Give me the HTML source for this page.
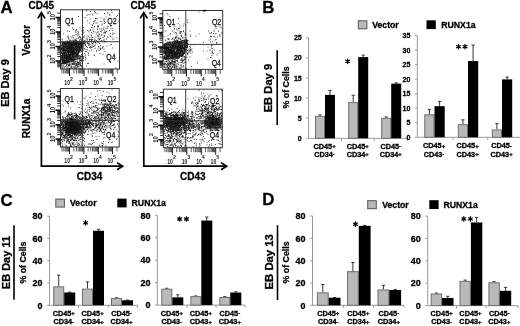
<!DOCTYPE html>
<html><head><meta charset="utf-8"><style>
html,body{margin:0;padding:0;background:#fff;width:520px;height:326px;overflow:hidden}
svg{display:block;font-family:"Liberation Sans", sans-serif;will-change:transform}
</style></head><body>
<svg width="520" height="326" viewBox="0 0 520 326" font-family='"Liberation Sans", sans-serif'>
<rect width="520" height="326" fill="#fff"/>
<text x="0.6" y="13.4" font-size="16.8" font-weight="bold" text-anchor="start" fill="#000" stroke="#000" stroke-width="0.28" >A</text>
<text x="262.3" y="13.4" font-size="16.8" font-weight="bold" text-anchor="start" fill="#000" stroke="#000" stroke-width="0.28" >B</text>
<text x="0.6" y="205.5" font-size="16.8" font-weight="bold" text-anchor="start" fill="#000" stroke="#000" stroke-width="0.28" >C</text>
<text x="262.3" y="204.6" font-size="16.8" font-weight="bold" text-anchor="start" fill="#000" stroke="#000" stroke-width="0.28" >D</text>
<text x="28.6" y="9.0" font-size="10" font-weight="bold" text-anchor="start" fill="#000" stroke="#000" stroke-width="0.28" >CD45</text>
<text x="130.6" y="9.0" font-size="10" font-weight="bold" text-anchor="start" fill="#000" stroke="#000" stroke-width="0.28" >CD45</text>
<text x="89.6" y="180.2" font-size="10" font-weight="bold" text-anchor="middle" fill="#000" stroke="#000" stroke-width="0.28" >CD34</text>
<text x="192.8" y="180.2" font-size="10" font-weight="bold" text-anchor="middle" fill="#000" stroke="#000" stroke-width="0.28" >CD43</text>
<text transform="translate(9.3,83.0) rotate(-90)" font-size="11" font-weight="bold" text-anchor="middle" fill="#000" stroke="#000" stroke-width="0.28">EB Day 9</text>
<text transform="translate(29.6,40.2) rotate(-90)" font-size="10" font-weight="bold" text-anchor="middle" fill="#000" stroke="#000" stroke-width="0.28">Vector</text>
<text transform="translate(30.2,118.5) rotate(-90)" font-size="10" font-weight="bold" text-anchor="middle" fill="#000" stroke="#000" stroke-width="0.28">RUNX1a</text>
<line x1="14.6" y1="45.2" x2="14.6" y2="119.4" stroke="#000" stroke-width="1.6" />
<path d="M41.4 12.4 L41.4 166.2 L123.0 166.2" fill="none" stroke="#000" stroke-width="1.7"/>
<path d="M37.8 18.4 L41.4 12.700000000000001 L45.0 18.4" fill="none" stroke="#000" stroke-width="1.7"/>
<path d="M117.0 162.6 L122.7 166.2 L117.0 169.79999999999998" fill="none" stroke="#000" stroke-width="1.7"/>
<path d="M143.8 12.4 L143.8 166.2 L227.0 166.2" fill="none" stroke="#000" stroke-width="1.7"/>
<path d="M140.20000000000002 18.4 L143.8 12.700000000000001 L147.4 18.4" fill="none" stroke="#000" stroke-width="1.7"/>
<path d="M221.0 162.6 L226.7 166.2 L221.0 169.79999999999998" fill="none" stroke="#000" stroke-width="1.7"/>
<filter id="bl" x="-5%" y="-5%" width="110%" height="110%"><feGaussianBlur stdDeviation="0.35"/></filter>
<clipPath id="c1"><rect x="60.5" y="9.8" width="59.0" height="59.2"/></clipPath>
<g clip-path="url(#c1)"><g filter="url(#bl)">
<path d="M56 37h1.0v1.0h-1.0zM57.5 50.5h1.0v1.0h-1.0zM57.5 53h1.0v1.0h-1.0zM58 43.5h1.0v1.0h-1.0zM59 49.5h1.0v1.0h-1.0zM59.5 51.5h1.0v1.0h-1.0zM60 49h1.0v1.0h-1.0zM60 57.5h1.0v1.0h-1.0zM61 48h1.0v1.0h-1.0zM61 55h1.0v1.0h-1.0zM61 63h1.0v1.0h-1.0zM61 65h1.0v1.0h-1.0zM61.5 43h1.0v1.0h-1.0zM61.5 45h1.0v1.0h-1.0zM61.5 47h1.0v1.0h-1.0zM61.5 47.5h1.0v1.0h-1.0zM61.5 48h1.0v1.0h-1.0zM61.5 49.5h1.0v1.0h-1.0zM61.5 52h1.0v1.0h-1.0zM61.5 53.5h1.0v1.0h-1.0zM61.5 55.5h1.0v1.0h-1.0zM61.5 56h1.0v1.0h-1.0zM61.5 56.5h1.0v1.0h-1.0zM61.5 57h1.0v1.0h-1.0zM61.5 57.5h1.0v1.0h-1.0zM61.5 58.5h1.0v1.0h-1.0zM61.5 59.5h1.0v1.0h-1.0zM61.5 61h1.0v1.0h-1.0zM61.5 67.5h1.0v1.0h-1.0zM62 39.5h1.0v1.0h-1.0zM62 43h1.0v1.0h-1.0zM62 43.5h1.0v1.0h-1.0zM62 44.5h1.0v1.0h-1.0zM62 48h1.0v1.0h-1.0zM62 49.5h1.0v1.0h-1.0zM62 50h1.0v1.0h-1.0zM62 51h1.0v1.0h-1.0zM62 52.5h1.0v1.0h-1.0zM62 53h1.0v1.0h-1.0zM62 54.5h1.0v1.0h-1.0zM62 57.5h1.0v1.0h-1.0zM62 58h1.0v1.0h-1.0zM62 61.5h1.0v1.0h-1.0zM62 68h1.0v1.0h-1.0zM62.5 41.5h1.0v1.0h-1.0zM62.5 42.5h1.0v1.0h-1.0zM62.5 44h1.0v1.0h-1.0zM62.5 46h1.0v1.0h-1.0zM62.5 48h1.0v1.0h-1.0zM62.5 49h1.0v1.0h-1.0zM62.5 49.5h1.0v1.0h-1.0zM62.5 51h1.0v1.0h-1.0zM62.5 55h1.0v1.0h-1.0zM62.5 57h1.0v1.0h-1.0zM62.5 59h1.0v1.0h-1.0zM62.5 60.5h1.0v1.0h-1.0zM62.5 61h1.0v1.0h-1.0zM62.5 62.5h1.0v1.0h-1.0zM63 33.5h1.0v1.0h-1.0zM63 45.5h1.0v1.0h-1.0zM63 46.5h1.0v1.0h-1.0zM63 47h1.0v1.0h-1.0zM63 47.5h1.0v1.0h-1.0zM63 48.5h1.0v1.0h-1.0zM63 50h1.0v1.0h-1.0zM63 51h1.0v1.0h-1.0zM63 51.5h1.0v1.0h-1.0zM63 53.5h1.0v1.0h-1.0zM63 59h1.0v1.0h-1.0zM63 59.5h1.0v1.0h-1.0zM63 64.5h1.0v1.0h-1.0zM63 65h1.0v1.0h-1.0zM63.5 42h1.0v1.0h-1.0zM63.5 46.5h1.0v1.0h-1.0zM63.5 49h1.0v1.0h-1.0zM63.5 49.5h1.0v1.0h-1.0zM63.5 50h1.0v1.0h-1.0zM63.5 52.5h1.0v1.0h-1.0zM63.5 55h1.0v1.0h-1.0zM63.5 55.5h1.0v1.0h-1.0zM63.5 60.5h1.0v1.0h-1.0zM63.5 62h1.0v1.0h-1.0zM63.5 63h1.0v1.0h-1.0zM63.5 66h1.0v1.0h-1.0zM63.5 67h1.0v1.0h-1.0zM64 43h1.0v1.0h-1.0zM64 43.5h1.0v1.0h-1.0zM64 46h1.0v1.0h-1.0zM64 49h1.0v1.0h-1.0zM64 50h1.0v1.0h-1.0zM64 51.5h1.0v1.0h-1.0zM64 52h1.0v1.0h-1.0zM64 54h1.0v1.0h-1.0zM64 54.5h1.0v1.0h-1.0zM64 56h1.0v1.0h-1.0zM64 56.5h1.0v1.0h-1.0zM64 60h1.0v1.0h-1.0zM64 61.5h1.0v1.0h-1.0zM64 63h1.0v1.0h-1.0zM64 67.5h1.0v1.0h-1.0zM64.5 44h1.0v1.0h-1.0zM64.5 45.5h1.0v1.0h-1.0zM64.5 48.5h1.0v1.0h-1.0zM64.5 51.5h1.0v1.0h-1.0zM64.5 53h1.0v1.0h-1.0zM64.5 58.5h1.0v1.0h-1.0zM64.5 59.5h1.0v1.0h-1.0zM64.5 60h1.0v1.0h-1.0zM64.5 60.5h1.0v1.0h-1.0zM64.5 61.5h1.0v1.0h-1.0zM65 41.5h1.0v1.0h-1.0zM65 44h1.0v1.0h-1.0zM65 46h1.0v1.0h-1.0zM65 46.5h1.0v1.0h-1.0zM65 47h1.0v1.0h-1.0zM65 49h1.0v1.0h-1.0zM65 49.5h1.0v1.0h-1.0zM65 50h1.0v1.0h-1.0zM65 51.5h1.0v1.0h-1.0zM65 52h1.0v1.0h-1.0zM65 52.5h1.0v1.0h-1.0zM65 53h1.0v1.0h-1.0zM65 54h1.0v1.0h-1.0zM65 56.5h1.0v1.0h-1.0zM65 60.5h1.0v1.0h-1.0zM65 62h1.0v1.0h-1.0zM65 63h1.0v1.0h-1.0zM65 66h1.0v1.0h-1.0zM65.5 41.5h1.0v1.0h-1.0zM65.5 43h1.0v1.0h-1.0zM65.5 45h1.0v1.0h-1.0zM65.5 46h1.0v1.0h-1.0zM65.5 46.5h1.0v1.0h-1.0zM65.5 48.5h1.0v1.0h-1.0zM65.5 49h1.0v1.0h-1.0zM65.5 49.5h1.0v1.0h-1.0zM65.5 52h1.0v1.0h-1.0zM65.5 52.5h1.0v1.0h-1.0zM65.5 55.5h1.0v1.0h-1.0zM65.5 56h1.0v1.0h-1.0zM65.5 56.5h1.0v1.0h-1.0zM65.5 57h1.0v1.0h-1.0zM65.5 59.5h1.0v1.0h-1.0zM65.5 60.5h1.0v1.0h-1.0zM65.5 61.5h1.0v1.0h-1.0zM65.5 62h1.0v1.0h-1.0zM66 42h1.0v1.0h-1.0zM66 43.5h1.0v1.0h-1.0zM66 44h1.0v1.0h-1.0zM66 45.5h1.0v1.0h-1.0zM66 46h1.0v1.0h-1.0zM66 48.5h1.0v1.0h-1.0zM66 50.5h1.0v1.0h-1.0zM66 51h1.0v1.0h-1.0zM66 53.5h1.0v1.0h-1.0zM66 54.5h1.0v1.0h-1.0zM66 55h1.0v1.0h-1.0zM66 56.5h1.0v1.0h-1.0zM66 58.5h1.0v1.0h-1.0zM66 60h1.0v1.0h-1.0zM66.5 46.5h1.0v1.0h-1.0zM66.5 51h1.0v1.0h-1.0zM66.5 54h1.0v1.0h-1.0zM66.5 56h1.0v1.0h-1.0zM66.5 56.5h1.0v1.0h-1.0zM66.5 58h1.0v1.0h-1.0zM66.5 61.5h1.0v1.0h-1.0zM66.5 64h1.0v1.0h-1.0zM66.5 67.5h1.0v1.0h-1.0zM67 36.5h1.0v1.0h-1.0zM67 40.5h1.0v1.0h-1.0zM67 42.5h1.0v1.0h-1.0zM67 45.5h1.0v1.0h-1.0zM67 46.5h1.0v1.0h-1.0zM67 47.5h1.0v1.0h-1.0zM67 48h1.0v1.0h-1.0zM67 49h1.0v1.0h-1.0zM67 49.5h1.0v1.0h-1.0zM67 50h1.0v1.0h-1.0zM67 55h1.0v1.0h-1.0zM67 60.5h1.0v1.0h-1.0zM67.5 42h1.0v1.0h-1.0zM67.5 45.5h1.0v1.0h-1.0zM67.5 46h1.0v1.0h-1.0zM67.5 47h1.0v1.0h-1.0zM67.5 48h1.0v1.0h-1.0zM67.5 49.5h1.0v1.0h-1.0zM67.5 50.5h1.0v1.0h-1.0zM67.5 52h1.0v1.0h-1.0zM67.5 54.5h1.0v1.0h-1.0zM67.5 56h1.0v1.0h-1.0zM67.5 58.5h1.0v1.0h-1.0zM67.5 59.5h1.0v1.0h-1.0zM67.5 62h1.0v1.0h-1.0zM68 36.5h1.0v1.0h-1.0zM68 43h1.0v1.0h-1.0zM68 46h1.0v1.0h-1.0zM68 47h1.0v1.0h-1.0zM68 50h1.0v1.0h-1.0zM68 51h1.0v1.0h-1.0zM68 52h1.0v1.0h-1.0zM68 52.5h1.0v1.0h-1.0zM68 53h1.0v1.0h-1.0zM68 54.5h1.0v1.0h-1.0zM68 55h1.0v1.0h-1.0zM68 56.5h1.0v1.0h-1.0zM68 60h1.0v1.0h-1.0zM68 60.5h1.0v1.0h-1.0zM68 61h1.0v1.0h-1.0zM68 65h1.0v1.0h-1.0zM68.5 41.5h1.0v1.0h-1.0zM68.5 42h1.0v1.0h-1.0zM68.5 42.5h1.0v1.0h-1.0zM68.5 43.5h1.0v1.0h-1.0zM68.5 44h1.0v1.0h-1.0zM68.5 46h1.0v1.0h-1.0zM68.5 46.5h1.0v1.0h-1.0zM68.5 47h1.0v1.0h-1.0zM68.5 48h1.0v1.0h-1.0zM68.5 48.5h1.0v1.0h-1.0zM68.5 49h1.0v1.0h-1.0zM68.5 51h1.0v1.0h-1.0zM68.5 51.5h1.0v1.0h-1.0zM68.5 52h1.0v1.0h-1.0zM68.5 52.5h1.0v1.0h-1.0zM68.5 54h1.0v1.0h-1.0zM68.5 56h1.0v1.0h-1.0zM68.5 57h1.0v1.0h-1.0zM68.5 63.5h1.0v1.0h-1.0zM68.5 64h1.0v1.0h-1.0zM68.5 68.5h1.0v1.0h-1.0zM69 41.5h1.0v1.0h-1.0zM69 43.5h1.0v1.0h-1.0zM69 45.5h1.0v1.0h-1.0zM69 47h1.0v1.0h-1.0zM69 47.5h1.0v1.0h-1.0zM69 48h1.0v1.0h-1.0zM69 48.5h1.0v1.0h-1.0zM69 56h1.0v1.0h-1.0zM69 56.5h1.0v1.0h-1.0zM69 57h1.0v1.0h-1.0zM69 59h1.0v1.0h-1.0zM69 61h1.0v1.0h-1.0zM69 62.5h1.0v1.0h-1.0zM69.5 43h1.0v1.0h-1.0zM69.5 44.5h1.0v1.0h-1.0zM69.5 45.5h1.0v1.0h-1.0zM69.5 46h1.0v1.0h-1.0zM69.5 46.5h1.0v1.0h-1.0zM69.5 47h1.0v1.0h-1.0zM69.5 48.5h1.0v1.0h-1.0zM69.5 49h1.0v1.0h-1.0zM69.5 49.5h1.0v1.0h-1.0zM69.5 53.5h1.0v1.0h-1.0zM69.5 54.5h1.0v1.0h-1.0zM69.5 55h1.0v1.0h-1.0zM69.5 56h1.0v1.0h-1.0zM69.5 57h1.0v1.0h-1.0zM69.5 58h1.0v1.0h-1.0zM69.5 61h1.0v1.0h-1.0zM70 42.5h1.0v1.0h-1.0zM70 43.5h1.0v1.0h-1.0zM70 44h1.0v1.0h-1.0zM70 44.5h1.0v1.0h-1.0zM70 45h1.0v1.0h-1.0zM70 49h1.0v1.0h-1.0zM70 52.5h1.0v1.0h-1.0zM70 53h1.0v1.0h-1.0zM70 54h1.0v1.0h-1.0zM70 57.5h1.0v1.0h-1.0zM70 58.5h1.0v1.0h-1.0zM70 59h1.0v1.0h-1.0zM70 60.5h1.0v1.0h-1.0zM70 61h1.0v1.0h-1.0zM70 61.5h1.0v1.0h-1.0zM70.5 36.5h1.0v1.0h-1.0zM70.5 40h1.0v1.0h-1.0zM70.5 42.5h1.0v1.0h-1.0zM70.5 44h1.0v1.0h-1.0zM70.5 45h1.0v1.0h-1.0zM70.5 45.5h1.0v1.0h-1.0zM70.5 47h1.0v1.0h-1.0zM70.5 47.5h1.0v1.0h-1.0zM70.5 48.5h1.0v1.0h-1.0zM70.5 50.5h1.0v1.0h-1.0zM70.5 52.5h1.0v1.0h-1.0zM70.5 53h1.0v1.0h-1.0zM70.5 54h1.0v1.0h-1.0zM70.5 54.5h1.0v1.0h-1.0zM70.5 57h1.0v1.0h-1.0zM70.5 60h1.0v1.0h-1.0zM70.5 60.5h1.0v1.0h-1.0zM71 41.5h1.0v1.0h-1.0zM71 43.5h1.0v1.0h-1.0zM71 45h1.0v1.0h-1.0zM71 46h1.0v1.0h-1.0zM71 46.5h1.0v1.0h-1.0zM71 47h1.0v1.0h-1.0zM71 48.5h1.0v1.0h-1.0zM71 49h1.0v1.0h-1.0zM71 50h1.0v1.0h-1.0zM71 52h1.0v1.0h-1.0zM71 53h1.0v1.0h-1.0zM71 56h1.0v1.0h-1.0zM71 57.5h1.0v1.0h-1.0zM71 59h1.0v1.0h-1.0zM71 59.5h1.0v1.0h-1.0zM71 64.5h1.0v1.0h-1.0zM71.5 37.5h1.0v1.0h-1.0zM71.5 42h1.0v1.0h-1.0zM71.5 42.5h1.0v1.0h-1.0zM71.5 44.5h1.0v1.0h-1.0zM71.5 47h1.0v1.0h-1.0zM71.5 47.5h1.0v1.0h-1.0zM71.5 49.5h1.0v1.0h-1.0zM71.5 50h1.0v1.0h-1.0zM71.5 51h1.0v1.0h-1.0zM71.5 53.5h1.0v1.0h-1.0zM71.5 55.5h1.0v1.0h-1.0zM71.5 56.5h1.0v1.0h-1.0zM71.5 57.5h1.0v1.0h-1.0zM71.5 58h1.0v1.0h-1.0zM71.5 59h1.0v1.0h-1.0zM71.5 59.5h1.0v1.0h-1.0zM71.5 61.5h1.0v1.0h-1.0zM71.5 62h1.0v1.0h-1.0zM71.5 63h1.0v1.0h-1.0zM71.5 66h1.0v1.0h-1.0zM71.5 68.5h1.0v1.0h-1.0zM72 27.5h1.0v1.0h-1.0zM72 40.5h1.0v1.0h-1.0zM72 43.5h1.0v1.0h-1.0zM72 44.5h1.0v1.0h-1.0zM72 45.5h1.0v1.0h-1.0zM72 47.5h1.0v1.0h-1.0zM72 49h1.0v1.0h-1.0zM72 50.5h1.0v1.0h-1.0zM72 52h1.0v1.0h-1.0zM72 52.5h1.0v1.0h-1.0zM72 54h1.0v1.0h-1.0zM72 55.5h1.0v1.0h-1.0zM72 56h1.0v1.0h-1.0zM72 56.5h1.0v1.0h-1.0zM72 57.5h1.0v1.0h-1.0zM72 59.5h1.0v1.0h-1.0zM72 60h1.0v1.0h-1.0zM72 68.5h1.0v1.0h-1.0zM72.5 42.5h1.0v1.0h-1.0zM72.5 44h1.0v1.0h-1.0zM72.5 44.5h1.0v1.0h-1.0zM72.5 46.5h1.0v1.0h-1.0zM72.5 47h1.0v1.0h-1.0zM72.5 47.5h1.0v1.0h-1.0zM72.5 48h1.0v1.0h-1.0zM72.5 48.5h1.0v1.0h-1.0zM72.5 49.5h1.0v1.0h-1.0zM72.5 52.5h1.0v1.0h-1.0zM72.5 53.5h1.0v1.0h-1.0zM72.5 54.5h1.0v1.0h-1.0zM72.5 59.5h1.0v1.0h-1.0zM72.5 60.5h1.0v1.0h-1.0zM72.5 63h1.0v1.0h-1.0zM73 29h1.0v1.0h-1.0zM73 40h1.0v1.0h-1.0zM73 40.5h1.0v1.0h-1.0zM73 42.5h1.0v1.0h-1.0zM73 43h1.0v1.0h-1.0zM73 44.5h1.0v1.0h-1.0zM73 45h1.0v1.0h-1.0zM73 46.5h1.0v1.0h-1.0zM73 48.5h1.0v1.0h-1.0zM73 50h1.0v1.0h-1.0zM73 51.5h1.0v1.0h-1.0zM73 52h1.0v1.0h-1.0zM73 52.5h1.0v1.0h-1.0zM73 53.5h1.0v1.0h-1.0zM73 54h1.0v1.0h-1.0zM73 57.5h1.0v1.0h-1.0zM73 60h1.0v1.0h-1.0zM73 62.5h1.0v1.0h-1.0zM73 63h1.0v1.0h-1.0zM73.5 41.5h1.0v1.0h-1.0zM73.5 42.5h1.0v1.0h-1.0zM73.5 43h1.0v1.0h-1.0zM73.5 43.5h1.0v1.0h-1.0zM73.5 46.5h1.0v1.0h-1.0zM73.5 48h1.0v1.0h-1.0zM73.5 50h1.0v1.0h-1.0zM73.5 50.5h1.0v1.0h-1.0zM73.5 51.5h1.0v1.0h-1.0zM73.5 53h1.0v1.0h-1.0zM73.5 53.5h1.0v1.0h-1.0zM73.5 55.5h1.0v1.0h-1.0zM73.5 56.5h1.0v1.0h-1.0zM73.5 57h1.0v1.0h-1.0zM73.5 59h1.0v1.0h-1.0zM73.5 62h1.0v1.0h-1.0zM73.5 66.5h1.0v1.0h-1.0zM74 40.5h1.0v1.0h-1.0zM74 41.5h1.0v1.0h-1.0zM74 44h1.0v1.0h-1.0zM74 51h1.0v1.0h-1.0zM74 51.5h1.0v1.0h-1.0zM74 52h1.0v1.0h-1.0zM74 53.5h1.0v1.0h-1.0zM74 54h1.0v1.0h-1.0zM74 55.5h1.0v1.0h-1.0zM74 56h1.0v1.0h-1.0zM74 60.5h1.0v1.0h-1.0zM74 62h1.0v1.0h-1.0zM74.5 43h1.0v1.0h-1.0zM74.5 44.5h1.0v1.0h-1.0zM74.5 45h1.0v1.0h-1.0zM74.5 46h1.0v1.0h-1.0zM74.5 48.5h1.0v1.0h-1.0zM74.5 49h1.0v1.0h-1.0zM74.5 50.5h1.0v1.0h-1.0zM74.5 53h1.0v1.0h-1.0zM74.5 54h1.0v1.0h-1.0zM74.5 58.5h1.0v1.0h-1.0zM74.5 59h1.0v1.0h-1.0zM75 39.5h1.0v1.0h-1.0zM75 40h1.0v1.0h-1.0zM75 41h1.0v1.0h-1.0zM75 43.5h1.0v1.0h-1.0zM75 44h1.0v1.0h-1.0zM75 44.5h1.0v1.0h-1.0zM75 45.5h1.0v1.0h-1.0zM75 46h1.0v1.0h-1.0zM75 49h1.0v1.0h-1.0zM75 49.5h1.0v1.0h-1.0zM75 52h1.0v1.0h-1.0zM75 68h1.0v1.0h-1.0zM75.5 31.5h1.0v1.0h-1.0zM75.5 39h1.0v1.0h-1.0zM75.5 40.5h1.0v1.0h-1.0zM75.5 42h1.0v1.0h-1.0zM75.5 43.5h1.0v1.0h-1.0zM75.5 44.5h1.0v1.0h-1.0zM75.5 45h1.0v1.0h-1.0zM75.5 47h1.0v1.0h-1.0zM75.5 47.5h1.0v1.0h-1.0zM75.5 49.5h1.0v1.0h-1.0zM75.5 52.5h1.0v1.0h-1.0zM75.5 55.5h1.0v1.0h-1.0zM75.5 56h1.0v1.0h-1.0zM75.5 65h1.0v1.0h-1.0zM75.5 68.5h1.0v1.0h-1.0zM76 41.5h1.0v1.0h-1.0zM76 42.5h1.0v1.0h-1.0zM76 44h1.0v1.0h-1.0zM76 46h1.0v1.0h-1.0zM76 46.5h1.0v1.0h-1.0zM76 48.5h1.0v1.0h-1.0zM76 51.5h1.0v1.0h-1.0zM76 54h1.0v1.0h-1.0zM76 55h1.0v1.0h-1.0zM76 56h1.0v1.0h-1.0zM76 57h1.0v1.0h-1.0zM76 63h1.0v1.0h-1.0zM76 68h1.0v1.0h-1.0zM76 68.5h1.0v1.0h-1.0zM76.5 42h1.0v1.0h-1.0zM76.5 43h1.0v1.0h-1.0zM76.5 43.5h1.0v1.0h-1.0zM76.5 44h1.0v1.0h-1.0zM76.5 45h1.0v1.0h-1.0zM76.5 46h1.0v1.0h-1.0zM76.5 47.5h1.0v1.0h-1.0zM76.5 48.5h1.0v1.0h-1.0zM76.5 49.5h1.0v1.0h-1.0zM76.5 50h1.0v1.0h-1.0zM76.5 54h1.0v1.0h-1.0zM76.5 54.5h1.0v1.0h-1.0zM76.5 55h1.0v1.0h-1.0zM76.5 58.5h1.0v1.0h-1.0zM76.5 63h1.0v1.0h-1.0zM77 42.5h1.0v1.0h-1.0zM77 48h1.0v1.0h-1.0zM77 48.5h1.0v1.0h-1.0zM77 49h1.0v1.0h-1.0zM77 49.5h1.0v1.0h-1.0zM77 50h1.0v1.0h-1.0zM77 50.5h1.0v1.0h-1.0zM77 53.5h1.0v1.0h-1.0zM77 54.5h1.0v1.0h-1.0zM77 56.5h1.0v1.0h-1.0zM77 59.5h1.0v1.0h-1.0zM77 61.5h1.0v1.0h-1.0zM77.5 41h1.0v1.0h-1.0zM77.5 45h1.0v1.0h-1.0zM77.5 47h1.0v1.0h-1.0zM77.5 50h1.0v1.0h-1.0zM77.5 50.5h1.0v1.0h-1.0zM77.5 53h1.0v1.0h-1.0zM77.5 66.5h1.0v1.0h-1.0zM78 37.5h1.0v1.0h-1.0zM78 42h1.0v1.0h-1.0zM78 44h1.0v1.0h-1.0zM78 46h1.0v1.0h-1.0zM78 47.5h1.0v1.0h-1.0zM78 48h1.0v1.0h-1.0zM78 49.5h1.0v1.0h-1.0zM78 51h1.0v1.0h-1.0zM78 52h1.0v1.0h-1.0zM78 53h1.0v1.0h-1.0zM78 63.5h1.0v1.0h-1.0zM78.5 43.5h1.0v1.0h-1.0zM78.5 44h1.0v1.0h-1.0zM78.5 45.5h1.0v1.0h-1.0zM78.5 46h1.0v1.0h-1.0zM78.5 48h1.0v1.0h-1.0zM78.5 48.5h1.0v1.0h-1.0zM78.5 49.5h1.0v1.0h-1.0zM78.5 50h1.0v1.0h-1.0zM78.5 52h1.0v1.0h-1.0zM78.5 56h1.0v1.0h-1.0zM78.5 56.5h1.0v1.0h-1.0zM78.5 58h1.0v1.0h-1.0zM78.5 62h1.0v1.0h-1.0zM78.5 64h1.0v1.0h-1.0zM78.5 64.5h1.0v1.0h-1.0zM79 36h1.0v1.0h-1.0zM79 42.5h1.0v1.0h-1.0zM79 47h1.0v1.0h-1.0zM79 48h1.0v1.0h-1.0zM79 50h1.0v1.0h-1.0zM79 50.5h1.0v1.0h-1.0zM79 51h1.0v1.0h-1.0zM79 57.5h1.0v1.0h-1.0zM79 59.5h1.0v1.0h-1.0zM79.5 27.5h1.0v1.0h-1.0zM79.5 41.5h1.0v1.0h-1.0zM79.5 42h1.0v1.0h-1.0zM79.5 42.5h1.0v1.0h-1.0zM79.5 43h1.0v1.0h-1.0zM79.5 44h1.0v1.0h-1.0zM79.5 49.5h1.0v1.0h-1.0zM79.5 50h1.0v1.0h-1.0zM79.5 55.5h1.0v1.0h-1.0zM79.5 58h1.0v1.0h-1.0zM79.5 60h1.0v1.0h-1.0zM80 37.5h1.0v1.0h-1.0zM80 39h1.0v1.0h-1.0zM80 42h1.0v1.0h-1.0zM80 42.5h1.0v1.0h-1.0zM80 43h1.0v1.0h-1.0zM80 45h1.0v1.0h-1.0zM80 47h1.0v1.0h-1.0zM80 47.5h1.0v1.0h-1.0zM80 49.5h1.0v1.0h-1.0zM80 64h1.0v1.0h-1.0zM80.5 37.5h1.0v1.0h-1.0zM80.5 41.5h1.0v1.0h-1.0zM80.5 43.5h1.0v1.0h-1.0zM80.5 44.5h1.0v1.0h-1.0zM80.5 46.5h1.0v1.0h-1.0zM80.5 49h1.0v1.0h-1.0zM80.5 58h1.0v1.0h-1.0zM80.5 60h1.0v1.0h-1.0zM81 40.5h1.0v1.0h-1.0zM81 42h1.0v1.0h-1.0zM81 44h1.0v1.0h-1.0zM81 44.5h1.0v1.0h-1.0zM81 45h1.0v1.0h-1.0zM81 45.5h1.0v1.0h-1.0zM81 47.5h1.0v1.0h-1.0zM81 50h1.0v1.0h-1.0zM81 51h1.0v1.0h-1.0zM81 54h1.0v1.0h-1.0zM81 65h1.0v1.0h-1.0zM81.5 39h1.0v1.0h-1.0zM81.5 42h1.0v1.0h-1.0zM81.5 44h1.0v1.0h-1.0zM81.5 44.5h1.0v1.0h-1.0zM81.5 46h1.0v1.0h-1.0zM81.5 48h1.0v1.0h-1.0zM81.5 63h1.0v1.0h-1.0zM82 37.5h1.0v1.0h-1.0zM82 43h1.0v1.0h-1.0zM82 52.5h1.0v1.0h-1.0zM82 59h1.0v1.0h-1.0zM82 63.5h1.0v1.0h-1.0zM82.5 29.5h1.0v1.0h-1.0zM82.5 42.5h1.0v1.0h-1.0zM82.5 57h1.0v1.0h-1.0zM83 56h1.0v1.0h-1.0zM83.5 31.5h1.0v1.0h-1.0zM83.5 37h1.0v1.0h-1.0zM83.5 40.5h1.0v1.0h-1.0zM83.5 43h1.0v1.0h-1.0zM83.5 43.5h1.0v1.0h-1.0zM83.5 45.5h1.0v1.0h-1.0zM84 41.5h1.0v1.0h-1.0zM84 48h1.0v1.0h-1.0zM84 48.5h1.0v1.0h-1.0zM84.5 17h1.0v1.0h-1.0zM84.5 40h1.0v1.0h-1.0zM84.5 55.5h1.0v1.0h-1.0zM85 42h1.0v1.0h-1.0zM85 42.5h1.0v1.0h-1.0zM85 44h1.0v1.0h-1.0zM86 46h1.0v1.0h-1.0zM86 51h1.0v1.0h-1.0zM86.5 41.5h1.0v1.0h-1.0zM87 39.5h1.0v1.0h-1.0zM87 43h1.0v1.0h-1.0zM87.5 14h1.0v1.0h-1.0zM87.5 42.5h1.0v1.0h-1.0zM88 36h1.0v1.0h-1.0zM88 41h1.0v1.0h-1.0zM88 43h1.0v1.0h-1.0zM88 44.5h1.0v1.0h-1.0zM88.5 41h1.0v1.0h-1.0zM88.5 43h1.0v1.0h-1.0zM89 39.5h1.0v1.0h-1.0zM89.5 14h1.0v1.0h-1.0zM89.5 40.5h1.0v1.0h-1.0zM89.5 46.5h1.0v1.0h-1.0zM90 29h1.0v1.0h-1.0zM90 47.5h1.0v1.0h-1.0zM91 32h1.0v1.0h-1.0zM91 42.5h1.0v1.0h-1.0zM91 47h1.0v1.0h-1.0zM92 25h1.0v1.0h-1.0zM92 37h1.0v1.0h-1.0zM92.5 13.5h1.0v1.0h-1.0zM92.5 32.5h1.0v1.0h-1.0zM92.5 39.5h1.0v1.0h-1.0zM92.5 43h1.0v1.0h-1.0zM92.5 44h1.0v1.0h-1.0zM93 21h1.0v1.0h-1.0zM93 23h1.0v1.0h-1.0zM93 42h1.0v1.0h-1.0zM93.5 21.5h1.0v1.0h-1.0zM93.5 27.5h1.0v1.0h-1.0zM93.5 46h1.0v1.0h-1.0zM94 40h1.0v1.0h-1.0zM94 41h1.0v1.0h-1.0zM94.5 20.5h1.0v1.0h-1.0zM94.5 31.5h1.0v1.0h-1.0zM95 18h1.0v1.0h-1.0zM95 44.5h1.0v1.0h-1.0zM96 40h1.0v1.0h-1.0zM96 50.5h1.0v1.0h-1.0zM97 18.5h1.0v1.0h-1.0zM97.5 26h1.0v1.0h-1.0zM98 36.5h1.0v1.0h-1.0zM99.5 46.5h1.0v1.0h-1.0zM99.5 53h1.0v1.0h-1.0zM100 45h1.0v1.0h-1.0zM100 48.5h1.0v1.0h-1.0zM100.5 28.5h1.0v1.0h-1.0zM100.5 48h1.0v1.0h-1.0zM101.5 23.5h1.0v1.0h-1.0zM101.5 40h1.0v1.0h-1.0zM101.5 40.5h1.0v1.0h-1.0zM102.5 53.5h1.0v1.0h-1.0zM103 32.5h1.0v1.0h-1.0zM103 39.5h1.0v1.0h-1.0zM103.5 19h1.0v1.0h-1.0zM103.5 22.5h1.0v1.0h-1.0zM103.5 42.5h1.0v1.0h-1.0zM103.5 48.5h1.0v1.0h-1.0zM104 13h1.0v1.0h-1.0zM104 23h1.0v1.0h-1.0zM104 35h1.0v1.0h-1.0zM104.5 32.5h1.0v1.0h-1.0zM105 22h1.0v1.0h-1.0zM105.5 41.5h1.0v1.0h-1.0zM106.5 28h1.0v1.0h-1.0zM107.5 12.5h1.0v1.0h-1.0zM107.5 36.5h1.0v1.0h-1.0zM108 26h1.0v1.0h-1.0zM109 30h1.0v1.0h-1.0zM110 33h1.0v1.0h-1.0zM110 36h1.0v1.0h-1.0zM110.5 25.5h1.0v1.0h-1.0zM111 44h1.0v1.0h-1.0zM112 34h1.0v1.0h-1.0zM113.5 33h1.0v1.0h-1.0zM118.5 13.5h1.0v1.0h-1.0zM119 28h1.0v1.0h-1.0z" fill="#000" fill-opacity="0.64"/>
<path d="M57 43h1.0v1.0h-1.0zM57.5 38.5h1.0v1.0h-1.0zM58.5 48.5h1.0v1.0h-1.0zM60 46.5h1.0v1.0h-1.0zM60.5 44h1.0v1.0h-1.0zM60.5 49h1.0v1.0h-1.0zM60.5 50h1.0v1.0h-1.0zM61 41.5h1.0v1.0h-1.0zM61 48h1.0v1.0h-1.0zM61 48.5h1.0v1.0h-1.0zM61 49h1.0v1.0h-1.0zM61 51h1.0v1.0h-1.0zM61 52h1.0v1.0h-1.0zM61 58h1.0v1.0h-1.0zM61 59.5h1.0v1.0h-1.0zM61.5 46h1.0v1.0h-1.0zM61.5 55h1.0v1.0h-1.0zM61.5 56.5h1.0v1.0h-1.0zM61.5 58.5h1.0v1.0h-1.0zM61.5 60h1.0v1.0h-1.0zM61.5 61h1.0v1.0h-1.0zM61.5 62h1.0v1.0h-1.0zM62 42h1.0v1.0h-1.0zM62 42.5h1.0v1.0h-1.0zM62 44.5h1.0v1.0h-1.0zM62 46.5h1.0v1.0h-1.0zM62 50h1.0v1.0h-1.0zM62 53.5h1.0v1.0h-1.0zM62 54h1.0v1.0h-1.0zM62 55.5h1.0v1.0h-1.0zM62 56h1.0v1.0h-1.0zM62 57.5h1.0v1.0h-1.0zM62 60.5h1.0v1.0h-1.0zM62 63h1.0v1.0h-1.0zM62 68.5h1.0v1.0h-1.0zM62.5 41.5h1.0v1.0h-1.0zM62.5 42h1.0v1.0h-1.0zM62.5 44h1.0v1.0h-1.0zM62.5 46h1.0v1.0h-1.0zM62.5 47h1.0v1.0h-1.0zM62.5 47.5h1.0v1.0h-1.0zM62.5 50h1.0v1.0h-1.0zM62.5 52.5h1.0v1.0h-1.0zM62.5 58h1.0v1.0h-1.0zM62.5 58.5h1.0v1.0h-1.0zM62.5 59.5h1.0v1.0h-1.0zM62.5 60.5h1.0v1.0h-1.0zM62.5 61h1.0v1.0h-1.0zM62.5 61.5h1.0v1.0h-1.0zM62.5 63h1.0v1.0h-1.0zM63 42h1.0v1.0h-1.0zM63 45.5h1.0v1.0h-1.0zM63 46h1.0v1.0h-1.0zM63 46.5h1.0v1.0h-1.0zM63 49h1.0v1.0h-1.0zM63 50h1.0v1.0h-1.0zM63 53.5h1.0v1.0h-1.0zM63 54.5h1.0v1.0h-1.0zM63 56h1.0v1.0h-1.0zM63 58.5h1.0v1.0h-1.0zM63 61.5h1.0v1.0h-1.0zM63 62.5h1.0v1.0h-1.0zM63 63h1.0v1.0h-1.0zM63.5 42.5h1.0v1.0h-1.0zM63.5 45.5h1.0v1.0h-1.0zM63.5 47.5h1.0v1.0h-1.0zM63.5 50h1.0v1.0h-1.0zM63.5 51.5h1.0v1.0h-1.0zM63.5 53h1.0v1.0h-1.0zM63.5 54h1.0v1.0h-1.0zM63.5 56h1.0v1.0h-1.0zM63.5 58.5h1.0v1.0h-1.0zM63.5 59.5h1.0v1.0h-1.0zM63.5 60.5h1.0v1.0h-1.0zM63.5 63h1.0v1.0h-1.0zM64 42h1.0v1.0h-1.0zM64 43.5h1.0v1.0h-1.0zM64 46h1.0v1.0h-1.0zM64 46.5h1.0v1.0h-1.0zM64 47h1.0v1.0h-1.0zM64 47.5h1.0v1.0h-1.0zM64 48h1.0v1.0h-1.0zM64 48.5h1.0v1.0h-1.0zM64 50h1.0v1.0h-1.0zM64 51.5h1.0v1.0h-1.0zM64 52h1.0v1.0h-1.0zM64 53h1.0v1.0h-1.0zM64 53.5h1.0v1.0h-1.0zM64 54.5h1.0v1.0h-1.0zM64 55.5h1.0v1.0h-1.0zM64 57h1.0v1.0h-1.0zM64 58.5h1.0v1.0h-1.0zM64 60.5h1.0v1.0h-1.0zM64 61h1.0v1.0h-1.0zM64 62h1.0v1.0h-1.0zM64 62.5h1.0v1.0h-1.0zM64.5 43h1.0v1.0h-1.0zM64.5 47h1.0v1.0h-1.0zM64.5 47.5h1.0v1.0h-1.0zM64.5 50h1.0v1.0h-1.0zM64.5 50.5h1.0v1.0h-1.0zM64.5 52h1.0v1.0h-1.0zM64.5 56.5h1.0v1.0h-1.0zM64.5 57.5h1.0v1.0h-1.0zM64.5 59.5h1.0v1.0h-1.0zM64.5 60h1.0v1.0h-1.0zM64.5 60.5h1.0v1.0h-1.0zM64.5 62h1.0v1.0h-1.0zM65 42.5h1.0v1.0h-1.0zM65 43.5h1.0v1.0h-1.0zM65 44.5h1.0v1.0h-1.0zM65 45h1.0v1.0h-1.0zM65 50.5h1.0v1.0h-1.0zM65 51h1.0v1.0h-1.0zM65 55h1.0v1.0h-1.0zM65 57.5h1.0v1.0h-1.0zM65 58h1.0v1.0h-1.0zM65 59.5h1.0v1.0h-1.0zM65 60.5h1.0v1.0h-1.0zM65.5 42h1.0v1.0h-1.0zM65.5 42.5h1.0v1.0h-1.0zM65.5 44.5h1.0v1.0h-1.0zM65.5 45.5h1.0v1.0h-1.0zM65.5 46h1.0v1.0h-1.0zM65.5 48h1.0v1.0h-1.0zM65.5 48.5h1.0v1.0h-1.0zM65.5 49.5h1.0v1.0h-1.0zM65.5 50h1.0v1.0h-1.0zM65.5 53.5h1.0v1.0h-1.0zM65.5 55h1.0v1.0h-1.0zM65.5 56h1.0v1.0h-1.0zM65.5 56.5h1.0v1.0h-1.0zM65.5 57h1.0v1.0h-1.0zM65.5 57.5h1.0v1.0h-1.0zM65.5 59h1.0v1.0h-1.0zM65.5 60.5h1.0v1.0h-1.0zM65.5 62h1.0v1.0h-1.0zM65.5 63h1.0v1.0h-1.0zM65.5 63.5h1.0v1.0h-1.0zM66 43h1.0v1.0h-1.0zM66 43.5h1.0v1.0h-1.0zM66 45h1.0v1.0h-1.0zM66 48h1.0v1.0h-1.0zM66 50.5h1.0v1.0h-1.0zM66 52.5h1.0v1.0h-1.0zM66 57.5h1.0v1.0h-1.0zM66 58h1.0v1.0h-1.0zM66 59h1.0v1.0h-1.0zM66 60h1.0v1.0h-1.0zM66 60.5h1.0v1.0h-1.0zM66 62.5h1.0v1.0h-1.0zM66 64h1.0v1.0h-1.0zM66 65h1.0v1.0h-1.0zM66.5 42.5h1.0v1.0h-1.0zM66.5 43h1.0v1.0h-1.0zM66.5 44h1.0v1.0h-1.0zM66.5 45.5h1.0v1.0h-1.0zM66.5 46.5h1.0v1.0h-1.0zM66.5 50h1.0v1.0h-1.0zM66.5 50.5h1.0v1.0h-1.0zM66.5 56h1.0v1.0h-1.0zM66.5 57h1.0v1.0h-1.0zM66.5 58h1.0v1.0h-1.0zM66.5 61h1.0v1.0h-1.0zM66.5 61.5h1.0v1.0h-1.0zM66.5 62h1.0v1.0h-1.0zM67 41h1.0v1.0h-1.0zM67 41.5h1.0v1.0h-1.0zM67 42.5h1.0v1.0h-1.0zM67 43.5h1.0v1.0h-1.0zM67 45h1.0v1.0h-1.0zM67 45.5h1.0v1.0h-1.0zM67 48h1.0v1.0h-1.0zM67 50h1.0v1.0h-1.0zM67 50.5h1.0v1.0h-1.0zM67 51h1.0v1.0h-1.0zM67 52h1.0v1.0h-1.0zM67 55h1.0v1.0h-1.0zM67 57h1.0v1.0h-1.0zM67 60.5h1.0v1.0h-1.0zM67 61.5h1.0v1.0h-1.0zM67 62h1.0v1.0h-1.0zM67 62.5h1.0v1.0h-1.0zM67.5 35.5h1.0v1.0h-1.0zM67.5 42h1.0v1.0h-1.0zM67.5 44.5h1.0v1.0h-1.0zM67.5 49.5h1.0v1.0h-1.0zM67.5 51.5h1.0v1.0h-1.0zM67.5 52h1.0v1.0h-1.0zM67.5 53.5h1.0v1.0h-1.0zM67.5 58h1.0v1.0h-1.0zM67.5 59h1.0v1.0h-1.0zM67.5 60h1.0v1.0h-1.0zM67.5 60.5h1.0v1.0h-1.0zM67.5 61h1.0v1.0h-1.0zM67.5 65.5h1.0v1.0h-1.0zM67.5 68h1.0v1.0h-1.0zM68 37.5h1.0v1.0h-1.0zM68 38h1.0v1.0h-1.0zM68 41h1.0v1.0h-1.0zM68 43.5h1.0v1.0h-1.0zM68 46.5h1.0v1.0h-1.0zM68 47h1.0v1.0h-1.0zM68 48h1.0v1.0h-1.0zM68 49.5h1.0v1.0h-1.0zM68 50.5h1.0v1.0h-1.0zM68 51h1.0v1.0h-1.0zM68 52.5h1.0v1.0h-1.0zM68 56h1.0v1.0h-1.0zM68 56.5h1.0v1.0h-1.0zM68 61h1.0v1.0h-1.0zM68 62h1.0v1.0h-1.0zM68.5 39h1.0v1.0h-1.0zM68.5 41.5h1.0v1.0h-1.0zM68.5 42h1.0v1.0h-1.0zM68.5 42.5h1.0v1.0h-1.0zM68.5 43.5h1.0v1.0h-1.0zM68.5 45h1.0v1.0h-1.0zM68.5 45.5h1.0v1.0h-1.0zM68.5 46h1.0v1.0h-1.0zM68.5 47h1.0v1.0h-1.0zM68.5 47.5h1.0v1.0h-1.0zM68.5 48h1.0v1.0h-1.0zM68.5 49.5h1.0v1.0h-1.0zM68.5 50h1.0v1.0h-1.0zM68.5 50.5h1.0v1.0h-1.0zM68.5 51h1.0v1.0h-1.0zM68.5 51.5h1.0v1.0h-1.0zM68.5 52.5h1.0v1.0h-1.0zM68.5 53.5h1.0v1.0h-1.0zM68.5 54.5h1.0v1.0h-1.0zM68.5 56h1.0v1.0h-1.0zM68.5 58h1.0v1.0h-1.0zM68.5 59h1.0v1.0h-1.0zM68.5 59.5h1.0v1.0h-1.0zM68.5 62h1.0v1.0h-1.0zM69 42h1.0v1.0h-1.0zM69 48h1.0v1.0h-1.0zM69 49.5h1.0v1.0h-1.0zM69 51h1.0v1.0h-1.0zM69 54h1.0v1.0h-1.0zM69 54.5h1.0v1.0h-1.0zM69 55.5h1.0v1.0h-1.0zM69 56.5h1.0v1.0h-1.0zM69 57h1.0v1.0h-1.0zM69 57.5h1.0v1.0h-1.0zM69 61h1.0v1.0h-1.0zM69 64.5h1.0v1.0h-1.0zM69 65.5h1.0v1.0h-1.0zM69.5 41h1.0v1.0h-1.0zM69.5 42h1.0v1.0h-1.0zM69.5 42.5h1.0v1.0h-1.0zM69.5 43h1.0v1.0h-1.0zM69.5 43.5h1.0v1.0h-1.0zM69.5 44h1.0v1.0h-1.0zM69.5 46.5h1.0v1.0h-1.0zM69.5 51.5h1.0v1.0h-1.0zM69.5 56h1.0v1.0h-1.0zM69.5 57.5h1.0v1.0h-1.0zM69.5 58h1.0v1.0h-1.0zM69.5 58.5h1.0v1.0h-1.0zM70 39.5h1.0v1.0h-1.0zM70 46h1.0v1.0h-1.0zM70 46.5h1.0v1.0h-1.0zM70 48h1.0v1.0h-1.0zM70 49h1.0v1.0h-1.0zM70 49.5h1.0v1.0h-1.0zM70 50h1.0v1.0h-1.0zM70 53.5h1.0v1.0h-1.0zM70 54h1.0v1.0h-1.0zM70 54.5h1.0v1.0h-1.0zM70 57.5h1.0v1.0h-1.0zM70 58h1.0v1.0h-1.0zM70 68.5h1.0v1.0h-1.0zM70.5 41.5h1.0v1.0h-1.0zM70.5 42h1.0v1.0h-1.0zM70.5 42.5h1.0v1.0h-1.0zM70.5 44h1.0v1.0h-1.0zM70.5 45h1.0v1.0h-1.0zM70.5 46h1.0v1.0h-1.0zM70.5 48h1.0v1.0h-1.0zM70.5 48.5h1.0v1.0h-1.0zM70.5 50h1.0v1.0h-1.0zM70.5 50.5h1.0v1.0h-1.0zM70.5 51.5h1.0v1.0h-1.0zM70.5 55h1.0v1.0h-1.0zM70.5 60h1.0v1.0h-1.0zM70.5 60.5h1.0v1.0h-1.0zM70.5 67h1.0v1.0h-1.0zM71 45.5h1.0v1.0h-1.0zM71 48.5h1.0v1.0h-1.0zM71 49h1.0v1.0h-1.0zM71 49.5h1.0v1.0h-1.0zM71 50.5h1.0v1.0h-1.0zM71 51h1.0v1.0h-1.0zM71 52h1.0v1.0h-1.0zM71 52.5h1.0v1.0h-1.0zM71 57.5h1.0v1.0h-1.0zM71 59h1.0v1.0h-1.0zM71 61h1.0v1.0h-1.0zM71 66.5h1.0v1.0h-1.0zM71.5 42h1.0v1.0h-1.0zM71.5 42.5h1.0v1.0h-1.0zM71.5 43.5h1.0v1.0h-1.0zM71.5 44.5h1.0v1.0h-1.0zM71.5 45.5h1.0v1.0h-1.0zM71.5 47h1.0v1.0h-1.0zM71.5 47.5h1.0v1.0h-1.0zM71.5 49h1.0v1.0h-1.0zM71.5 50h1.0v1.0h-1.0zM71.5 50.5h1.0v1.0h-1.0zM71.5 51h1.0v1.0h-1.0zM71.5 52.5h1.0v1.0h-1.0zM71.5 54h1.0v1.0h-1.0zM71.5 55.5h1.0v1.0h-1.0zM71.5 60.5h1.0v1.0h-1.0zM71.5 61h1.0v1.0h-1.0zM71.5 67h1.0v1.0h-1.0zM71.5 68h1.0v1.0h-1.0zM72 35.5h1.0v1.0h-1.0zM72 43h1.0v1.0h-1.0zM72 44h1.0v1.0h-1.0zM72 45.5h1.0v1.0h-1.0zM72 46h1.0v1.0h-1.0zM72 46.5h1.0v1.0h-1.0zM72 47h1.0v1.0h-1.0zM72 52.5h1.0v1.0h-1.0zM72 53h1.0v1.0h-1.0zM72 53.5h1.0v1.0h-1.0zM72 54h1.0v1.0h-1.0zM72 54.5h1.0v1.0h-1.0zM72 55.5h1.0v1.0h-1.0zM72 59h1.0v1.0h-1.0zM72 64h1.0v1.0h-1.0zM72.5 42h1.0v1.0h-1.0zM72.5 42.5h1.0v1.0h-1.0zM72.5 43h1.0v1.0h-1.0zM72.5 45.5h1.0v1.0h-1.0zM72.5 46.5h1.0v1.0h-1.0zM72.5 50.5h1.0v1.0h-1.0zM72.5 52.5h1.0v1.0h-1.0zM72.5 54.5h1.0v1.0h-1.0zM72.5 56.5h1.0v1.0h-1.0zM72.5 57h1.0v1.0h-1.0zM72.5 59.5h1.0v1.0h-1.0zM72.5 60.5h1.0v1.0h-1.0zM72.5 63.5h1.0v1.0h-1.0zM73 42.5h1.0v1.0h-1.0zM73 43h1.0v1.0h-1.0zM73 47.5h1.0v1.0h-1.0zM73 49.5h1.0v1.0h-1.0zM73 50h1.0v1.0h-1.0zM73 51.5h1.0v1.0h-1.0zM73 52h1.0v1.0h-1.0zM73 54h1.0v1.0h-1.0zM73 59.5h1.0v1.0h-1.0zM73.5 35h1.0v1.0h-1.0zM73.5 41h1.0v1.0h-1.0zM73.5 43h1.0v1.0h-1.0zM73.5 47h1.0v1.0h-1.0zM73.5 47.5h1.0v1.0h-1.0zM73.5 48.5h1.0v1.0h-1.0zM73.5 49h1.0v1.0h-1.0zM73.5 51h1.0v1.0h-1.0zM73.5 52h1.0v1.0h-1.0zM73.5 52.5h1.0v1.0h-1.0zM73.5 54.5h1.0v1.0h-1.0zM73.5 55.5h1.0v1.0h-1.0zM73.5 56.5h1.0v1.0h-1.0zM73.5 59.5h1.0v1.0h-1.0zM73.5 60.5h1.0v1.0h-1.0zM73.5 64h1.0v1.0h-1.0zM73.5 65.5h1.0v1.0h-1.0zM73.5 66.5h1.0v1.0h-1.0zM73.5 69h1.0v1.0h-1.0zM74 42h1.0v1.0h-1.0zM74 43.5h1.0v1.0h-1.0zM74 44.5h1.0v1.0h-1.0zM74 45.5h1.0v1.0h-1.0zM74 47h1.0v1.0h-1.0zM74 47.5h1.0v1.0h-1.0zM74 48h1.0v1.0h-1.0zM74 48.5h1.0v1.0h-1.0zM74 51h1.0v1.0h-1.0zM74 51.5h1.0v1.0h-1.0zM74 52h1.0v1.0h-1.0zM74 53h1.0v1.0h-1.0zM74 53.5h1.0v1.0h-1.0zM74 55h1.0v1.0h-1.0zM74 58.5h1.0v1.0h-1.0zM74 59.5h1.0v1.0h-1.0zM74 63h1.0v1.0h-1.0zM74 64h1.0v1.0h-1.0zM74 68.5h1.0v1.0h-1.0zM74.5 38.5h1.0v1.0h-1.0zM74.5 39.5h1.0v1.0h-1.0zM74.5 41.5h1.0v1.0h-1.0zM74.5 43h1.0v1.0h-1.0zM74.5 45.5h1.0v1.0h-1.0zM74.5 46.5h1.0v1.0h-1.0zM74.5 47h1.0v1.0h-1.0zM74.5 48.5h1.0v1.0h-1.0zM74.5 53h1.0v1.0h-1.0zM74.5 56h1.0v1.0h-1.0zM74.5 58h1.0v1.0h-1.0zM74.5 59h1.0v1.0h-1.0zM74.5 59.5h1.0v1.0h-1.0zM74.5 63.5h1.0v1.0h-1.0zM75 31.5h1.0v1.0h-1.0zM75 43h1.0v1.0h-1.0zM75 43.5h1.0v1.0h-1.0zM75 44h1.0v1.0h-1.0zM75 46.5h1.0v1.0h-1.0zM75 52h1.0v1.0h-1.0zM75 52.5h1.0v1.0h-1.0zM75 54.5h1.0v1.0h-1.0zM75 61h1.0v1.0h-1.0zM75 63.5h1.0v1.0h-1.0zM75 65.5h1.0v1.0h-1.0zM75.5 30h1.0v1.0h-1.0zM75.5 34h1.0v1.0h-1.0zM75.5 42h1.0v1.0h-1.0zM75.5 43h1.0v1.0h-1.0zM75.5 46.5h1.0v1.0h-1.0zM75.5 47.5h1.0v1.0h-1.0zM75.5 49.5h1.0v1.0h-1.0zM75.5 52.5h1.0v1.0h-1.0zM75.5 55.5h1.0v1.0h-1.0zM75.5 56h1.0v1.0h-1.0zM75.5 56.5h1.0v1.0h-1.0zM75.5 58.5h1.0v1.0h-1.0zM75.5 61.5h1.0v1.0h-1.0zM75.5 65h1.0v1.0h-1.0zM76 40h1.0v1.0h-1.0zM76 41.5h1.0v1.0h-1.0zM76 42.5h1.0v1.0h-1.0zM76 43.5h1.0v1.0h-1.0zM76 44.5h1.0v1.0h-1.0zM76 45.5h1.0v1.0h-1.0zM76 48.5h1.0v1.0h-1.0zM76 50.5h1.0v1.0h-1.0zM76 51.5h1.0v1.0h-1.0zM76 52h1.0v1.0h-1.0zM76 53h1.0v1.0h-1.0zM76 54h1.0v1.0h-1.0zM76 55.5h1.0v1.0h-1.0zM76 56h1.0v1.0h-1.0zM76 66.5h1.0v1.0h-1.0zM76.5 35.5h1.0v1.0h-1.0zM76.5 41h1.0v1.0h-1.0zM76.5 43.5h1.0v1.0h-1.0zM76.5 44.5h1.0v1.0h-1.0zM76.5 46h1.0v1.0h-1.0zM76.5 50.5h1.0v1.0h-1.0zM76.5 51h1.0v1.0h-1.0zM76.5 52h1.0v1.0h-1.0zM76.5 53h1.0v1.0h-1.0zM76.5 53.5h1.0v1.0h-1.0zM76.5 55h1.0v1.0h-1.0zM76.5 64.5h1.0v1.0h-1.0zM76.5 65h1.0v1.0h-1.0zM76.5 69h1.0v1.0h-1.0zM77 42h1.0v1.0h-1.0zM77 42.5h1.0v1.0h-1.0zM77 47h1.0v1.0h-1.0zM77 50h1.0v1.0h-1.0zM77 50.5h1.0v1.0h-1.0zM77 51h1.0v1.0h-1.0zM77 51.5h1.0v1.0h-1.0zM77 52.5h1.0v1.0h-1.0zM77 53.5h1.0v1.0h-1.0zM77 54.5h1.0v1.0h-1.0zM77 56h1.0v1.0h-1.0zM77 56.5h1.0v1.0h-1.0zM77 57.5h1.0v1.0h-1.0zM77 62h1.0v1.0h-1.0zM77 63.5h1.0v1.0h-1.0zM77 65.5h1.0v1.0h-1.0zM77 66.5h1.0v1.0h-1.0zM77.5 31h1.0v1.0h-1.0zM77.5 34h1.0v1.0h-1.0zM77.5 43h1.0v1.0h-1.0zM77.5 47h1.0v1.0h-1.0zM77.5 49.5h1.0v1.0h-1.0zM77.5 50h1.0v1.0h-1.0zM77.5 52h1.0v1.0h-1.0zM77.5 52.5h1.0v1.0h-1.0zM77.5 53.5h1.0v1.0h-1.0zM77.5 55h1.0v1.0h-1.0zM77.5 61.5h1.0v1.0h-1.0zM78 16h1.0v1.0h-1.0zM78 32h1.0v1.0h-1.0zM78 44h1.0v1.0h-1.0zM78 44.5h1.0v1.0h-1.0zM78 45h1.0v1.0h-1.0zM78 46h1.0v1.0h-1.0zM78 47h1.0v1.0h-1.0zM78 47.5h1.0v1.0h-1.0zM78 48h1.0v1.0h-1.0zM78 48.5h1.0v1.0h-1.0zM78 50.5h1.0v1.0h-1.0zM78 51h1.0v1.0h-1.0zM78 52h1.0v1.0h-1.0zM78 54.5h1.0v1.0h-1.0zM78 58.5h1.0v1.0h-1.0zM78 63.5h1.0v1.0h-1.0zM78 66h1.0v1.0h-1.0zM78.5 34.5h1.0v1.0h-1.0zM78.5 37.5h1.0v1.0h-1.0zM78.5 43h1.0v1.0h-1.0zM78.5 43.5h1.0v1.0h-1.0zM78.5 47.5h1.0v1.0h-1.0zM78.5 49.5h1.0v1.0h-1.0zM78.5 52h1.0v1.0h-1.0zM78.5 56.5h1.0v1.0h-1.0zM78.5 62.5h1.0v1.0h-1.0zM78.5 64.5h1.0v1.0h-1.0zM79 41.5h1.0v1.0h-1.0zM79 46.5h1.0v1.0h-1.0zM79 47h1.0v1.0h-1.0zM79 48.5h1.0v1.0h-1.0zM79 51h1.0v1.0h-1.0zM79.5 37h1.0v1.0h-1.0zM79.5 42h1.0v1.0h-1.0zM79.5 42.5h1.0v1.0h-1.0zM79.5 47h1.0v1.0h-1.0zM79.5 48.5h1.0v1.0h-1.0zM79.5 57h1.0v1.0h-1.0zM79.5 68h1.0v1.0h-1.0zM80 43h1.0v1.0h-1.0zM80 43.5h1.0v1.0h-1.0zM80 48.5h1.0v1.0h-1.0zM80 50h1.0v1.0h-1.0zM80 56.5h1.0v1.0h-1.0zM80 59.5h1.0v1.0h-1.0zM80 63.5h1.0v1.0h-1.0zM80 65h1.0v1.0h-1.0zM80 68h1.0v1.0h-1.0zM80.5 40.5h1.0v1.0h-1.0zM80.5 42.5h1.0v1.0h-1.0zM80.5 43.5h1.0v1.0h-1.0zM80.5 44h1.0v1.0h-1.0zM80.5 45h1.0v1.0h-1.0zM80.5 60.5h1.0v1.0h-1.0zM80.5 61h1.0v1.0h-1.0zM81 30.5h1.0v1.0h-1.0zM81 42h1.0v1.0h-1.0zM81 46h1.0v1.0h-1.0zM81 47h1.0v1.0h-1.0zM81 55.5h1.0v1.0h-1.0zM81 56.5h1.0v1.0h-1.0zM81 59.5h1.0v1.0h-1.0zM81 60h1.0v1.0h-1.0zM81 60.5h1.0v1.0h-1.0zM81.5 42h1.0v1.0h-1.0zM81.5 42.5h1.0v1.0h-1.0zM81.5 43.5h1.0v1.0h-1.0zM81.5 44.5h1.0v1.0h-1.0zM81.5 46.5h1.0v1.0h-1.0zM81.5 47h1.0v1.0h-1.0zM81.5 47.5h1.0v1.0h-1.0zM81.5 55.5h1.0v1.0h-1.0zM81.5 68h1.0v1.0h-1.0zM81.5 68.5h1.0v1.0h-1.0zM82 34.5h1.0v1.0h-1.0zM82 46h1.0v1.0h-1.0zM82 47.5h1.0v1.0h-1.0zM82 56.5h1.0v1.0h-1.0zM82 60.5h1.0v1.0h-1.0zM82 63.5h1.0v1.0h-1.0zM82.5 42h1.0v1.0h-1.0zM82.5 42.5h1.0v1.0h-1.0zM82.5 43.5h1.0v1.0h-1.0zM82.5 45.5h1.0v1.0h-1.0zM82.5 47.5h1.0v1.0h-1.0zM82.5 50h1.0v1.0h-1.0zM82.5 57h1.0v1.0h-1.0zM83 32.5h1.0v1.0h-1.0zM83 41.5h1.0v1.0h-1.0zM83 42.5h1.0v1.0h-1.0zM83 43h1.0v1.0h-1.0zM83.5 41h1.0v1.0h-1.0zM83.5 43h1.0v1.0h-1.0zM83.5 43.5h1.0v1.0h-1.0zM84 42.5h1.0v1.0h-1.0zM84 53h1.0v1.0h-1.0zM85 45h1.0v1.0h-1.0zM85 51h1.0v1.0h-1.0zM85 54.5h1.0v1.0h-1.0zM85 57h1.0v1.0h-1.0zM85.5 39.5h1.0v1.0h-1.0zM86 10.5h1.0v1.0h-1.0zM86 65.5h1.0v1.0h-1.0zM86.5 37.5h1.0v1.0h-1.0zM86.5 38.5h1.0v1.0h-1.0zM87 30h1.0v1.0h-1.0zM87 42h1.0v1.0h-1.0zM87 42.5h1.0v1.0h-1.0zM87 47h1.0v1.0h-1.0zM87 63h1.0v1.0h-1.0zM87.5 52.5h1.0v1.0h-1.0zM88.5 30.5h1.0v1.0h-1.0zM89 22.5h1.0v1.0h-1.0zM89 44.5h1.0v1.0h-1.0zM89 47h1.0v1.0h-1.0zM89.5 18.5h1.0v1.0h-1.0zM89.5 68.5h1.0v1.0h-1.0zM90 39h1.0v1.0h-1.0zM90 41h1.0v1.0h-1.0zM90 46h1.0v1.0h-1.0zM91 27h1.0v1.0h-1.0zM91 37.5h1.0v1.0h-1.0zM91.5 24h1.0v1.0h-1.0zM91.5 41.5h1.0v1.0h-1.0zM92 14.5h1.0v1.0h-1.0zM92 46.5h1.0v1.0h-1.0zM92.5 29.5h1.0v1.0h-1.0zM93 31h1.0v1.0h-1.0zM93 46h1.0v1.0h-1.0zM93.5 54.5h1.0v1.0h-1.0zM94 38.5h1.0v1.0h-1.0zM94.5 20h1.0v1.0h-1.0zM94.5 42h1.0v1.0h-1.0zM94.5 48h1.0v1.0h-1.0zM95 18h1.0v1.0h-1.0zM95 42h1.0v1.0h-1.0zM96.5 22.5h1.0v1.0h-1.0zM97 25.5h1.0v1.0h-1.0zM97.5 25h1.0v1.0h-1.0zM97.5 26.5h1.0v1.0h-1.0zM97.5 31h1.0v1.0h-1.0zM97.5 38.5h1.0v1.0h-1.0zM97.5 41.5h1.0v1.0h-1.0zM97.5 48.5h1.0v1.0h-1.0zM98 35.5h1.0v1.0h-1.0zM98 46.5h1.0v1.0h-1.0zM99 38.5h1.0v1.0h-1.0zM99 43h1.0v1.0h-1.0zM99.5 21h1.0v1.0h-1.0zM99.5 48h1.0v1.0h-1.0zM101 21h1.0v1.0h-1.0zM101 31.5h1.0v1.0h-1.0zM101 34.5h1.0v1.0h-1.0zM101 40h1.0v1.0h-1.0zM101 40.5h1.0v1.0h-1.0zM102 47h1.0v1.0h-1.0zM102 47.5h1.0v1.0h-1.0zM102.5 37h1.0v1.0h-1.0zM102.5 46.5h1.0v1.0h-1.0zM103 28.5h1.0v1.0h-1.0zM103.5 27h1.0v1.0h-1.0zM103.5 29.5h1.0v1.0h-1.0zM104 30.5h1.0v1.0h-1.0zM104 32h1.0v1.0h-1.0zM105.5 16.5h1.0v1.0h-1.0zM106 31h1.0v1.0h-1.0zM106.5 30.5h1.0v1.0h-1.0zM106.5 36.5h1.0v1.0h-1.0zM106.5 45.5h1.0v1.0h-1.0zM107 12.5h1.0v1.0h-1.0zM109.5 35.5h1.0v1.0h-1.0zM110.5 28h1.0v1.0h-1.0zM111 10h1.0v1.0h-1.0zM111.5 12h1.0v1.0h-1.0zM111.5 36.5h1.0v1.0h-1.0zM112 30h1.0v1.0h-1.0zM112.5 32.5h1.0v1.0h-1.0zM113 2h1.0v1.0h-1.0zM113.5 38.5h1.0v1.0h-1.0zM115.5 67.5h1.0v1.0h-1.0zM116 16h1.0v1.0h-1.0zM117.5 60.5h1.0v1.0h-1.0z" fill="#000" fill-opacity="0.64"/>
<path d="M52.5 49.5h1.0v1.0h-1.0zM53 45h1.0v1.0h-1.0zM55.5 47.5h1.0v1.0h-1.0zM57.5 43h1.0v1.0h-1.0zM58.5 47h1.0v1.0h-1.0zM59.5 51h1.0v1.0h-1.0zM60.5 48h1.0v1.0h-1.0zM60.5 48.5h1.0v1.0h-1.0zM61 44.5h1.0v1.0h-1.0zM61 45.5h1.0v1.0h-1.0zM61 53h1.0v1.0h-1.0zM61 55.5h1.0v1.0h-1.0zM61 56.5h1.0v1.0h-1.0zM61 63h1.0v1.0h-1.0zM61 64h1.0v1.0h-1.0zM61 66.5h1.0v1.0h-1.0zM61.5 38.5h1.0v1.0h-1.0zM61.5 47h1.0v1.0h-1.0zM61.5 47.5h1.0v1.0h-1.0zM61.5 48h1.0v1.0h-1.0zM61.5 49h1.0v1.0h-1.0zM61.5 49.5h1.0v1.0h-1.0zM61.5 53h1.0v1.0h-1.0zM61.5 54.5h1.0v1.0h-1.0zM61.5 55.5h1.0v1.0h-1.0zM61.5 57.5h1.0v1.0h-1.0zM61.5 58h1.0v1.0h-1.0zM61.5 59.5h1.0v1.0h-1.0zM61.5 63h1.0v1.0h-1.0zM61.5 65h1.0v1.0h-1.0zM61.5 67h1.0v1.0h-1.0zM62 44h1.0v1.0h-1.0zM62 46.5h1.0v1.0h-1.0zM62 53.5h1.0v1.0h-1.0zM62 56h1.0v1.0h-1.0zM62 58.5h1.0v1.0h-1.0zM62 62h1.0v1.0h-1.0zM62 63.5h1.0v1.0h-1.0zM62 66.5h1.0v1.0h-1.0zM62.5 42h1.0v1.0h-1.0zM62.5 43h1.0v1.0h-1.0zM62.5 45.5h1.0v1.0h-1.0zM62.5 48h1.0v1.0h-1.0zM62.5 50h1.0v1.0h-1.0zM62.5 50.5h1.0v1.0h-1.0zM62.5 52h1.0v1.0h-1.0zM62.5 52.5h1.0v1.0h-1.0zM62.5 53h1.0v1.0h-1.0zM62.5 57h1.0v1.0h-1.0zM62.5 58.5h1.0v1.0h-1.0zM62.5 62h1.0v1.0h-1.0zM62.5 62.5h1.0v1.0h-1.0zM63 43h1.0v1.0h-1.0zM63 44h1.0v1.0h-1.0zM63 44.5h1.0v1.0h-1.0zM63 47.5h1.0v1.0h-1.0zM63 48.5h1.0v1.0h-1.0zM63 56.5h1.0v1.0h-1.0zM63 58h1.0v1.0h-1.0zM63 60h1.0v1.0h-1.0zM63.5 42.5h1.0v1.0h-1.0zM63.5 44.5h1.0v1.0h-1.0zM63.5 45h1.0v1.0h-1.0zM63.5 48h1.0v1.0h-1.0zM63.5 49.5h1.0v1.0h-1.0zM63.5 50h1.0v1.0h-1.0zM63.5 52h1.0v1.0h-1.0zM63.5 55h1.0v1.0h-1.0zM63.5 56.5h1.0v1.0h-1.0zM63.5 57.5h1.0v1.0h-1.0zM63.5 59.5h1.0v1.0h-1.0zM63.5 63h1.0v1.0h-1.0zM64 42.5h1.0v1.0h-1.0zM64 43h1.0v1.0h-1.0zM64 43.5h1.0v1.0h-1.0zM64 46h1.0v1.0h-1.0zM64 46.5h1.0v1.0h-1.0zM64 48.5h1.0v1.0h-1.0zM64 49.5h1.0v1.0h-1.0zM64 53h1.0v1.0h-1.0zM64 56.5h1.0v1.0h-1.0zM64 57h1.0v1.0h-1.0zM64 57.5h1.0v1.0h-1.0zM64 58h1.0v1.0h-1.0zM64 59.5h1.0v1.0h-1.0zM64 60h1.0v1.0h-1.0zM64 61h1.0v1.0h-1.0zM64 63.5h1.0v1.0h-1.0zM64.5 42.5h1.0v1.0h-1.0zM64.5 43h1.0v1.0h-1.0zM64.5 45h1.0v1.0h-1.0zM64.5 45.5h1.0v1.0h-1.0zM64.5 47h1.0v1.0h-1.0zM64.5 49.5h1.0v1.0h-1.0zM64.5 52h1.0v1.0h-1.0zM64.5 55h1.0v1.0h-1.0zM64.5 55.5h1.0v1.0h-1.0zM64.5 56.5h1.0v1.0h-1.0zM64.5 57h1.0v1.0h-1.0zM64.5 57.5h1.0v1.0h-1.0zM64.5 62h1.0v1.0h-1.0zM65 44h1.0v1.0h-1.0zM65 46h1.0v1.0h-1.0zM65 46.5h1.0v1.0h-1.0zM65 49.5h1.0v1.0h-1.0zM65 51.5h1.0v1.0h-1.0zM65 54.5h1.0v1.0h-1.0zM65 55.5h1.0v1.0h-1.0zM65 60.5h1.0v1.0h-1.0zM65 61.5h1.0v1.0h-1.0zM65 62.5h1.0v1.0h-1.0zM65.5 40.5h1.0v1.0h-1.0zM65.5 41h1.0v1.0h-1.0zM65.5 42.5h1.0v1.0h-1.0zM65.5 43h1.0v1.0h-1.0zM65.5 44.5h1.0v1.0h-1.0zM65.5 48.5h1.0v1.0h-1.0zM65.5 49h1.0v1.0h-1.0zM65.5 51h1.0v1.0h-1.0zM65.5 51.5h1.0v1.0h-1.0zM65.5 53h1.0v1.0h-1.0zM65.5 54.5h1.0v1.0h-1.0zM65.5 55.5h1.0v1.0h-1.0zM65.5 57h1.0v1.0h-1.0zM65.5 57.5h1.0v1.0h-1.0zM65.5 58.5h1.0v1.0h-1.0zM65.5 60.5h1.0v1.0h-1.0zM65.5 63h1.0v1.0h-1.0zM66 46.5h1.0v1.0h-1.0zM66 47.5h1.0v1.0h-1.0zM66 54h1.0v1.0h-1.0zM66 55h1.0v1.0h-1.0zM66 57h1.0v1.0h-1.0zM66 58.5h1.0v1.0h-1.0zM66 59h1.0v1.0h-1.0zM66 61h1.0v1.0h-1.0zM66 63h1.0v1.0h-1.0zM66 65.5h1.0v1.0h-1.0zM66 69h1.0v1.0h-1.0zM66.5 42.5h1.0v1.0h-1.0zM66.5 44h1.0v1.0h-1.0zM66.5 46.5h1.0v1.0h-1.0zM66.5 47h1.0v1.0h-1.0zM66.5 48.5h1.0v1.0h-1.0zM66.5 52.5h1.0v1.0h-1.0zM66.5 54h1.0v1.0h-1.0zM66.5 57.5h1.0v1.0h-1.0zM66.5 58.5h1.0v1.0h-1.0zM66.5 59h1.0v1.0h-1.0zM66.5 60.5h1.0v1.0h-1.0zM66.5 62h1.0v1.0h-1.0zM66.5 67.5h1.0v1.0h-1.0zM67 30.5h1.0v1.0h-1.0zM67 42h1.0v1.0h-1.0zM67 43.5h1.0v1.0h-1.0zM67 46h1.0v1.0h-1.0zM67 46.5h1.0v1.0h-1.0zM67 47.5h1.0v1.0h-1.0zM67 49.5h1.0v1.0h-1.0zM67 50.5h1.0v1.0h-1.0zM67 52.5h1.0v1.0h-1.0zM67 54h1.0v1.0h-1.0zM67 54.5h1.0v1.0h-1.0zM67 56.5h1.0v1.0h-1.0zM67 57h1.0v1.0h-1.0zM67 57.5h1.0v1.0h-1.0zM67 58.5h1.0v1.0h-1.0zM67 59.5h1.0v1.0h-1.0zM67 61h1.0v1.0h-1.0zM67 61.5h1.0v1.0h-1.0zM67.5 42.5h1.0v1.0h-1.0zM67.5 46h1.0v1.0h-1.0zM67.5 47h1.0v1.0h-1.0zM67.5 47.5h1.0v1.0h-1.0zM67.5 49.5h1.0v1.0h-1.0zM67.5 50.5h1.0v1.0h-1.0zM67.5 51h1.0v1.0h-1.0zM67.5 52h1.0v1.0h-1.0zM67.5 53.5h1.0v1.0h-1.0zM67.5 56h1.0v1.0h-1.0zM67.5 59h1.0v1.0h-1.0zM67.5 61.5h1.0v1.0h-1.0zM67.5 62h1.0v1.0h-1.0zM67.5 63.5h1.0v1.0h-1.0zM67.5 66.5h1.0v1.0h-1.0zM68 42h1.0v1.0h-1.0zM68 44h1.0v1.0h-1.0zM68 44.5h1.0v1.0h-1.0zM68 45.5h1.0v1.0h-1.0zM68 47.5h1.0v1.0h-1.0zM68 48h1.0v1.0h-1.0zM68 50.5h1.0v1.0h-1.0zM68 51h1.0v1.0h-1.0zM68 52.5h1.0v1.0h-1.0zM68 53h1.0v1.0h-1.0zM68 53.5h1.0v1.0h-1.0zM68 54.5h1.0v1.0h-1.0zM68 55.5h1.0v1.0h-1.0zM68 56.5h1.0v1.0h-1.0zM68 57.5h1.0v1.0h-1.0zM68 58h1.0v1.0h-1.0zM68 59.5h1.0v1.0h-1.0zM68 61.5h1.0v1.0h-1.0zM68 64.5h1.0v1.0h-1.0zM68.5 42.5h1.0v1.0h-1.0zM68.5 45.5h1.0v1.0h-1.0zM68.5 48h1.0v1.0h-1.0zM68.5 48.5h1.0v1.0h-1.0zM68.5 50.5h1.0v1.0h-1.0zM68.5 52h1.0v1.0h-1.0zM68.5 55h1.0v1.0h-1.0zM68.5 57h1.0v1.0h-1.0zM68.5 60h1.0v1.0h-1.0zM68.5 65h1.0v1.0h-1.0zM69 31h1.0v1.0h-1.0zM69 40.5h1.0v1.0h-1.0zM69 42h1.0v1.0h-1.0zM69 42.5h1.0v1.0h-1.0zM69 43.5h1.0v1.0h-1.0zM69 46.5h1.0v1.0h-1.0zM69 47h1.0v1.0h-1.0zM69 49h1.0v1.0h-1.0zM69 49.5h1.0v1.0h-1.0zM69 50h1.0v1.0h-1.0zM69 51h1.0v1.0h-1.0zM69 51.5h1.0v1.0h-1.0zM69 54h1.0v1.0h-1.0zM69 54.5h1.0v1.0h-1.0zM69 56.5h1.0v1.0h-1.0zM69 58.5h1.0v1.0h-1.0zM69 59h1.0v1.0h-1.0zM69 60.5h1.0v1.0h-1.0zM69 64h1.0v1.0h-1.0zM69 68h1.0v1.0h-1.0zM69.5 40h1.0v1.0h-1.0zM69.5 42h1.0v1.0h-1.0zM69.5 43.5h1.0v1.0h-1.0zM69.5 44h1.0v1.0h-1.0zM69.5 45h1.0v1.0h-1.0zM69.5 47h1.0v1.0h-1.0zM69.5 47.5h1.0v1.0h-1.0zM69.5 49h1.0v1.0h-1.0zM69.5 50.5h1.0v1.0h-1.0zM69.5 52h1.0v1.0h-1.0zM69.5 56.5h1.0v1.0h-1.0zM69.5 59h1.0v1.0h-1.0zM69.5 59.5h1.0v1.0h-1.0zM69.5 62.5h1.0v1.0h-1.0zM69.5 64h1.0v1.0h-1.0zM70 43h1.0v1.0h-1.0zM70 46h1.0v1.0h-1.0zM70 47h1.0v1.0h-1.0zM70 47.5h1.0v1.0h-1.0zM70 49.5h1.0v1.0h-1.0zM70 50.5h1.0v1.0h-1.0zM70 52h1.0v1.0h-1.0zM70 53h1.0v1.0h-1.0zM70 54.5h1.0v1.0h-1.0zM70 55.5h1.0v1.0h-1.0zM70 56h1.0v1.0h-1.0zM70 56.5h1.0v1.0h-1.0zM70 57h1.0v1.0h-1.0zM70 57.5h1.0v1.0h-1.0zM70 58h1.0v1.0h-1.0zM70 59h1.0v1.0h-1.0zM70 60h1.0v1.0h-1.0zM70 68.5h1.0v1.0h-1.0zM70.5 45h1.0v1.0h-1.0zM70.5 46h1.0v1.0h-1.0zM70.5 46.5h1.0v1.0h-1.0zM70.5 47h1.0v1.0h-1.0zM70.5 47.5h1.0v1.0h-1.0zM70.5 51h1.0v1.0h-1.0zM70.5 52h1.0v1.0h-1.0zM70.5 52.5h1.0v1.0h-1.0zM70.5 54h1.0v1.0h-1.0zM70.5 54.5h1.0v1.0h-1.0zM70.5 57h1.0v1.0h-1.0zM70.5 57.5h1.0v1.0h-1.0zM70.5 58.5h1.0v1.0h-1.0zM70.5 59h1.0v1.0h-1.0zM70.5 63.5h1.0v1.0h-1.0zM70.5 65.5h1.0v1.0h-1.0zM70.5 66.5h1.0v1.0h-1.0zM71 43.5h1.0v1.0h-1.0zM71 45.5h1.0v1.0h-1.0zM71 46.5h1.0v1.0h-1.0zM71 47h1.0v1.0h-1.0zM71 49h1.0v1.0h-1.0zM71 51.5h1.0v1.0h-1.0zM71 52h1.0v1.0h-1.0zM71 53h1.0v1.0h-1.0zM71 54h1.0v1.0h-1.0zM71 54.5h1.0v1.0h-1.0zM71 59h1.0v1.0h-1.0zM71 59.5h1.0v1.0h-1.0zM71.5 41.5h1.0v1.0h-1.0zM71.5 44.5h1.0v1.0h-1.0zM71.5 47.5h1.0v1.0h-1.0zM71.5 48h1.0v1.0h-1.0zM71.5 49.5h1.0v1.0h-1.0zM71.5 50h1.0v1.0h-1.0zM71.5 50.5h1.0v1.0h-1.0zM71.5 51h1.0v1.0h-1.0zM71.5 51.5h1.0v1.0h-1.0zM71.5 52h1.0v1.0h-1.0zM71.5 52.5h1.0v1.0h-1.0zM71.5 55.5h1.0v1.0h-1.0zM71.5 57.5h1.0v1.0h-1.0zM71.5 58h1.0v1.0h-1.0zM71.5 58.5h1.0v1.0h-1.0zM71.5 60.5h1.0v1.0h-1.0zM71.5 69h1.0v1.0h-1.0zM72 44h1.0v1.0h-1.0zM72 46.5h1.0v1.0h-1.0zM72 47.5h1.0v1.0h-1.0zM72 49.5h1.0v1.0h-1.0zM72 50h1.0v1.0h-1.0zM72 50.5h1.0v1.0h-1.0zM72 51h1.0v1.0h-1.0zM72 51.5h1.0v1.0h-1.0zM72 53h1.0v1.0h-1.0zM72 54h1.0v1.0h-1.0zM72 55.5h1.0v1.0h-1.0zM72 56.5h1.0v1.0h-1.0zM72 58h1.0v1.0h-1.0zM72 58.5h1.0v1.0h-1.0zM72 59h1.0v1.0h-1.0zM72 60.5h1.0v1.0h-1.0zM72 63.5h1.0v1.0h-1.0zM72.5 39.5h1.0v1.0h-1.0zM72.5 44h1.0v1.0h-1.0zM72.5 45.5h1.0v1.0h-1.0zM72.5 46h1.0v1.0h-1.0zM72.5 46.5h1.0v1.0h-1.0zM72.5 48.5h1.0v1.0h-1.0zM72.5 50.5h1.0v1.0h-1.0zM72.5 51h1.0v1.0h-1.0zM72.5 52.5h1.0v1.0h-1.0zM72.5 55h1.0v1.0h-1.0zM72.5 56h1.0v1.0h-1.0zM72.5 56.5h1.0v1.0h-1.0zM72.5 58h1.0v1.0h-1.0zM72.5 59h1.0v1.0h-1.0zM72.5 60h1.0v1.0h-1.0zM72.5 64h1.0v1.0h-1.0zM73 37.5h1.0v1.0h-1.0zM73 41.5h1.0v1.0h-1.0zM73 42.5h1.0v1.0h-1.0zM73 43h1.0v1.0h-1.0zM73 44h1.0v1.0h-1.0zM73 44.5h1.0v1.0h-1.0zM73 45h1.0v1.0h-1.0zM73 45.5h1.0v1.0h-1.0zM73 47.5h1.0v1.0h-1.0zM73 48h1.0v1.0h-1.0zM73 48.5h1.0v1.0h-1.0zM73 49.5h1.0v1.0h-1.0zM73 50h1.0v1.0h-1.0zM73 50.5h1.0v1.0h-1.0zM73 51h1.0v1.0h-1.0zM73 51.5h1.0v1.0h-1.0zM73 52.5h1.0v1.0h-1.0zM73 53h1.0v1.0h-1.0zM73 54h1.0v1.0h-1.0zM73 56h1.0v1.0h-1.0zM73 56.5h1.0v1.0h-1.0zM73 57h1.0v1.0h-1.0zM73 57.5h1.0v1.0h-1.0zM73 58.5h1.0v1.0h-1.0zM73 59h1.0v1.0h-1.0zM73 60h1.0v1.0h-1.0zM73 60.5h1.0v1.0h-1.0zM73.5 44h1.0v1.0h-1.0zM73.5 45h1.0v1.0h-1.0zM73.5 48h1.0v1.0h-1.0zM73.5 48.5h1.0v1.0h-1.0zM73.5 49.5h1.0v1.0h-1.0zM73.5 50h1.0v1.0h-1.0zM73.5 51h1.0v1.0h-1.0zM73.5 54h1.0v1.0h-1.0zM73.5 55.5h1.0v1.0h-1.0zM73.5 59.5h1.0v1.0h-1.0zM73.5 63.5h1.0v1.0h-1.0zM73.5 67.5h1.0v1.0h-1.0zM74 43.5h1.0v1.0h-1.0zM74 45h1.0v1.0h-1.0zM74 47.5h1.0v1.0h-1.0zM74 48h1.0v1.0h-1.0zM74 48.5h1.0v1.0h-1.0zM74 49h1.0v1.0h-1.0zM74 50h1.0v1.0h-1.0zM74 51.5h1.0v1.0h-1.0zM74 52h1.0v1.0h-1.0zM74 58h1.0v1.0h-1.0zM74 58.5h1.0v1.0h-1.0zM74 67.5h1.0v1.0h-1.0zM74.5 40.5h1.0v1.0h-1.0zM74.5 42.5h1.0v1.0h-1.0zM74.5 43.5h1.0v1.0h-1.0zM74.5 44h1.0v1.0h-1.0zM74.5 47.5h1.0v1.0h-1.0zM74.5 49h1.0v1.0h-1.0zM74.5 50h1.0v1.0h-1.0zM74.5 51.5h1.0v1.0h-1.0zM74.5 52h1.0v1.0h-1.0zM74.5 52.5h1.0v1.0h-1.0zM74.5 57h1.0v1.0h-1.0zM74.5 57.5h1.0v1.0h-1.0zM74.5 59h1.0v1.0h-1.0zM74.5 61.5h1.0v1.0h-1.0zM74.5 68.5h1.0v1.0h-1.0zM75 42h1.0v1.0h-1.0zM75 42.5h1.0v1.0h-1.0zM75 46h1.0v1.0h-1.0zM75 47.5h1.0v1.0h-1.0zM75 48.5h1.0v1.0h-1.0zM75 50h1.0v1.0h-1.0zM75 51.5h1.0v1.0h-1.0zM75 52.5h1.0v1.0h-1.0zM75 55.5h1.0v1.0h-1.0zM75 66.5h1.0v1.0h-1.0zM75.5 45h1.0v1.0h-1.0zM75.5 45.5h1.0v1.0h-1.0zM75.5 47h1.0v1.0h-1.0zM75.5 48.5h1.0v1.0h-1.0zM75.5 49h1.0v1.0h-1.0zM75.5 49.5h1.0v1.0h-1.0zM75.5 50.5h1.0v1.0h-1.0zM75.5 53h1.0v1.0h-1.0zM75.5 53.5h1.0v1.0h-1.0zM75.5 55h1.0v1.0h-1.0zM75.5 57h1.0v1.0h-1.0zM75.5 60.5h1.0v1.0h-1.0zM75.5 62.5h1.0v1.0h-1.0zM75.5 63.5h1.0v1.0h-1.0zM75.5 64.5h1.0v1.0h-1.0zM75.5 67h1.0v1.0h-1.0zM76 29h1.0v1.0h-1.0zM76 41h1.0v1.0h-1.0zM76 42h1.0v1.0h-1.0zM76 43.5h1.0v1.0h-1.0zM76 48h1.0v1.0h-1.0zM76 49.5h1.0v1.0h-1.0zM76 50.5h1.0v1.0h-1.0zM76 51h1.0v1.0h-1.0zM76 51.5h1.0v1.0h-1.0zM76 52h1.0v1.0h-1.0zM76 53h1.0v1.0h-1.0zM76 53.5h1.0v1.0h-1.0zM76 54h1.0v1.0h-1.0zM76 55h1.0v1.0h-1.0zM76 55.5h1.0v1.0h-1.0zM76 59h1.0v1.0h-1.0zM76 63.5h1.0v1.0h-1.0zM76 64h1.0v1.0h-1.0zM76.5 38h1.0v1.0h-1.0zM76.5 40.5h1.0v1.0h-1.0zM76.5 43.5h1.0v1.0h-1.0zM76.5 44.5h1.0v1.0h-1.0zM76.5 46h1.0v1.0h-1.0zM76.5 53h1.0v1.0h-1.0zM76.5 58h1.0v1.0h-1.0zM76.5 64h1.0v1.0h-1.0zM77 41.5h1.0v1.0h-1.0zM77 43.5h1.0v1.0h-1.0zM77 47.5h1.0v1.0h-1.0zM77 49h1.0v1.0h-1.0zM77 50h1.0v1.0h-1.0zM77 52.5h1.0v1.0h-1.0zM77 53h1.0v1.0h-1.0zM77 53.5h1.0v1.0h-1.0zM77 61.5h1.0v1.0h-1.0zM77.5 33h1.0v1.0h-1.0zM77.5 43h1.0v1.0h-1.0zM77.5 45h1.0v1.0h-1.0zM77.5 45.5h1.0v1.0h-1.0zM77.5 46h1.0v1.0h-1.0zM77.5 47h1.0v1.0h-1.0zM77.5 54.5h1.0v1.0h-1.0zM77.5 55.5h1.0v1.0h-1.0zM77.5 56.5h1.0v1.0h-1.0zM77.5 58h1.0v1.0h-1.0zM77.5 62h1.0v1.0h-1.0zM77.5 64h1.0v1.0h-1.0zM77.5 68.5h1.0v1.0h-1.0zM78 41.5h1.0v1.0h-1.0zM78 45.5h1.0v1.0h-1.0zM78 46.5h1.0v1.0h-1.0zM78 50.5h1.0v1.0h-1.0zM78 52h1.0v1.0h-1.0zM78 52.5h1.0v1.0h-1.0zM78 55h1.0v1.0h-1.0zM78 56.5h1.0v1.0h-1.0zM78 62h1.0v1.0h-1.0zM78.5 41h1.0v1.0h-1.0zM78.5 44h1.0v1.0h-1.0zM78.5 45.5h1.0v1.0h-1.0zM78.5 46h1.0v1.0h-1.0zM78.5 47h1.0v1.0h-1.0zM78.5 49h1.0v1.0h-1.0zM78.5 49.5h1.0v1.0h-1.0zM78.5 51h1.0v1.0h-1.0zM78.5 62h1.0v1.0h-1.0zM78.5 67.5h1.0v1.0h-1.0zM79 39.5h1.0v1.0h-1.0zM79 40h1.0v1.0h-1.0zM79 41.5h1.0v1.0h-1.0zM79 43h1.0v1.0h-1.0zM79 44h1.0v1.0h-1.0zM79 44.5h1.0v1.0h-1.0zM79 45h1.0v1.0h-1.0zM79 45.5h1.0v1.0h-1.0zM79 46h1.0v1.0h-1.0zM79 47.5h1.0v1.0h-1.0zM79 48h1.0v1.0h-1.0zM79 49.5h1.0v1.0h-1.0zM79 55h1.0v1.0h-1.0zM79 58h1.0v1.0h-1.0zM79 61h1.0v1.0h-1.0zM79 63h1.0v1.0h-1.0zM79 63.5h1.0v1.0h-1.0zM79.5 42.5h1.0v1.0h-1.0zM79.5 43.5h1.0v1.0h-1.0zM79.5 44.5h1.0v1.0h-1.0zM79.5 46h1.0v1.0h-1.0zM79.5 55h1.0v1.0h-1.0zM79.5 59h1.0v1.0h-1.0zM79.5 63h1.0v1.0h-1.0zM79.5 66h1.0v1.0h-1.0zM80 36.5h1.0v1.0h-1.0zM80 42.5h1.0v1.0h-1.0zM80 44.5h1.0v1.0h-1.0zM80 46.5h1.0v1.0h-1.0zM80 48.5h1.0v1.0h-1.0zM80 49.5h1.0v1.0h-1.0zM80 51.5h1.0v1.0h-1.0zM80 56h1.0v1.0h-1.0zM80 56.5h1.0v1.0h-1.0zM80 62h1.0v1.0h-1.0zM80 68h1.0v1.0h-1.0zM80.5 41h1.0v1.0h-1.0zM80.5 46h1.0v1.0h-1.0zM80.5 46.5h1.0v1.0h-1.0zM80.5 47.5h1.0v1.0h-1.0zM80.5 48.5h1.0v1.0h-1.0zM80.5 51.5h1.0v1.0h-1.0zM80.5 65h1.0v1.0h-1.0zM81 39.5h1.0v1.0h-1.0zM81 43h1.0v1.0h-1.0zM81 44.5h1.0v1.0h-1.0zM81 66.5h1.0v1.0h-1.0zM81 69h1.0v1.0h-1.0zM81.5 34h1.0v1.0h-1.0zM81.5 38h1.0v1.0h-1.0zM81.5 44h1.0v1.0h-1.0zM81.5 45h1.0v1.0h-1.0zM81.5 46h1.0v1.0h-1.0zM81.5 55.5h1.0v1.0h-1.0zM81.5 56h1.0v1.0h-1.0zM81.5 56.5h1.0v1.0h-1.0zM81.5 59h1.0v1.0h-1.0zM81.5 60h1.0v1.0h-1.0zM81.5 66h1.0v1.0h-1.0zM82 42.5h1.0v1.0h-1.0zM82 44.5h1.0v1.0h-1.0zM82 45.5h1.0v1.0h-1.0zM82 46h1.0v1.0h-1.0zM82 59.5h1.0v1.0h-1.0zM82 60.5h1.0v1.0h-1.0zM82.5 39.5h1.0v1.0h-1.0zM82.5 44.5h1.0v1.0h-1.0zM82.5 45h1.0v1.0h-1.0zM82.5 45.5h1.0v1.0h-1.0zM82.5 49h1.0v1.0h-1.0zM82.5 58.5h1.0v1.0h-1.0zM82.5 67.5h1.0v1.0h-1.0zM83 27h1.0v1.0h-1.0zM83 29.5h1.0v1.0h-1.0zM83 36.5h1.0v1.0h-1.0zM83 47.5h1.0v1.0h-1.0zM83 58h1.0v1.0h-1.0zM83 60h1.0v1.0h-1.0zM83.5 41.5h1.0v1.0h-1.0zM83.5 42.5h1.0v1.0h-1.0zM84 35.5h1.0v1.0h-1.0zM84 43h1.0v1.0h-1.0zM85 59.5h1.0v1.0h-1.0zM85.5 49h1.0v1.0h-1.0zM85.5 58h1.0v1.0h-1.0zM86.5 15h1.0v1.0h-1.0zM86.5 35.5h1.0v1.0h-1.0zM87 20.5h1.0v1.0h-1.0zM87 49.5h1.0v1.0h-1.0zM88 41h1.0v1.0h-1.0zM88 53h1.0v1.0h-1.0zM88 55h1.0v1.0h-1.0zM88 63h1.0v1.0h-1.0zM88.5 31.5h1.0v1.0h-1.0zM88.5 43h1.0v1.0h-1.0zM88.5 44.5h1.0v1.0h-1.0zM89 37.5h1.0v1.0h-1.0zM89 39h1.0v1.0h-1.0zM89 41h1.0v1.0h-1.0zM89.5 44h1.0v1.0h-1.0zM89.5 50.5h1.0v1.0h-1.0zM90 11h1.0v1.0h-1.0zM90 30h1.0v1.0h-1.0zM90.5 34.5h1.0v1.0h-1.0zM90.5 36.5h1.0v1.0h-1.0zM91 35h1.0v1.0h-1.0zM91 39h1.0v1.0h-1.0zM91 39.5h1.0v1.0h-1.0zM91 40.5h1.0v1.0h-1.0zM91 41h1.0v1.0h-1.0zM91 46.5h1.0v1.0h-1.0zM91 49.5h1.0v1.0h-1.0zM91.5 27h1.0v1.0h-1.0zM91.5 39.5h1.0v1.0h-1.0zM91.5 45h1.0v1.0h-1.0zM92 39h1.0v1.0h-1.0zM92 43h1.0v1.0h-1.0zM94 11h1.0v1.0h-1.0zM94 26h1.0v1.0h-1.0zM94 45h1.0v1.0h-1.0zM94 55h1.0v1.0h-1.0zM94.5 12h1.0v1.0h-1.0zM94.5 36.5h1.0v1.0h-1.0zM95 39.5h1.0v1.0h-1.0zM95 42h1.0v1.0h-1.0zM95.5 12.5h1.0v1.0h-1.0zM95.5 22.5h1.0v1.0h-1.0zM95.5 43h1.0v1.0h-1.0zM96 18h1.0v1.0h-1.0zM96 32.5h1.0v1.0h-1.0zM96 50.5h1.0v1.0h-1.0zM96.5 34.5h1.0v1.0h-1.0zM97 28.5h1.0v1.0h-1.0zM97 29h1.0v1.0h-1.0zM97 35.5h1.0v1.0h-1.0zM97 41h1.0v1.0h-1.0zM97.5 13.5h1.0v1.0h-1.0zM97.5 32h1.0v1.0h-1.0zM97.5 42.5h1.0v1.0h-1.0zM98 26h1.0v1.0h-1.0zM98 46h1.0v1.0h-1.0zM98.5 33h1.0v1.0h-1.0zM98.5 34.5h1.0v1.0h-1.0zM98.5 38.5h1.0v1.0h-1.0zM98.5 41.5h1.0v1.0h-1.0zM98.5 50h1.0v1.0h-1.0zM99 28.5h1.0v1.0h-1.0zM99 34h1.0v1.0h-1.0zM99 38.5h1.0v1.0h-1.0zM99 39.5h1.0v1.0h-1.0zM99.5 36.5h1.0v1.0h-1.0zM100 31h1.0v1.0h-1.0zM100 38h1.0v1.0h-1.0zM100 49h1.0v1.0h-1.0zM100.5 17.5h1.0v1.0h-1.0zM101.5 24.5h1.0v1.0h-1.0zM101.5 28.5h1.0v1.0h-1.0zM101.5 30h1.0v1.0h-1.0zM101.5 34.5h1.0v1.0h-1.0zM102.5 46h1.0v1.0h-1.0zM103.5 18h1.0v1.0h-1.0zM103.5 20h1.0v1.0h-1.0zM103.5 35.5h1.0v1.0h-1.0zM103.5 63.5h1.0v1.0h-1.0zM104 21h1.0v1.0h-1.0zM104 36h1.0v1.0h-1.0zM104 39.5h1.0v1.0h-1.0zM104 41h1.0v1.0h-1.0zM104.5 51h1.0v1.0h-1.0zM105 31.5h1.0v1.0h-1.0zM105 32.5h1.0v1.0h-1.0zM105 41h1.0v1.0h-1.0zM105.5 28h1.0v1.0h-1.0zM106 38.5h1.0v1.0h-1.0zM107 26.5h1.0v1.0h-1.0zM109 14h1.0v1.0h-1.0zM109.5 15h1.0v1.0h-1.0zM109.5 44.5h1.0v1.0h-1.0zM109.5 60.5h1.0v1.0h-1.0zM110 62h1.0v1.0h-1.0zM112 38.5h1.0v1.0h-1.0zM112 47.5h1.0v1.0h-1.0zM112.5 28h1.0v1.0h-1.0zM116.5 37.5h1.0v1.0h-1.0zM117 15h1.0v1.0h-1.0zM118 20.5h1.0v1.0h-1.0zM120 25.5h1.0v1.0h-1.0zM120 32h1.0v1.0h-1.0zM121.5 5h1.0v1.0h-1.0zM123 28h1.0v1.0h-1.0zM138 10.5h1.0v1.0h-1.0z" fill="#000" fill-opacity="0.64"/>
</g></g>
<rect x="60.5" y="9.8" width="59.0" height="59.2" fill="none" stroke="#333" stroke-width="1"/>
<line x1="82.5" y1="9.8" x2="82.5" y2="69.0" stroke="#333" stroke-width="0.95" />
<line x1="60.5" y1="41.7" x2="119.5" y2="41.7" stroke="#333" stroke-width="0.95" />
<g transform="translate(65.0,23.7) scale(0.85,1)"><text x="0" y="0" font-size="8.2" text-anchor="start" fill="#1a1a1a" stroke="#1a1a1a" stroke-width="0.3">Q1</text></g>
<g transform="translate(116.6,23.8) scale(0.85,1)"><text x="0" y="0" font-size="8.2" text-anchor="end" fill="#1a1a1a" stroke="#1a1a1a" stroke-width="0.3">Q2</text></g>
<g transform="translate(115.6,59.6) scale(0.85,1)"><text x="0" y="0" font-size="8.2" text-anchor="end" fill="#1a1a1a" stroke="#1a1a1a" stroke-width="0.3">Q4</text></g>
<path d="M69.5 69.0 v7M84.0 69.0 v7M98.4 69.0 v7M112.9 69.0 v7" stroke="#111" stroke-width="1" fill="none"/>
<path d="M61.9 69.0 v4.5M63.7 69.0 v4.5M65.1 69.0 v4.5M66.3 69.0 v4.5M67.3 69.0 v4.5M68.1 69.0 v4.5M68.8 69.0 v4.5M73.9 69.0 v4.5M76.4 69.0 v4.5M78.2 69.0 v4.5M79.6 69.0 v4.5M80.7 69.0 v4.5M81.7 69.0 v4.5M82.6 69.0 v4.5M83.3 69.0 v4.5M88.3 69.0 v4.5M90.9 69.0 v4.5M92.7 69.0 v4.5M94.1 69.0 v4.5M95.2 69.0 v4.5M96.2 69.0 v4.5M97.0 69.0 v4.5M97.7 69.0 v4.5M102.8 69.0 v4.5M105.3 69.0 v4.5M107.1 69.0 v4.5M108.5 69.0 v4.5M109.7 69.0 v4.5M110.6 69.0 v4.5M111.5 69.0 v4.5M112.2 69.0 v4.5M117.2 69.0 v4.5" stroke="#333" stroke-width="0.8" fill="none"/>
<g transform="translate(67.2,85.1) scale(0.68,1)"><text x="0" y="0" font-size="7.6" font-weight="bold" text-anchor="middle" fill="#1a1a1a">10</text></g>
<text x="70.0" y="80.5" font-size="5.3" font-weight="bold" fill="#1a1a1a">2</text>
<g transform="translate(81.7,85.1) scale(0.68,1)"><text x="0" y="0" font-size="7.6" font-weight="bold" text-anchor="middle" fill="#1a1a1a">10</text></g>
<text x="84.5" y="80.5" font-size="5.3" font-weight="bold" fill="#1a1a1a">3</text>
<g transform="translate(96.1,85.1) scale(0.68,1)"><text x="0" y="0" font-size="7.6" font-weight="bold" text-anchor="middle" fill="#1a1a1a">10</text></g>
<text x="98.9" y="80.5" font-size="5.3" font-weight="bold" fill="#1a1a1a">4</text>
<g transform="translate(110.6,85.1) scale(0.68,1)"><text x="0" y="0" font-size="7.6" font-weight="bold" text-anchor="middle" fill="#1a1a1a">10</text></g>
<text x="113.4" y="80.5" font-size="5.3" font-weight="bold" fill="#1a1a1a">5</text>
<path d="M60.5 61.0 h-5M60.5 46.5 h-5M60.5 32.0 h-5M60.5 17.5 h-5" stroke="#000" stroke-width="1.6" fill="none"/>
<path d="M60.5 66.8 h-3.3M60.5 65.4 h-3.3M60.5 64.2 h-3.3M60.5 63.2 h-3.3M60.5 62.4 h-3.3M60.5 61.7 h-3.3M60.5 56.6 h-3.3M60.5 54.1 h-3.3M60.5 52.3 h-3.3M60.5 50.9 h-3.3M60.5 49.7 h-3.3M60.5 48.7 h-3.3M60.5 47.9 h-3.3M60.5 47.2 h-3.3M60.5 42.1 h-3.3M60.5 39.6 h-3.3M60.5 37.8 h-3.3M60.5 36.4 h-3.3M60.5 35.2 h-3.3M60.5 34.2 h-3.3M60.5 33.4 h-3.3M60.5 32.7 h-3.3M60.5 27.6 h-3.3M60.5 25.1 h-3.3M60.5 23.3 h-3.3M60.5 21.9 h-3.3M60.5 20.7 h-3.3M60.5 19.7 h-3.3M60.5 18.9 h-3.3M60.5 18.2 h-3.3M60.5 13.1 h-3.3" stroke="#111" stroke-width="0.9" fill="none"/>
<g transform="translate(55.1,60.8) rotate(-90) scale(0.78,1)"><text x="0" y="0" font-size="7.4" font-weight="bold" text-anchor="middle" fill="#1a1a1a">10</text></g>
<text transform="translate(50.5,57.4) rotate(-90)" font-size="5.3" font-weight="bold" fill="#1a1a1a">2</text>
<g transform="translate(55.1,46.3) rotate(-90) scale(0.78,1)"><text x="0" y="0" font-size="7.4" font-weight="bold" text-anchor="middle" fill="#1a1a1a">10</text></g>
<text transform="translate(50.5,42.9) rotate(-90)" font-size="5.3" font-weight="bold" fill="#1a1a1a">3</text>
<g transform="translate(55.1,31.8) rotate(-90) scale(0.78,1)"><text x="0" y="0" font-size="7.4" font-weight="bold" text-anchor="middle" fill="#1a1a1a">10</text></g>
<text transform="translate(50.5,28.4) rotate(-90)" font-size="5.3" font-weight="bold" fill="#1a1a1a">4</text>
<g transform="translate(55.1,17.3) rotate(-90) scale(0.78,1)"><text x="0" y="0" font-size="7.4" font-weight="bold" text-anchor="middle" fill="#1a1a1a">10</text></g>
<text transform="translate(50.5,13.9) rotate(-90)" font-size="5.3" font-weight="bold" fill="#1a1a1a">5</text>
<clipPath id="c2"><rect x="162.8" y="10.5" width="59.89999999999998" height="58.900000000000006"/></clipPath>
<g clip-path="url(#c2)"><g filter="url(#bl)">
<path d="M155.5 50.5h1.0v1.0h-1.0zM158 46.5h1.0v1.0h-1.0zM159 62.5h1.0v1.0h-1.0zM159.5 41h1.0v1.0h-1.0zM159.5 64h1.0v1.0h-1.0zM160.5 59.5h1.0v1.0h-1.0zM162 51h1.0v1.0h-1.0zM162 60.5h1.0v1.0h-1.0zM163 45.5h1.0v1.0h-1.0zM163 46h1.0v1.0h-1.0zM163 47h1.0v1.0h-1.0zM163 48h1.0v1.0h-1.0zM163 51h1.0v1.0h-1.0zM163.5 36h1.0v1.0h-1.0zM163.5 44h1.0v1.0h-1.0zM163.5 45h1.0v1.0h-1.0zM163.5 47h1.0v1.0h-1.0zM163.5 47.5h1.0v1.0h-1.0zM163.5 50h1.0v1.0h-1.0zM163.5 53h1.0v1.0h-1.0zM163.5 53.5h1.0v1.0h-1.0zM163.5 58h1.0v1.0h-1.0zM163.5 59h1.0v1.0h-1.0zM163.5 62.5h1.0v1.0h-1.0zM164 43.5h1.0v1.0h-1.0zM164 46h1.0v1.0h-1.0zM164 46.5h1.0v1.0h-1.0zM164 47.5h1.0v1.0h-1.0zM164 48h1.0v1.0h-1.0zM164 48.5h1.0v1.0h-1.0zM164 53.5h1.0v1.0h-1.0zM164 57h1.0v1.0h-1.0zM164 58h1.0v1.0h-1.0zM164 64h1.0v1.0h-1.0zM164 65.5h1.0v1.0h-1.0zM164.5 43.5h1.0v1.0h-1.0zM164.5 47.5h1.0v1.0h-1.0zM164.5 49h1.0v1.0h-1.0zM164.5 49.5h1.0v1.0h-1.0zM164.5 50h1.0v1.0h-1.0zM164.5 51.5h1.0v1.0h-1.0zM164.5 52h1.0v1.0h-1.0zM164.5 55h1.0v1.0h-1.0zM164.5 55.5h1.0v1.0h-1.0zM164.5 57h1.0v1.0h-1.0zM164.5 57.5h1.0v1.0h-1.0zM164.5 58h1.0v1.0h-1.0zM164.5 63h1.0v1.0h-1.0zM164.5 63.5h1.0v1.0h-1.0zM164.5 67h1.0v1.0h-1.0zM165 43h1.0v1.0h-1.0zM165 44h1.0v1.0h-1.0zM165 44.5h1.0v1.0h-1.0zM165 45.5h1.0v1.0h-1.0zM165 46.5h1.0v1.0h-1.0zM165 50.5h1.0v1.0h-1.0zM165 51h1.0v1.0h-1.0zM165 51.5h1.0v1.0h-1.0zM165 54h1.0v1.0h-1.0zM165 54.5h1.0v1.0h-1.0zM165 55h1.0v1.0h-1.0zM165 56.5h1.0v1.0h-1.0zM165 57h1.0v1.0h-1.0zM165 63h1.0v1.0h-1.0zM165 68.5h1.0v1.0h-1.0zM165.5 43.5h1.0v1.0h-1.0zM165.5 46h1.0v1.0h-1.0zM165.5 47h1.0v1.0h-1.0zM165.5 47.5h1.0v1.0h-1.0zM165.5 48.5h1.0v1.0h-1.0zM165.5 50.5h1.0v1.0h-1.0zM165.5 52.5h1.0v1.0h-1.0zM165.5 53.5h1.0v1.0h-1.0zM165.5 55h1.0v1.0h-1.0zM165.5 56.5h1.0v1.0h-1.0zM165.5 58h1.0v1.0h-1.0zM165.5 65.5h1.0v1.0h-1.0zM166 42.5h1.0v1.0h-1.0zM166 43.5h1.0v1.0h-1.0zM166 47.5h1.0v1.0h-1.0zM166 48h1.0v1.0h-1.0zM166 49.5h1.0v1.0h-1.0zM166 52.5h1.0v1.0h-1.0zM166 55h1.0v1.0h-1.0zM166 55.5h1.0v1.0h-1.0zM166 58.5h1.0v1.0h-1.0zM166 61h1.0v1.0h-1.0zM166.5 42.5h1.0v1.0h-1.0zM166.5 43h1.0v1.0h-1.0zM166.5 44h1.0v1.0h-1.0zM166.5 45.5h1.0v1.0h-1.0zM166.5 47h1.0v1.0h-1.0zM166.5 48h1.0v1.0h-1.0zM166.5 49.5h1.0v1.0h-1.0zM166.5 51h1.0v1.0h-1.0zM166.5 51.5h1.0v1.0h-1.0zM166.5 53h1.0v1.0h-1.0zM166.5 53.5h1.0v1.0h-1.0zM166.5 56h1.0v1.0h-1.0zM166.5 57h1.0v1.0h-1.0zM166.5 58h1.0v1.0h-1.0zM166.5 65h1.0v1.0h-1.0zM167 43.5h1.0v1.0h-1.0zM167 46.5h1.0v1.0h-1.0zM167 47.5h1.0v1.0h-1.0zM167 48.5h1.0v1.0h-1.0zM167 49.5h1.0v1.0h-1.0zM167 51.5h1.0v1.0h-1.0zM167 52h1.0v1.0h-1.0zM167 53.5h1.0v1.0h-1.0zM167 56.5h1.0v1.0h-1.0zM167 58.5h1.0v1.0h-1.0zM167 64.5h1.0v1.0h-1.0zM167 66h1.0v1.0h-1.0zM167.5 38.5h1.0v1.0h-1.0zM167.5 42.5h1.0v1.0h-1.0zM167.5 46h1.0v1.0h-1.0zM167.5 46.5h1.0v1.0h-1.0zM167.5 47h1.0v1.0h-1.0zM167.5 47.5h1.0v1.0h-1.0zM167.5 49.5h1.0v1.0h-1.0zM167.5 53.5h1.0v1.0h-1.0zM167.5 55.5h1.0v1.0h-1.0zM167.5 60h1.0v1.0h-1.0zM167.5 65h1.0v1.0h-1.0zM168 44.5h1.0v1.0h-1.0zM168 46h1.0v1.0h-1.0zM168 47.5h1.0v1.0h-1.0zM168 48h1.0v1.0h-1.0zM168 48.5h1.0v1.0h-1.0zM168 50.5h1.0v1.0h-1.0zM168 57h1.0v1.0h-1.0zM168 58h1.0v1.0h-1.0zM168 60h1.0v1.0h-1.0zM168 64h1.0v1.0h-1.0zM168.5 42h1.0v1.0h-1.0zM168.5 43h1.0v1.0h-1.0zM168.5 46.5h1.0v1.0h-1.0zM168.5 47h1.0v1.0h-1.0zM168.5 49.5h1.0v1.0h-1.0zM168.5 50h1.0v1.0h-1.0zM168.5 50.5h1.0v1.0h-1.0zM168.5 52h1.0v1.0h-1.0zM168.5 53.5h1.0v1.0h-1.0zM168.5 54h1.0v1.0h-1.0zM168.5 54.5h1.0v1.0h-1.0zM168.5 55h1.0v1.0h-1.0zM168.5 55.5h1.0v1.0h-1.0zM168.5 56h1.0v1.0h-1.0zM168.5 59h1.0v1.0h-1.0zM168.5 62h1.0v1.0h-1.0zM168.5 65.5h1.0v1.0h-1.0zM168.5 67h1.0v1.0h-1.0zM169 38.5h1.0v1.0h-1.0zM169 44h1.0v1.0h-1.0zM169 44.5h1.0v1.0h-1.0zM169 45h1.0v1.0h-1.0zM169 47.5h1.0v1.0h-1.0zM169 50.5h1.0v1.0h-1.0zM169 51.5h1.0v1.0h-1.0zM169 52.5h1.0v1.0h-1.0zM169 53.5h1.0v1.0h-1.0zM169 55h1.0v1.0h-1.0zM169 56.5h1.0v1.0h-1.0zM169 58h1.0v1.0h-1.0zM169 62.5h1.0v1.0h-1.0zM169 63.5h1.0v1.0h-1.0zM169.5 34h1.0v1.0h-1.0zM169.5 42h1.0v1.0h-1.0zM169.5 43.5h1.0v1.0h-1.0zM169.5 45.5h1.0v1.0h-1.0zM169.5 47h1.0v1.0h-1.0zM169.5 47.5h1.0v1.0h-1.0zM169.5 48.5h1.0v1.0h-1.0zM169.5 49.5h1.0v1.0h-1.0zM169.5 50.5h1.0v1.0h-1.0zM169.5 51.5h1.0v1.0h-1.0zM169.5 52h1.0v1.0h-1.0zM169.5 53h1.0v1.0h-1.0zM169.5 53.5h1.0v1.0h-1.0zM169.5 57.5h1.0v1.0h-1.0zM169.5 58h1.0v1.0h-1.0zM169.5 59.5h1.0v1.0h-1.0zM169.5 65.5h1.0v1.0h-1.0zM170 42.5h1.0v1.0h-1.0zM170 43.5h1.0v1.0h-1.0zM170 45h1.0v1.0h-1.0zM170 46h1.0v1.0h-1.0zM170 49h1.0v1.0h-1.0zM170 49.5h1.0v1.0h-1.0zM170 52h1.0v1.0h-1.0zM170 52.5h1.0v1.0h-1.0zM170 55.5h1.0v1.0h-1.0zM170 57h1.0v1.0h-1.0zM170 62h1.0v1.0h-1.0zM170 63h1.0v1.0h-1.0zM170 66h1.0v1.0h-1.0zM170.5 43.5h1.0v1.0h-1.0zM170.5 44h1.0v1.0h-1.0zM170.5 45.5h1.0v1.0h-1.0zM170.5 46.5h1.0v1.0h-1.0zM170.5 47h1.0v1.0h-1.0zM170.5 49h1.0v1.0h-1.0zM170.5 49.5h1.0v1.0h-1.0zM170.5 51h1.0v1.0h-1.0zM170.5 55h1.0v1.0h-1.0zM170.5 56.5h1.0v1.0h-1.0zM170.5 65.5h1.0v1.0h-1.0zM170.5 68h1.0v1.0h-1.0zM171 44.5h1.0v1.0h-1.0zM171 45h1.0v1.0h-1.0zM171 46h1.0v1.0h-1.0zM171 48h1.0v1.0h-1.0zM171 49h1.0v1.0h-1.0zM171 50h1.0v1.0h-1.0zM171 52h1.0v1.0h-1.0zM171 53h1.0v1.0h-1.0zM171 55h1.0v1.0h-1.0zM171 56.5h1.0v1.0h-1.0zM171 57h1.0v1.0h-1.0zM171 58h1.0v1.0h-1.0zM171 62.5h1.0v1.0h-1.0zM171 67.5h1.0v1.0h-1.0zM171.5 43.5h1.0v1.0h-1.0zM171.5 44h1.0v1.0h-1.0zM171.5 45h1.0v1.0h-1.0zM171.5 47h1.0v1.0h-1.0zM171.5 47.5h1.0v1.0h-1.0zM171.5 49h1.0v1.0h-1.0zM171.5 49.5h1.0v1.0h-1.0zM171.5 50.5h1.0v1.0h-1.0zM171.5 51h1.0v1.0h-1.0zM171.5 52h1.0v1.0h-1.0zM171.5 52.5h1.0v1.0h-1.0zM171.5 53h1.0v1.0h-1.0zM171.5 54.5h1.0v1.0h-1.0zM171.5 55h1.0v1.0h-1.0zM171.5 57.5h1.0v1.0h-1.0zM171.5 58.5h1.0v1.0h-1.0zM171.5 61h1.0v1.0h-1.0zM172 43h1.0v1.0h-1.0zM172 45h1.0v1.0h-1.0zM172 45.5h1.0v1.0h-1.0zM172 46h1.0v1.0h-1.0zM172 46.5h1.0v1.0h-1.0zM172 50.5h1.0v1.0h-1.0zM172 52.5h1.0v1.0h-1.0zM172 53.5h1.0v1.0h-1.0zM172 54.5h1.0v1.0h-1.0zM172 57.5h1.0v1.0h-1.0zM172 59.5h1.0v1.0h-1.0zM172.5 43h1.0v1.0h-1.0zM172.5 44h1.0v1.0h-1.0zM172.5 44.5h1.0v1.0h-1.0zM172.5 45h1.0v1.0h-1.0zM172.5 46.5h1.0v1.0h-1.0zM172.5 47h1.0v1.0h-1.0zM172.5 48h1.0v1.0h-1.0zM172.5 50.5h1.0v1.0h-1.0zM172.5 51h1.0v1.0h-1.0zM172.5 51.5h1.0v1.0h-1.0zM172.5 55h1.0v1.0h-1.0zM172.5 55.5h1.0v1.0h-1.0zM172.5 61.5h1.0v1.0h-1.0zM172.5 64h1.0v1.0h-1.0zM172.5 66.5h1.0v1.0h-1.0zM173 41h1.0v1.0h-1.0zM173 44.5h1.0v1.0h-1.0zM173 45.5h1.0v1.0h-1.0zM173 50h1.0v1.0h-1.0zM173 50.5h1.0v1.0h-1.0zM173 51h1.0v1.0h-1.0zM173 54h1.0v1.0h-1.0zM173 56.5h1.0v1.0h-1.0zM173 57.5h1.0v1.0h-1.0zM173 69h1.0v1.0h-1.0zM173.5 43h1.0v1.0h-1.0zM173.5 44h1.0v1.0h-1.0zM173.5 47h1.0v1.0h-1.0zM173.5 49.5h1.0v1.0h-1.0zM173.5 50.5h1.0v1.0h-1.0zM173.5 54h1.0v1.0h-1.0zM173.5 55h1.0v1.0h-1.0zM173.5 56.5h1.0v1.0h-1.0zM173.5 57.5h1.0v1.0h-1.0zM173.5 61.5h1.0v1.0h-1.0zM174 42h1.0v1.0h-1.0zM174 43h1.0v1.0h-1.0zM174 44h1.0v1.0h-1.0zM174 45h1.0v1.0h-1.0zM174 45.5h1.0v1.0h-1.0zM174 47h1.0v1.0h-1.0zM174 47.5h1.0v1.0h-1.0zM174 48.5h1.0v1.0h-1.0zM174 49h1.0v1.0h-1.0zM174 49.5h1.0v1.0h-1.0zM174 52.5h1.0v1.0h-1.0zM174 55.5h1.0v1.0h-1.0zM174 62.5h1.0v1.0h-1.0zM174.5 26h1.0v1.0h-1.0zM174.5 42h1.0v1.0h-1.0zM174.5 46.5h1.0v1.0h-1.0zM174.5 47.5h1.0v1.0h-1.0zM174.5 49h1.0v1.0h-1.0zM174.5 51.5h1.0v1.0h-1.0zM174.5 52h1.0v1.0h-1.0zM174.5 53h1.0v1.0h-1.0zM174.5 57h1.0v1.0h-1.0zM174.5 57.5h1.0v1.0h-1.0zM174.5 58h1.0v1.0h-1.0zM174.5 62.5h1.0v1.0h-1.0zM174.5 64h1.0v1.0h-1.0zM174.5 66h1.0v1.0h-1.0zM174.5 66.5h1.0v1.0h-1.0zM175 37h1.0v1.0h-1.0zM175 41h1.0v1.0h-1.0zM175 42h1.0v1.0h-1.0zM175 43.5h1.0v1.0h-1.0zM175 44.5h1.0v1.0h-1.0zM175 45h1.0v1.0h-1.0zM175 45.5h1.0v1.0h-1.0zM175 46.5h1.0v1.0h-1.0zM175 49h1.0v1.0h-1.0zM175 54h1.0v1.0h-1.0zM175 54.5h1.0v1.0h-1.0zM175 55h1.0v1.0h-1.0zM175.5 40h1.0v1.0h-1.0zM175.5 41.5h1.0v1.0h-1.0zM175.5 42h1.0v1.0h-1.0zM175.5 42.5h1.0v1.0h-1.0zM175.5 45.5h1.0v1.0h-1.0zM175.5 49h1.0v1.0h-1.0zM175.5 53h1.0v1.0h-1.0zM175.5 54.5h1.0v1.0h-1.0zM175.5 56h1.0v1.0h-1.0zM176 28.5h1.0v1.0h-1.0zM176 39.5h1.0v1.0h-1.0zM176 47h1.0v1.0h-1.0zM176 47.5h1.0v1.0h-1.0zM176 49.5h1.0v1.0h-1.0zM176 50h1.0v1.0h-1.0zM176 53h1.0v1.0h-1.0zM176 53.5h1.0v1.0h-1.0zM176 54h1.0v1.0h-1.0zM176 55h1.0v1.0h-1.0zM176 56h1.0v1.0h-1.0zM176 56.5h1.0v1.0h-1.0zM176 60h1.0v1.0h-1.0zM176 64.5h1.0v1.0h-1.0zM176.5 38.5h1.0v1.0h-1.0zM176.5 42.5h1.0v1.0h-1.0zM176.5 43h1.0v1.0h-1.0zM176.5 44.5h1.0v1.0h-1.0zM176.5 45h1.0v1.0h-1.0zM176.5 46.5h1.0v1.0h-1.0zM176.5 47h1.0v1.0h-1.0zM176.5 53h1.0v1.0h-1.0zM176.5 60.5h1.0v1.0h-1.0zM176.5 66.5h1.0v1.0h-1.0zM176.5 68h1.0v1.0h-1.0zM177 36.5h1.0v1.0h-1.0zM177 40h1.0v1.0h-1.0zM177 41h1.0v1.0h-1.0zM177 42.5h1.0v1.0h-1.0zM177 45h1.0v1.0h-1.0zM177 47.5h1.0v1.0h-1.0zM177 48h1.0v1.0h-1.0zM177 48.5h1.0v1.0h-1.0zM177 50h1.0v1.0h-1.0zM177 51h1.0v1.0h-1.0zM177 53.5h1.0v1.0h-1.0zM177 54.5h1.0v1.0h-1.0zM177 55.5h1.0v1.0h-1.0zM177 56h1.0v1.0h-1.0zM177 58h1.0v1.0h-1.0zM177.5 40.5h1.0v1.0h-1.0zM177.5 42h1.0v1.0h-1.0zM177.5 43.5h1.0v1.0h-1.0zM177.5 44h1.0v1.0h-1.0zM177.5 44.5h1.0v1.0h-1.0zM177.5 45h1.0v1.0h-1.0zM177.5 46.5h1.0v1.0h-1.0zM177.5 47.5h1.0v1.0h-1.0zM177.5 49h1.0v1.0h-1.0zM177.5 51.5h1.0v1.0h-1.0zM177.5 52.5h1.0v1.0h-1.0zM177.5 56.5h1.0v1.0h-1.0zM177.5 65.5h1.0v1.0h-1.0zM178 38.5h1.0v1.0h-1.0zM178 44.5h1.0v1.0h-1.0zM178 45.5h1.0v1.0h-1.0zM178 46.5h1.0v1.0h-1.0zM178 48h1.0v1.0h-1.0zM178 48.5h1.0v1.0h-1.0zM178 49h1.0v1.0h-1.0zM178 51h1.0v1.0h-1.0zM178 51.5h1.0v1.0h-1.0zM178 57.5h1.0v1.0h-1.0zM178 63.5h1.0v1.0h-1.0zM178 64h1.0v1.0h-1.0zM178.5 38.5h1.0v1.0h-1.0zM178.5 41.5h1.0v1.0h-1.0zM178.5 42h1.0v1.0h-1.0zM178.5 43h1.0v1.0h-1.0zM178.5 47h1.0v1.0h-1.0zM178.5 48h1.0v1.0h-1.0zM178.5 50h1.0v1.0h-1.0zM178.5 52.5h1.0v1.0h-1.0zM178.5 56.5h1.0v1.0h-1.0zM179 41h1.0v1.0h-1.0zM179 43h1.0v1.0h-1.0zM179 45h1.0v1.0h-1.0zM179 48.5h1.0v1.0h-1.0zM179 49.5h1.0v1.0h-1.0zM179 50h1.0v1.0h-1.0zM179 51.5h1.0v1.0h-1.0zM179 52.5h1.0v1.0h-1.0zM179 53.5h1.0v1.0h-1.0zM179 55h1.0v1.0h-1.0zM179 55.5h1.0v1.0h-1.0zM179 57h1.0v1.0h-1.0zM179.5 26.5h1.0v1.0h-1.0zM179.5 32.5h1.0v1.0h-1.0zM179.5 33h1.0v1.0h-1.0zM179.5 41.5h1.0v1.0h-1.0zM179.5 43.5h1.0v1.0h-1.0zM179.5 45h1.0v1.0h-1.0zM179.5 47h1.0v1.0h-1.0zM179.5 47.5h1.0v1.0h-1.0zM179.5 49h1.0v1.0h-1.0zM179.5 50h1.0v1.0h-1.0zM179.5 51h1.0v1.0h-1.0zM179.5 52h1.0v1.0h-1.0zM179.5 53.5h1.0v1.0h-1.0zM179.5 54h1.0v1.0h-1.0zM180 39h1.0v1.0h-1.0zM180 41.5h1.0v1.0h-1.0zM180 42h1.0v1.0h-1.0zM180 43.5h1.0v1.0h-1.0zM180 44h1.0v1.0h-1.0zM180 44.5h1.0v1.0h-1.0zM180 45.5h1.0v1.0h-1.0zM180 46h1.0v1.0h-1.0zM180 49h1.0v1.0h-1.0zM180 52h1.0v1.0h-1.0zM180 53h1.0v1.0h-1.0zM180 54.5h1.0v1.0h-1.0zM180.5 32h1.0v1.0h-1.0zM180.5 35h1.0v1.0h-1.0zM180.5 41h1.0v1.0h-1.0zM180.5 41.5h1.0v1.0h-1.0zM180.5 45h1.0v1.0h-1.0zM180.5 46h1.0v1.0h-1.0zM180.5 46.5h1.0v1.0h-1.0zM180.5 48h1.0v1.0h-1.0zM180.5 50.5h1.0v1.0h-1.0zM180.5 51.5h1.0v1.0h-1.0zM180.5 52.5h1.0v1.0h-1.0zM180.5 55h1.0v1.0h-1.0zM180.5 55.5h1.0v1.0h-1.0zM180.5 59h1.0v1.0h-1.0zM180.5 60h1.0v1.0h-1.0zM181 41.5h1.0v1.0h-1.0zM181 45.5h1.0v1.0h-1.0zM181 47.5h1.0v1.0h-1.0zM181 48.5h1.0v1.0h-1.0zM181 49.5h1.0v1.0h-1.0zM181 52.5h1.0v1.0h-1.0zM181 55h1.0v1.0h-1.0zM181 56h1.0v1.0h-1.0zM181 65.5h1.0v1.0h-1.0zM181.5 38.5h1.0v1.0h-1.0zM181.5 42.5h1.0v1.0h-1.0zM181.5 46h1.0v1.0h-1.0zM181.5 46.5h1.0v1.0h-1.0zM181.5 47h1.0v1.0h-1.0zM181.5 48h1.0v1.0h-1.0zM181.5 51h1.0v1.0h-1.0zM181.5 54.5h1.0v1.0h-1.0zM182 40h1.0v1.0h-1.0zM182 41.5h1.0v1.0h-1.0zM182 42h1.0v1.0h-1.0zM182 43.5h1.0v1.0h-1.0zM182 44h1.0v1.0h-1.0zM182 44.5h1.0v1.0h-1.0zM182 45h1.0v1.0h-1.0zM182 50h1.0v1.0h-1.0zM182 51h1.0v1.0h-1.0zM182 54.5h1.0v1.0h-1.0zM182 55h1.0v1.0h-1.0zM182.5 41.5h1.0v1.0h-1.0zM182.5 42h1.0v1.0h-1.0zM182.5 45.5h1.0v1.0h-1.0zM182.5 47h1.0v1.0h-1.0zM182.5 50.5h1.0v1.0h-1.0zM182.5 54.5h1.0v1.0h-1.0zM182.5 55.5h1.0v1.0h-1.0zM182.5 56h1.0v1.0h-1.0zM183 30.5h1.0v1.0h-1.0zM183 41.5h1.0v1.0h-1.0zM183 42h1.0v1.0h-1.0zM183 43.5h1.0v1.0h-1.0zM183 48.5h1.0v1.0h-1.0zM183 52h1.0v1.0h-1.0zM183 52.5h1.0v1.0h-1.0zM183 65.5h1.0v1.0h-1.0zM183.5 42h1.0v1.0h-1.0zM183.5 47h1.0v1.0h-1.0zM183.5 47.5h1.0v1.0h-1.0zM183.5 48.5h1.0v1.0h-1.0zM183.5 53h1.0v1.0h-1.0zM183.5 59h1.0v1.0h-1.0zM184 39.5h1.0v1.0h-1.0zM184 41h1.0v1.0h-1.0zM184 42h1.0v1.0h-1.0zM184 43.5h1.0v1.0h-1.0zM184 46h1.0v1.0h-1.0zM184 48h1.0v1.0h-1.0zM184 48.5h1.0v1.0h-1.0zM184 49.5h1.0v1.0h-1.0zM184 50.5h1.0v1.0h-1.0zM184 56.5h1.0v1.0h-1.0zM184 69h1.0v1.0h-1.0zM184.5 46h1.0v1.0h-1.0zM184.5 47h1.0v1.0h-1.0zM184.5 47.5h1.0v1.0h-1.0zM184.5 50.5h1.0v1.0h-1.0zM184.5 57.5h1.0v1.0h-1.0zM184.5 58.5h1.0v1.0h-1.0zM184.5 60.5h1.0v1.0h-1.0zM184.5 67.5h1.0v1.0h-1.0zM185 41h1.0v1.0h-1.0zM185 42.5h1.0v1.0h-1.0zM185 44h1.0v1.0h-1.0zM185 46h1.0v1.0h-1.0zM185 46.5h1.0v1.0h-1.0zM185 49h1.0v1.0h-1.0zM185 50h1.0v1.0h-1.0zM185 58.5h1.0v1.0h-1.0zM185.5 41.5h1.0v1.0h-1.0zM185.5 43.5h1.0v1.0h-1.0zM185.5 46.5h1.0v1.0h-1.0zM185.5 47h1.0v1.0h-1.0zM185.5 68h1.0v1.0h-1.0zM186 39.5h1.0v1.0h-1.0zM186 40h1.0v1.0h-1.0zM186 41h1.0v1.0h-1.0zM186 42.5h1.0v1.0h-1.0zM186 44h1.0v1.0h-1.0zM186 44.5h1.0v1.0h-1.0zM186 45h1.0v1.0h-1.0zM186.5 39.5h1.0v1.0h-1.0zM186.5 40h1.0v1.0h-1.0zM186.5 41h1.0v1.0h-1.0zM186.5 42h1.0v1.0h-1.0zM186.5 43.5h1.0v1.0h-1.0zM186.5 44h1.0v1.0h-1.0zM186.5 44.5h1.0v1.0h-1.0zM186.5 45.5h1.0v1.0h-1.0zM187 22h1.0v1.0h-1.0zM187 40h1.0v1.0h-1.0zM187 41.5h1.0v1.0h-1.0zM187 43h1.0v1.0h-1.0zM187 44.5h1.0v1.0h-1.0zM187 53h1.0v1.0h-1.0zM187.5 49.5h1.0v1.0h-1.0zM188 51.5h1.0v1.0h-1.0zM188 59.5h1.0v1.0h-1.0zM189.5 30.5h1.0v1.0h-1.0zM190 50.5h1.0v1.0h-1.0zM190.5 52.5h1.0v1.0h-1.0zM192 51.5h1.0v1.0h-1.0zM207.5 58.5h1.0v1.0h-1.0zM208 30.5h1.0v1.0h-1.0zM210 36h1.0v1.0h-1.0zM210 38.5h1.0v1.0h-1.0zM210 41.5h1.0v1.0h-1.0zM210.5 36.5h1.0v1.0h-1.0zM210.5 57h1.0v1.0h-1.0zM212 44.5h1.0v1.0h-1.0zM212 53.5h1.0v1.0h-1.0zM213 53h1.0v1.0h-1.0zM215.5 33h1.0v1.0h-1.0zM215.5 39h1.0v1.0h-1.0zM217 36.5h1.0v1.0h-1.0zM219.5 26.5h1.0v1.0h-1.0zM219.5 34.5h1.0v1.0h-1.0zM219.5 50h1.0v1.0h-1.0zM219.5 51.5h1.0v1.0h-1.0zM220.5 27.5h1.0v1.0h-1.0zM222 32.5h1.0v1.0h-1.0z" fill="#000" fill-opacity="0.64"/>
<path d="M151.5 66.5h1.0v1.0h-1.0zM155 63.5h1.0v1.0h-1.0zM158 66h1.0v1.0h-1.0zM160 42.5h1.0v1.0h-1.0zM160 63h1.0v1.0h-1.0zM161 48h1.0v1.0h-1.0zM161 53h1.0v1.0h-1.0zM161.5 63h1.0v1.0h-1.0zM161.5 64.5h1.0v1.0h-1.0zM162 66.5h1.0v1.0h-1.0zM162.5 46h1.0v1.0h-1.0zM162.5 63h1.0v1.0h-1.0zM163 44.5h1.0v1.0h-1.0zM163 46.5h1.0v1.0h-1.0zM163 47h1.0v1.0h-1.0zM163 48h1.0v1.0h-1.0zM163 51h1.0v1.0h-1.0zM163.5 30.5h1.0v1.0h-1.0zM163.5 45.5h1.0v1.0h-1.0zM163.5 47.5h1.0v1.0h-1.0zM163.5 48.5h1.0v1.0h-1.0zM163.5 49h1.0v1.0h-1.0zM163.5 49.5h1.0v1.0h-1.0zM163.5 50.5h1.0v1.0h-1.0zM163.5 51.5h1.0v1.0h-1.0zM163.5 52.5h1.0v1.0h-1.0zM163.5 56h1.0v1.0h-1.0zM163.5 56.5h1.0v1.0h-1.0zM163.5 57.5h1.0v1.0h-1.0zM163.5 58.5h1.0v1.0h-1.0zM163.5 61h1.0v1.0h-1.0zM163.5 66.5h1.0v1.0h-1.0zM164 25h1.0v1.0h-1.0zM164 43.5h1.0v1.0h-1.0zM164 44.5h1.0v1.0h-1.0zM164 45h1.0v1.0h-1.0zM164 47.5h1.0v1.0h-1.0zM164 52h1.0v1.0h-1.0zM164 52.5h1.0v1.0h-1.0zM164 56.5h1.0v1.0h-1.0zM164 57h1.0v1.0h-1.0zM164 63.5h1.0v1.0h-1.0zM164 67h1.0v1.0h-1.0zM164.5 43.5h1.0v1.0h-1.0zM164.5 44.5h1.0v1.0h-1.0zM164.5 46.5h1.0v1.0h-1.0zM164.5 47h1.0v1.0h-1.0zM164.5 47.5h1.0v1.0h-1.0zM164.5 48h1.0v1.0h-1.0zM164.5 50.5h1.0v1.0h-1.0zM164.5 53h1.0v1.0h-1.0zM164.5 62.5h1.0v1.0h-1.0zM164.5 63h1.0v1.0h-1.0zM165 40.5h1.0v1.0h-1.0zM165 43.5h1.0v1.0h-1.0zM165 44h1.0v1.0h-1.0zM165 44.5h1.0v1.0h-1.0zM165 47h1.0v1.0h-1.0zM165 47.5h1.0v1.0h-1.0zM165 48h1.0v1.0h-1.0zM165 51h1.0v1.0h-1.0zM165 51.5h1.0v1.0h-1.0zM165 52h1.0v1.0h-1.0zM165 52.5h1.0v1.0h-1.0zM165 54h1.0v1.0h-1.0zM165 58h1.0v1.0h-1.0zM165 58.5h1.0v1.0h-1.0zM165 59h1.0v1.0h-1.0zM165.5 30.5h1.0v1.0h-1.0zM165.5 43.5h1.0v1.0h-1.0zM165.5 44h1.0v1.0h-1.0zM165.5 45h1.0v1.0h-1.0zM165.5 46.5h1.0v1.0h-1.0zM165.5 49.5h1.0v1.0h-1.0zM165.5 50.5h1.0v1.0h-1.0zM165.5 53h1.0v1.0h-1.0zM165.5 58h1.0v1.0h-1.0zM165.5 61h1.0v1.0h-1.0zM165.5 67h1.0v1.0h-1.0zM165.5 68.5h1.0v1.0h-1.0zM166 43.5h1.0v1.0h-1.0zM166 47.5h1.0v1.0h-1.0zM166 48h1.0v1.0h-1.0zM166 51h1.0v1.0h-1.0zM166 53.5h1.0v1.0h-1.0zM166 55h1.0v1.0h-1.0zM166 56.5h1.0v1.0h-1.0zM166 57h1.0v1.0h-1.0zM166 59h1.0v1.0h-1.0zM166 60.5h1.0v1.0h-1.0zM166 64h1.0v1.0h-1.0zM166.5 13h1.0v1.0h-1.0zM166.5 44h1.0v1.0h-1.0zM166.5 47.5h1.0v1.0h-1.0zM166.5 48.5h1.0v1.0h-1.0zM166.5 49h1.0v1.0h-1.0zM166.5 50h1.0v1.0h-1.0zM166.5 51h1.0v1.0h-1.0zM166.5 51.5h1.0v1.0h-1.0zM166.5 53h1.0v1.0h-1.0zM166.5 54.5h1.0v1.0h-1.0zM166.5 55.5h1.0v1.0h-1.0zM166.5 56h1.0v1.0h-1.0zM166.5 56.5h1.0v1.0h-1.0zM166.5 57.5h1.0v1.0h-1.0zM166.5 66h1.0v1.0h-1.0zM166.5 66.5h1.0v1.0h-1.0zM166.5 71.5h1.0v1.0h-1.0zM167 43h1.0v1.0h-1.0zM167 44.5h1.0v1.0h-1.0zM167 45h1.0v1.0h-1.0zM167 47h1.0v1.0h-1.0zM167 50.5h1.0v1.0h-1.0zM167 55h1.0v1.0h-1.0zM167 57.5h1.0v1.0h-1.0zM167 67h1.0v1.0h-1.0zM167.5 38h1.0v1.0h-1.0zM167.5 42.5h1.0v1.0h-1.0zM167.5 43h1.0v1.0h-1.0zM167.5 45.5h1.0v1.0h-1.0zM167.5 47h1.0v1.0h-1.0zM167.5 48h1.0v1.0h-1.0zM167.5 50.5h1.0v1.0h-1.0zM167.5 53.5h1.0v1.0h-1.0zM167.5 56h1.0v1.0h-1.0zM167.5 57.5h1.0v1.0h-1.0zM167.5 58.5h1.0v1.0h-1.0zM167.5 61h1.0v1.0h-1.0zM167.5 63h1.0v1.0h-1.0zM167.5 68.5h1.0v1.0h-1.0zM167.5 70h1.0v1.0h-1.0zM168 39h1.0v1.0h-1.0zM168 44h1.0v1.0h-1.0zM168 47.5h1.0v1.0h-1.0zM168 48.5h1.0v1.0h-1.0zM168 50h1.0v1.0h-1.0zM168 54.5h1.0v1.0h-1.0zM168 55h1.0v1.0h-1.0zM168 63.5h1.0v1.0h-1.0zM168 67h1.0v1.0h-1.0zM168.5 43.5h1.0v1.0h-1.0zM168.5 45.5h1.0v1.0h-1.0zM168.5 49h1.0v1.0h-1.0zM168.5 51h1.0v1.0h-1.0zM168.5 51.5h1.0v1.0h-1.0zM168.5 52.5h1.0v1.0h-1.0zM168.5 53.5h1.0v1.0h-1.0zM168.5 54h1.0v1.0h-1.0zM168.5 55.5h1.0v1.0h-1.0zM168.5 56.5h1.0v1.0h-1.0zM168.5 64h1.0v1.0h-1.0zM168.5 68h1.0v1.0h-1.0zM169 42.5h1.0v1.0h-1.0zM169 44.5h1.0v1.0h-1.0zM169 47h1.0v1.0h-1.0zM169 50h1.0v1.0h-1.0zM169 52h1.0v1.0h-1.0zM169 52.5h1.0v1.0h-1.0zM169 54h1.0v1.0h-1.0zM169 55h1.0v1.0h-1.0zM169 61h1.0v1.0h-1.0zM169 68.5h1.0v1.0h-1.0zM169.5 16h1.0v1.0h-1.0zM169.5 41h1.0v1.0h-1.0zM169.5 49h1.0v1.0h-1.0zM169.5 50.5h1.0v1.0h-1.0zM169.5 51h1.0v1.0h-1.0zM169.5 51.5h1.0v1.0h-1.0zM169.5 52h1.0v1.0h-1.0zM169.5 52.5h1.0v1.0h-1.0zM169.5 57.5h1.0v1.0h-1.0zM169.5 62h1.0v1.0h-1.0zM169.5 63h1.0v1.0h-1.0zM170 33h1.0v1.0h-1.0zM170 46h1.0v1.0h-1.0zM170 48.5h1.0v1.0h-1.0zM170 49.5h1.0v1.0h-1.0zM170 50h1.0v1.0h-1.0zM170 50.5h1.0v1.0h-1.0zM170 53h1.0v1.0h-1.0zM170 58.5h1.0v1.0h-1.0zM170 62h1.0v1.0h-1.0zM170 64h1.0v1.0h-1.0zM170 66.5h1.0v1.0h-1.0zM170.5 42h1.0v1.0h-1.0zM170.5 44h1.0v1.0h-1.0zM170.5 47.5h1.0v1.0h-1.0zM170.5 50.5h1.0v1.0h-1.0zM170.5 52h1.0v1.0h-1.0zM170.5 53.5h1.0v1.0h-1.0zM170.5 55h1.0v1.0h-1.0zM170.5 56h1.0v1.0h-1.0zM170.5 61.5h1.0v1.0h-1.0zM170.5 62h1.0v1.0h-1.0zM170.5 66.5h1.0v1.0h-1.0zM171 45h1.0v1.0h-1.0zM171 50.5h1.0v1.0h-1.0zM171 52h1.0v1.0h-1.0zM171 52.5h1.0v1.0h-1.0zM171 53.5h1.0v1.0h-1.0zM171 54.5h1.0v1.0h-1.0zM171 55h1.0v1.0h-1.0zM171 57h1.0v1.0h-1.0zM171 58h1.0v1.0h-1.0zM171.5 41h1.0v1.0h-1.0zM171.5 42h1.0v1.0h-1.0zM171.5 43h1.0v1.0h-1.0zM171.5 44.5h1.0v1.0h-1.0zM171.5 45.5h1.0v1.0h-1.0zM171.5 47h1.0v1.0h-1.0zM171.5 47.5h1.0v1.0h-1.0zM171.5 51h1.0v1.0h-1.0zM171.5 53h1.0v1.0h-1.0zM171.5 53.5h1.0v1.0h-1.0zM171.5 54h1.0v1.0h-1.0zM171.5 55h1.0v1.0h-1.0zM171.5 57.5h1.0v1.0h-1.0zM171.5 58.5h1.0v1.0h-1.0zM171.5 60.5h1.0v1.0h-1.0zM171.5 63h1.0v1.0h-1.0zM171.5 70h1.0v1.0h-1.0zM172 44h1.0v1.0h-1.0zM172 45.5h1.0v1.0h-1.0zM172 46.5h1.0v1.0h-1.0zM172 49.5h1.0v1.0h-1.0zM172 52.5h1.0v1.0h-1.0zM172 53.5h1.0v1.0h-1.0zM172 54h1.0v1.0h-1.0zM172 54.5h1.0v1.0h-1.0zM172 55h1.0v1.0h-1.0zM172 56h1.0v1.0h-1.0zM172 56.5h1.0v1.0h-1.0zM172 58h1.0v1.0h-1.0zM172 61.5h1.0v1.0h-1.0zM172 66h1.0v1.0h-1.0zM172 66.5h1.0v1.0h-1.0zM172.5 37.5h1.0v1.0h-1.0zM172.5 43h1.0v1.0h-1.0zM172.5 45h1.0v1.0h-1.0zM172.5 46h1.0v1.0h-1.0zM172.5 47h1.0v1.0h-1.0zM172.5 48h1.0v1.0h-1.0zM172.5 50h1.0v1.0h-1.0zM172.5 50.5h1.0v1.0h-1.0zM172.5 51h1.0v1.0h-1.0zM172.5 52h1.0v1.0h-1.0zM172.5 52.5h1.0v1.0h-1.0zM172.5 54h1.0v1.0h-1.0zM172.5 54.5h1.0v1.0h-1.0zM172.5 56h1.0v1.0h-1.0zM172.5 58h1.0v1.0h-1.0zM172.5 64.5h1.0v1.0h-1.0zM172.5 65.5h1.0v1.0h-1.0zM173 44h1.0v1.0h-1.0zM173 45h1.0v1.0h-1.0zM173 46h1.0v1.0h-1.0zM173 49.5h1.0v1.0h-1.0zM173 52h1.0v1.0h-1.0zM173 53h1.0v1.0h-1.0zM173 53.5h1.0v1.0h-1.0zM173 55h1.0v1.0h-1.0zM173 58.5h1.0v1.0h-1.0zM173 63.5h1.0v1.0h-1.0zM173 64.5h1.0v1.0h-1.0zM173.5 31.5h1.0v1.0h-1.0zM173.5 39h1.0v1.0h-1.0zM173.5 43.5h1.0v1.0h-1.0zM173.5 44.5h1.0v1.0h-1.0zM173.5 48.5h1.0v1.0h-1.0zM173.5 52h1.0v1.0h-1.0zM173.5 52.5h1.0v1.0h-1.0zM173.5 54h1.0v1.0h-1.0zM173.5 54.5h1.0v1.0h-1.0zM173.5 55.5h1.0v1.0h-1.0zM173.5 56.5h1.0v1.0h-1.0zM173.5 61h1.0v1.0h-1.0zM174 28h1.0v1.0h-1.0zM174 41.5h1.0v1.0h-1.0zM174 42.5h1.0v1.0h-1.0zM174 44h1.0v1.0h-1.0zM174 45.5h1.0v1.0h-1.0zM174 47h1.0v1.0h-1.0zM174 50h1.0v1.0h-1.0zM174 51.5h1.0v1.0h-1.0zM174 53.5h1.0v1.0h-1.0zM174 54.5h1.0v1.0h-1.0zM174 55.5h1.0v1.0h-1.0zM174 59.5h1.0v1.0h-1.0zM174 61.5h1.0v1.0h-1.0zM174 67h1.0v1.0h-1.0zM174 67.5h1.0v1.0h-1.0zM174 69h1.0v1.0h-1.0zM174.5 43h1.0v1.0h-1.0zM174.5 50.5h1.0v1.0h-1.0zM174.5 51h1.0v1.0h-1.0zM174.5 51.5h1.0v1.0h-1.0zM174.5 52.5h1.0v1.0h-1.0zM174.5 53h1.0v1.0h-1.0zM174.5 54h1.0v1.0h-1.0zM174.5 55h1.0v1.0h-1.0zM174.5 59h1.0v1.0h-1.0zM174.5 62h1.0v1.0h-1.0zM174.5 65h1.0v1.0h-1.0zM174.5 67h1.0v1.0h-1.0zM175 32h1.0v1.0h-1.0zM175 36.5h1.0v1.0h-1.0zM175 41h1.0v1.0h-1.0zM175 44.5h1.0v1.0h-1.0zM175 47.5h1.0v1.0h-1.0zM175 52h1.0v1.0h-1.0zM175 56h1.0v1.0h-1.0zM175 58h1.0v1.0h-1.0zM175 60h1.0v1.0h-1.0zM175 61h1.0v1.0h-1.0zM175.5 40.5h1.0v1.0h-1.0zM175.5 42h1.0v1.0h-1.0zM175.5 42.5h1.0v1.0h-1.0zM175.5 43h1.0v1.0h-1.0zM175.5 44h1.0v1.0h-1.0zM175.5 45.5h1.0v1.0h-1.0zM175.5 46.5h1.0v1.0h-1.0zM175.5 48h1.0v1.0h-1.0zM175.5 49.5h1.0v1.0h-1.0zM175.5 51.5h1.0v1.0h-1.0zM175.5 53.5h1.0v1.0h-1.0zM175.5 56.5h1.0v1.0h-1.0zM175.5 64.5h1.0v1.0h-1.0zM175.5 70.5h1.0v1.0h-1.0zM176 32.5h1.0v1.0h-1.0zM176 36.5h1.0v1.0h-1.0zM176 40.5h1.0v1.0h-1.0zM176 41h1.0v1.0h-1.0zM176 42h1.0v1.0h-1.0zM176 42.5h1.0v1.0h-1.0zM176 46.5h1.0v1.0h-1.0zM176 49.5h1.0v1.0h-1.0zM176 51h1.0v1.0h-1.0zM176 51.5h1.0v1.0h-1.0zM176 52h1.0v1.0h-1.0zM176 54h1.0v1.0h-1.0zM176 57h1.0v1.0h-1.0zM176 57.5h1.0v1.0h-1.0zM176 58h1.0v1.0h-1.0zM176.5 40.5h1.0v1.0h-1.0zM176.5 42h1.0v1.0h-1.0zM176.5 46.5h1.0v1.0h-1.0zM176.5 48.5h1.0v1.0h-1.0zM176.5 50h1.0v1.0h-1.0zM176.5 51h1.0v1.0h-1.0zM176.5 52.5h1.0v1.0h-1.0zM176.5 55.5h1.0v1.0h-1.0zM176.5 57h1.0v1.0h-1.0zM176.5 63h1.0v1.0h-1.0zM177 40.5h1.0v1.0h-1.0zM177 41h1.0v1.0h-1.0zM177 42h1.0v1.0h-1.0zM177 42.5h1.0v1.0h-1.0zM177 43.5h1.0v1.0h-1.0zM177 44.5h1.0v1.0h-1.0zM177 46h1.0v1.0h-1.0zM177 46.5h1.0v1.0h-1.0zM177 47h1.0v1.0h-1.0zM177 47.5h1.0v1.0h-1.0zM177 48.5h1.0v1.0h-1.0zM177 49h1.0v1.0h-1.0zM177 52.5h1.0v1.0h-1.0zM177 53h1.0v1.0h-1.0zM177 54h1.0v1.0h-1.0zM177 55.5h1.0v1.0h-1.0zM177 56h1.0v1.0h-1.0zM177 59.5h1.0v1.0h-1.0zM177 60.5h1.0v1.0h-1.0zM177.5 23h1.0v1.0h-1.0zM177.5 40.5h1.0v1.0h-1.0zM177.5 42h1.0v1.0h-1.0zM177.5 44.5h1.0v1.0h-1.0zM177.5 45h1.0v1.0h-1.0zM177.5 48.5h1.0v1.0h-1.0zM177.5 49h1.0v1.0h-1.0zM177.5 51.5h1.0v1.0h-1.0zM177.5 52h1.0v1.0h-1.0zM177.5 54h1.0v1.0h-1.0zM177.5 56h1.0v1.0h-1.0zM177.5 67.5h1.0v1.0h-1.0zM178 18h1.0v1.0h-1.0zM178 28h1.0v1.0h-1.0zM178 41h1.0v1.0h-1.0zM178 42.5h1.0v1.0h-1.0zM178 45h1.0v1.0h-1.0zM178 46h1.0v1.0h-1.0zM178 46.5h1.0v1.0h-1.0zM178 49.5h1.0v1.0h-1.0zM178 50.5h1.0v1.0h-1.0zM178 52h1.0v1.0h-1.0zM178 53h1.0v1.0h-1.0zM178 53.5h1.0v1.0h-1.0zM178 56.5h1.0v1.0h-1.0zM178.5 37h1.0v1.0h-1.0zM178.5 42h1.0v1.0h-1.0zM178.5 46h1.0v1.0h-1.0zM178.5 46.5h1.0v1.0h-1.0zM178.5 53.5h1.0v1.0h-1.0zM178.5 58h1.0v1.0h-1.0zM179 41h1.0v1.0h-1.0zM179 42.5h1.0v1.0h-1.0zM179 43h1.0v1.0h-1.0zM179 44h1.0v1.0h-1.0zM179 45h1.0v1.0h-1.0zM179 46.5h1.0v1.0h-1.0zM179 47h1.0v1.0h-1.0zM179 49h1.0v1.0h-1.0zM179 49.5h1.0v1.0h-1.0zM179 50h1.0v1.0h-1.0zM179 51.5h1.0v1.0h-1.0zM179 52h1.0v1.0h-1.0zM179 53.5h1.0v1.0h-1.0zM179 54.5h1.0v1.0h-1.0zM179 55.5h1.0v1.0h-1.0zM179 56.5h1.0v1.0h-1.0zM179 67.5h1.0v1.0h-1.0zM179 68h1.0v1.0h-1.0zM179.5 31.5h1.0v1.0h-1.0zM179.5 44.5h1.0v1.0h-1.0zM179.5 45h1.0v1.0h-1.0zM179.5 45.5h1.0v1.0h-1.0zM179.5 46h1.0v1.0h-1.0zM179.5 46.5h1.0v1.0h-1.0zM179.5 48h1.0v1.0h-1.0zM179.5 50h1.0v1.0h-1.0zM179.5 53h1.0v1.0h-1.0zM179.5 53.5h1.0v1.0h-1.0zM179.5 55h1.0v1.0h-1.0zM179.5 67.5h1.0v1.0h-1.0zM180 39.5h1.0v1.0h-1.0zM180 43.5h1.0v1.0h-1.0zM180 44.5h1.0v1.0h-1.0zM180 46h1.0v1.0h-1.0zM180 46.5h1.0v1.0h-1.0zM180 47.5h1.0v1.0h-1.0zM180 48h1.0v1.0h-1.0zM180 49.5h1.0v1.0h-1.0zM180 50.5h1.0v1.0h-1.0zM180 52h1.0v1.0h-1.0zM180.5 31h1.0v1.0h-1.0zM180.5 41h1.0v1.0h-1.0zM180.5 45h1.0v1.0h-1.0zM180.5 47.5h1.0v1.0h-1.0zM180.5 49h1.0v1.0h-1.0zM180.5 49.5h1.0v1.0h-1.0zM180.5 50.5h1.0v1.0h-1.0zM180.5 53.5h1.0v1.0h-1.0zM180.5 54h1.0v1.0h-1.0zM180.5 65h1.0v1.0h-1.0zM180.5 66.5h1.0v1.0h-1.0zM180.5 68h1.0v1.0h-1.0zM181 34.5h1.0v1.0h-1.0zM181 41.5h1.0v1.0h-1.0zM181 42h1.0v1.0h-1.0zM181 44h1.0v1.0h-1.0zM181 46.5h1.0v1.0h-1.0zM181 50.5h1.0v1.0h-1.0zM181 54.5h1.0v1.0h-1.0zM181 55h1.0v1.0h-1.0zM181 59.5h1.0v1.0h-1.0zM181 66.5h1.0v1.0h-1.0zM181.5 40h1.0v1.0h-1.0zM181.5 40.5h1.0v1.0h-1.0zM181.5 43h1.0v1.0h-1.0zM181.5 46h1.0v1.0h-1.0zM181.5 46.5h1.0v1.0h-1.0zM181.5 48h1.0v1.0h-1.0zM181.5 49h1.0v1.0h-1.0zM181.5 51h1.0v1.0h-1.0zM181.5 55h1.0v1.0h-1.0zM181.5 62h1.0v1.0h-1.0zM182 37h1.0v1.0h-1.0zM182 41.5h1.0v1.0h-1.0zM182 46.5h1.0v1.0h-1.0zM182 47h1.0v1.0h-1.0zM182 47.5h1.0v1.0h-1.0zM182 51.5h1.0v1.0h-1.0zM182 52h1.0v1.0h-1.0zM182 53.5h1.0v1.0h-1.0zM182 54h1.0v1.0h-1.0zM182 54.5h1.0v1.0h-1.0zM182 55h1.0v1.0h-1.0zM182 55.5h1.0v1.0h-1.0zM182 58.5h1.0v1.0h-1.0zM182.5 40h1.0v1.0h-1.0zM182.5 44h1.0v1.0h-1.0zM182.5 47h1.0v1.0h-1.0zM182.5 50h1.0v1.0h-1.0zM182.5 50.5h1.0v1.0h-1.0zM182.5 51.5h1.0v1.0h-1.0zM182.5 53.5h1.0v1.0h-1.0zM182.5 59.5h1.0v1.0h-1.0zM182.5 60.5h1.0v1.0h-1.0zM182.5 63h1.0v1.0h-1.0zM182.5 66.5h1.0v1.0h-1.0zM183 25.5h1.0v1.0h-1.0zM183 40h1.0v1.0h-1.0zM183 40.5h1.0v1.0h-1.0zM183 44.5h1.0v1.0h-1.0zM183 45h1.0v1.0h-1.0zM183 46.5h1.0v1.0h-1.0zM183 50.5h1.0v1.0h-1.0zM183 52h1.0v1.0h-1.0zM183 52.5h1.0v1.0h-1.0zM183 53h1.0v1.0h-1.0zM183 54h1.0v1.0h-1.0zM183.5 23.5h1.0v1.0h-1.0zM183.5 37h1.0v1.0h-1.0zM183.5 38.5h1.0v1.0h-1.0zM183.5 40h1.0v1.0h-1.0zM183.5 41h1.0v1.0h-1.0zM183.5 44.5h1.0v1.0h-1.0zM183.5 45h1.0v1.0h-1.0zM183.5 45.5h1.0v1.0h-1.0zM183.5 46h1.0v1.0h-1.0zM183.5 48h1.0v1.0h-1.0zM183.5 48.5h1.0v1.0h-1.0zM183.5 49h1.0v1.0h-1.0zM184 42.5h1.0v1.0h-1.0zM184 43h1.0v1.0h-1.0zM184 43.5h1.0v1.0h-1.0zM184 44.5h1.0v1.0h-1.0zM184 45h1.0v1.0h-1.0zM184 46h1.0v1.0h-1.0zM184 46.5h1.0v1.0h-1.0zM184 48h1.0v1.0h-1.0zM184 48.5h1.0v1.0h-1.0zM184 51.5h1.0v1.0h-1.0zM184 52.5h1.0v1.0h-1.0zM184 53h1.0v1.0h-1.0zM184.5 34.5h1.0v1.0h-1.0zM184.5 40.5h1.0v1.0h-1.0zM184.5 43h1.0v1.0h-1.0zM184.5 43.5h1.0v1.0h-1.0zM184.5 44h1.0v1.0h-1.0zM184.5 46.5h1.0v1.0h-1.0zM184.5 47h1.0v1.0h-1.0zM184.5 47.5h1.0v1.0h-1.0zM185 33h1.0v1.0h-1.0zM185 43h1.0v1.0h-1.0zM185 44h1.0v1.0h-1.0zM185 44.5h1.0v1.0h-1.0zM185 47h1.0v1.0h-1.0zM185 50.5h1.0v1.0h-1.0zM185.5 34h1.0v1.0h-1.0zM185.5 40h1.0v1.0h-1.0zM185.5 40.5h1.0v1.0h-1.0zM185.5 42.5h1.0v1.0h-1.0zM185.5 43.5h1.0v1.0h-1.0zM185.5 47h1.0v1.0h-1.0zM185.5 49.5h1.0v1.0h-1.0zM185.5 56.5h1.0v1.0h-1.0zM185.5 62h1.0v1.0h-1.0zM185.5 68h1.0v1.0h-1.0zM186 38.5h1.0v1.0h-1.0zM186 40.5h1.0v1.0h-1.0zM186 42.5h1.0v1.0h-1.0zM186 44h1.0v1.0h-1.0zM186 44.5h1.0v1.0h-1.0zM186 45h1.0v1.0h-1.0zM186 46.5h1.0v1.0h-1.0zM186 47h1.0v1.0h-1.0zM186 49.5h1.0v1.0h-1.0zM186.5 41.5h1.0v1.0h-1.0zM186.5 44h1.0v1.0h-1.0zM186.5 47.5h1.0v1.0h-1.0zM187 42.5h1.0v1.0h-1.0zM187 46.5h1.0v1.0h-1.0zM187 54h1.0v1.0h-1.0zM187.5 40h1.0v1.0h-1.0zM187.5 44h1.0v1.0h-1.0zM187.5 53h1.0v1.0h-1.0zM188.5 48.5h1.0v1.0h-1.0zM188.5 49h1.0v1.0h-1.0zM189 46h1.0v1.0h-1.0zM189.5 51.5h1.0v1.0h-1.0zM189.5 56.5h1.0v1.0h-1.0zM190 34.5h1.0v1.0h-1.0zM190 36h1.0v1.0h-1.0zM190 47h1.0v1.0h-1.0zM190 48.5h1.0v1.0h-1.0zM190 49.5h1.0v1.0h-1.0zM191 66h1.0v1.0h-1.0zM191.5 48.5h1.0v1.0h-1.0zM195.5 35.5h1.0v1.0h-1.0zM197 62.5h1.0v1.0h-1.0zM203 42h1.0v1.0h-1.0zM203 50.5h1.0v1.0h-1.0zM206.5 50.5h1.0v1.0h-1.0zM209.5 49.5h1.0v1.0h-1.0zM209.5 50h1.0v1.0h-1.0zM210 57h1.0v1.0h-1.0zM210.5 52.5h1.0v1.0h-1.0zM211 36h1.0v1.0h-1.0zM211 45.5h1.0v1.0h-1.0zM211 47.5h1.0v1.0h-1.0zM211.5 51h1.0v1.0h-1.0zM212 52h1.0v1.0h-1.0zM213 33h1.0v1.0h-1.0zM213.5 36h1.0v1.0h-1.0zM214 49.5h1.0v1.0h-1.0zM214.5 36.5h1.0v1.0h-1.0zM215.5 28h1.0v1.0h-1.0zM216 42h1.0v1.0h-1.0zM216.5 42.5h1.0v1.0h-1.0zM217.5 53h1.0v1.0h-1.0zM218 30.5h1.0v1.0h-1.0zM218 31h1.0v1.0h-1.0zM219 34.5h1.0v1.0h-1.0zM221 32.5h1.0v1.0h-1.0z" fill="#000" fill-opacity="0.64"/>
<path d="M155 43.5h1.0v1.0h-1.0zM157 44h1.0v1.0h-1.0zM159 57.5h1.0v1.0h-1.0zM159.5 50h1.0v1.0h-1.0zM159.5 63h1.0v1.0h-1.0zM160.5 60h1.0v1.0h-1.0zM161.5 47.5h1.0v1.0h-1.0zM162.5 63.5h1.0v1.0h-1.0zM163 57.5h1.0v1.0h-1.0zM163 58h1.0v1.0h-1.0zM163 60h1.0v1.0h-1.0zM163 64h1.0v1.0h-1.0zM163.5 46h1.0v1.0h-1.0zM163.5 51h1.0v1.0h-1.0zM163.5 52h1.0v1.0h-1.0zM163.5 56h1.0v1.0h-1.0zM163.5 57h1.0v1.0h-1.0zM163.5 65.5h1.0v1.0h-1.0zM164 44h1.0v1.0h-1.0zM164 44.5h1.0v1.0h-1.0zM164 45h1.0v1.0h-1.0zM164 47h1.0v1.0h-1.0zM164 49h1.0v1.0h-1.0zM164 52h1.0v1.0h-1.0zM164 57h1.0v1.0h-1.0zM164 57.5h1.0v1.0h-1.0zM164.5 46.5h1.0v1.0h-1.0zM164.5 51.5h1.0v1.0h-1.0zM164.5 52h1.0v1.0h-1.0zM164.5 52.5h1.0v1.0h-1.0zM164.5 53h1.0v1.0h-1.0zM164.5 55h1.0v1.0h-1.0zM164.5 56h1.0v1.0h-1.0zM164.5 57h1.0v1.0h-1.0zM164.5 58h1.0v1.0h-1.0zM164.5 64.5h1.0v1.0h-1.0zM165 39.5h1.0v1.0h-1.0zM165 43h1.0v1.0h-1.0zM165 44h1.0v1.0h-1.0zM165 46.5h1.0v1.0h-1.0zM165 47.5h1.0v1.0h-1.0zM165 48.5h1.0v1.0h-1.0zM165 52h1.0v1.0h-1.0zM165 58.5h1.0v1.0h-1.0zM165.5 44.5h1.0v1.0h-1.0zM165.5 49.5h1.0v1.0h-1.0zM165.5 52.5h1.0v1.0h-1.0zM165.5 53.5h1.0v1.0h-1.0zM165.5 54h1.0v1.0h-1.0zM165.5 58h1.0v1.0h-1.0zM165.5 60.5h1.0v1.0h-1.0zM166 44h1.0v1.0h-1.0zM166 45h1.0v1.0h-1.0zM166 45.5h1.0v1.0h-1.0zM166 47h1.0v1.0h-1.0zM166 48h1.0v1.0h-1.0zM166 49h1.0v1.0h-1.0zM166 49.5h1.0v1.0h-1.0zM166 50h1.0v1.0h-1.0zM166 52h1.0v1.0h-1.0zM166 54.5h1.0v1.0h-1.0zM166 55h1.0v1.0h-1.0zM166 57h1.0v1.0h-1.0zM166 57.5h1.0v1.0h-1.0zM166 58h1.0v1.0h-1.0zM166.5 43h1.0v1.0h-1.0zM166.5 46h1.0v1.0h-1.0zM166.5 47h1.0v1.0h-1.0zM166.5 48h1.0v1.0h-1.0zM166.5 50h1.0v1.0h-1.0zM166.5 51h1.0v1.0h-1.0zM166.5 52h1.0v1.0h-1.0zM166.5 56h1.0v1.0h-1.0zM166.5 61.5h1.0v1.0h-1.0zM166.5 64h1.0v1.0h-1.0zM167 41.5h1.0v1.0h-1.0zM167 43h1.0v1.0h-1.0zM167 43.5h1.0v1.0h-1.0zM167 48h1.0v1.0h-1.0zM167 48.5h1.0v1.0h-1.0zM167 50h1.0v1.0h-1.0zM167 53h1.0v1.0h-1.0zM167 55h1.0v1.0h-1.0zM167 56.5h1.0v1.0h-1.0zM167 57.5h1.0v1.0h-1.0zM167 58h1.0v1.0h-1.0zM167 58.5h1.0v1.0h-1.0zM167 63h1.0v1.0h-1.0zM167.5 14h1.0v1.0h-1.0zM167.5 35h1.0v1.0h-1.0zM167.5 41.5h1.0v1.0h-1.0zM167.5 47h1.0v1.0h-1.0zM167.5 50.5h1.0v1.0h-1.0zM167.5 52h1.0v1.0h-1.0zM167.5 54h1.0v1.0h-1.0zM167.5 54.5h1.0v1.0h-1.0zM167.5 57h1.0v1.0h-1.0zM167.5 62.5h1.0v1.0h-1.0zM167.5 68h1.0v1.0h-1.0zM168 42.5h1.0v1.0h-1.0zM168 43.5h1.0v1.0h-1.0zM168 44.5h1.0v1.0h-1.0zM168 48h1.0v1.0h-1.0zM168 49.5h1.0v1.0h-1.0zM168 50h1.0v1.0h-1.0zM168 50.5h1.0v1.0h-1.0zM168 51h1.0v1.0h-1.0zM168 51.5h1.0v1.0h-1.0zM168 52h1.0v1.0h-1.0zM168 53h1.0v1.0h-1.0zM168 53.5h1.0v1.0h-1.0zM168 55h1.0v1.0h-1.0zM168 56h1.0v1.0h-1.0zM168 57.5h1.0v1.0h-1.0zM168 59.5h1.0v1.0h-1.0zM168 67.5h1.0v1.0h-1.0zM168 70h1.0v1.0h-1.0zM168.5 45.5h1.0v1.0h-1.0zM168.5 47.5h1.0v1.0h-1.0zM168.5 49h1.0v1.0h-1.0zM168.5 50.5h1.0v1.0h-1.0zM168.5 51.5h1.0v1.0h-1.0zM168.5 53h1.0v1.0h-1.0zM168.5 55.5h1.0v1.0h-1.0zM168.5 56h1.0v1.0h-1.0zM168.5 58h1.0v1.0h-1.0zM168.5 65h1.0v1.0h-1.0zM168.5 68.5h1.0v1.0h-1.0zM169 41.5h1.0v1.0h-1.0zM169 44h1.0v1.0h-1.0zM169 45.5h1.0v1.0h-1.0zM169 47.5h1.0v1.0h-1.0zM169 49h1.0v1.0h-1.0zM169 51.5h1.0v1.0h-1.0zM169 53.5h1.0v1.0h-1.0zM169 58h1.0v1.0h-1.0zM169 66h1.0v1.0h-1.0zM169.5 41.5h1.0v1.0h-1.0zM169.5 45.5h1.0v1.0h-1.0zM169.5 47.5h1.0v1.0h-1.0zM169.5 49h1.0v1.0h-1.0zM169.5 49.5h1.0v1.0h-1.0zM169.5 51.5h1.0v1.0h-1.0zM169.5 52h1.0v1.0h-1.0zM169.5 54.5h1.0v1.0h-1.0zM169.5 57.5h1.0v1.0h-1.0zM169.5 63h1.0v1.0h-1.0zM170 42.5h1.0v1.0h-1.0zM170 47h1.0v1.0h-1.0zM170 49h1.0v1.0h-1.0zM170 51.5h1.0v1.0h-1.0zM170 52h1.0v1.0h-1.0zM170 54.5h1.0v1.0h-1.0zM170 56h1.0v1.0h-1.0zM170 56.5h1.0v1.0h-1.0zM170 57.5h1.0v1.0h-1.0zM170.5 42.5h1.0v1.0h-1.0zM170.5 44h1.0v1.0h-1.0zM170.5 47.5h1.0v1.0h-1.0zM170.5 49h1.0v1.0h-1.0zM170.5 49.5h1.0v1.0h-1.0zM170.5 51.5h1.0v1.0h-1.0zM170.5 53h1.0v1.0h-1.0zM170.5 53.5h1.0v1.0h-1.0zM170.5 54h1.0v1.0h-1.0zM170.5 62.5h1.0v1.0h-1.0zM170.5 64h1.0v1.0h-1.0zM171 44h1.0v1.0h-1.0zM171 47h1.0v1.0h-1.0zM171 49.5h1.0v1.0h-1.0zM171 50.5h1.0v1.0h-1.0zM171 51.5h1.0v1.0h-1.0zM171 52h1.0v1.0h-1.0zM171 52.5h1.0v1.0h-1.0zM171 53.5h1.0v1.0h-1.0zM171 56h1.0v1.0h-1.0zM171 56.5h1.0v1.0h-1.0zM171 60h1.0v1.0h-1.0zM171 68h1.0v1.0h-1.0zM171.5 39h1.0v1.0h-1.0zM171.5 44h1.0v1.0h-1.0zM171.5 45h1.0v1.0h-1.0zM171.5 46h1.0v1.0h-1.0zM171.5 48.5h1.0v1.0h-1.0zM171.5 50.5h1.0v1.0h-1.0zM171.5 52h1.0v1.0h-1.0zM171.5 55h1.0v1.0h-1.0zM171.5 56h1.0v1.0h-1.0zM171.5 57h1.0v1.0h-1.0zM171.5 58.5h1.0v1.0h-1.0zM171.5 61h1.0v1.0h-1.0zM171.5 63h1.0v1.0h-1.0zM171.5 67h1.0v1.0h-1.0zM172 30.5h1.0v1.0h-1.0zM172 38h1.0v1.0h-1.0zM172 41.5h1.0v1.0h-1.0zM172 42h1.0v1.0h-1.0zM172 44.5h1.0v1.0h-1.0zM172 45h1.0v1.0h-1.0zM172 45.5h1.0v1.0h-1.0zM172 48.5h1.0v1.0h-1.0zM172 50h1.0v1.0h-1.0zM172 50.5h1.0v1.0h-1.0zM172 51h1.0v1.0h-1.0zM172 51.5h1.0v1.0h-1.0zM172 52h1.0v1.0h-1.0zM172 52.5h1.0v1.0h-1.0zM172 56h1.0v1.0h-1.0zM172 60.5h1.0v1.0h-1.0zM172 63.5h1.0v1.0h-1.0zM172.5 41.5h1.0v1.0h-1.0zM172.5 43h1.0v1.0h-1.0zM172.5 44h1.0v1.0h-1.0zM172.5 44.5h1.0v1.0h-1.0zM172.5 45h1.0v1.0h-1.0zM172.5 46h1.0v1.0h-1.0zM172.5 46.5h1.0v1.0h-1.0zM172.5 47h1.0v1.0h-1.0zM172.5 47.5h1.0v1.0h-1.0zM172.5 48h1.0v1.0h-1.0zM172.5 49.5h1.0v1.0h-1.0zM172.5 50h1.0v1.0h-1.0zM172.5 51h1.0v1.0h-1.0zM172.5 51.5h1.0v1.0h-1.0zM172.5 54h1.0v1.0h-1.0zM172.5 57.5h1.0v1.0h-1.0zM172.5 61.5h1.0v1.0h-1.0zM173 42.5h1.0v1.0h-1.0zM173 48h1.0v1.0h-1.0zM173 50h1.0v1.0h-1.0zM173 51.5h1.0v1.0h-1.0zM173 53.5h1.0v1.0h-1.0zM173 56.5h1.0v1.0h-1.0zM173.5 40.5h1.0v1.0h-1.0zM173.5 42h1.0v1.0h-1.0zM173.5 42.5h1.0v1.0h-1.0zM173.5 44.5h1.0v1.0h-1.0zM173.5 45h1.0v1.0h-1.0zM173.5 45.5h1.0v1.0h-1.0zM173.5 48h1.0v1.0h-1.0zM173.5 48.5h1.0v1.0h-1.0zM173.5 49.5h1.0v1.0h-1.0zM173.5 51.5h1.0v1.0h-1.0zM173.5 53h1.0v1.0h-1.0zM173.5 57.5h1.0v1.0h-1.0zM173.5 58.5h1.0v1.0h-1.0zM173.5 62.5h1.0v1.0h-1.0zM173.5 67h1.0v1.0h-1.0zM174 28.5h1.0v1.0h-1.0zM174 38.5h1.0v1.0h-1.0zM174 40h1.0v1.0h-1.0zM174 41.5h1.0v1.0h-1.0zM174 43.5h1.0v1.0h-1.0zM174 47h1.0v1.0h-1.0zM174 52h1.0v1.0h-1.0zM174 54h1.0v1.0h-1.0zM174 54.5h1.0v1.0h-1.0zM174 55h1.0v1.0h-1.0zM174 61h1.0v1.0h-1.0zM174 61.5h1.0v1.0h-1.0zM174 64h1.0v1.0h-1.0zM174 65h1.0v1.0h-1.0zM174 66h1.0v1.0h-1.0zM174.5 41h1.0v1.0h-1.0zM174.5 43.5h1.0v1.0h-1.0zM174.5 46.5h1.0v1.0h-1.0zM174.5 47.5h1.0v1.0h-1.0zM174.5 51h1.0v1.0h-1.0zM174.5 52.5h1.0v1.0h-1.0zM174.5 53.5h1.0v1.0h-1.0zM174.5 55.5h1.0v1.0h-1.0zM174.5 56h1.0v1.0h-1.0zM174.5 56.5h1.0v1.0h-1.0zM174.5 68h1.0v1.0h-1.0zM175 37h1.0v1.0h-1.0zM175 38h1.0v1.0h-1.0zM175 40.5h1.0v1.0h-1.0zM175 41.5h1.0v1.0h-1.0zM175 44.5h1.0v1.0h-1.0zM175 46h1.0v1.0h-1.0zM175 46.5h1.0v1.0h-1.0zM175 48h1.0v1.0h-1.0zM175 51.5h1.0v1.0h-1.0zM175 52h1.0v1.0h-1.0zM175 54h1.0v1.0h-1.0zM175 57h1.0v1.0h-1.0zM175 62.5h1.0v1.0h-1.0zM175.5 33.5h1.0v1.0h-1.0zM175.5 44h1.0v1.0h-1.0zM175.5 45.5h1.0v1.0h-1.0zM175.5 46h1.0v1.0h-1.0zM175.5 51.5h1.0v1.0h-1.0zM175.5 52.5h1.0v1.0h-1.0zM175.5 53h1.0v1.0h-1.0zM175.5 54.5h1.0v1.0h-1.0zM175.5 55.5h1.0v1.0h-1.0zM175.5 56h1.0v1.0h-1.0zM175.5 58h1.0v1.0h-1.0zM175.5 58.5h1.0v1.0h-1.0zM176 36.5h1.0v1.0h-1.0zM176 41h1.0v1.0h-1.0zM176 43.5h1.0v1.0h-1.0zM176 45.5h1.0v1.0h-1.0zM176 46.5h1.0v1.0h-1.0zM176 48h1.0v1.0h-1.0zM176 50.5h1.0v1.0h-1.0zM176 51.5h1.0v1.0h-1.0zM176 52.5h1.0v1.0h-1.0zM176 54.5h1.0v1.0h-1.0zM176 57h1.0v1.0h-1.0zM176 57.5h1.0v1.0h-1.0zM176 66h1.0v1.0h-1.0zM176 67.5h1.0v1.0h-1.0zM176.5 34.5h1.0v1.0h-1.0zM176.5 41.5h1.0v1.0h-1.0zM176.5 45h1.0v1.0h-1.0zM176.5 46h1.0v1.0h-1.0zM176.5 51h1.0v1.0h-1.0zM176.5 52.5h1.0v1.0h-1.0zM176.5 53h1.0v1.0h-1.0zM176.5 53.5h1.0v1.0h-1.0zM176.5 54.5h1.0v1.0h-1.0zM176.5 56.5h1.0v1.0h-1.0zM176.5 57.5h1.0v1.0h-1.0zM176.5 60.5h1.0v1.0h-1.0zM177 29.5h1.0v1.0h-1.0zM177 40h1.0v1.0h-1.0zM177 41h1.0v1.0h-1.0zM177 41.5h1.0v1.0h-1.0zM177 42h1.0v1.0h-1.0zM177 42.5h1.0v1.0h-1.0zM177 46h1.0v1.0h-1.0zM177 47h1.0v1.0h-1.0zM177 48h1.0v1.0h-1.0zM177 49.5h1.0v1.0h-1.0zM177 50.5h1.0v1.0h-1.0zM177 51.5h1.0v1.0h-1.0zM177 54h1.0v1.0h-1.0zM177 56.5h1.0v1.0h-1.0zM177.5 42h1.0v1.0h-1.0zM177.5 42.5h1.0v1.0h-1.0zM177.5 49.5h1.0v1.0h-1.0zM177.5 50.5h1.0v1.0h-1.0zM177.5 52h1.0v1.0h-1.0zM177.5 54.5h1.0v1.0h-1.0zM177.5 55h1.0v1.0h-1.0zM177.5 55.5h1.0v1.0h-1.0zM177.5 57h1.0v1.0h-1.0zM177.5 62h1.0v1.0h-1.0zM178 28h1.0v1.0h-1.0zM178 38h1.0v1.0h-1.0zM178 43.5h1.0v1.0h-1.0zM178 45.5h1.0v1.0h-1.0zM178 47.5h1.0v1.0h-1.0zM178 49h1.0v1.0h-1.0zM178 51.5h1.0v1.0h-1.0zM178 53h1.0v1.0h-1.0zM178 54.5h1.0v1.0h-1.0zM178 55.5h1.0v1.0h-1.0zM178 56h1.0v1.0h-1.0zM178 58h1.0v1.0h-1.0zM178 73.5h1.0v1.0h-1.0zM178.5 30.5h1.0v1.0h-1.0zM178.5 41h1.0v1.0h-1.0zM178.5 41.5h1.0v1.0h-1.0zM178.5 43h1.0v1.0h-1.0zM178.5 44.5h1.0v1.0h-1.0zM178.5 45h1.0v1.0h-1.0zM178.5 45.5h1.0v1.0h-1.0zM178.5 47h1.0v1.0h-1.0zM178.5 48h1.0v1.0h-1.0zM178.5 48.5h1.0v1.0h-1.0zM178.5 53h1.0v1.0h-1.0zM178.5 53.5h1.0v1.0h-1.0zM178.5 55h1.0v1.0h-1.0zM179 28h1.0v1.0h-1.0zM179 41h1.0v1.0h-1.0zM179 42h1.0v1.0h-1.0zM179 44.5h1.0v1.0h-1.0zM179 45h1.0v1.0h-1.0zM179 49.5h1.0v1.0h-1.0zM179 56h1.0v1.0h-1.0zM179.5 24.5h1.0v1.0h-1.0zM179.5 33h1.0v1.0h-1.0zM179.5 38h1.0v1.0h-1.0zM179.5 41h1.0v1.0h-1.0zM179.5 41.5h1.0v1.0h-1.0zM179.5 42h1.0v1.0h-1.0zM179.5 43.5h1.0v1.0h-1.0zM179.5 45.5h1.0v1.0h-1.0zM179.5 47h1.0v1.0h-1.0zM179.5 52h1.0v1.0h-1.0zM179.5 56h1.0v1.0h-1.0zM179.5 62h1.0v1.0h-1.0zM180 38h1.0v1.0h-1.0zM180 41h1.0v1.0h-1.0zM180 42.5h1.0v1.0h-1.0zM180 43h1.0v1.0h-1.0zM180 43.5h1.0v1.0h-1.0zM180 44.5h1.0v1.0h-1.0zM180 46.5h1.0v1.0h-1.0zM180 48h1.0v1.0h-1.0zM180 50.5h1.0v1.0h-1.0zM180 52h1.0v1.0h-1.0zM180 52.5h1.0v1.0h-1.0zM180 55h1.0v1.0h-1.0zM180 56h1.0v1.0h-1.0zM180 68.5h1.0v1.0h-1.0zM180.5 31h1.0v1.0h-1.0zM180.5 41h1.0v1.0h-1.0zM180.5 42h1.0v1.0h-1.0zM180.5 42.5h1.0v1.0h-1.0zM180.5 43.5h1.0v1.0h-1.0zM180.5 44.5h1.0v1.0h-1.0zM180.5 50h1.0v1.0h-1.0zM180.5 50.5h1.0v1.0h-1.0zM180.5 51h1.0v1.0h-1.0zM180.5 51.5h1.0v1.0h-1.0zM180.5 52h1.0v1.0h-1.0zM180.5 53.5h1.0v1.0h-1.0zM180.5 56h1.0v1.0h-1.0zM180.5 60h1.0v1.0h-1.0zM180.5 61.5h1.0v1.0h-1.0zM180.5 64h1.0v1.0h-1.0zM181 36h1.0v1.0h-1.0zM181 41.5h1.0v1.0h-1.0zM181 43h1.0v1.0h-1.0zM181 45h1.0v1.0h-1.0zM181 45.5h1.0v1.0h-1.0zM181 47.5h1.0v1.0h-1.0zM181 49h1.0v1.0h-1.0zM181 53h1.0v1.0h-1.0zM181 54h1.0v1.0h-1.0zM181 54.5h1.0v1.0h-1.0zM181 55h1.0v1.0h-1.0zM181 58h1.0v1.0h-1.0zM181 62h1.0v1.0h-1.0zM181.5 40h1.0v1.0h-1.0zM181.5 42h1.0v1.0h-1.0zM181.5 42.5h1.0v1.0h-1.0zM181.5 43h1.0v1.0h-1.0zM181.5 45.5h1.0v1.0h-1.0zM181.5 48h1.0v1.0h-1.0zM181.5 48.5h1.0v1.0h-1.0zM181.5 49h1.0v1.0h-1.0zM181.5 50h1.0v1.0h-1.0zM181.5 50.5h1.0v1.0h-1.0zM181.5 52.5h1.0v1.0h-1.0zM181.5 56h1.0v1.0h-1.0zM182 40h1.0v1.0h-1.0zM182 42.5h1.0v1.0h-1.0zM182 45h1.0v1.0h-1.0zM182 45.5h1.0v1.0h-1.0zM182 46h1.0v1.0h-1.0zM182 46.5h1.0v1.0h-1.0zM182 47.5h1.0v1.0h-1.0zM182 48.5h1.0v1.0h-1.0zM182 50h1.0v1.0h-1.0zM182 51h1.0v1.0h-1.0zM182 51.5h1.0v1.0h-1.0zM182 53h1.0v1.0h-1.0zM182 54.5h1.0v1.0h-1.0zM182 60h1.0v1.0h-1.0zM182 61h1.0v1.0h-1.0zM182.5 44h1.0v1.0h-1.0zM182.5 48h1.0v1.0h-1.0zM182.5 50h1.0v1.0h-1.0zM182.5 51.5h1.0v1.0h-1.0zM182.5 53.5h1.0v1.0h-1.0zM182.5 54h1.0v1.0h-1.0zM182.5 54.5h1.0v1.0h-1.0zM182.5 57h1.0v1.0h-1.0zM183 31h1.0v1.0h-1.0zM183 43.5h1.0v1.0h-1.0zM183 47.5h1.0v1.0h-1.0zM183 48h1.0v1.0h-1.0zM183 48.5h1.0v1.0h-1.0zM183 53.5h1.0v1.0h-1.0zM183 60h1.0v1.0h-1.0zM183 65.5h1.0v1.0h-1.0zM183.5 32.5h1.0v1.0h-1.0zM183.5 40h1.0v1.0h-1.0zM183.5 41.5h1.0v1.0h-1.0zM183.5 51.5h1.0v1.0h-1.0zM183.5 53h1.0v1.0h-1.0zM183.5 62.5h1.0v1.0h-1.0zM184 41h1.0v1.0h-1.0zM184 41.5h1.0v1.0h-1.0zM184 43h1.0v1.0h-1.0zM184 44.5h1.0v1.0h-1.0zM184 45h1.0v1.0h-1.0zM184 46h1.0v1.0h-1.0zM184 48.5h1.0v1.0h-1.0zM184 50.5h1.0v1.0h-1.0zM184 51h1.0v1.0h-1.0zM184 56h1.0v1.0h-1.0zM184 59h1.0v1.0h-1.0zM184.5 40h1.0v1.0h-1.0zM184.5 41.5h1.0v1.0h-1.0zM184.5 43h1.0v1.0h-1.0zM184.5 44.5h1.0v1.0h-1.0zM184.5 45.5h1.0v1.0h-1.0zM184.5 46.5h1.0v1.0h-1.0zM184.5 47h1.0v1.0h-1.0zM184.5 47.5h1.0v1.0h-1.0zM184.5 49h1.0v1.0h-1.0zM184.5 49.5h1.0v1.0h-1.0zM184.5 50h1.0v1.0h-1.0zM184.5 51h1.0v1.0h-1.0zM184.5 52h1.0v1.0h-1.0zM184.5 62h1.0v1.0h-1.0zM185 24.5h1.0v1.0h-1.0zM185 25h1.0v1.0h-1.0zM185 43.5h1.0v1.0h-1.0zM185 44h1.0v1.0h-1.0zM185 49h1.0v1.0h-1.0zM185 50h1.0v1.0h-1.0zM185.5 42.5h1.0v1.0h-1.0zM185.5 43h1.0v1.0h-1.0zM185.5 43.5h1.0v1.0h-1.0zM185.5 44h1.0v1.0h-1.0zM185.5 49.5h1.0v1.0h-1.0zM186 39.5h1.0v1.0h-1.0zM186 40h1.0v1.0h-1.0zM186 40.5h1.0v1.0h-1.0zM186 41h1.0v1.0h-1.0zM186 41.5h1.0v1.0h-1.0zM186 42h1.0v1.0h-1.0zM186 44h1.0v1.0h-1.0zM186 45h1.0v1.0h-1.0zM186 47h1.0v1.0h-1.0zM186 48.5h1.0v1.0h-1.0zM186 51.5h1.0v1.0h-1.0zM186.5 40h1.0v1.0h-1.0zM186.5 43.5h1.0v1.0h-1.0zM186.5 45.5h1.0v1.0h-1.0zM186.5 46.5h1.0v1.0h-1.0zM186.5 57h1.0v1.0h-1.0zM187 19.5h1.0v1.0h-1.0zM187 43h1.0v1.0h-1.0zM187 44.5h1.0v1.0h-1.0zM187 45h1.0v1.0h-1.0zM187 46h1.0v1.0h-1.0zM187 47h1.0v1.0h-1.0zM187 50h1.0v1.0h-1.0zM187 52.5h1.0v1.0h-1.0zM187.5 44h1.0v1.0h-1.0zM188.5 51.5h1.0v1.0h-1.0zM189 50h1.0v1.0h-1.0zM189.5 50h1.0v1.0h-1.0zM190 45.5h1.0v1.0h-1.0zM191 49.5h1.0v1.0h-1.0zM193.5 44.5h1.0v1.0h-1.0zM198.5 11.5h1.0v1.0h-1.0zM198.5 33.5h1.0v1.0h-1.0zM207.5 46.5h1.0v1.0h-1.0zM208.5 39.5h1.0v1.0h-1.0zM209 32.5h1.0v1.0h-1.0zM210.5 33h1.0v1.0h-1.0zM211 32h1.0v1.0h-1.0zM211 45h1.0v1.0h-1.0zM211.5 55h1.0v1.0h-1.0zM212 41.5h1.0v1.0h-1.0zM212 48h1.0v1.0h-1.0zM212 50.5h1.0v1.0h-1.0zM213.5 29.5h1.0v1.0h-1.0zM213.5 31h1.0v1.0h-1.0zM214 44h1.0v1.0h-1.0zM214.5 33.5h1.0v1.0h-1.0zM214.5 39.5h1.0v1.0h-1.0zM216 42.5h1.0v1.0h-1.0zM216.5 54.5h1.0v1.0h-1.0zM219.5 36h1.0v1.0h-1.0z" fill="#000" fill-opacity="0.64"/>
</g></g>
<rect x="162.8" y="10.5" width="59.89999999999998" height="58.900000000000006" fill="none" stroke="#333" stroke-width="1"/>
<line x1="185.8" y1="10.5" x2="185.8" y2="69.4" stroke="#333" stroke-width="0.95" />
<line x1="162.8" y1="44.4" x2="222.7" y2="44.4" stroke="#333" stroke-width="0.95" />
<g transform="translate(166.2,24.6) scale(0.85,1)"><text x="0" y="0" font-size="8.2" text-anchor="start" fill="#1a1a1a" stroke="#1a1a1a" stroke-width="0.3">Q1</text></g>
<g transform="translate(221.2,24.6) scale(0.85,1)"><text x="0" y="0" font-size="8.2" text-anchor="end" fill="#1a1a1a" stroke="#1a1a1a" stroke-width="0.3">Q2</text></g>
<g transform="translate(221.0,65.5) scale(0.85,1)"><text x="0" y="0" font-size="8.2" text-anchor="end" fill="#1a1a1a" stroke="#1a1a1a" stroke-width="0.3">Q4</text></g>
<ellipse cx="204.4" cy="10.6" rx="2" ry="0.9" fill="#000"/>
<path d="M171.8 69.4 v7M186.5 69.4 v7M201.2 69.4 v7M215.8 69.4 v7" stroke="#111" stroke-width="1" fill="none"/>
<path d="M164.1 69.4 v4.5M166.0 69.4 v4.5M167.4 69.4 v4.5M168.5 69.4 v4.5M169.5 69.4 v4.5M170.4 69.4 v4.5M171.1 69.4 v4.5M176.2 69.4 v4.5M178.8 69.4 v4.5M180.6 69.4 v4.5M182.1 69.4 v4.5M183.2 69.4 v4.5M184.2 69.4 v4.5M185.1 69.4 v4.5M185.8 69.4 v4.5M190.9 69.4 v4.5M193.5 69.4 v4.5M195.3 69.4 v4.5M196.7 69.4 v4.5M197.9 69.4 v4.5M198.9 69.4 v4.5M199.7 69.4 v4.5M200.5 69.4 v4.5M205.6 69.4 v4.5M208.2 69.4 v4.5M210.0 69.4 v4.5M211.4 69.4 v4.5M212.6 69.4 v4.5M213.6 69.4 v4.5M214.4 69.4 v4.5M215.2 69.4 v4.5M220.2 69.4 v4.5" stroke="#333" stroke-width="0.8" fill="none"/>
<g transform="translate(169.5,85.5) scale(0.68,1)"><text x="0" y="0" font-size="7.6" font-weight="bold" text-anchor="middle" fill="#1a1a1a">10</text></g>
<text x="172.3" y="80.9" font-size="5.3" font-weight="bold" fill="#1a1a1a">2</text>
<g transform="translate(184.2,85.5) scale(0.68,1)"><text x="0" y="0" font-size="7.6" font-weight="bold" text-anchor="middle" fill="#1a1a1a">10</text></g>
<text x="187.0" y="80.9" font-size="5.3" font-weight="bold" fill="#1a1a1a">3</text>
<g transform="translate(198.9,85.5) scale(0.68,1)"><text x="0" y="0" font-size="7.6" font-weight="bold" text-anchor="middle" fill="#1a1a1a">10</text></g>
<text x="201.7" y="80.9" font-size="5.3" font-weight="bold" fill="#1a1a1a">4</text>
<g transform="translate(213.5,85.5) scale(0.68,1)"><text x="0" y="0" font-size="7.6" font-weight="bold" text-anchor="middle" fill="#1a1a1a">10</text></g>
<text x="216.3" y="80.9" font-size="5.3" font-weight="bold" fill="#1a1a1a">5</text>
<path d="M162.8 61.4 h-5M162.8 47.0 h-5M162.8 32.5 h-5M162.8 18.1 h-5" stroke="#000" stroke-width="1.6" fill="none"/>
<path d="M162.8 67.1 h-3.3M162.8 65.7 h-3.3M162.8 64.6 h-3.3M162.8 63.6 h-3.3M162.8 62.8 h-3.3M162.8 62.1 h-3.3M162.8 57.1 h-3.3M162.8 54.5 h-3.3M162.8 52.7 h-3.3M162.8 51.3 h-3.3M162.8 50.2 h-3.3M162.8 49.2 h-3.3M162.8 48.4 h-3.3M162.8 47.6 h-3.3M162.8 42.6 h-3.3M162.8 40.1 h-3.3M162.8 38.3 h-3.3M162.8 36.9 h-3.3M162.8 35.7 h-3.3M162.8 34.8 h-3.3M162.8 33.9 h-3.3M162.8 33.2 h-3.3M162.8 28.2 h-3.3M162.8 25.7 h-3.3M162.8 23.9 h-3.3M162.8 22.5 h-3.3M162.8 21.3 h-3.3M162.8 20.3 h-3.3M162.8 19.5 h-3.3M162.8 18.8 h-3.3M162.8 13.8 h-3.3" stroke="#111" stroke-width="0.9" fill="none"/>
<g transform="translate(157.4,61.2) rotate(-90) scale(0.78,1)"><text x="0" y="0" font-size="7.4" font-weight="bold" text-anchor="middle" fill="#1a1a1a">10</text></g>
<text transform="translate(152.8,57.8) rotate(-90)" font-size="5.3" font-weight="bold" fill="#1a1a1a">2</text>
<g transform="translate(157.4,46.8) rotate(-90) scale(0.78,1)"><text x="0" y="0" font-size="7.4" font-weight="bold" text-anchor="middle" fill="#1a1a1a">10</text></g>
<text transform="translate(152.8,43.4) rotate(-90)" font-size="5.3" font-weight="bold" fill="#1a1a1a">3</text>
<g transform="translate(157.4,32.3) rotate(-90) scale(0.78,1)"><text x="0" y="0" font-size="7.4" font-weight="bold" text-anchor="middle" fill="#1a1a1a">10</text></g>
<text transform="translate(152.8,28.9) rotate(-90)" font-size="5.3" font-weight="bold" fill="#1a1a1a">4</text>
<g transform="translate(157.4,17.9) rotate(-90) scale(0.78,1)"><text x="0" y="0" font-size="7.4" font-weight="bold" text-anchor="middle" fill="#1a1a1a">10</text></g>
<text transform="translate(152.8,14.5) rotate(-90)" font-size="5.3" font-weight="bold" fill="#1a1a1a">5</text>
<clipPath id="c3"><rect x="60.5" y="88.5" width="58.7" height="58.5"/></clipPath>
<g clip-path="url(#c3)"><g filter="url(#bl)">
<path d="M52.5 123.5h1.0v1.0h-1.0zM55.5 125h1.0v1.0h-1.0zM56 124.5h1.0v1.0h-1.0zM56 136h1.0v1.0h-1.0zM56.5 126h1.0v1.0h-1.0zM58 149h1.0v1.0h-1.0zM58.5 117h1.0v1.0h-1.0zM58.5 122.5h1.0v1.0h-1.0zM58.5 128.5h1.0v1.0h-1.0zM58.5 133.5h1.0v1.0h-1.0zM59 130h1.0v1.0h-1.0zM59 131h1.0v1.0h-1.0zM59.5 126h1.0v1.0h-1.0zM59.5 126.5h1.0v1.0h-1.0zM59.5 138.5h1.0v1.0h-1.0zM60 120.5h1.0v1.0h-1.0zM60 128h1.0v1.0h-1.0zM60 129.5h1.0v1.0h-1.0zM60 131h1.0v1.0h-1.0zM60 134.5h1.0v1.0h-1.0zM60.5 113h1.0v1.0h-1.0zM60.5 121.5h1.0v1.0h-1.0zM60.5 142h1.0v1.0h-1.0zM61 121h1.0v1.0h-1.0zM61 123h1.0v1.0h-1.0zM61 123.5h1.0v1.0h-1.0zM61 131.5h1.0v1.0h-1.0zM61 132.5h1.0v1.0h-1.0zM61 134.5h1.0v1.0h-1.0zM61 146.5h1.0v1.0h-1.0zM61.5 121h1.0v1.0h-1.0zM61.5 126.5h1.0v1.0h-1.0zM61.5 127.5h1.0v1.0h-1.0zM61.5 129h1.0v1.0h-1.0zM62 119.5h1.0v1.0h-1.0zM62 122.5h1.0v1.0h-1.0zM62 124.5h1.0v1.0h-1.0zM62 127.5h1.0v1.0h-1.0zM62 129h1.0v1.0h-1.0zM62 130h1.0v1.0h-1.0zM62 132h1.0v1.0h-1.0zM62 133h1.0v1.0h-1.0zM62 137.5h1.0v1.0h-1.0zM62.5 116.5h1.0v1.0h-1.0zM62.5 126h1.0v1.0h-1.0zM62.5 129.5h1.0v1.0h-1.0zM62.5 132.5h1.0v1.0h-1.0zM62.5 134.5h1.0v1.0h-1.0zM62.5 135.5h1.0v1.0h-1.0zM63 118.5h1.0v1.0h-1.0zM63 121h1.0v1.0h-1.0zM63 125h1.0v1.0h-1.0zM63 126.5h1.0v1.0h-1.0zM63 128h1.0v1.0h-1.0zM63 135h1.0v1.0h-1.0zM63.5 120h1.0v1.0h-1.0zM63.5 120.5h1.0v1.0h-1.0zM63.5 125h1.0v1.0h-1.0zM63.5 125.5h1.0v1.0h-1.0zM63.5 126.5h1.0v1.0h-1.0zM63.5 130h1.0v1.0h-1.0zM63.5 134.5h1.0v1.0h-1.0zM63.5 136.5h1.0v1.0h-1.0zM63.5 140.5h1.0v1.0h-1.0zM64 119h1.0v1.0h-1.0zM64 122h1.0v1.0h-1.0zM64 125h1.0v1.0h-1.0zM64 125.5h1.0v1.0h-1.0zM64 127h1.0v1.0h-1.0zM64 130h1.0v1.0h-1.0zM64 136h1.0v1.0h-1.0zM64 138.5h1.0v1.0h-1.0zM64.5 117h1.0v1.0h-1.0zM64.5 121.5h1.0v1.0h-1.0zM64.5 123.5h1.0v1.0h-1.0zM64.5 124h1.0v1.0h-1.0zM64.5 127h1.0v1.0h-1.0zM64.5 127.5h1.0v1.0h-1.0zM64.5 128h1.0v1.0h-1.0zM64.5 130.5h1.0v1.0h-1.0zM64.5 135h1.0v1.0h-1.0zM64.5 143.5h1.0v1.0h-1.0zM65 117.5h1.0v1.0h-1.0zM65 118.5h1.0v1.0h-1.0zM65 119h1.0v1.0h-1.0zM65 121h1.0v1.0h-1.0zM65 122.5h1.0v1.0h-1.0zM65 126.5h1.0v1.0h-1.0zM65 127h1.0v1.0h-1.0zM65 127.5h1.0v1.0h-1.0zM65 130h1.0v1.0h-1.0zM65 130.5h1.0v1.0h-1.0zM65 131h1.0v1.0h-1.0zM65 132.5h1.0v1.0h-1.0zM65 134h1.0v1.0h-1.0zM65.5 119.5h1.0v1.0h-1.0zM65.5 123.5h1.0v1.0h-1.0zM65.5 124h1.0v1.0h-1.0zM65.5 126.5h1.0v1.0h-1.0zM65.5 127.5h1.0v1.0h-1.0zM65.5 129.5h1.0v1.0h-1.0zM65.5 130h1.0v1.0h-1.0zM65.5 132h1.0v1.0h-1.0zM65.5 132.5h1.0v1.0h-1.0zM65.5 133h1.0v1.0h-1.0zM65.5 133.5h1.0v1.0h-1.0zM65.5 134h1.0v1.0h-1.0zM65.5 134.5h1.0v1.0h-1.0zM65.5 137.5h1.0v1.0h-1.0zM66 116h1.0v1.0h-1.0zM66 119.5h1.0v1.0h-1.0zM66 124h1.0v1.0h-1.0zM66 127h1.0v1.0h-1.0zM66 127.5h1.0v1.0h-1.0zM66 129h1.0v1.0h-1.0zM66 132h1.0v1.0h-1.0zM66 145.5h1.0v1.0h-1.0zM66.5 119h1.0v1.0h-1.0zM66.5 122.5h1.0v1.0h-1.0zM66.5 124.5h1.0v1.0h-1.0zM66.5 125h1.0v1.0h-1.0zM66.5 125.5h1.0v1.0h-1.0zM66.5 129.5h1.0v1.0h-1.0zM66.5 132.5h1.0v1.0h-1.0zM66.5 133.5h1.0v1.0h-1.0zM66.5 138.5h1.0v1.0h-1.0zM67 120h1.0v1.0h-1.0zM67 120.5h1.0v1.0h-1.0zM67 121h1.0v1.0h-1.0zM67 121.5h1.0v1.0h-1.0zM67 122h1.0v1.0h-1.0zM67 123h1.0v1.0h-1.0zM67 125h1.0v1.0h-1.0zM67 127.5h1.0v1.0h-1.0zM67 129h1.0v1.0h-1.0zM67 129.5h1.0v1.0h-1.0zM67 133h1.0v1.0h-1.0zM67 133.5h1.0v1.0h-1.0zM67 134h1.0v1.0h-1.0zM67 135h1.0v1.0h-1.0zM67 138h1.0v1.0h-1.0zM67 139h1.0v1.0h-1.0zM67.5 117h1.0v1.0h-1.0zM67.5 121h1.0v1.0h-1.0zM67.5 121.5h1.0v1.0h-1.0zM67.5 122.5h1.0v1.0h-1.0zM67.5 123.5h1.0v1.0h-1.0zM67.5 127h1.0v1.0h-1.0zM67.5 128.5h1.0v1.0h-1.0zM67.5 130.5h1.0v1.0h-1.0zM67.5 131.5h1.0v1.0h-1.0zM67.5 132h1.0v1.0h-1.0zM67.5 132.5h1.0v1.0h-1.0zM67.5 134.5h1.0v1.0h-1.0zM67.5 135h1.0v1.0h-1.0zM67.5 135.5h1.0v1.0h-1.0zM67.5 140h1.0v1.0h-1.0zM67.5 141h1.0v1.0h-1.0zM67.5 141.5h1.0v1.0h-1.0zM68 113h1.0v1.0h-1.0zM68 114.5h1.0v1.0h-1.0zM68 118.5h1.0v1.0h-1.0zM68 121.5h1.0v1.0h-1.0zM68 123h1.0v1.0h-1.0zM68 123.5h1.0v1.0h-1.0zM68 124h1.0v1.0h-1.0zM68 124.5h1.0v1.0h-1.0zM68 125.5h1.0v1.0h-1.0zM68 127h1.0v1.0h-1.0zM68 128.5h1.0v1.0h-1.0zM68 129h1.0v1.0h-1.0zM68 129.5h1.0v1.0h-1.0zM68 130.5h1.0v1.0h-1.0zM68 132h1.0v1.0h-1.0zM68.5 118h1.0v1.0h-1.0zM68.5 121.5h1.0v1.0h-1.0zM68.5 122h1.0v1.0h-1.0zM68.5 124.5h1.0v1.0h-1.0zM68.5 125h1.0v1.0h-1.0zM68.5 127h1.0v1.0h-1.0zM68.5 127.5h1.0v1.0h-1.0zM68.5 129h1.0v1.0h-1.0zM68.5 129.5h1.0v1.0h-1.0zM68.5 130.5h1.0v1.0h-1.0zM68.5 131h1.0v1.0h-1.0zM68.5 132h1.0v1.0h-1.0zM68.5 135h1.0v1.0h-1.0zM68.5 137h1.0v1.0h-1.0zM68.5 137.5h1.0v1.0h-1.0zM68.5 139h1.0v1.0h-1.0zM69 116.5h1.0v1.0h-1.0zM69 120h1.0v1.0h-1.0zM69 120.5h1.0v1.0h-1.0zM69 123.5h1.0v1.0h-1.0zM69 124h1.0v1.0h-1.0zM69 124.5h1.0v1.0h-1.0zM69 127.5h1.0v1.0h-1.0zM69 129h1.0v1.0h-1.0zM69 130.5h1.0v1.0h-1.0zM69 131.5h1.0v1.0h-1.0zM69 133h1.0v1.0h-1.0zM69 134h1.0v1.0h-1.0zM69 141h1.0v1.0h-1.0zM69 141.5h1.0v1.0h-1.0zM69.5 114h1.0v1.0h-1.0zM69.5 119.5h1.0v1.0h-1.0zM69.5 120.5h1.0v1.0h-1.0zM69.5 122h1.0v1.0h-1.0zM69.5 123h1.0v1.0h-1.0zM69.5 123.5h1.0v1.0h-1.0zM69.5 124h1.0v1.0h-1.0zM69.5 124.5h1.0v1.0h-1.0zM69.5 132h1.0v1.0h-1.0zM69.5 133.5h1.0v1.0h-1.0zM69.5 135.5h1.0v1.0h-1.0zM69.5 137h1.0v1.0h-1.0zM70 118h1.0v1.0h-1.0zM70 119h1.0v1.0h-1.0zM70 122h1.0v1.0h-1.0zM70 122.5h1.0v1.0h-1.0zM70 124h1.0v1.0h-1.0zM70 124.5h1.0v1.0h-1.0zM70 125h1.0v1.0h-1.0zM70 126.5h1.0v1.0h-1.0zM70 127h1.0v1.0h-1.0zM70 127.5h1.0v1.0h-1.0zM70 128.5h1.0v1.0h-1.0zM70 129.5h1.0v1.0h-1.0zM70 130h1.0v1.0h-1.0zM70 130.5h1.0v1.0h-1.0zM70 131.5h1.0v1.0h-1.0zM70 132.5h1.0v1.0h-1.0zM70 134h1.0v1.0h-1.0zM70 135h1.0v1.0h-1.0zM70 139.5h1.0v1.0h-1.0zM70.5 114h1.0v1.0h-1.0zM70.5 117.5h1.0v1.0h-1.0zM70.5 118.5h1.0v1.0h-1.0zM70.5 120h1.0v1.0h-1.0zM70.5 121.5h1.0v1.0h-1.0zM70.5 122.5h1.0v1.0h-1.0zM70.5 123.5h1.0v1.0h-1.0zM70.5 125h1.0v1.0h-1.0zM70.5 127.5h1.0v1.0h-1.0zM70.5 128.5h1.0v1.0h-1.0zM70.5 129h1.0v1.0h-1.0zM70.5 129.5h1.0v1.0h-1.0zM70.5 130h1.0v1.0h-1.0zM70.5 130.5h1.0v1.0h-1.0zM70.5 132.5h1.0v1.0h-1.0zM70.5 133h1.0v1.0h-1.0zM70.5 134h1.0v1.0h-1.0zM70.5 142.5h1.0v1.0h-1.0zM70.5 146h1.0v1.0h-1.0zM71 113.5h1.0v1.0h-1.0zM71 116h1.0v1.0h-1.0zM71 118h1.0v1.0h-1.0zM71 118.5h1.0v1.0h-1.0zM71 119h1.0v1.0h-1.0zM71 120.5h1.0v1.0h-1.0zM71 121h1.0v1.0h-1.0zM71 121.5h1.0v1.0h-1.0zM71 122h1.0v1.0h-1.0zM71 122.5h1.0v1.0h-1.0zM71 123.5h1.0v1.0h-1.0zM71 125.5h1.0v1.0h-1.0zM71 126.5h1.0v1.0h-1.0zM71 127h1.0v1.0h-1.0zM71 128.5h1.0v1.0h-1.0zM71 129h1.0v1.0h-1.0zM71 130.5h1.0v1.0h-1.0zM71 131h1.0v1.0h-1.0zM71 136h1.0v1.0h-1.0zM71.5 117h1.0v1.0h-1.0zM71.5 118h1.0v1.0h-1.0zM71.5 119.5h1.0v1.0h-1.0zM71.5 120h1.0v1.0h-1.0zM71.5 121h1.0v1.0h-1.0zM71.5 121.5h1.0v1.0h-1.0zM71.5 122h1.0v1.0h-1.0zM71.5 123.5h1.0v1.0h-1.0zM71.5 124h1.0v1.0h-1.0zM71.5 124.5h1.0v1.0h-1.0zM71.5 127.5h1.0v1.0h-1.0zM71.5 128h1.0v1.0h-1.0zM71.5 129h1.0v1.0h-1.0zM71.5 130h1.0v1.0h-1.0zM71.5 131.5h1.0v1.0h-1.0zM71.5 133h1.0v1.0h-1.0zM71.5 137h1.0v1.0h-1.0zM71.5 139.5h1.0v1.0h-1.0zM71.5 141.5h1.0v1.0h-1.0zM72 122h1.0v1.0h-1.0zM72 122.5h1.0v1.0h-1.0zM72 123.5h1.0v1.0h-1.0zM72 124.5h1.0v1.0h-1.0zM72 125h1.0v1.0h-1.0zM72 127.5h1.0v1.0h-1.0zM72 128h1.0v1.0h-1.0zM72 129h1.0v1.0h-1.0zM72 131.5h1.0v1.0h-1.0zM72 133h1.0v1.0h-1.0zM72 133.5h1.0v1.0h-1.0zM72 135h1.0v1.0h-1.0zM72 137h1.0v1.0h-1.0zM72 143.5h1.0v1.0h-1.0zM72.5 113h1.0v1.0h-1.0zM72.5 120.5h1.0v1.0h-1.0zM72.5 126h1.0v1.0h-1.0zM72.5 127h1.0v1.0h-1.0zM72.5 129.5h1.0v1.0h-1.0zM72.5 130h1.0v1.0h-1.0zM72.5 131h1.0v1.0h-1.0zM72.5 132h1.0v1.0h-1.0zM72.5 134.5h1.0v1.0h-1.0zM72.5 142h1.0v1.0h-1.0zM72.5 147h1.0v1.0h-1.0zM73 117h1.0v1.0h-1.0zM73 119.5h1.0v1.0h-1.0zM73 120h1.0v1.0h-1.0zM73 121h1.0v1.0h-1.0zM73 123h1.0v1.0h-1.0zM73 125.5h1.0v1.0h-1.0zM73 126h1.0v1.0h-1.0zM73 126.5h1.0v1.0h-1.0zM73 127h1.0v1.0h-1.0zM73 127.5h1.0v1.0h-1.0zM73 128h1.0v1.0h-1.0zM73 130.5h1.0v1.0h-1.0zM73 136.5h1.0v1.0h-1.0zM73 140h1.0v1.0h-1.0zM73 143h1.0v1.0h-1.0zM73.5 115.5h1.0v1.0h-1.0zM73.5 116.5h1.0v1.0h-1.0zM73.5 119.5h1.0v1.0h-1.0zM73.5 122h1.0v1.0h-1.0zM73.5 123h1.0v1.0h-1.0zM73.5 123.5h1.0v1.0h-1.0zM73.5 124h1.0v1.0h-1.0zM73.5 124.5h1.0v1.0h-1.0zM73.5 125h1.0v1.0h-1.0zM73.5 126h1.0v1.0h-1.0zM73.5 128h1.0v1.0h-1.0zM73.5 129h1.0v1.0h-1.0zM73.5 130h1.0v1.0h-1.0zM73.5 131h1.0v1.0h-1.0zM73.5 133h1.0v1.0h-1.0zM73.5 145h1.0v1.0h-1.0zM74 115h1.0v1.0h-1.0zM74 120.5h1.0v1.0h-1.0zM74 122.5h1.0v1.0h-1.0zM74 123.5h1.0v1.0h-1.0zM74 126.5h1.0v1.0h-1.0zM74 127.5h1.0v1.0h-1.0zM74 128h1.0v1.0h-1.0zM74 129h1.0v1.0h-1.0zM74 129.5h1.0v1.0h-1.0zM74 130h1.0v1.0h-1.0zM74 132.5h1.0v1.0h-1.0zM74 134h1.0v1.0h-1.0zM74 134.5h1.0v1.0h-1.0zM74.5 122h1.0v1.0h-1.0zM74.5 123.5h1.0v1.0h-1.0zM74.5 125h1.0v1.0h-1.0zM74.5 126h1.0v1.0h-1.0zM74.5 127h1.0v1.0h-1.0zM74.5 127.5h1.0v1.0h-1.0zM74.5 128.5h1.0v1.0h-1.0zM74.5 129h1.0v1.0h-1.0zM74.5 129.5h1.0v1.0h-1.0zM74.5 132h1.0v1.0h-1.0zM74.5 133h1.0v1.0h-1.0zM74.5 137h1.0v1.0h-1.0zM74.5 140h1.0v1.0h-1.0zM75 112.5h1.0v1.0h-1.0zM75 119h1.0v1.0h-1.0zM75 120h1.0v1.0h-1.0zM75 124.5h1.0v1.0h-1.0zM75 126h1.0v1.0h-1.0zM75 128.5h1.0v1.0h-1.0zM75 133h1.0v1.0h-1.0zM75 136.5h1.0v1.0h-1.0zM75 138h1.0v1.0h-1.0zM75 146h1.0v1.0h-1.0zM75.5 114h1.0v1.0h-1.0zM75.5 115.5h1.0v1.0h-1.0zM75.5 122h1.0v1.0h-1.0zM75.5 125h1.0v1.0h-1.0zM75.5 125.5h1.0v1.0h-1.0zM75.5 127.5h1.0v1.0h-1.0zM75.5 129.5h1.0v1.0h-1.0zM75.5 130.5h1.0v1.0h-1.0zM75.5 132.5h1.0v1.0h-1.0zM75.5 134h1.0v1.0h-1.0zM76 114h1.0v1.0h-1.0zM76 116h1.0v1.0h-1.0zM76 121h1.0v1.0h-1.0zM76 122h1.0v1.0h-1.0zM76 122.5h1.0v1.0h-1.0zM76 123h1.0v1.0h-1.0zM76 123.5h1.0v1.0h-1.0zM76 125h1.0v1.0h-1.0zM76 125.5h1.0v1.0h-1.0zM76 126h1.0v1.0h-1.0zM76 126.5h1.0v1.0h-1.0zM76 128.5h1.0v1.0h-1.0zM76 129h1.0v1.0h-1.0zM76 129.5h1.0v1.0h-1.0zM76 130h1.0v1.0h-1.0zM76 135h1.0v1.0h-1.0zM76 135.5h1.0v1.0h-1.0zM76 140h1.0v1.0h-1.0zM76.5 115h1.0v1.0h-1.0zM76.5 117h1.0v1.0h-1.0zM76.5 120.5h1.0v1.0h-1.0zM76.5 122.5h1.0v1.0h-1.0zM76.5 123h1.0v1.0h-1.0zM76.5 125.5h1.0v1.0h-1.0zM76.5 126h1.0v1.0h-1.0zM76.5 127h1.0v1.0h-1.0zM76.5 128h1.0v1.0h-1.0zM76.5 128.5h1.0v1.0h-1.0zM76.5 129.5h1.0v1.0h-1.0zM76.5 130h1.0v1.0h-1.0zM76.5 130.5h1.0v1.0h-1.0zM76.5 133h1.0v1.0h-1.0zM76.5 133.5h1.0v1.0h-1.0zM76.5 134h1.0v1.0h-1.0zM76.5 134.5h1.0v1.0h-1.0zM77 119.5h1.0v1.0h-1.0zM77 121h1.0v1.0h-1.0zM77 122.5h1.0v1.0h-1.0zM77 123h1.0v1.0h-1.0zM77 123.5h1.0v1.0h-1.0zM77 125.5h1.0v1.0h-1.0zM77 126h1.0v1.0h-1.0zM77 129h1.0v1.0h-1.0zM77 129.5h1.0v1.0h-1.0zM77 130.5h1.0v1.0h-1.0zM77 132h1.0v1.0h-1.0zM77 133h1.0v1.0h-1.0zM77 133.5h1.0v1.0h-1.0zM77 134.5h1.0v1.0h-1.0zM77 143.5h1.0v1.0h-1.0zM77.5 115h1.0v1.0h-1.0zM77.5 119h1.0v1.0h-1.0zM77.5 122.5h1.0v1.0h-1.0zM77.5 123.5h1.0v1.0h-1.0zM77.5 124h1.0v1.0h-1.0zM77.5 124.5h1.0v1.0h-1.0zM77.5 125h1.0v1.0h-1.0zM77.5 125.5h1.0v1.0h-1.0zM77.5 127.5h1.0v1.0h-1.0zM77.5 128.5h1.0v1.0h-1.0zM77.5 130h1.0v1.0h-1.0zM77.5 131h1.0v1.0h-1.0zM77.5 134.5h1.0v1.0h-1.0zM77.5 144.5h1.0v1.0h-1.0zM78 120h1.0v1.0h-1.0zM78 120.5h1.0v1.0h-1.0zM78 123.5h1.0v1.0h-1.0zM78 128.5h1.0v1.0h-1.0zM78 130h1.0v1.0h-1.0zM78 131h1.0v1.0h-1.0zM78 132h1.0v1.0h-1.0zM78 143h1.0v1.0h-1.0zM78.5 107h1.0v1.0h-1.0zM78.5 119.5h1.0v1.0h-1.0zM78.5 120h1.0v1.0h-1.0zM78.5 121.5h1.0v1.0h-1.0zM78.5 122h1.0v1.0h-1.0zM78.5 122.5h1.0v1.0h-1.0zM78.5 124.5h1.0v1.0h-1.0zM78.5 128h1.0v1.0h-1.0zM78.5 130h1.0v1.0h-1.0zM78.5 135.5h1.0v1.0h-1.0zM78.5 147h1.0v1.0h-1.0zM79 113.5h1.0v1.0h-1.0zM79 118h1.0v1.0h-1.0zM79 120h1.0v1.0h-1.0zM79 122.5h1.0v1.0h-1.0zM79 124.5h1.0v1.0h-1.0zM79 125.5h1.0v1.0h-1.0zM79 126h1.0v1.0h-1.0zM79 126.5h1.0v1.0h-1.0zM79 127.5h1.0v1.0h-1.0zM79 129h1.0v1.0h-1.0zM79 133h1.0v1.0h-1.0zM79 144h1.0v1.0h-1.0zM79.5 104h1.0v1.0h-1.0zM79.5 117h1.0v1.0h-1.0zM79.5 120h1.0v1.0h-1.0zM79.5 124h1.0v1.0h-1.0zM79.5 124.5h1.0v1.0h-1.0zM79.5 125h1.0v1.0h-1.0zM79.5 126.5h1.0v1.0h-1.0zM79.5 127h1.0v1.0h-1.0zM79.5 127.5h1.0v1.0h-1.0zM79.5 129h1.0v1.0h-1.0zM79.5 131.5h1.0v1.0h-1.0zM79.5 135h1.0v1.0h-1.0zM79.5 138.5h1.0v1.0h-1.0zM80 118h1.0v1.0h-1.0zM80 121h1.0v1.0h-1.0zM80 122h1.0v1.0h-1.0zM80 122.5h1.0v1.0h-1.0zM80 123.5h1.0v1.0h-1.0zM80 124h1.0v1.0h-1.0zM80 124.5h1.0v1.0h-1.0zM80 125.5h1.0v1.0h-1.0zM80 127h1.0v1.0h-1.0zM80 129h1.0v1.0h-1.0zM80 134h1.0v1.0h-1.0zM80 135h1.0v1.0h-1.0zM80 139h1.0v1.0h-1.0zM80.5 114.5h1.0v1.0h-1.0zM80.5 123h1.0v1.0h-1.0zM80.5 126h1.0v1.0h-1.0zM80.5 127h1.0v1.0h-1.0zM80.5 127.5h1.0v1.0h-1.0zM80.5 131.5h1.0v1.0h-1.0zM80.5 133h1.0v1.0h-1.0zM81 108h1.0v1.0h-1.0zM81 120.5h1.0v1.0h-1.0zM81 129h1.0v1.0h-1.0zM81 129.5h1.0v1.0h-1.0zM81 136.5h1.0v1.0h-1.0zM81.5 118.5h1.0v1.0h-1.0zM81.5 119.5h1.0v1.0h-1.0zM81.5 120h1.0v1.0h-1.0zM81.5 121.5h1.0v1.0h-1.0zM81.5 122.5h1.0v1.0h-1.0zM81.5 124.5h1.0v1.0h-1.0zM81.5 130.5h1.0v1.0h-1.0zM81.5 136h1.0v1.0h-1.0zM81.5 140.5h1.0v1.0h-1.0zM82 103.5h1.0v1.0h-1.0zM82 112h1.0v1.0h-1.0zM82 121h1.0v1.0h-1.0zM82 121.5h1.0v1.0h-1.0zM82 122h1.0v1.0h-1.0zM82 123h1.0v1.0h-1.0zM82 124h1.0v1.0h-1.0zM82 125h1.0v1.0h-1.0zM82 126.5h1.0v1.0h-1.0zM82 127.5h1.0v1.0h-1.0zM82 128h1.0v1.0h-1.0zM82 134.5h1.0v1.0h-1.0zM82.5 116h1.0v1.0h-1.0zM82.5 121h1.0v1.0h-1.0zM82.5 123.5h1.0v1.0h-1.0zM82.5 130h1.0v1.0h-1.0zM83 121h1.0v1.0h-1.0zM83 123h1.0v1.0h-1.0zM83 124h1.0v1.0h-1.0zM83 124.5h1.0v1.0h-1.0zM83 126.5h1.0v1.0h-1.0zM83 135h1.0v1.0h-1.0zM83 140h1.0v1.0h-1.0zM83.5 97.5h1.0v1.0h-1.0zM83.5 118h1.0v1.0h-1.0zM83.5 119h1.0v1.0h-1.0zM83.5 125.5h1.0v1.0h-1.0zM83.5 129h1.0v1.0h-1.0zM83.5 138.5h1.0v1.0h-1.0zM84 122h1.0v1.0h-1.0zM84 128h1.0v1.0h-1.0zM84 128.5h1.0v1.0h-1.0zM84 132h1.0v1.0h-1.0zM84 133h1.0v1.0h-1.0zM84 141h1.0v1.0h-1.0zM84.5 120h1.0v1.0h-1.0zM84.5 122.5h1.0v1.0h-1.0zM84.5 124.5h1.0v1.0h-1.0zM85 120h1.0v1.0h-1.0zM85 127h1.0v1.0h-1.0zM85 131.5h1.0v1.0h-1.0zM85.5 96.5h1.0v1.0h-1.0zM85.5 120.5h1.0v1.0h-1.0zM85.5 121.5h1.0v1.0h-1.0zM85.5 122.5h1.0v1.0h-1.0zM85.5 123.5h1.0v1.0h-1.0zM86 105h1.0v1.0h-1.0zM86 122.5h1.0v1.0h-1.0zM86 123h1.0v1.0h-1.0zM86 124h1.0v1.0h-1.0zM86 126h1.0v1.0h-1.0zM86 126.5h1.0v1.0h-1.0zM86 127h1.0v1.0h-1.0zM86.5 116.5h1.0v1.0h-1.0zM86.5 121.5h1.0v1.0h-1.0zM86.5 122h1.0v1.0h-1.0zM86.5 123.5h1.0v1.0h-1.0zM86.5 124.5h1.0v1.0h-1.0zM87 119h1.0v1.0h-1.0zM87.5 107h1.0v1.0h-1.0zM87.5 121h1.0v1.0h-1.0zM87.5 122.5h1.0v1.0h-1.0zM87.5 123h1.0v1.0h-1.0zM87.5 124h1.0v1.0h-1.0zM87.5 126.5h1.0v1.0h-1.0zM88 102.5h1.0v1.0h-1.0zM88 113.5h1.0v1.0h-1.0zM88 114h1.0v1.0h-1.0zM88 121h1.0v1.0h-1.0zM88 121.5h1.0v1.0h-1.0zM88 127.5h1.0v1.0h-1.0zM88.5 104.5h1.0v1.0h-1.0zM88.5 114h1.0v1.0h-1.0zM88.5 120.5h1.0v1.0h-1.0zM88.5 122.5h1.0v1.0h-1.0zM89 117h1.0v1.0h-1.0zM89 122h1.0v1.0h-1.0zM89 124h1.0v1.0h-1.0zM89 125h1.0v1.0h-1.0zM89.5 115h1.0v1.0h-1.0zM89.5 120.5h1.0v1.0h-1.0zM89.5 121h1.0v1.0h-1.0zM89.5 122h1.0v1.0h-1.0zM89.5 126.5h1.0v1.0h-1.0zM90 123h1.0v1.0h-1.0zM90 129.5h1.0v1.0h-1.0zM90.5 93h1.0v1.0h-1.0zM90.5 117.5h1.0v1.0h-1.0zM90.5 119h1.0v1.0h-1.0zM91 106.5h1.0v1.0h-1.0zM91 108.5h1.0v1.0h-1.0zM91 117.5h1.0v1.0h-1.0zM91 122.5h1.0v1.0h-1.0zM91 124h1.0v1.0h-1.0zM91 140h1.0v1.0h-1.0zM91.5 113h1.0v1.0h-1.0zM91.5 119.5h1.0v1.0h-1.0zM91.5 122.5h1.0v1.0h-1.0zM91.5 123h1.0v1.0h-1.0zM91.5 123.5h1.0v1.0h-1.0zM92 121.5h1.0v1.0h-1.0zM92 143h1.0v1.0h-1.0zM92.5 103h1.0v1.0h-1.0zM92.5 112.5h1.0v1.0h-1.0zM92.5 124.5h1.0v1.0h-1.0zM93 123h1.0v1.0h-1.0zM93 124.5h1.0v1.0h-1.0zM93.5 142h1.0v1.0h-1.0zM94 106.5h1.0v1.0h-1.0zM94 112.5h1.0v1.0h-1.0zM94 117h1.0v1.0h-1.0zM94 119.5h1.0v1.0h-1.0zM94 120h1.0v1.0h-1.0zM94.5 117h1.0v1.0h-1.0zM94.5 124.5h1.0v1.0h-1.0zM95 96h1.0v1.0h-1.0zM95 105h1.0v1.0h-1.0zM95 105.5h1.0v1.0h-1.0zM95 117.5h1.0v1.0h-1.0zM95.5 99.5h1.0v1.0h-1.0zM95.5 102h1.0v1.0h-1.0zM95.5 112.5h1.0v1.0h-1.0zM95.5 125.5h1.0v1.0h-1.0zM95.5 130h1.0v1.0h-1.0zM95.5 136h1.0v1.0h-1.0zM96 117.5h1.0v1.0h-1.0zM96 124h1.0v1.0h-1.0zM96 125h1.0v1.0h-1.0zM96 125.5h1.0v1.0h-1.0zM96 126.5h1.0v1.0h-1.0zM96 129.5h1.0v1.0h-1.0zM96.5 107h1.0v1.0h-1.0zM96.5 117.5h1.0v1.0h-1.0zM96.5 120.5h1.0v1.0h-1.0zM96.5 121h1.0v1.0h-1.0zM96.5 139h1.0v1.0h-1.0zM97 110h1.0v1.0h-1.0zM97 115h1.0v1.0h-1.0zM97 129h1.0v1.0h-1.0zM97.5 95.5h1.0v1.0h-1.0zM97.5 112h1.0v1.0h-1.0zM97.5 118h1.0v1.0h-1.0zM97.5 124.5h1.0v1.0h-1.0zM97.5 127.5h1.0v1.0h-1.0zM98.5 108.5h1.0v1.0h-1.0zM98.5 114.5h1.0v1.0h-1.0zM98.5 118.5h1.0v1.0h-1.0zM98.5 127h1.0v1.0h-1.0zM98.5 136h1.0v1.0h-1.0zM99 120h1.0v1.0h-1.0zM99 121.5h1.0v1.0h-1.0zM99 127.5h1.0v1.0h-1.0zM99 128h1.0v1.0h-1.0zM99 131h1.0v1.0h-1.0zM99.5 90h1.0v1.0h-1.0zM99.5 100h1.0v1.0h-1.0zM99.5 117.5h1.0v1.0h-1.0zM99.5 123h1.0v1.0h-1.0zM99.5 124.5h1.0v1.0h-1.0zM99.5 130h1.0v1.0h-1.0zM99.5 145.5h1.0v1.0h-1.0zM100 110h1.0v1.0h-1.0zM100 120h1.0v1.0h-1.0zM100 122.5h1.0v1.0h-1.0zM100.5 103.5h1.0v1.0h-1.0zM100.5 107.5h1.0v1.0h-1.0zM100.5 115.5h1.0v1.0h-1.0zM100.5 124h1.0v1.0h-1.0zM100.5 128.5h1.0v1.0h-1.0zM100.5 146.5h1.0v1.0h-1.0zM101 102h1.0v1.0h-1.0zM101 108h1.0v1.0h-1.0zM101 109h1.0v1.0h-1.0zM101 111.5h1.0v1.0h-1.0zM101 117.5h1.0v1.0h-1.0zM101 142.5h1.0v1.0h-1.0zM101.5 95h1.0v1.0h-1.0zM101.5 100.5h1.0v1.0h-1.0zM101.5 102.5h1.0v1.0h-1.0zM101.5 107.5h1.0v1.0h-1.0zM101.5 108.5h1.0v1.0h-1.0zM101.5 116.5h1.0v1.0h-1.0zM101.5 122.5h1.0v1.0h-1.0zM101.5 145h1.0v1.0h-1.0zM102 106.5h1.0v1.0h-1.0zM102 107.5h1.0v1.0h-1.0zM102 108.5h1.0v1.0h-1.0zM102 117.5h1.0v1.0h-1.0zM102 119h1.0v1.0h-1.0zM102 126.5h1.0v1.0h-1.0zM102 145.5h1.0v1.0h-1.0zM102.5 108.5h1.0v1.0h-1.0zM102.5 114.5h1.0v1.0h-1.0zM103 91h1.0v1.0h-1.0zM103 107h1.0v1.0h-1.0zM103 108.5h1.0v1.0h-1.0zM103 128.5h1.0v1.0h-1.0zM103 132h1.0v1.0h-1.0zM103.5 108.5h1.0v1.0h-1.0zM103.5 113h1.0v1.0h-1.0zM103.5 122h1.0v1.0h-1.0zM104 101h1.0v1.0h-1.0zM104 104h1.0v1.0h-1.0zM104 108h1.0v1.0h-1.0zM104 110h1.0v1.0h-1.0zM104 112h1.0v1.0h-1.0zM104 112.5h1.0v1.0h-1.0zM104 118h1.0v1.0h-1.0zM104 120.5h1.0v1.0h-1.0zM104 126.5h1.0v1.0h-1.0zM104 132.5h1.0v1.0h-1.0zM104.5 99h1.0v1.0h-1.0zM104.5 103h1.0v1.0h-1.0zM104.5 103.5h1.0v1.0h-1.0zM104.5 106.5h1.0v1.0h-1.0zM104.5 111h1.0v1.0h-1.0zM104.5 114.5h1.0v1.0h-1.0zM104.5 115h1.0v1.0h-1.0zM104.5 116h1.0v1.0h-1.0zM104.5 117.5h1.0v1.0h-1.0zM104.5 137h1.0v1.0h-1.0zM105 100h1.0v1.0h-1.0zM105 101h1.0v1.0h-1.0zM105 109.5h1.0v1.0h-1.0zM105 111.5h1.0v1.0h-1.0zM105 112h1.0v1.0h-1.0zM105 125h1.0v1.0h-1.0zM105 129h1.0v1.0h-1.0zM105.5 104h1.0v1.0h-1.0zM105.5 107.5h1.0v1.0h-1.0zM105.5 112h1.0v1.0h-1.0zM105.5 113h1.0v1.0h-1.0zM105.5 116.5h1.0v1.0h-1.0zM105.5 117.5h1.0v1.0h-1.0zM105.5 145.5h1.0v1.0h-1.0zM106 96h1.0v1.0h-1.0zM106 105h1.0v1.0h-1.0zM106 110h1.0v1.0h-1.0zM106 112.5h1.0v1.0h-1.0zM106 116.5h1.0v1.0h-1.0zM106 125.5h1.0v1.0h-1.0zM107 107h1.0v1.0h-1.0zM107 108.5h1.0v1.0h-1.0zM107 115h1.0v1.0h-1.0zM107 118.5h1.0v1.0h-1.0zM107.5 104.5h1.0v1.0h-1.0zM107.5 109h1.0v1.0h-1.0zM107.5 111h1.0v1.0h-1.0zM107.5 112.5h1.0v1.0h-1.0zM107.5 113h1.0v1.0h-1.0zM107.5 113.5h1.0v1.0h-1.0zM107.5 116h1.0v1.0h-1.0zM107.5 117.5h1.0v1.0h-1.0zM108 113h1.0v1.0h-1.0zM108 114h1.0v1.0h-1.0zM108 142h1.0v1.0h-1.0zM108.5 109h1.0v1.0h-1.0zM108.5 115h1.0v1.0h-1.0zM108.5 117.5h1.0v1.0h-1.0zM109 106h1.0v1.0h-1.0zM109 108h1.0v1.0h-1.0zM109 108.5h1.0v1.0h-1.0zM109 113.5h1.0v1.0h-1.0zM109 118.5h1.0v1.0h-1.0zM109 125h1.0v1.0h-1.0zM109.5 104h1.0v1.0h-1.0zM109.5 106.5h1.0v1.0h-1.0zM109.5 110.5h1.0v1.0h-1.0zM109.5 114.5h1.0v1.0h-1.0zM109.5 127h1.0v1.0h-1.0zM110 108h1.0v1.0h-1.0zM110 109.5h1.0v1.0h-1.0zM110 110h1.0v1.0h-1.0zM110 123h1.0v1.0h-1.0zM110 125.5h1.0v1.0h-1.0zM110.5 104.5h1.0v1.0h-1.0zM110.5 106.5h1.0v1.0h-1.0zM110.5 109h1.0v1.0h-1.0zM110.5 109.5h1.0v1.0h-1.0zM110.5 114.5h1.0v1.0h-1.0zM110.5 118.5h1.0v1.0h-1.0zM110.5 123h1.0v1.0h-1.0zM110.5 128.5h1.0v1.0h-1.0zM111 107h1.0v1.0h-1.0zM111 112h1.0v1.0h-1.0zM111 117h1.0v1.0h-1.0zM111 121.5h1.0v1.0h-1.0zM111 122.5h1.0v1.0h-1.0zM111 125.5h1.0v1.0h-1.0zM111 142h1.0v1.0h-1.0zM111.5 111.5h1.0v1.0h-1.0zM111.5 114.5h1.0v1.0h-1.0zM111.5 120.5h1.0v1.0h-1.0zM111.5 122h1.0v1.0h-1.0zM112 105h1.0v1.0h-1.0zM112 109.5h1.0v1.0h-1.0zM112 115h1.0v1.0h-1.0zM112.5 107h1.0v1.0h-1.0zM112.5 110.5h1.0v1.0h-1.0zM112.5 114.5h1.0v1.0h-1.0zM112.5 121h1.0v1.0h-1.0zM113 106h1.0v1.0h-1.0zM113 106.5h1.0v1.0h-1.0zM113 112h1.0v1.0h-1.0zM113 120h1.0v1.0h-1.0zM113 124h1.0v1.0h-1.0zM113 124.5h1.0v1.0h-1.0zM113.5 127.5h1.0v1.0h-1.0zM114 105.5h1.0v1.0h-1.0zM114 108h1.0v1.0h-1.0zM114 121h1.0v1.0h-1.0zM114 127h1.0v1.0h-1.0zM114.5 111h1.0v1.0h-1.0zM114.5 111.5h1.0v1.0h-1.0zM114.5 115h1.0v1.0h-1.0zM115 111.5h1.0v1.0h-1.0zM115 120h1.0v1.0h-1.0zM115.5 108h1.0v1.0h-1.0zM116 104h1.0v1.0h-1.0zM116 105h1.0v1.0h-1.0zM116 107h1.0v1.0h-1.0zM116 113.5h1.0v1.0h-1.0zM116.5 112h1.0v1.0h-1.0zM116.5 120h1.0v1.0h-1.0zM117 107.5h1.0v1.0h-1.0zM117 111h1.0v1.0h-1.0zM117 116h1.0v1.0h-1.0zM117.5 108h1.0v1.0h-1.0zM117.5 118.5h1.0v1.0h-1.0zM118 108.5h1.0v1.0h-1.0zM118 111.5h1.0v1.0h-1.0zM118.5 107.5h1.0v1.0h-1.0zM118.5 114.5h1.0v1.0h-1.0zM118.5 126.5h1.0v1.0h-1.0zM119.5 109.5h1.0v1.0h-1.0zM120 118.5h1.0v1.0h-1.0zM120.5 103h1.0v1.0h-1.0zM120.5 112h1.0v1.0h-1.0zM121 99.5h1.0v1.0h-1.0zM122 113h1.0v1.0h-1.0z" fill="#000" fill-opacity="0.64"/>
<path d="M53.5 132.5h1.0v1.0h-1.0zM54.5 128.5h1.0v1.0h-1.0zM55 133.5h1.0v1.0h-1.0zM55.5 142h1.0v1.0h-1.0zM56 131h1.0v1.0h-1.0zM56.5 116.5h1.0v1.0h-1.0zM56.5 128.5h1.0v1.0h-1.0zM57.5 127h1.0v1.0h-1.0zM57.5 135.5h1.0v1.0h-1.0zM58 125h1.0v1.0h-1.0zM58 126h1.0v1.0h-1.0zM58.5 125h1.0v1.0h-1.0zM59 130h1.0v1.0h-1.0zM59.5 119h1.0v1.0h-1.0zM59.5 121h1.0v1.0h-1.0zM59.5 123h1.0v1.0h-1.0zM59.5 129.5h1.0v1.0h-1.0zM59.5 132h1.0v1.0h-1.0zM59.5 136.5h1.0v1.0h-1.0zM60 134.5h1.0v1.0h-1.0zM60.5 129.5h1.0v1.0h-1.0zM60.5 132h1.0v1.0h-1.0zM60.5 138.5h1.0v1.0h-1.0zM60.5 140h1.0v1.0h-1.0zM61 119h1.0v1.0h-1.0zM61 125h1.0v1.0h-1.0zM61 130.5h1.0v1.0h-1.0zM61 135.5h1.0v1.0h-1.0zM61 139h1.0v1.0h-1.0zM61.5 104.5h1.0v1.0h-1.0zM61.5 121.5h1.0v1.0h-1.0zM61.5 122.5h1.0v1.0h-1.0zM61.5 124h1.0v1.0h-1.0zM61.5 125h1.0v1.0h-1.0zM61.5 133.5h1.0v1.0h-1.0zM61.5 134h1.0v1.0h-1.0zM61.5 137h1.0v1.0h-1.0zM61.5 139.5h1.0v1.0h-1.0zM62 116.5h1.0v1.0h-1.0zM62 119.5h1.0v1.0h-1.0zM62 121.5h1.0v1.0h-1.0zM62 125h1.0v1.0h-1.0zM62 127.5h1.0v1.0h-1.0zM62 144.5h1.0v1.0h-1.0zM62 145.5h1.0v1.0h-1.0zM62.5 121h1.0v1.0h-1.0zM62.5 123h1.0v1.0h-1.0zM62.5 126h1.0v1.0h-1.0zM62.5 128h1.0v1.0h-1.0zM62.5 131h1.0v1.0h-1.0zM62.5 131.5h1.0v1.0h-1.0zM62.5 132.5h1.0v1.0h-1.0zM62.5 134.5h1.0v1.0h-1.0zM62.5 136.5h1.0v1.0h-1.0zM63 105.5h1.0v1.0h-1.0zM63 119.5h1.0v1.0h-1.0zM63 123.5h1.0v1.0h-1.0zM63 124.5h1.0v1.0h-1.0zM63 125h1.0v1.0h-1.0zM63 125.5h1.0v1.0h-1.0zM63.5 120.5h1.0v1.0h-1.0zM63.5 121h1.0v1.0h-1.0zM63.5 128h1.0v1.0h-1.0zM63.5 132.5h1.0v1.0h-1.0zM63.5 134.5h1.0v1.0h-1.0zM64 127h1.0v1.0h-1.0zM64 128h1.0v1.0h-1.0zM64 129.5h1.0v1.0h-1.0zM64 137h1.0v1.0h-1.0zM64.5 111.5h1.0v1.0h-1.0zM64.5 122h1.0v1.0h-1.0zM64.5 124h1.0v1.0h-1.0zM64.5 126.5h1.0v1.0h-1.0zM64.5 128.5h1.0v1.0h-1.0zM64.5 129h1.0v1.0h-1.0zM65 110.5h1.0v1.0h-1.0zM65 120h1.0v1.0h-1.0zM65 123.5h1.0v1.0h-1.0zM65 124h1.0v1.0h-1.0zM65 124.5h1.0v1.0h-1.0zM65 126h1.0v1.0h-1.0zM65 126.5h1.0v1.0h-1.0zM65 132h1.0v1.0h-1.0zM65 135.5h1.0v1.0h-1.0zM65.5 117.5h1.0v1.0h-1.0zM65.5 120.5h1.0v1.0h-1.0zM65.5 124.5h1.0v1.0h-1.0zM65.5 127.5h1.0v1.0h-1.0zM65.5 130.5h1.0v1.0h-1.0zM65.5 131h1.0v1.0h-1.0zM65.5 136.5h1.0v1.0h-1.0zM65.5 138h1.0v1.0h-1.0zM65.5 145h1.0v1.0h-1.0zM66 121.5h1.0v1.0h-1.0zM66 122.5h1.0v1.0h-1.0zM66 123.5h1.0v1.0h-1.0zM66 125.5h1.0v1.0h-1.0zM66 126.5h1.0v1.0h-1.0zM66 127h1.0v1.0h-1.0zM66 127.5h1.0v1.0h-1.0zM66 128h1.0v1.0h-1.0zM66 128.5h1.0v1.0h-1.0zM66 129.5h1.0v1.0h-1.0zM66 130h1.0v1.0h-1.0zM66 130.5h1.0v1.0h-1.0zM66 132h1.0v1.0h-1.0zM66 133.5h1.0v1.0h-1.0zM66 141h1.0v1.0h-1.0zM66 152.5h1.0v1.0h-1.0zM66.5 115.5h1.0v1.0h-1.0zM66.5 118.5h1.0v1.0h-1.0zM66.5 121h1.0v1.0h-1.0zM66.5 122.5h1.0v1.0h-1.0zM66.5 126h1.0v1.0h-1.0zM66.5 129.5h1.0v1.0h-1.0zM66.5 131h1.0v1.0h-1.0zM67 114.5h1.0v1.0h-1.0zM67 117.5h1.0v1.0h-1.0zM67 118h1.0v1.0h-1.0zM67 119h1.0v1.0h-1.0zM67 120h1.0v1.0h-1.0zM67 121.5h1.0v1.0h-1.0zM67 122h1.0v1.0h-1.0zM67 122.5h1.0v1.0h-1.0zM67 123h1.0v1.0h-1.0zM67 124.5h1.0v1.0h-1.0zM67 128h1.0v1.0h-1.0zM67 128.5h1.0v1.0h-1.0zM67 129.5h1.0v1.0h-1.0zM67 137h1.0v1.0h-1.0zM67 140h1.0v1.0h-1.0zM67.5 116h1.0v1.0h-1.0zM67.5 120h1.0v1.0h-1.0zM67.5 120.5h1.0v1.0h-1.0zM67.5 121.5h1.0v1.0h-1.0zM67.5 122.5h1.0v1.0h-1.0zM67.5 123.5h1.0v1.0h-1.0zM67.5 124.5h1.0v1.0h-1.0zM67.5 128h1.0v1.0h-1.0zM67.5 129h1.0v1.0h-1.0zM67.5 130.5h1.0v1.0h-1.0zM67.5 132h1.0v1.0h-1.0zM67.5 133h1.0v1.0h-1.0zM67.5 137.5h1.0v1.0h-1.0zM68 112h1.0v1.0h-1.0zM68 119.5h1.0v1.0h-1.0zM68 122h1.0v1.0h-1.0zM68 122.5h1.0v1.0h-1.0zM68 123.5h1.0v1.0h-1.0zM68 125h1.0v1.0h-1.0zM68 125.5h1.0v1.0h-1.0zM68 126h1.0v1.0h-1.0zM68 129h1.0v1.0h-1.0zM68 130.5h1.0v1.0h-1.0zM68 131h1.0v1.0h-1.0zM68 132h1.0v1.0h-1.0zM68 134h1.0v1.0h-1.0zM68 139h1.0v1.0h-1.0zM68 139.5h1.0v1.0h-1.0zM68 140h1.0v1.0h-1.0zM68.5 113.5h1.0v1.0h-1.0zM68.5 114.5h1.0v1.0h-1.0zM68.5 115.5h1.0v1.0h-1.0zM68.5 120h1.0v1.0h-1.0zM68.5 122.5h1.0v1.0h-1.0zM68.5 123.5h1.0v1.0h-1.0zM68.5 124h1.0v1.0h-1.0zM68.5 124.5h1.0v1.0h-1.0zM68.5 125.5h1.0v1.0h-1.0zM68.5 126h1.0v1.0h-1.0zM68.5 127h1.0v1.0h-1.0zM68.5 127.5h1.0v1.0h-1.0zM68.5 128.5h1.0v1.0h-1.0zM68.5 130h1.0v1.0h-1.0zM68.5 131h1.0v1.0h-1.0zM68.5 132.5h1.0v1.0h-1.0zM68.5 133.5h1.0v1.0h-1.0zM68.5 141h1.0v1.0h-1.0zM68.5 143h1.0v1.0h-1.0zM69 113h1.0v1.0h-1.0zM69 117.5h1.0v1.0h-1.0zM69 118h1.0v1.0h-1.0zM69 119h1.0v1.0h-1.0zM69 121.5h1.0v1.0h-1.0zM69 123h1.0v1.0h-1.0zM69 123.5h1.0v1.0h-1.0zM69 124h1.0v1.0h-1.0zM69 124.5h1.0v1.0h-1.0zM69 125.5h1.0v1.0h-1.0zM69 126h1.0v1.0h-1.0zM69 126.5h1.0v1.0h-1.0zM69 127.5h1.0v1.0h-1.0zM69 128.5h1.0v1.0h-1.0zM69 129.5h1.0v1.0h-1.0zM69 130.5h1.0v1.0h-1.0zM69 131h1.0v1.0h-1.0zM69 131.5h1.0v1.0h-1.0zM69 142h1.0v1.0h-1.0zM69.5 117.5h1.0v1.0h-1.0zM69.5 119h1.0v1.0h-1.0zM69.5 121h1.0v1.0h-1.0zM69.5 121.5h1.0v1.0h-1.0zM69.5 122.5h1.0v1.0h-1.0zM69.5 124h1.0v1.0h-1.0zM69.5 125h1.0v1.0h-1.0zM69.5 126.5h1.0v1.0h-1.0zM69.5 128h1.0v1.0h-1.0zM69.5 129.5h1.0v1.0h-1.0zM69.5 130h1.0v1.0h-1.0zM69.5 131.5h1.0v1.0h-1.0zM69.5 136.5h1.0v1.0h-1.0zM70 118.5h1.0v1.0h-1.0zM70 120.5h1.0v1.0h-1.0zM70 122.5h1.0v1.0h-1.0zM70 123h1.0v1.0h-1.0zM70 125.5h1.0v1.0h-1.0zM70 126h1.0v1.0h-1.0zM70 126.5h1.0v1.0h-1.0zM70 127.5h1.0v1.0h-1.0zM70 128.5h1.0v1.0h-1.0zM70 129h1.0v1.0h-1.0zM70 129.5h1.0v1.0h-1.0zM70 131h1.0v1.0h-1.0zM70 134h1.0v1.0h-1.0zM70 134.5h1.0v1.0h-1.0zM70 136.5h1.0v1.0h-1.0zM70 140h1.0v1.0h-1.0zM70 143.5h1.0v1.0h-1.0zM70 144.5h1.0v1.0h-1.0zM70 145h1.0v1.0h-1.0zM70.5 123h1.0v1.0h-1.0zM70.5 125h1.0v1.0h-1.0zM70.5 128h1.0v1.0h-1.0zM70.5 128.5h1.0v1.0h-1.0zM70.5 129.5h1.0v1.0h-1.0zM70.5 130h1.0v1.0h-1.0zM70.5 130.5h1.0v1.0h-1.0zM70.5 132h1.0v1.0h-1.0zM70.5 137.5h1.0v1.0h-1.0zM70.5 140h1.0v1.0h-1.0zM71 115.5h1.0v1.0h-1.0zM71 117.5h1.0v1.0h-1.0zM71 119h1.0v1.0h-1.0zM71 120.5h1.0v1.0h-1.0zM71 122h1.0v1.0h-1.0zM71 123.5h1.0v1.0h-1.0zM71 124h1.0v1.0h-1.0zM71 124.5h1.0v1.0h-1.0zM71 126h1.0v1.0h-1.0zM71 127h1.0v1.0h-1.0zM71 127.5h1.0v1.0h-1.0zM71 128.5h1.0v1.0h-1.0zM71 130h1.0v1.0h-1.0zM71 131h1.0v1.0h-1.0zM71 131.5h1.0v1.0h-1.0zM71 132h1.0v1.0h-1.0zM71 132.5h1.0v1.0h-1.0zM71 135h1.0v1.0h-1.0zM71 138.5h1.0v1.0h-1.0zM71 145.5h1.0v1.0h-1.0zM71 146h1.0v1.0h-1.0zM71.5 113h1.0v1.0h-1.0zM71.5 116.5h1.0v1.0h-1.0zM71.5 117h1.0v1.0h-1.0zM71.5 118h1.0v1.0h-1.0zM71.5 119h1.0v1.0h-1.0zM71.5 120h1.0v1.0h-1.0zM71.5 121h1.0v1.0h-1.0zM71.5 122.5h1.0v1.0h-1.0zM71.5 124h1.0v1.0h-1.0zM71.5 126h1.0v1.0h-1.0zM71.5 127h1.0v1.0h-1.0zM71.5 128h1.0v1.0h-1.0zM71.5 129.5h1.0v1.0h-1.0zM71.5 130h1.0v1.0h-1.0zM71.5 131h1.0v1.0h-1.0zM71.5 131.5h1.0v1.0h-1.0zM71.5 135h1.0v1.0h-1.0zM71.5 135.5h1.0v1.0h-1.0zM71.5 154.5h1.0v1.0h-1.0zM72 118.5h1.0v1.0h-1.0zM72 119h1.0v1.0h-1.0zM72 121h1.0v1.0h-1.0zM72 121.5h1.0v1.0h-1.0zM72 122.5h1.0v1.0h-1.0zM72 123h1.0v1.0h-1.0zM72 123.5h1.0v1.0h-1.0zM72 124h1.0v1.0h-1.0zM72 125h1.0v1.0h-1.0zM72 125.5h1.0v1.0h-1.0zM72 126.5h1.0v1.0h-1.0zM72 127h1.0v1.0h-1.0zM72 129h1.0v1.0h-1.0zM72 129.5h1.0v1.0h-1.0zM72 132h1.0v1.0h-1.0zM72 132.5h1.0v1.0h-1.0zM72 134.5h1.0v1.0h-1.0zM72 136h1.0v1.0h-1.0zM72 138h1.0v1.0h-1.0zM72 139h1.0v1.0h-1.0zM72 143h1.0v1.0h-1.0zM72.5 120.5h1.0v1.0h-1.0zM72.5 123h1.0v1.0h-1.0zM72.5 124h1.0v1.0h-1.0zM72.5 124.5h1.0v1.0h-1.0zM72.5 125h1.0v1.0h-1.0zM72.5 125.5h1.0v1.0h-1.0zM72.5 126h1.0v1.0h-1.0zM72.5 128.5h1.0v1.0h-1.0zM72.5 129h1.0v1.0h-1.0zM72.5 132.5h1.0v1.0h-1.0zM72.5 144h1.0v1.0h-1.0zM73 117.5h1.0v1.0h-1.0zM73 119h1.0v1.0h-1.0zM73 122h1.0v1.0h-1.0zM73 124h1.0v1.0h-1.0zM73 125.5h1.0v1.0h-1.0zM73 126.5h1.0v1.0h-1.0zM73 127h1.0v1.0h-1.0zM73 127.5h1.0v1.0h-1.0zM73 128h1.0v1.0h-1.0zM73 128.5h1.0v1.0h-1.0zM73 129.5h1.0v1.0h-1.0zM73 130h1.0v1.0h-1.0zM73 132h1.0v1.0h-1.0zM73 139h1.0v1.0h-1.0zM73 144h1.0v1.0h-1.0zM73.5 115h1.0v1.0h-1.0zM73.5 121h1.0v1.0h-1.0zM73.5 121.5h1.0v1.0h-1.0zM73.5 123.5h1.0v1.0h-1.0zM73.5 125.5h1.0v1.0h-1.0zM73.5 127h1.0v1.0h-1.0zM73.5 128.5h1.0v1.0h-1.0zM73.5 129h1.0v1.0h-1.0zM73.5 132h1.0v1.0h-1.0zM73.5 132.5h1.0v1.0h-1.0zM73.5 133.5h1.0v1.0h-1.0zM73.5 134h1.0v1.0h-1.0zM73.5 137.5h1.0v1.0h-1.0zM74 113h1.0v1.0h-1.0zM74 119.5h1.0v1.0h-1.0zM74 120.5h1.0v1.0h-1.0zM74 121.5h1.0v1.0h-1.0zM74 122h1.0v1.0h-1.0zM74 123.5h1.0v1.0h-1.0zM74 124h1.0v1.0h-1.0zM74 126h1.0v1.0h-1.0zM74 126.5h1.0v1.0h-1.0zM74 127h1.0v1.0h-1.0zM74 128h1.0v1.0h-1.0zM74 131h1.0v1.0h-1.0zM74 132.5h1.0v1.0h-1.0zM74 138.5h1.0v1.0h-1.0zM74 140h1.0v1.0h-1.0zM74.5 118h1.0v1.0h-1.0zM74.5 119h1.0v1.0h-1.0zM74.5 119.5h1.0v1.0h-1.0zM74.5 120h1.0v1.0h-1.0zM74.5 121h1.0v1.0h-1.0zM74.5 121.5h1.0v1.0h-1.0zM74.5 124.5h1.0v1.0h-1.0zM74.5 125h1.0v1.0h-1.0zM74.5 125.5h1.0v1.0h-1.0zM74.5 126h1.0v1.0h-1.0zM74.5 126.5h1.0v1.0h-1.0zM74.5 128.5h1.0v1.0h-1.0zM74.5 129.5h1.0v1.0h-1.0zM74.5 130h1.0v1.0h-1.0zM74.5 130.5h1.0v1.0h-1.0zM74.5 131h1.0v1.0h-1.0zM74.5 131.5h1.0v1.0h-1.0zM74.5 133.5h1.0v1.0h-1.0zM74.5 134.5h1.0v1.0h-1.0zM75 115.5h1.0v1.0h-1.0zM75 119.5h1.0v1.0h-1.0zM75 120.5h1.0v1.0h-1.0zM75 121.5h1.0v1.0h-1.0zM75 122h1.0v1.0h-1.0zM75 123h1.0v1.0h-1.0zM75 124.5h1.0v1.0h-1.0zM75 125h1.0v1.0h-1.0zM75 125.5h1.0v1.0h-1.0zM75 126h1.0v1.0h-1.0zM75 129h1.0v1.0h-1.0zM75 129.5h1.0v1.0h-1.0zM75 132h1.0v1.0h-1.0zM75.5 114h1.0v1.0h-1.0zM75.5 114.5h1.0v1.0h-1.0zM75.5 117h1.0v1.0h-1.0zM75.5 122.5h1.0v1.0h-1.0zM75.5 123.5h1.0v1.0h-1.0zM75.5 124h1.0v1.0h-1.0zM75.5 125.5h1.0v1.0h-1.0zM75.5 126.5h1.0v1.0h-1.0zM75.5 127h1.0v1.0h-1.0zM75.5 128h1.0v1.0h-1.0zM75.5 128.5h1.0v1.0h-1.0zM75.5 130h1.0v1.0h-1.0zM75.5 130.5h1.0v1.0h-1.0zM75.5 131.5h1.0v1.0h-1.0zM75.5 132h1.0v1.0h-1.0zM75.5 133h1.0v1.0h-1.0zM75.5 143.5h1.0v1.0h-1.0zM76 117.5h1.0v1.0h-1.0zM76 119.5h1.0v1.0h-1.0zM76 120.5h1.0v1.0h-1.0zM76 122h1.0v1.0h-1.0zM76 125h1.0v1.0h-1.0zM76 125.5h1.0v1.0h-1.0zM76 126.5h1.0v1.0h-1.0zM76 128h1.0v1.0h-1.0zM76 134.5h1.0v1.0h-1.0zM76 146h1.0v1.0h-1.0zM76.5 116h1.0v1.0h-1.0zM76.5 118h1.0v1.0h-1.0zM76.5 118.5h1.0v1.0h-1.0zM76.5 122h1.0v1.0h-1.0zM76.5 122.5h1.0v1.0h-1.0zM76.5 123h1.0v1.0h-1.0zM76.5 124h1.0v1.0h-1.0zM76.5 124.5h1.0v1.0h-1.0zM76.5 125.5h1.0v1.0h-1.0zM76.5 126h1.0v1.0h-1.0zM76.5 127h1.0v1.0h-1.0zM76.5 127.5h1.0v1.0h-1.0zM76.5 129h1.0v1.0h-1.0zM76.5 129.5h1.0v1.0h-1.0zM76.5 130h1.0v1.0h-1.0zM76.5 131h1.0v1.0h-1.0zM76.5 132h1.0v1.0h-1.0zM76.5 132.5h1.0v1.0h-1.0zM76.5 137.5h1.0v1.0h-1.0zM77 101.5h1.0v1.0h-1.0zM77 117.5h1.0v1.0h-1.0zM77 118h1.0v1.0h-1.0zM77 121.5h1.0v1.0h-1.0zM77 122h1.0v1.0h-1.0zM77 124h1.0v1.0h-1.0zM77 126h1.0v1.0h-1.0zM77 126.5h1.0v1.0h-1.0zM77 127h1.0v1.0h-1.0zM77 130h1.0v1.0h-1.0zM77 131h1.0v1.0h-1.0zM77 132.5h1.0v1.0h-1.0zM77.5 117.5h1.0v1.0h-1.0zM77.5 119.5h1.0v1.0h-1.0zM77.5 120.5h1.0v1.0h-1.0zM77.5 122.5h1.0v1.0h-1.0zM77.5 124h1.0v1.0h-1.0zM77.5 125h1.0v1.0h-1.0zM77.5 125.5h1.0v1.0h-1.0zM77.5 127h1.0v1.0h-1.0zM77.5 127.5h1.0v1.0h-1.0zM77.5 131h1.0v1.0h-1.0zM77.5 132.5h1.0v1.0h-1.0zM77.5 133h1.0v1.0h-1.0zM77.5 145h1.0v1.0h-1.0zM78 116h1.0v1.0h-1.0zM78 119.5h1.0v1.0h-1.0zM78 120h1.0v1.0h-1.0zM78 121h1.0v1.0h-1.0zM78 123h1.0v1.0h-1.0zM78 125.5h1.0v1.0h-1.0zM78 126.5h1.0v1.0h-1.0zM78 128.5h1.0v1.0h-1.0zM78 129h1.0v1.0h-1.0zM78 129.5h1.0v1.0h-1.0zM78 145h1.0v1.0h-1.0zM78.5 107h1.0v1.0h-1.0zM78.5 123h1.0v1.0h-1.0zM78.5 124.5h1.0v1.0h-1.0zM78.5 126.5h1.0v1.0h-1.0zM78.5 127.5h1.0v1.0h-1.0zM78.5 129.5h1.0v1.0h-1.0zM78.5 131h1.0v1.0h-1.0zM78.5 131.5h1.0v1.0h-1.0zM78.5 138.5h1.0v1.0h-1.0zM79 114h1.0v1.0h-1.0zM79 116h1.0v1.0h-1.0zM79 120h1.0v1.0h-1.0zM79 120.5h1.0v1.0h-1.0zM79 124h1.0v1.0h-1.0zM79 124.5h1.0v1.0h-1.0zM79 125.5h1.0v1.0h-1.0zM79 127h1.0v1.0h-1.0zM79 128.5h1.0v1.0h-1.0zM79 129h1.0v1.0h-1.0zM79 131h1.0v1.0h-1.0zM79 132h1.0v1.0h-1.0zM79 135h1.0v1.0h-1.0zM79.5 111.5h1.0v1.0h-1.0zM79.5 120h1.0v1.0h-1.0zM79.5 122.5h1.0v1.0h-1.0zM79.5 124.5h1.0v1.0h-1.0zM79.5 125h1.0v1.0h-1.0zM79.5 126h1.0v1.0h-1.0zM79.5 128h1.0v1.0h-1.0zM79.5 133h1.0v1.0h-1.0zM80 113h1.0v1.0h-1.0zM80 116.5h1.0v1.0h-1.0zM80 122.5h1.0v1.0h-1.0zM80 123.5h1.0v1.0h-1.0zM80 126.5h1.0v1.0h-1.0zM80 127.5h1.0v1.0h-1.0zM80 128.5h1.0v1.0h-1.0zM80 129.5h1.0v1.0h-1.0zM80 131h1.0v1.0h-1.0zM80 134.5h1.0v1.0h-1.0zM80.5 111.5h1.0v1.0h-1.0zM80.5 117h1.0v1.0h-1.0zM80.5 120.5h1.0v1.0h-1.0zM80.5 123.5h1.0v1.0h-1.0zM80.5 124h1.0v1.0h-1.0zM80.5 126h1.0v1.0h-1.0zM80.5 127h1.0v1.0h-1.0zM80.5 128.5h1.0v1.0h-1.0zM80.5 129.5h1.0v1.0h-1.0zM80.5 131h1.0v1.0h-1.0zM80.5 132h1.0v1.0h-1.0zM80.5 145h1.0v1.0h-1.0zM81 121.5h1.0v1.0h-1.0zM81 124h1.0v1.0h-1.0zM81 126.5h1.0v1.0h-1.0zM81 128h1.0v1.0h-1.0zM81 130h1.0v1.0h-1.0zM81 130.5h1.0v1.0h-1.0zM81 131h1.0v1.0h-1.0zM81 132.5h1.0v1.0h-1.0zM81 133h1.0v1.0h-1.0zM81 143.5h1.0v1.0h-1.0zM81.5 119h1.0v1.0h-1.0zM81.5 121.5h1.0v1.0h-1.0zM81.5 122h1.0v1.0h-1.0zM81.5 122.5h1.0v1.0h-1.0zM81.5 126.5h1.0v1.0h-1.0zM81.5 127h1.0v1.0h-1.0zM81.5 127.5h1.0v1.0h-1.0zM81.5 128h1.0v1.0h-1.0zM81.5 146.5h1.0v1.0h-1.0zM82 115h1.0v1.0h-1.0zM82 116h1.0v1.0h-1.0zM82 122h1.0v1.0h-1.0zM82 125h1.0v1.0h-1.0zM82 125.5h1.0v1.0h-1.0zM82 126h1.0v1.0h-1.0zM82 126.5h1.0v1.0h-1.0zM82 128.5h1.0v1.0h-1.0zM82.5 104.5h1.0v1.0h-1.0zM82.5 115.5h1.0v1.0h-1.0zM82.5 118h1.0v1.0h-1.0zM82.5 119.5h1.0v1.0h-1.0zM82.5 129.5h1.0v1.0h-1.0zM82.5 131h1.0v1.0h-1.0zM82.5 131.5h1.0v1.0h-1.0zM82.5 132h1.0v1.0h-1.0zM83 122h1.0v1.0h-1.0zM83 123h1.0v1.0h-1.0zM83 126.5h1.0v1.0h-1.0zM83 127.5h1.0v1.0h-1.0zM83 128.5h1.0v1.0h-1.0zM83 131h1.0v1.0h-1.0zM83 137h1.0v1.0h-1.0zM83.5 117.5h1.0v1.0h-1.0zM83.5 120.5h1.0v1.0h-1.0zM83.5 123.5h1.0v1.0h-1.0zM83.5 124h1.0v1.0h-1.0zM83.5 124.5h1.0v1.0h-1.0zM83.5 127h1.0v1.0h-1.0zM83.5 137.5h1.0v1.0h-1.0zM83.5 143.5h1.0v1.0h-1.0zM84 110.5h1.0v1.0h-1.0zM84 117h1.0v1.0h-1.0zM84 125h1.0v1.0h-1.0zM84 138h1.0v1.0h-1.0zM84 145h1.0v1.0h-1.0zM84.5 116h1.0v1.0h-1.0zM84.5 118.5h1.0v1.0h-1.0zM84.5 130.5h1.0v1.0h-1.0zM85 112h1.0v1.0h-1.0zM85 118h1.0v1.0h-1.0zM85 123h1.0v1.0h-1.0zM85 127h1.0v1.0h-1.0zM85.5 117.5h1.0v1.0h-1.0zM85.5 121h1.0v1.0h-1.0zM85.5 123h1.0v1.0h-1.0zM85.5 124h1.0v1.0h-1.0zM85.5 126h1.0v1.0h-1.0zM85.5 130h1.0v1.0h-1.0zM86 116h1.0v1.0h-1.0zM86 122.5h1.0v1.0h-1.0zM86 126.5h1.0v1.0h-1.0zM86 127h1.0v1.0h-1.0zM86.5 103h1.0v1.0h-1.0zM86.5 111h1.0v1.0h-1.0zM86.5 113h1.0v1.0h-1.0zM86.5 117h1.0v1.0h-1.0zM86.5 119h1.0v1.0h-1.0zM87 100.5h1.0v1.0h-1.0zM87 109.5h1.0v1.0h-1.0zM87 120h1.0v1.0h-1.0zM87 122.5h1.0v1.0h-1.0zM87 124.5h1.0v1.0h-1.0zM87 125.5h1.0v1.0h-1.0zM87 126h1.0v1.0h-1.0zM87 127h1.0v1.0h-1.0zM87 129h1.0v1.0h-1.0zM87 133.5h1.0v1.0h-1.0zM87.5 122.5h1.0v1.0h-1.0zM87.5 126.5h1.0v1.0h-1.0zM87.5 134h1.0v1.0h-1.0zM88 121h1.0v1.0h-1.0zM88 122h1.0v1.0h-1.0zM88 130.5h1.0v1.0h-1.0zM88 131h1.0v1.0h-1.0zM88 143.5h1.0v1.0h-1.0zM88.5 119h1.0v1.0h-1.0zM89 107h1.0v1.0h-1.0zM89 116h1.0v1.0h-1.0zM89 118.5h1.0v1.0h-1.0zM89 120h1.0v1.0h-1.0zM89 121h1.0v1.0h-1.0zM89 123h1.0v1.0h-1.0zM89 128.5h1.0v1.0h-1.0zM89 143.5h1.0v1.0h-1.0zM89.5 97h1.0v1.0h-1.0zM89.5 121.5h1.0v1.0h-1.0zM89.5 122.5h1.0v1.0h-1.0zM89.5 123.5h1.0v1.0h-1.0zM89.5 125.5h1.0v1.0h-1.0zM90 108h1.0v1.0h-1.0zM90 118h1.0v1.0h-1.0zM90 127.5h1.0v1.0h-1.0zM90.5 107h1.0v1.0h-1.0zM90.5 122.5h1.0v1.0h-1.0zM90.5 126.5h1.0v1.0h-1.0zM90.5 130.5h1.0v1.0h-1.0zM91 101h1.0v1.0h-1.0zM91 112.5h1.0v1.0h-1.0zM91 115h1.0v1.0h-1.0zM91 124h1.0v1.0h-1.0zM91 144h1.0v1.0h-1.0zM91.5 116.5h1.0v1.0h-1.0zM91.5 129h1.0v1.0h-1.0zM91.5 135.5h1.0v1.0h-1.0zM92 115.5h1.0v1.0h-1.0zM92 120h1.0v1.0h-1.0zM92 129.5h1.0v1.0h-1.0zM92 131.5h1.0v1.0h-1.0zM92.5 107.5h1.0v1.0h-1.0zM92.5 112h1.0v1.0h-1.0zM92.5 120h1.0v1.0h-1.0zM92.5 120.5h1.0v1.0h-1.0zM92.5 125h1.0v1.0h-1.0zM92.5 129h1.0v1.0h-1.0zM92.5 133h1.0v1.0h-1.0zM93 106h1.0v1.0h-1.0zM93 111h1.0v1.0h-1.0zM93 118h1.0v1.0h-1.0zM93 129h1.0v1.0h-1.0zM93 140h1.0v1.0h-1.0zM93.5 115h1.0v1.0h-1.0zM93.5 120h1.0v1.0h-1.0zM93.5 129.5h1.0v1.0h-1.0zM94 116.5h1.0v1.0h-1.0zM94 127.5h1.0v1.0h-1.0zM94.5 99h1.0v1.0h-1.0zM94.5 110.5h1.0v1.0h-1.0zM94.5 117.5h1.0v1.0h-1.0zM94.5 132.5h1.0v1.0h-1.0zM95 120.5h1.0v1.0h-1.0zM95 127h1.0v1.0h-1.0zM95.5 105.5h1.0v1.0h-1.0zM95.5 107h1.0v1.0h-1.0zM95.5 120.5h1.0v1.0h-1.0zM95.5 121h1.0v1.0h-1.0zM95.5 124h1.0v1.0h-1.0zM95.5 124.5h1.0v1.0h-1.0zM96 120.5h1.0v1.0h-1.0zM96 125.5h1.0v1.0h-1.0zM96.5 105h1.0v1.0h-1.0zM96.5 107.5h1.0v1.0h-1.0zM96.5 131.5h1.0v1.0h-1.0zM97 109.5h1.0v1.0h-1.0zM97 124.5h1.0v1.0h-1.0zM97.5 108.5h1.0v1.0h-1.0zM97.5 109.5h1.0v1.0h-1.0zM97.5 113.5h1.0v1.0h-1.0zM97.5 118h1.0v1.0h-1.0zM97.5 120h1.0v1.0h-1.0zM97.5 123h1.0v1.0h-1.0zM97.5 124h1.0v1.0h-1.0zM98 103.5h1.0v1.0h-1.0zM98 116.5h1.0v1.0h-1.0zM98 123.5h1.0v1.0h-1.0zM98 124h1.0v1.0h-1.0zM98.5 113.5h1.0v1.0h-1.0zM98.5 115h1.0v1.0h-1.0zM98.5 121h1.0v1.0h-1.0zM98.5 129.5h1.0v1.0h-1.0zM99 118.5h1.0v1.0h-1.0zM99 119.5h1.0v1.0h-1.0zM99 127h1.0v1.0h-1.0zM99 129.5h1.0v1.0h-1.0zM99 144.5h1.0v1.0h-1.0zM99.5 111h1.0v1.0h-1.0zM99.5 114h1.0v1.0h-1.0zM99.5 118.5h1.0v1.0h-1.0zM99.5 123h1.0v1.0h-1.0zM99.5 124h1.0v1.0h-1.0zM100 124h1.0v1.0h-1.0zM100.5 118h1.0v1.0h-1.0zM100.5 119h1.0v1.0h-1.0zM100.5 119.5h1.0v1.0h-1.0zM100.5 125h1.0v1.0h-1.0zM100.5 125.5h1.0v1.0h-1.0zM100.5 128h1.0v1.0h-1.0zM100.5 131h1.0v1.0h-1.0zM101 99.5h1.0v1.0h-1.0zM101 114h1.0v1.0h-1.0zM101 114.5h1.0v1.0h-1.0zM101 115.5h1.0v1.0h-1.0zM101 117h1.0v1.0h-1.0zM101 123.5h1.0v1.0h-1.0zM101.5 108h1.0v1.0h-1.0zM101.5 117h1.0v1.0h-1.0zM101.5 132.5h1.0v1.0h-1.0zM102 125.5h1.0v1.0h-1.0zM102 128.5h1.0v1.0h-1.0zM102 132h1.0v1.0h-1.0zM102.5 100h1.0v1.0h-1.0zM102.5 107h1.0v1.0h-1.0zM102.5 108.5h1.0v1.0h-1.0zM102.5 110h1.0v1.0h-1.0zM102.5 112.5h1.0v1.0h-1.0zM102.5 122h1.0v1.0h-1.0zM102.5 126h1.0v1.0h-1.0zM103 107.5h1.0v1.0h-1.0zM103 109.5h1.0v1.0h-1.0zM103 112h1.0v1.0h-1.0zM103 113h1.0v1.0h-1.0zM103 114.5h1.0v1.0h-1.0zM103 117.5h1.0v1.0h-1.0zM103 129h1.0v1.0h-1.0zM103 137.5h1.0v1.0h-1.0zM103 141h1.0v1.0h-1.0zM103.5 104h1.0v1.0h-1.0zM103.5 105.5h1.0v1.0h-1.0zM103.5 106h1.0v1.0h-1.0zM103.5 120.5h1.0v1.0h-1.0zM103.5 122h1.0v1.0h-1.0zM103.5 123h1.0v1.0h-1.0zM103.5 134h1.0v1.0h-1.0zM104 105h1.0v1.0h-1.0zM104 105.5h1.0v1.0h-1.0zM104 106h1.0v1.0h-1.0zM104 107.5h1.0v1.0h-1.0zM104 108.5h1.0v1.0h-1.0zM104 117.5h1.0v1.0h-1.0zM104 126h1.0v1.0h-1.0zM104 131h1.0v1.0h-1.0zM104 134h1.0v1.0h-1.0zM104.5 100h1.0v1.0h-1.0zM104.5 104.5h1.0v1.0h-1.0zM104.5 116.5h1.0v1.0h-1.0zM104.5 120.5h1.0v1.0h-1.0zM105 109.5h1.0v1.0h-1.0zM105 111.5h1.0v1.0h-1.0zM105 117.5h1.0v1.0h-1.0zM105 120h1.0v1.0h-1.0zM105 123.5h1.0v1.0h-1.0zM105 125h1.0v1.0h-1.0zM105.5 107.5h1.0v1.0h-1.0zM105.5 119.5h1.0v1.0h-1.0zM105.5 120h1.0v1.0h-1.0zM105.5 126.5h1.0v1.0h-1.0zM106 103.5h1.0v1.0h-1.0zM106 105.5h1.0v1.0h-1.0zM106 106.5h1.0v1.0h-1.0zM106.5 109.5h1.0v1.0h-1.0zM106.5 111h1.0v1.0h-1.0zM106.5 114.5h1.0v1.0h-1.0zM106.5 119h1.0v1.0h-1.0zM106.5 122.5h1.0v1.0h-1.0zM107 104.5h1.0v1.0h-1.0zM107 105h1.0v1.0h-1.0zM107 107.5h1.0v1.0h-1.0zM107 109.5h1.0v1.0h-1.0zM107.5 104h1.0v1.0h-1.0zM107.5 106.5h1.0v1.0h-1.0zM107.5 108.5h1.0v1.0h-1.0zM107.5 112.5h1.0v1.0h-1.0zM107.5 114h1.0v1.0h-1.0zM107.5 125h1.0v1.0h-1.0zM107.5 126.5h1.0v1.0h-1.0zM108 104.5h1.0v1.0h-1.0zM108 105h1.0v1.0h-1.0zM108 109h1.0v1.0h-1.0zM108 110h1.0v1.0h-1.0zM108 115.5h1.0v1.0h-1.0zM108 116.5h1.0v1.0h-1.0zM108 117h1.0v1.0h-1.0zM108 121.5h1.0v1.0h-1.0zM108 122h1.0v1.0h-1.0zM108.5 93h1.0v1.0h-1.0zM108.5 103.5h1.0v1.0h-1.0zM108.5 107.5h1.0v1.0h-1.0zM108.5 108h1.0v1.0h-1.0zM108.5 108.5h1.0v1.0h-1.0zM108.5 109.5h1.0v1.0h-1.0zM108.5 114h1.0v1.0h-1.0zM108.5 118h1.0v1.0h-1.0zM109 107h1.0v1.0h-1.0zM109 111h1.0v1.0h-1.0zM109 113.5h1.0v1.0h-1.0zM109 122h1.0v1.0h-1.0zM109 126.5h1.0v1.0h-1.0zM109.5 111.5h1.0v1.0h-1.0zM109.5 115.5h1.0v1.0h-1.0zM110 105h1.0v1.0h-1.0zM110 107h1.0v1.0h-1.0zM110 117.5h1.0v1.0h-1.0zM110 118h1.0v1.0h-1.0zM110 124h1.0v1.0h-1.0zM110.5 110h1.0v1.0h-1.0zM110.5 110.5h1.0v1.0h-1.0zM110.5 112h1.0v1.0h-1.0zM110.5 117.5h1.0v1.0h-1.0zM110.5 120.5h1.0v1.0h-1.0zM111 105.5h1.0v1.0h-1.0zM111 112.5h1.0v1.0h-1.0zM111.5 89.5h1.0v1.0h-1.0zM111.5 106.5h1.0v1.0h-1.0zM111.5 108h1.0v1.0h-1.0zM111.5 115h1.0v1.0h-1.0zM112 113.5h1.0v1.0h-1.0zM112 114h1.0v1.0h-1.0zM112 118h1.0v1.0h-1.0zM112 119h1.0v1.0h-1.0zM112 119.5h1.0v1.0h-1.0zM112.5 105.5h1.0v1.0h-1.0zM112.5 110h1.0v1.0h-1.0zM112.5 112h1.0v1.0h-1.0zM112.5 116.5h1.0v1.0h-1.0zM112.5 125h1.0v1.0h-1.0zM113 104.5h1.0v1.0h-1.0zM113 115h1.0v1.0h-1.0zM113 118h1.0v1.0h-1.0zM113 121h1.0v1.0h-1.0zM113 129h1.0v1.0h-1.0zM113.5 114.5h1.0v1.0h-1.0zM113.5 115h1.0v1.0h-1.0zM113.5 120h1.0v1.0h-1.0zM114 106.5h1.0v1.0h-1.0zM114 110.5h1.0v1.0h-1.0zM114 112.5h1.0v1.0h-1.0zM114 118h1.0v1.0h-1.0zM114 123.5h1.0v1.0h-1.0zM114 124.5h1.0v1.0h-1.0zM114.5 105h1.0v1.0h-1.0zM114.5 116h1.0v1.0h-1.0zM115 108.5h1.0v1.0h-1.0zM115 109h1.0v1.0h-1.0zM115 118h1.0v1.0h-1.0zM115 126.5h1.0v1.0h-1.0zM116 139h1.0v1.0h-1.0zM116.5 108h1.0v1.0h-1.0zM116.5 111h1.0v1.0h-1.0zM116.5 113h1.0v1.0h-1.0zM116.5 113.5h1.0v1.0h-1.0zM116.5 115h1.0v1.0h-1.0zM116.5 138h1.0v1.0h-1.0zM117 110h1.0v1.0h-1.0zM117 111.5h1.0v1.0h-1.0zM117 115.5h1.0v1.0h-1.0zM117 124h1.0v1.0h-1.0zM117.5 103h1.0v1.0h-1.0zM117.5 107.5h1.0v1.0h-1.0zM117.5 131h1.0v1.0h-1.0zM117.5 135.5h1.0v1.0h-1.0zM118 104.5h1.0v1.0h-1.0zM118 109.5h1.0v1.0h-1.0zM118 112h1.0v1.0h-1.0zM118 112.5h1.0v1.0h-1.0zM118 136h1.0v1.0h-1.0zM119.5 106.5h1.0v1.0h-1.0zM119.5 112.5h1.0v1.0h-1.0zM119.5 116h1.0v1.0h-1.0zM121 103h1.0v1.0h-1.0zM121.5 120h1.0v1.0h-1.0zM123 112h1.0v1.0h-1.0zM123 113h1.0v1.0h-1.0zM124.5 107h1.0v1.0h-1.0zM131 114h1.0v1.0h-1.0z" fill="#000" fill-opacity="0.64"/>
<path d="M52.5 125h1.0v1.0h-1.0zM53.5 125.5h1.0v1.0h-1.0zM55 124h1.0v1.0h-1.0zM55 134.5h1.0v1.0h-1.0zM56 132.5h1.0v1.0h-1.0zM56.5 128h1.0v1.0h-1.0zM56.5 130h1.0v1.0h-1.0zM56.5 133.5h1.0v1.0h-1.0zM57 124.5h1.0v1.0h-1.0zM57 130.5h1.0v1.0h-1.0zM57 136h1.0v1.0h-1.0zM57.5 128.5h1.0v1.0h-1.0zM57.5 136.5h1.0v1.0h-1.0zM58.5 120h1.0v1.0h-1.0zM58.5 125.5h1.0v1.0h-1.0zM58.5 131h1.0v1.0h-1.0zM59 121h1.0v1.0h-1.0zM59.5 118h1.0v1.0h-1.0zM60 126.5h1.0v1.0h-1.0zM60 130.5h1.0v1.0h-1.0zM60 132h1.0v1.0h-1.0zM60.5 121.5h1.0v1.0h-1.0zM60.5 128.5h1.0v1.0h-1.0zM60.5 129.5h1.0v1.0h-1.0zM60.5 130.5h1.0v1.0h-1.0zM60.5 135.5h1.0v1.0h-1.0zM61 123.5h1.0v1.0h-1.0zM61 124h1.0v1.0h-1.0zM61 127h1.0v1.0h-1.0zM61 134h1.0v1.0h-1.0zM61.5 122h1.0v1.0h-1.0zM61.5 123.5h1.0v1.0h-1.0zM61.5 124h1.0v1.0h-1.0zM61.5 127.5h1.0v1.0h-1.0zM61.5 133h1.0v1.0h-1.0zM61.5 143h1.0v1.0h-1.0zM62 127h1.0v1.0h-1.0zM62 132.5h1.0v1.0h-1.0zM62 134h1.0v1.0h-1.0zM62 139.5h1.0v1.0h-1.0zM62 141h1.0v1.0h-1.0zM62.5 100.5h1.0v1.0h-1.0zM62.5 116.5h1.0v1.0h-1.0zM62.5 118.5h1.0v1.0h-1.0zM62.5 119h1.0v1.0h-1.0zM62.5 121h1.0v1.0h-1.0zM62.5 122h1.0v1.0h-1.0zM62.5 122.5h1.0v1.0h-1.0zM62.5 126h1.0v1.0h-1.0zM62.5 127.5h1.0v1.0h-1.0zM62.5 129h1.0v1.0h-1.0zM62.5 130.5h1.0v1.0h-1.0zM62.5 139h1.0v1.0h-1.0zM63 117.5h1.0v1.0h-1.0zM63 125h1.0v1.0h-1.0zM63 126.5h1.0v1.0h-1.0zM63 127h1.0v1.0h-1.0zM63 129.5h1.0v1.0h-1.0zM63 137h1.0v1.0h-1.0zM63 146.5h1.0v1.0h-1.0zM63.5 122.5h1.0v1.0h-1.0zM63.5 128.5h1.0v1.0h-1.0zM63.5 130.5h1.0v1.0h-1.0zM63.5 138h1.0v1.0h-1.0zM63.5 139.5h1.0v1.0h-1.0zM64 120h1.0v1.0h-1.0zM64 127.5h1.0v1.0h-1.0zM64 128h1.0v1.0h-1.0zM64 130h1.0v1.0h-1.0zM64 135h1.0v1.0h-1.0zM64 136h1.0v1.0h-1.0zM64 140h1.0v1.0h-1.0zM64.5 121.5h1.0v1.0h-1.0zM64.5 123h1.0v1.0h-1.0zM64.5 123.5h1.0v1.0h-1.0zM64.5 125h1.0v1.0h-1.0zM64.5 129.5h1.0v1.0h-1.0zM64.5 131.5h1.0v1.0h-1.0zM64.5 135.5h1.0v1.0h-1.0zM65 118h1.0v1.0h-1.0zM65 120.5h1.0v1.0h-1.0zM65 122.5h1.0v1.0h-1.0zM65 123.5h1.0v1.0h-1.0zM65 126.5h1.0v1.0h-1.0zM65 127h1.0v1.0h-1.0zM65 128.5h1.0v1.0h-1.0zM65 132h1.0v1.0h-1.0zM65 134h1.0v1.0h-1.0zM65 137h1.0v1.0h-1.0zM65.5 121.5h1.0v1.0h-1.0zM65.5 122h1.0v1.0h-1.0zM65.5 122.5h1.0v1.0h-1.0zM65.5 123h1.0v1.0h-1.0zM65.5 124h1.0v1.0h-1.0zM65.5 124.5h1.0v1.0h-1.0zM65.5 125h1.0v1.0h-1.0zM65.5 130.5h1.0v1.0h-1.0zM65.5 132h1.0v1.0h-1.0zM65.5 137.5h1.0v1.0h-1.0zM65.5 146h1.0v1.0h-1.0zM66 121h1.0v1.0h-1.0zM66 123h1.0v1.0h-1.0zM66 124h1.0v1.0h-1.0zM66 124.5h1.0v1.0h-1.0zM66 126h1.0v1.0h-1.0zM66 128.5h1.0v1.0h-1.0zM66 129.5h1.0v1.0h-1.0zM66 131.5h1.0v1.0h-1.0zM66 133.5h1.0v1.0h-1.0zM66 136h1.0v1.0h-1.0zM66 137h1.0v1.0h-1.0zM66 140.5h1.0v1.0h-1.0zM66 142h1.0v1.0h-1.0zM66.5 113.5h1.0v1.0h-1.0zM66.5 119h1.0v1.0h-1.0zM66.5 122h1.0v1.0h-1.0zM66.5 122.5h1.0v1.0h-1.0zM66.5 123h1.0v1.0h-1.0zM66.5 123.5h1.0v1.0h-1.0zM66.5 125h1.0v1.0h-1.0zM66.5 125.5h1.0v1.0h-1.0zM66.5 126.5h1.0v1.0h-1.0zM66.5 127h1.0v1.0h-1.0zM66.5 128h1.0v1.0h-1.0zM66.5 128.5h1.0v1.0h-1.0zM66.5 129h1.0v1.0h-1.0zM66.5 130.5h1.0v1.0h-1.0zM66.5 131.5h1.0v1.0h-1.0zM66.5 132.5h1.0v1.0h-1.0zM66.5 135h1.0v1.0h-1.0zM66.5 135.5h1.0v1.0h-1.0zM67 115h1.0v1.0h-1.0zM67 120h1.0v1.0h-1.0zM67 121h1.0v1.0h-1.0zM67 122h1.0v1.0h-1.0zM67 124h1.0v1.0h-1.0zM67 125h1.0v1.0h-1.0zM67 126h1.0v1.0h-1.0zM67 127.5h1.0v1.0h-1.0zM67 128h1.0v1.0h-1.0zM67 128.5h1.0v1.0h-1.0zM67 130h1.0v1.0h-1.0zM67 130.5h1.0v1.0h-1.0zM67 133h1.0v1.0h-1.0zM67 135.5h1.0v1.0h-1.0zM67.5 122h1.0v1.0h-1.0zM67.5 122.5h1.0v1.0h-1.0zM67.5 124.5h1.0v1.0h-1.0zM67.5 125.5h1.0v1.0h-1.0zM67.5 126h1.0v1.0h-1.0zM67.5 127h1.0v1.0h-1.0zM67.5 127.5h1.0v1.0h-1.0zM67.5 128.5h1.0v1.0h-1.0zM67.5 131h1.0v1.0h-1.0zM67.5 134.5h1.0v1.0h-1.0zM67.5 135h1.0v1.0h-1.0zM67.5 138.5h1.0v1.0h-1.0zM67.5 141h1.0v1.0h-1.0zM68 105.5h1.0v1.0h-1.0zM68 114h1.0v1.0h-1.0zM68 120h1.0v1.0h-1.0zM68 124h1.0v1.0h-1.0zM68 125h1.0v1.0h-1.0zM68 126h1.0v1.0h-1.0zM68 127.5h1.0v1.0h-1.0zM68 128h1.0v1.0h-1.0zM68 128.5h1.0v1.0h-1.0zM68 131h1.0v1.0h-1.0zM68 131.5h1.0v1.0h-1.0zM68 132.5h1.0v1.0h-1.0zM68 134h1.0v1.0h-1.0zM68 134.5h1.0v1.0h-1.0zM68.5 114.5h1.0v1.0h-1.0zM68.5 121.5h1.0v1.0h-1.0zM68.5 124.5h1.0v1.0h-1.0zM68.5 125.5h1.0v1.0h-1.0zM68.5 126.5h1.0v1.0h-1.0zM68.5 127.5h1.0v1.0h-1.0zM68.5 129h1.0v1.0h-1.0zM68.5 130h1.0v1.0h-1.0zM68.5 131h1.0v1.0h-1.0zM68.5 131.5h1.0v1.0h-1.0zM68.5 132h1.0v1.0h-1.0zM68.5 132.5h1.0v1.0h-1.0zM68.5 134h1.0v1.0h-1.0zM68.5 135h1.0v1.0h-1.0zM68.5 143h1.0v1.0h-1.0zM69 119h1.0v1.0h-1.0zM69 119.5h1.0v1.0h-1.0zM69 122h1.0v1.0h-1.0zM69 123.5h1.0v1.0h-1.0zM69 125h1.0v1.0h-1.0zM69 125.5h1.0v1.0h-1.0zM69 126h1.0v1.0h-1.0zM69 126.5h1.0v1.0h-1.0zM69 127.5h1.0v1.0h-1.0zM69 129h1.0v1.0h-1.0zM69 130h1.0v1.0h-1.0zM69 132.5h1.0v1.0h-1.0zM69 136h1.0v1.0h-1.0zM69 137h1.0v1.0h-1.0zM69 141.5h1.0v1.0h-1.0zM69 142.5h1.0v1.0h-1.0zM69.5 114h1.0v1.0h-1.0zM69.5 118h1.0v1.0h-1.0zM69.5 118.5h1.0v1.0h-1.0zM69.5 121h1.0v1.0h-1.0zM69.5 121.5h1.0v1.0h-1.0zM69.5 122h1.0v1.0h-1.0zM69.5 123h1.0v1.0h-1.0zM69.5 124h1.0v1.0h-1.0zM69.5 124.5h1.0v1.0h-1.0zM69.5 125.5h1.0v1.0h-1.0zM69.5 126h1.0v1.0h-1.0zM69.5 126.5h1.0v1.0h-1.0zM69.5 127h1.0v1.0h-1.0zM69.5 127.5h1.0v1.0h-1.0zM69.5 128h1.0v1.0h-1.0zM69.5 129.5h1.0v1.0h-1.0zM69.5 131h1.0v1.0h-1.0zM69.5 132h1.0v1.0h-1.0zM69.5 132.5h1.0v1.0h-1.0zM69.5 134h1.0v1.0h-1.0zM70 107.5h1.0v1.0h-1.0zM70 115h1.0v1.0h-1.0zM70 118.5h1.0v1.0h-1.0zM70 119.5h1.0v1.0h-1.0zM70 120h1.0v1.0h-1.0zM70 120.5h1.0v1.0h-1.0zM70 121.5h1.0v1.0h-1.0zM70 122.5h1.0v1.0h-1.0zM70 124.5h1.0v1.0h-1.0zM70 125h1.0v1.0h-1.0zM70 125.5h1.0v1.0h-1.0zM70 126.5h1.0v1.0h-1.0zM70 127h1.0v1.0h-1.0zM70 128h1.0v1.0h-1.0zM70 129h1.0v1.0h-1.0zM70 129.5h1.0v1.0h-1.0zM70 130h1.0v1.0h-1.0zM70 135h1.0v1.0h-1.0zM70 136h1.0v1.0h-1.0zM70 138.5h1.0v1.0h-1.0zM70 144h1.0v1.0h-1.0zM70 144.5h1.0v1.0h-1.0zM70 146h1.0v1.0h-1.0zM70.5 112h1.0v1.0h-1.0zM70.5 117.5h1.0v1.0h-1.0zM70.5 119.5h1.0v1.0h-1.0zM70.5 122h1.0v1.0h-1.0zM70.5 124h1.0v1.0h-1.0zM70.5 124.5h1.0v1.0h-1.0zM70.5 125h1.0v1.0h-1.0zM70.5 125.5h1.0v1.0h-1.0zM70.5 126h1.0v1.0h-1.0zM70.5 126.5h1.0v1.0h-1.0zM70.5 127h1.0v1.0h-1.0zM70.5 128h1.0v1.0h-1.0zM70.5 128.5h1.0v1.0h-1.0zM70.5 130h1.0v1.0h-1.0zM70.5 131.5h1.0v1.0h-1.0zM70.5 139h1.0v1.0h-1.0zM70.5 139.5h1.0v1.0h-1.0zM70.5 146.5h1.0v1.0h-1.0zM71 114h1.0v1.0h-1.0zM71 118h1.0v1.0h-1.0zM71 119.5h1.0v1.0h-1.0zM71 120h1.0v1.0h-1.0zM71 121.5h1.0v1.0h-1.0zM71 125h1.0v1.0h-1.0zM71 125.5h1.0v1.0h-1.0zM71 126.5h1.0v1.0h-1.0zM71 128.5h1.0v1.0h-1.0zM71 129h1.0v1.0h-1.0zM71 129.5h1.0v1.0h-1.0zM71 130h1.0v1.0h-1.0zM71 130.5h1.0v1.0h-1.0zM71 132h1.0v1.0h-1.0zM71 132.5h1.0v1.0h-1.0zM71 135h1.0v1.0h-1.0zM71 137.5h1.0v1.0h-1.0zM71.5 118h1.0v1.0h-1.0zM71.5 119h1.0v1.0h-1.0zM71.5 123h1.0v1.0h-1.0zM71.5 124h1.0v1.0h-1.0zM71.5 125h1.0v1.0h-1.0zM71.5 125.5h1.0v1.0h-1.0zM71.5 126h1.0v1.0h-1.0zM71.5 128h1.0v1.0h-1.0zM71.5 128.5h1.0v1.0h-1.0zM71.5 129h1.0v1.0h-1.0zM71.5 130.5h1.0v1.0h-1.0zM71.5 131.5h1.0v1.0h-1.0zM71.5 132.5h1.0v1.0h-1.0zM71.5 135.5h1.0v1.0h-1.0zM71.5 145.5h1.0v1.0h-1.0zM72 114.5h1.0v1.0h-1.0zM72 116h1.0v1.0h-1.0zM72 116.5h1.0v1.0h-1.0zM72 118.5h1.0v1.0h-1.0zM72 121h1.0v1.0h-1.0zM72 122h1.0v1.0h-1.0zM72 123h1.0v1.0h-1.0zM72 123.5h1.0v1.0h-1.0zM72 124.5h1.0v1.0h-1.0zM72 125h1.0v1.0h-1.0zM72 126h1.0v1.0h-1.0zM72 127h1.0v1.0h-1.0zM72 127.5h1.0v1.0h-1.0zM72 128.5h1.0v1.0h-1.0zM72 132h1.0v1.0h-1.0zM72 138h1.0v1.0h-1.0zM72.5 115h1.0v1.0h-1.0zM72.5 119h1.0v1.0h-1.0zM72.5 120h1.0v1.0h-1.0zM72.5 121h1.0v1.0h-1.0zM72.5 122h1.0v1.0h-1.0zM72.5 123h1.0v1.0h-1.0zM72.5 125h1.0v1.0h-1.0zM72.5 126h1.0v1.0h-1.0zM72.5 127h1.0v1.0h-1.0zM72.5 128h1.0v1.0h-1.0zM72.5 128.5h1.0v1.0h-1.0zM72.5 129.5h1.0v1.0h-1.0zM72.5 130.5h1.0v1.0h-1.0zM72.5 131h1.0v1.0h-1.0zM72.5 131.5h1.0v1.0h-1.0zM72.5 133h1.0v1.0h-1.0zM73 120h1.0v1.0h-1.0zM73 122h1.0v1.0h-1.0zM73 122.5h1.0v1.0h-1.0zM73 123h1.0v1.0h-1.0zM73 124h1.0v1.0h-1.0zM73 125h1.0v1.0h-1.0zM73 125.5h1.0v1.0h-1.0zM73 126.5h1.0v1.0h-1.0zM73 128h1.0v1.0h-1.0zM73 129h1.0v1.0h-1.0zM73 130h1.0v1.0h-1.0zM73 130.5h1.0v1.0h-1.0zM73 131h1.0v1.0h-1.0zM73 132h1.0v1.0h-1.0zM73 133h1.0v1.0h-1.0zM73 133.5h1.0v1.0h-1.0zM73 140h1.0v1.0h-1.0zM73 153.5h1.0v1.0h-1.0zM73.5 118h1.0v1.0h-1.0zM73.5 119.5h1.0v1.0h-1.0zM73.5 120.5h1.0v1.0h-1.0zM73.5 121.5h1.0v1.0h-1.0zM73.5 123h1.0v1.0h-1.0zM73.5 124h1.0v1.0h-1.0zM73.5 125h1.0v1.0h-1.0zM73.5 125.5h1.0v1.0h-1.0zM73.5 126h1.0v1.0h-1.0zM73.5 126.5h1.0v1.0h-1.0zM73.5 127h1.0v1.0h-1.0zM73.5 127.5h1.0v1.0h-1.0zM73.5 129.5h1.0v1.0h-1.0zM73.5 130.5h1.0v1.0h-1.0zM73.5 132.5h1.0v1.0h-1.0zM73.5 133h1.0v1.0h-1.0zM73.5 136.5h1.0v1.0h-1.0zM74 119h1.0v1.0h-1.0zM74 119.5h1.0v1.0h-1.0zM74 122h1.0v1.0h-1.0zM74 122.5h1.0v1.0h-1.0zM74 123h1.0v1.0h-1.0zM74 128h1.0v1.0h-1.0zM74 128.5h1.0v1.0h-1.0zM74 129.5h1.0v1.0h-1.0zM74 130h1.0v1.0h-1.0zM74 130.5h1.0v1.0h-1.0zM74 132h1.0v1.0h-1.0zM74 133.5h1.0v1.0h-1.0zM74 141.5h1.0v1.0h-1.0zM74.5 115.5h1.0v1.0h-1.0zM74.5 120h1.0v1.0h-1.0zM74.5 122h1.0v1.0h-1.0zM74.5 123h1.0v1.0h-1.0zM74.5 123.5h1.0v1.0h-1.0zM74.5 124h1.0v1.0h-1.0zM74.5 125.5h1.0v1.0h-1.0zM74.5 126.5h1.0v1.0h-1.0zM74.5 127h1.0v1.0h-1.0zM74.5 129h1.0v1.0h-1.0zM74.5 131.5h1.0v1.0h-1.0zM74.5 132.5h1.0v1.0h-1.0zM74.5 133h1.0v1.0h-1.0zM74.5 133.5h1.0v1.0h-1.0zM74.5 134h1.0v1.0h-1.0zM74.5 135h1.0v1.0h-1.0zM74.5 136.5h1.0v1.0h-1.0zM74.5 137.5h1.0v1.0h-1.0zM74.5 144h1.0v1.0h-1.0zM75 117h1.0v1.0h-1.0zM75 118.5h1.0v1.0h-1.0zM75 120.5h1.0v1.0h-1.0zM75 122h1.0v1.0h-1.0zM75 124h1.0v1.0h-1.0zM75 126h1.0v1.0h-1.0zM75 128h1.0v1.0h-1.0zM75 129.5h1.0v1.0h-1.0zM75 130h1.0v1.0h-1.0zM75 131.5h1.0v1.0h-1.0zM75 134.5h1.0v1.0h-1.0zM75 139.5h1.0v1.0h-1.0zM75.5 115.5h1.0v1.0h-1.0zM75.5 121h1.0v1.0h-1.0zM75.5 121.5h1.0v1.0h-1.0zM75.5 122h1.0v1.0h-1.0zM75.5 122.5h1.0v1.0h-1.0zM75.5 123.5h1.0v1.0h-1.0zM75.5 125h1.0v1.0h-1.0zM75.5 126.5h1.0v1.0h-1.0zM75.5 127.5h1.0v1.0h-1.0zM75.5 130.5h1.0v1.0h-1.0zM75.5 132h1.0v1.0h-1.0zM75.5 140h1.0v1.0h-1.0zM76 113.5h1.0v1.0h-1.0zM76 114.5h1.0v1.0h-1.0zM76 116h1.0v1.0h-1.0zM76 118.5h1.0v1.0h-1.0zM76 120h1.0v1.0h-1.0zM76 122h1.0v1.0h-1.0zM76 123h1.0v1.0h-1.0zM76 125.5h1.0v1.0h-1.0zM76 126h1.0v1.0h-1.0zM76 126.5h1.0v1.0h-1.0zM76 127h1.0v1.0h-1.0zM76 128h1.0v1.0h-1.0zM76 128.5h1.0v1.0h-1.0zM76 131.5h1.0v1.0h-1.0zM76 132h1.0v1.0h-1.0zM76 138.5h1.0v1.0h-1.0zM76.5 116h1.0v1.0h-1.0zM76.5 121h1.0v1.0h-1.0zM76.5 125.5h1.0v1.0h-1.0zM76.5 126h1.0v1.0h-1.0zM76.5 126.5h1.0v1.0h-1.0zM76.5 127h1.0v1.0h-1.0zM76.5 127.5h1.0v1.0h-1.0zM76.5 130h1.0v1.0h-1.0zM76.5 141.5h1.0v1.0h-1.0zM76.5 142h1.0v1.0h-1.0zM77 115h1.0v1.0h-1.0zM77 122.5h1.0v1.0h-1.0zM77 123h1.0v1.0h-1.0zM77 123.5h1.0v1.0h-1.0zM77 124h1.0v1.0h-1.0zM77 124.5h1.0v1.0h-1.0zM77 127.5h1.0v1.0h-1.0zM77 128h1.0v1.0h-1.0zM77 128.5h1.0v1.0h-1.0zM77 129h1.0v1.0h-1.0zM77 129.5h1.0v1.0h-1.0zM77 137h1.0v1.0h-1.0zM77 138h1.0v1.0h-1.0zM77.5 117h1.0v1.0h-1.0zM77.5 122h1.0v1.0h-1.0zM77.5 125h1.0v1.0h-1.0zM77.5 129.5h1.0v1.0h-1.0zM77.5 132.5h1.0v1.0h-1.0zM77.5 133.5h1.0v1.0h-1.0zM77.5 134.5h1.0v1.0h-1.0zM77.5 136h1.0v1.0h-1.0zM78 119.5h1.0v1.0h-1.0zM78 124h1.0v1.0h-1.0zM78 126h1.0v1.0h-1.0zM78 126.5h1.0v1.0h-1.0zM78 127.5h1.0v1.0h-1.0zM78 128.5h1.0v1.0h-1.0zM78 129h1.0v1.0h-1.0zM78 130.5h1.0v1.0h-1.0zM78 132.5h1.0v1.0h-1.0zM78 133h1.0v1.0h-1.0zM78 134.5h1.0v1.0h-1.0zM78 140h1.0v1.0h-1.0zM78.5 117h1.0v1.0h-1.0zM78.5 119.5h1.0v1.0h-1.0zM78.5 120h1.0v1.0h-1.0zM78.5 120.5h1.0v1.0h-1.0zM78.5 121.5h1.0v1.0h-1.0zM78.5 123h1.0v1.0h-1.0zM78.5 124h1.0v1.0h-1.0zM78.5 125.5h1.0v1.0h-1.0zM78.5 128h1.0v1.0h-1.0zM78.5 128.5h1.0v1.0h-1.0zM78.5 130h1.0v1.0h-1.0zM78.5 132h1.0v1.0h-1.0zM78.5 142.5h1.0v1.0h-1.0zM79 118h1.0v1.0h-1.0zM79 121h1.0v1.0h-1.0zM79 121.5h1.0v1.0h-1.0zM79 122h1.0v1.0h-1.0zM79 125h1.0v1.0h-1.0zM79 128.5h1.0v1.0h-1.0zM79 131h1.0v1.0h-1.0zM79 134.5h1.0v1.0h-1.0zM79 139.5h1.0v1.0h-1.0zM79 144.5h1.0v1.0h-1.0zM79.5 123h1.0v1.0h-1.0zM79.5 125h1.0v1.0h-1.0zM79.5 126h1.0v1.0h-1.0zM79.5 126.5h1.0v1.0h-1.0zM79.5 129.5h1.0v1.0h-1.0zM79.5 131.5h1.0v1.0h-1.0zM80 101.5h1.0v1.0h-1.0zM80 119h1.0v1.0h-1.0zM80 123.5h1.0v1.0h-1.0zM80 128h1.0v1.0h-1.0zM80 130h1.0v1.0h-1.0zM80 132h1.0v1.0h-1.0zM80 137h1.0v1.0h-1.0zM80 137.5h1.0v1.0h-1.0zM80 141.5h1.0v1.0h-1.0zM80.5 118.5h1.0v1.0h-1.0zM80.5 119.5h1.0v1.0h-1.0zM80.5 123.5h1.0v1.0h-1.0zM80.5 125.5h1.0v1.0h-1.0zM80.5 126h1.0v1.0h-1.0zM80.5 126.5h1.0v1.0h-1.0zM80.5 127.5h1.0v1.0h-1.0zM80.5 133.5h1.0v1.0h-1.0zM80.5 134h1.0v1.0h-1.0zM81 117h1.0v1.0h-1.0zM81 118.5h1.0v1.0h-1.0zM81 119h1.0v1.0h-1.0zM81 121h1.0v1.0h-1.0zM81 123h1.0v1.0h-1.0zM81 127h1.0v1.0h-1.0zM81 131.5h1.0v1.0h-1.0zM81 132.5h1.0v1.0h-1.0zM81.5 118.5h1.0v1.0h-1.0zM81.5 119.5h1.0v1.0h-1.0zM81.5 121h1.0v1.0h-1.0zM81.5 122.5h1.0v1.0h-1.0zM81.5 124h1.0v1.0h-1.0zM81.5 129.5h1.0v1.0h-1.0zM81.5 130.5h1.0v1.0h-1.0zM81.5 132.5h1.0v1.0h-1.0zM81.5 135h1.0v1.0h-1.0zM81.5 135.5h1.0v1.0h-1.0zM81.5 139h1.0v1.0h-1.0zM82 118h1.0v1.0h-1.0zM82 118.5h1.0v1.0h-1.0zM82 122.5h1.0v1.0h-1.0zM82 124.5h1.0v1.0h-1.0zM82 125h1.0v1.0h-1.0zM82 125.5h1.0v1.0h-1.0zM82 126.5h1.0v1.0h-1.0zM82 127h1.0v1.0h-1.0zM82 134.5h1.0v1.0h-1.0zM82.5 120.5h1.0v1.0h-1.0zM82.5 121.5h1.0v1.0h-1.0zM82.5 124h1.0v1.0h-1.0zM82.5 125.5h1.0v1.0h-1.0zM82.5 127h1.0v1.0h-1.0zM82.5 127.5h1.0v1.0h-1.0zM82.5 128h1.0v1.0h-1.0zM82.5 128.5h1.0v1.0h-1.0zM82.5 132.5h1.0v1.0h-1.0zM83 116.5h1.0v1.0h-1.0zM83 120h1.0v1.0h-1.0zM83 121h1.0v1.0h-1.0zM83 122h1.0v1.0h-1.0zM83 122.5h1.0v1.0h-1.0zM83 124h1.0v1.0h-1.0zM83 126.5h1.0v1.0h-1.0zM83 132h1.0v1.0h-1.0zM83.5 117.5h1.0v1.0h-1.0zM83.5 120.5h1.0v1.0h-1.0zM83.5 121h1.0v1.0h-1.0zM83.5 124.5h1.0v1.0h-1.0zM83.5 128h1.0v1.0h-1.0zM83.5 129.5h1.0v1.0h-1.0zM84 123h1.0v1.0h-1.0zM84 123.5h1.0v1.0h-1.0zM84 127.5h1.0v1.0h-1.0zM84.5 98.5h1.0v1.0h-1.0zM84.5 119.5h1.0v1.0h-1.0zM84.5 121.5h1.0v1.0h-1.0zM84.5 123h1.0v1.0h-1.0zM84.5 124h1.0v1.0h-1.0zM84.5 126h1.0v1.0h-1.0zM84.5 129h1.0v1.0h-1.0zM84.5 132h1.0v1.0h-1.0zM85 108.5h1.0v1.0h-1.0zM85 120h1.0v1.0h-1.0zM85 122h1.0v1.0h-1.0zM85 122.5h1.0v1.0h-1.0zM85 127.5h1.0v1.0h-1.0zM85 131h1.0v1.0h-1.0zM85.5 116h1.0v1.0h-1.0zM85.5 117h1.0v1.0h-1.0zM85.5 120.5h1.0v1.0h-1.0zM85.5 121.5h1.0v1.0h-1.0zM85.5 122.5h1.0v1.0h-1.0zM85.5 124h1.0v1.0h-1.0zM85.5 125h1.0v1.0h-1.0zM85.5 127h1.0v1.0h-1.0zM85.5 130.5h1.0v1.0h-1.0zM86 118.5h1.0v1.0h-1.0zM86 122h1.0v1.0h-1.0zM86 124.5h1.0v1.0h-1.0zM86 125h1.0v1.0h-1.0zM86.5 112h1.0v1.0h-1.0zM86.5 117h1.0v1.0h-1.0zM86.5 123.5h1.0v1.0h-1.0zM86.5 124h1.0v1.0h-1.0zM86.5 126h1.0v1.0h-1.0zM86.5 128.5h1.0v1.0h-1.0zM86.5 129h1.0v1.0h-1.0zM87.5 104.5h1.0v1.0h-1.0zM87.5 115.5h1.0v1.0h-1.0zM87.5 119h1.0v1.0h-1.0zM87.5 122h1.0v1.0h-1.0zM87.5 123h1.0v1.0h-1.0zM87.5 124.5h1.0v1.0h-1.0zM87.5 126h1.0v1.0h-1.0zM87.5 128h1.0v1.0h-1.0zM88 115h1.0v1.0h-1.0zM88 123h1.0v1.0h-1.0zM88.5 109h1.0v1.0h-1.0zM88.5 120.5h1.0v1.0h-1.0zM88.5 121h1.0v1.0h-1.0zM88.5 121.5h1.0v1.0h-1.0zM88.5 123h1.0v1.0h-1.0zM88.5 124h1.0v1.0h-1.0zM88.5 127h1.0v1.0h-1.0zM89 106.5h1.0v1.0h-1.0zM89 109.5h1.0v1.0h-1.0zM89 111h1.0v1.0h-1.0zM89 124h1.0v1.0h-1.0zM89 125.5h1.0v1.0h-1.0zM89.5 115.5h1.0v1.0h-1.0zM89.5 120h1.0v1.0h-1.0zM89.5 120.5h1.0v1.0h-1.0zM89.5 121h1.0v1.0h-1.0zM89.5 123h1.0v1.0h-1.0zM89.5 125h1.0v1.0h-1.0zM89.5 127h1.0v1.0h-1.0zM90 102h1.0v1.0h-1.0zM90 125h1.0v1.0h-1.0zM90 143.5h1.0v1.0h-1.0zM90.5 119h1.0v1.0h-1.0zM90.5 122h1.0v1.0h-1.0zM90.5 123h1.0v1.0h-1.0zM90.5 133.5h1.0v1.0h-1.0zM91 126.5h1.0v1.0h-1.0zM91 130h1.0v1.0h-1.0zM91.5 110h1.0v1.0h-1.0zM91.5 123.5h1.0v1.0h-1.0zM91.5 124.5h1.0v1.0h-1.0zM92 120h1.0v1.0h-1.0zM92 135.5h1.0v1.0h-1.0zM92.5 101.5h1.0v1.0h-1.0zM92.5 103h1.0v1.0h-1.0zM92.5 105.5h1.0v1.0h-1.0zM92.5 120h1.0v1.0h-1.0zM92.5 122.5h1.0v1.0h-1.0zM92.5 124h1.0v1.0h-1.0zM92.5 125h1.0v1.0h-1.0zM93 112.5h1.0v1.0h-1.0zM93 120.5h1.0v1.0h-1.0zM93 126h1.0v1.0h-1.0zM93 140h1.0v1.0h-1.0zM93.5 106.5h1.0v1.0h-1.0zM93.5 110h1.0v1.0h-1.0zM93.5 111h1.0v1.0h-1.0zM93.5 118h1.0v1.0h-1.0zM93.5 123h1.0v1.0h-1.0zM93.5 129.5h1.0v1.0h-1.0zM94 117h1.0v1.0h-1.0zM94.5 111h1.0v1.0h-1.0zM94.5 112.5h1.0v1.0h-1.0zM94.5 116.5h1.0v1.0h-1.0zM94.5 119.5h1.0v1.0h-1.0zM94.5 121h1.0v1.0h-1.0zM94.5 128h1.0v1.0h-1.0zM95 105.5h1.0v1.0h-1.0zM95 116.5h1.0v1.0h-1.0zM95 121.5h1.0v1.0h-1.0zM95 123h1.0v1.0h-1.0zM95 125.5h1.0v1.0h-1.0zM95 126h1.0v1.0h-1.0zM95.5 111.5h1.0v1.0h-1.0zM95.5 116.5h1.0v1.0h-1.0zM95.5 117.5h1.0v1.0h-1.0zM95.5 119h1.0v1.0h-1.0zM95.5 123h1.0v1.0h-1.0zM95.5 124.5h1.0v1.0h-1.0zM95.5 126h1.0v1.0h-1.0zM95.5 127.5h1.0v1.0h-1.0zM96 102.5h1.0v1.0h-1.0zM96 110h1.0v1.0h-1.0zM96 114h1.0v1.0h-1.0zM96 120.5h1.0v1.0h-1.0zM96 122.5h1.0v1.0h-1.0zM96 125.5h1.0v1.0h-1.0zM96.5 111.5h1.0v1.0h-1.0zM96.5 116h1.0v1.0h-1.0zM96.5 125h1.0v1.0h-1.0zM96.5 130.5h1.0v1.0h-1.0zM97 90.5h1.0v1.0h-1.0zM97 108h1.0v1.0h-1.0zM97 114.5h1.0v1.0h-1.0zM97.5 109h1.0v1.0h-1.0zM97.5 112h1.0v1.0h-1.0zM97.5 117h1.0v1.0h-1.0zM97.5 122h1.0v1.0h-1.0zM97.5 125h1.0v1.0h-1.0zM97.5 126.5h1.0v1.0h-1.0zM98 113h1.0v1.0h-1.0zM98 117h1.0v1.0h-1.0zM98 120.5h1.0v1.0h-1.0zM98 121.5h1.0v1.0h-1.0zM98 127h1.0v1.0h-1.0zM98 127.5h1.0v1.0h-1.0zM98.5 99h1.0v1.0h-1.0zM98.5 107.5h1.0v1.0h-1.0zM98.5 116h1.0v1.0h-1.0zM98.5 119h1.0v1.0h-1.0zM99 119h1.0v1.0h-1.0zM99 125h1.0v1.0h-1.0zM99 126h1.0v1.0h-1.0zM99 127.5h1.0v1.0h-1.0zM99 147h1.0v1.0h-1.0zM99.5 104h1.0v1.0h-1.0zM99.5 110.5h1.0v1.0h-1.0zM99.5 122h1.0v1.0h-1.0zM99.5 125h1.0v1.0h-1.0zM100 114.5h1.0v1.0h-1.0zM100 129h1.0v1.0h-1.0zM100 130h1.0v1.0h-1.0zM100.5 113.5h1.0v1.0h-1.0zM100.5 117h1.0v1.0h-1.0zM100.5 126.5h1.0v1.0h-1.0zM100.5 128h1.0v1.0h-1.0zM101 99.5h1.0v1.0h-1.0zM101 108.5h1.0v1.0h-1.0zM101 109.5h1.0v1.0h-1.0zM101 110.5h1.0v1.0h-1.0zM101 111h1.0v1.0h-1.0zM101 111.5h1.0v1.0h-1.0zM101 112.5h1.0v1.0h-1.0zM101 114h1.0v1.0h-1.0zM101 115h1.0v1.0h-1.0zM101 117h1.0v1.0h-1.0zM101 120h1.0v1.0h-1.0zM101 122h1.0v1.0h-1.0zM101 127.5h1.0v1.0h-1.0zM101 130.5h1.0v1.0h-1.0zM101.5 109.5h1.0v1.0h-1.0zM101.5 110.5h1.0v1.0h-1.0zM101.5 120.5h1.0v1.0h-1.0zM102 104h1.0v1.0h-1.0zM102 104.5h1.0v1.0h-1.0zM102 112h1.0v1.0h-1.0zM102 114h1.0v1.0h-1.0zM102 121.5h1.0v1.0h-1.0zM102 126h1.0v1.0h-1.0zM102 127h1.0v1.0h-1.0zM102 143h1.0v1.0h-1.0zM102 145h1.0v1.0h-1.0zM102.5 100.5h1.0v1.0h-1.0zM102.5 104.5h1.0v1.0h-1.0zM102.5 113.5h1.0v1.0h-1.0zM102.5 114.5h1.0v1.0h-1.0zM102.5 115.5h1.0v1.0h-1.0zM102.5 120.5h1.0v1.0h-1.0zM102.5 123.5h1.0v1.0h-1.0zM102.5 124.5h1.0v1.0h-1.0zM103 99.5h1.0v1.0h-1.0zM103 109h1.0v1.0h-1.0zM103 109.5h1.0v1.0h-1.0zM103 112.5h1.0v1.0h-1.0zM103 114.5h1.0v1.0h-1.0zM103 115h1.0v1.0h-1.0zM103 129h1.0v1.0h-1.0zM103 143.5h1.0v1.0h-1.0zM103.5 103h1.0v1.0h-1.0zM103.5 103.5h1.0v1.0h-1.0zM103.5 105.5h1.0v1.0h-1.0zM103.5 107h1.0v1.0h-1.0zM103.5 108h1.0v1.0h-1.0zM103.5 111h1.0v1.0h-1.0zM103.5 123h1.0v1.0h-1.0zM103.5 124h1.0v1.0h-1.0zM103.5 132h1.0v1.0h-1.0zM104 108.5h1.0v1.0h-1.0zM104 120h1.0v1.0h-1.0zM104 129.5h1.0v1.0h-1.0zM104.5 100h1.0v1.0h-1.0zM104.5 106.5h1.0v1.0h-1.0zM104.5 111.5h1.0v1.0h-1.0zM104.5 118.5h1.0v1.0h-1.0zM104.5 126.5h1.0v1.0h-1.0zM105 99.5h1.0v1.0h-1.0zM105 107h1.0v1.0h-1.0zM105 110h1.0v1.0h-1.0zM105 110.5h1.0v1.0h-1.0zM105 113.5h1.0v1.0h-1.0zM105 119h1.0v1.0h-1.0zM105 129h1.0v1.0h-1.0zM105.5 102.5h1.0v1.0h-1.0zM105.5 103.5h1.0v1.0h-1.0zM105.5 106h1.0v1.0h-1.0zM105.5 114.5h1.0v1.0h-1.0zM105.5 128.5h1.0v1.0h-1.0zM105.5 130h1.0v1.0h-1.0zM106 110.5h1.0v1.0h-1.0zM106 111.5h1.0v1.0h-1.0zM106 117h1.0v1.0h-1.0zM106 120h1.0v1.0h-1.0zM106.5 91.5h1.0v1.0h-1.0zM106.5 107.5h1.0v1.0h-1.0zM106.5 108h1.0v1.0h-1.0zM106.5 112h1.0v1.0h-1.0zM106.5 113.5h1.0v1.0h-1.0zM106.5 122.5h1.0v1.0h-1.0zM106.5 127.5h1.0v1.0h-1.0zM107 103.5h1.0v1.0h-1.0zM107 110h1.0v1.0h-1.0zM107 111h1.0v1.0h-1.0zM107.5 106.5h1.0v1.0h-1.0zM108 109h1.0v1.0h-1.0zM108 119.5h1.0v1.0h-1.0zM108 121h1.0v1.0h-1.0zM108 142h1.0v1.0h-1.0zM108.5 106.5h1.0v1.0h-1.0zM108.5 111h1.0v1.0h-1.0zM108.5 113h1.0v1.0h-1.0zM108.5 115.5h1.0v1.0h-1.0zM109 103.5h1.0v1.0h-1.0zM109 105.5h1.0v1.0h-1.0zM109 107h1.0v1.0h-1.0zM109 107.5h1.0v1.0h-1.0zM109 109.5h1.0v1.0h-1.0zM109 110h1.0v1.0h-1.0zM109.5 108.5h1.0v1.0h-1.0zM109.5 111h1.0v1.0h-1.0zM109.5 113h1.0v1.0h-1.0zM110 109.5h1.0v1.0h-1.0zM110 110h1.0v1.0h-1.0zM110 110.5h1.0v1.0h-1.0zM110 116h1.0v1.0h-1.0zM110 121h1.0v1.0h-1.0zM110 128h1.0v1.0h-1.0zM110.5 105h1.0v1.0h-1.0zM110.5 108.5h1.0v1.0h-1.0zM110.5 121h1.0v1.0h-1.0zM110.5 122h1.0v1.0h-1.0zM110.5 122.5h1.0v1.0h-1.0zM110.5 128.5h1.0v1.0h-1.0zM111 107h1.0v1.0h-1.0zM111 117h1.0v1.0h-1.0zM111 118.5h1.0v1.0h-1.0zM111 120.5h1.0v1.0h-1.0zM111.5 109.5h1.0v1.0h-1.0zM111.5 112.5h1.0v1.0h-1.0zM111.5 113.5h1.0v1.0h-1.0zM111.5 114h1.0v1.0h-1.0zM111.5 119.5h1.0v1.0h-1.0zM112 104.5h1.0v1.0h-1.0zM112 108.5h1.0v1.0h-1.0zM112 110.5h1.0v1.0h-1.0zM112 111h1.0v1.0h-1.0zM112 114.5h1.0v1.0h-1.0zM112 117.5h1.0v1.0h-1.0zM112 125h1.0v1.0h-1.0zM112 141.5h1.0v1.0h-1.0zM112.5 112h1.0v1.0h-1.0zM113 110h1.0v1.0h-1.0zM113 120.5h1.0v1.0h-1.0zM113.5 110h1.0v1.0h-1.0zM113.5 111h1.0v1.0h-1.0zM113.5 112.5h1.0v1.0h-1.0zM113.5 115h1.0v1.0h-1.0zM113.5 116.5h1.0v1.0h-1.0zM114 106h1.0v1.0h-1.0zM114 107.5h1.0v1.0h-1.0zM114 115h1.0v1.0h-1.0zM114 121h1.0v1.0h-1.0zM114.5 110h1.0v1.0h-1.0zM114.5 112h1.0v1.0h-1.0zM114.5 115.5h1.0v1.0h-1.0zM115 104h1.0v1.0h-1.0zM115 107h1.0v1.0h-1.0zM115 112.5h1.0v1.0h-1.0zM115 118h1.0v1.0h-1.0zM115.5 105.5h1.0v1.0h-1.0zM115.5 129.5h1.0v1.0h-1.0zM116 111h1.0v1.0h-1.0zM117.5 104.5h1.0v1.0h-1.0zM117.5 123h1.0v1.0h-1.0zM118 102.5h1.0v1.0h-1.0zM118 116h1.0v1.0h-1.0zM118 121h1.0v1.0h-1.0zM118 125.5h1.0v1.0h-1.0zM118.5 131.5h1.0v1.0h-1.0zM120 100h1.0v1.0h-1.0zM120 104h1.0v1.0h-1.0zM120 108.5h1.0v1.0h-1.0zM121 115h1.0v1.0h-1.0zM121.5 124h1.0v1.0h-1.0zM123 106h1.0v1.0h-1.0zM124 116h1.0v1.0h-1.0z" fill="#000" fill-opacity="0.64"/>
</g></g>
<rect x="60.5" y="88.5" width="58.7" height="58.5" fill="none" stroke="#333" stroke-width="1"/>
<line x1="82.3" y1="88.5" x2="82.3" y2="147.0" stroke="#333" stroke-width="0.95" />
<line x1="60.5" y1="120.3" x2="119.2" y2="120.3" stroke="#333" stroke-width="0.95" />
<g transform="translate(64.6,102.3) scale(0.85,1)"><text x="0" y="0" font-size="8.2" text-anchor="start" fill="#1a1a1a" stroke="#1a1a1a" stroke-width="0.3">Q1</text></g>
<g transform="translate(116.3,102.3) scale(0.85,1)"><text x="0" y="0" font-size="8.2" text-anchor="end" fill="#1a1a1a" stroke="#1a1a1a" stroke-width="0.3">Q2</text></g>
<g transform="translate(115.3,137.8) scale(0.85,1)"><text x="0" y="0" font-size="8.2" text-anchor="end" fill="#1a1a1a" stroke="#1a1a1a" stroke-width="0.3">Q4</text></g>
<path d="M69.5 147.0 v7M83.9 147.0 v7M98.3 147.0 v7M112.6 147.0 v7" stroke="#111" stroke-width="1" fill="none"/>
<path d="M62.0 147.0 v4.5M63.8 147.0 v4.5M65.2 147.0 v4.5M66.3 147.0 v4.5M67.3 147.0 v4.5M68.1 147.0 v4.5M68.8 147.0 v4.5M73.8 147.0 v4.5M76.4 147.0 v4.5M78.2 147.0 v4.5M79.6 147.0 v4.5M80.7 147.0 v4.5M81.7 147.0 v4.5M82.5 147.0 v4.5M83.2 147.0 v4.5M88.2 147.0 v4.5M90.7 147.0 v4.5M92.5 147.0 v4.5M93.9 147.0 v4.5M95.1 147.0 v4.5M96.0 147.0 v4.5M96.9 147.0 v4.5M97.6 147.0 v4.5M102.6 147.0 v4.5M105.1 147.0 v4.5M106.9 147.0 v4.5M108.3 147.0 v4.5M109.5 147.0 v4.5M110.4 147.0 v4.5M111.3 147.0 v4.5M112.0 147.0 v4.5M117.0 147.0 v4.5" stroke="#333" stroke-width="0.8" fill="none"/>
<g transform="translate(67.2,163.1) scale(0.68,1)"><text x="0" y="0" font-size="7.6" font-weight="bold" text-anchor="middle" fill="#1a1a1a">10</text></g>
<text x="70.0" y="158.5" font-size="5.3" font-weight="bold" fill="#1a1a1a">2</text>
<g transform="translate(81.6,163.1) scale(0.68,1)"><text x="0" y="0" font-size="7.6" font-weight="bold" text-anchor="middle" fill="#1a1a1a">10</text></g>
<text x="84.4" y="158.5" font-size="5.3" font-weight="bold" fill="#1a1a1a">3</text>
<g transform="translate(96.0,163.1) scale(0.68,1)"><text x="0" y="0" font-size="7.6" font-weight="bold" text-anchor="middle" fill="#1a1a1a">10</text></g>
<text x="98.8" y="158.5" font-size="5.3" font-weight="bold" fill="#1a1a1a">4</text>
<g transform="translate(110.3,163.1) scale(0.68,1)"><text x="0" y="0" font-size="7.6" font-weight="bold" text-anchor="middle" fill="#1a1a1a">10</text></g>
<text x="113.1" y="158.5" font-size="5.3" font-weight="bold" fill="#1a1a1a">5</text>
<path d="M60.5 139.0 h-5M60.5 124.7 h-5M60.5 110.3 h-5M60.5 96.0 h-5" stroke="#000" stroke-width="1.6" fill="none"/>
<path d="M60.5 144.7 h-3.3M60.5 143.3 h-3.3M60.5 142.2 h-3.3M60.5 141.2 h-3.3M60.5 140.4 h-3.3M60.5 139.7 h-3.3M60.5 134.7 h-3.3M60.5 132.2 h-3.3M60.5 130.4 h-3.3M60.5 129.0 h-3.3M60.5 127.8 h-3.3M60.5 126.9 h-3.3M60.5 126.1 h-3.3M60.5 125.3 h-3.3M60.5 120.4 h-3.3M60.5 117.8 h-3.3M60.5 116.0 h-3.3M60.5 114.6 h-3.3M60.5 113.5 h-3.3M60.5 112.6 h-3.3M60.5 111.7 h-3.3M60.5 111.0 h-3.3M60.5 106.0 h-3.3M60.5 103.5 h-3.3M60.5 101.7 h-3.3M60.5 100.3 h-3.3M60.5 99.2 h-3.3M60.5 98.2 h-3.3M60.5 97.4 h-3.3M60.5 96.7 h-3.3M60.5 91.7 h-3.3" stroke="#111" stroke-width="0.9" fill="none"/>
<g transform="translate(55.1,138.8) rotate(-90) scale(0.78,1)"><text x="0" y="0" font-size="7.4" font-weight="bold" text-anchor="middle" fill="#1a1a1a">10</text></g>
<text transform="translate(50.5,135.4) rotate(-90)" font-size="5.3" font-weight="bold" fill="#1a1a1a">2</text>
<g transform="translate(55.1,124.5) rotate(-90) scale(0.78,1)"><text x="0" y="0" font-size="7.4" font-weight="bold" text-anchor="middle" fill="#1a1a1a">10</text></g>
<text transform="translate(50.5,121.1) rotate(-90)" font-size="5.3" font-weight="bold" fill="#1a1a1a">3</text>
<g transform="translate(55.1,110.1) rotate(-90) scale(0.78,1)"><text x="0" y="0" font-size="7.4" font-weight="bold" text-anchor="middle" fill="#1a1a1a">10</text></g>
<text transform="translate(50.5,106.7) rotate(-90)" font-size="5.3" font-weight="bold" fill="#1a1a1a">4</text>
<g transform="translate(55.1,95.8) rotate(-90) scale(0.78,1)"><text x="0" y="0" font-size="7.4" font-weight="bold" text-anchor="middle" fill="#1a1a1a">10</text></g>
<text transform="translate(50.5,92.4) rotate(-90)" font-size="5.3" font-weight="bold" fill="#1a1a1a">5</text>
<clipPath id="c4"><rect x="163.4" y="89.2" width="58.900000000000006" height="58.499999999999986"/></clipPath>
<g clip-path="url(#c4)"><g filter="url(#bl)">
<path d="M150 116.5h1.0v1.0h-1.0zM151.5 132h1.0v1.0h-1.0zM153.5 120.5h1.0v1.0h-1.0zM154.5 114.5h1.0v1.0h-1.0zM155 119.5h1.0v1.0h-1.0zM155 127.5h1.0v1.0h-1.0zM155.5 119.5h1.0v1.0h-1.0zM155.5 123h1.0v1.0h-1.0zM156.5 127h1.0v1.0h-1.0zM157.5 118h1.0v1.0h-1.0zM157.5 124h1.0v1.0h-1.0zM157.5 131.5h1.0v1.0h-1.0zM158 121.5h1.0v1.0h-1.0zM158 126.5h1.0v1.0h-1.0zM158 131h1.0v1.0h-1.0zM158.5 122h1.0v1.0h-1.0zM158.5 127.5h1.0v1.0h-1.0zM159 122.5h1.0v1.0h-1.0zM159.5 115h1.0v1.0h-1.0zM159.5 122h1.0v1.0h-1.0zM160 126h1.0v1.0h-1.0zM160 132h1.0v1.0h-1.0zM160.5 122.5h1.0v1.0h-1.0zM160.5 123h1.0v1.0h-1.0zM161 119.5h1.0v1.0h-1.0zM161 121h1.0v1.0h-1.0zM161 125.5h1.0v1.0h-1.0zM161 133h1.0v1.0h-1.0zM161.5 121h1.0v1.0h-1.0zM161.5 123h1.0v1.0h-1.0zM161.5 127.5h1.0v1.0h-1.0zM162 111h1.0v1.0h-1.0zM162 118.5h1.0v1.0h-1.0zM162 124.5h1.0v1.0h-1.0zM162 131h1.0v1.0h-1.0zM162.5 120h1.0v1.0h-1.0zM162.5 122h1.0v1.0h-1.0zM162.5 123.5h1.0v1.0h-1.0zM162.5 124h1.0v1.0h-1.0zM162.5 127h1.0v1.0h-1.0zM162.5 133h1.0v1.0h-1.0zM163 113h1.0v1.0h-1.0zM163 122.5h1.0v1.0h-1.0zM163 129h1.0v1.0h-1.0zM163.5 116h1.0v1.0h-1.0zM163.5 118.5h1.0v1.0h-1.0zM163.5 119.5h1.0v1.0h-1.0zM163.5 120.5h1.0v1.0h-1.0zM163.5 131h1.0v1.0h-1.0zM164 121h1.0v1.0h-1.0zM164 122h1.0v1.0h-1.0zM164 123.5h1.0v1.0h-1.0zM164 124.5h1.0v1.0h-1.0zM164 126.5h1.0v1.0h-1.0zM164 131h1.0v1.0h-1.0zM164 137h1.0v1.0h-1.0zM164 142.5h1.0v1.0h-1.0zM164.5 118h1.0v1.0h-1.0zM164.5 118.5h1.0v1.0h-1.0zM164.5 122h1.0v1.0h-1.0zM164.5 122.5h1.0v1.0h-1.0zM164.5 125h1.0v1.0h-1.0zM164.5 127h1.0v1.0h-1.0zM164.5 133h1.0v1.0h-1.0zM164.5 133.5h1.0v1.0h-1.0zM164.5 146.5h1.0v1.0h-1.0zM165 116h1.0v1.0h-1.0zM165 116.5h1.0v1.0h-1.0zM165 117h1.0v1.0h-1.0zM165 118h1.0v1.0h-1.0zM165 118.5h1.0v1.0h-1.0zM165 121h1.0v1.0h-1.0zM165 121.5h1.0v1.0h-1.0zM165 125.5h1.0v1.0h-1.0zM165 127h1.0v1.0h-1.0zM165 128.5h1.0v1.0h-1.0zM165 135h1.0v1.0h-1.0zM165 137.5h1.0v1.0h-1.0zM165 144.5h1.0v1.0h-1.0zM165.5 113h1.0v1.0h-1.0zM165.5 119h1.0v1.0h-1.0zM165.5 122.5h1.0v1.0h-1.0zM165.5 123.5h1.0v1.0h-1.0zM166 117h1.0v1.0h-1.0zM166 117.5h1.0v1.0h-1.0zM166 118h1.0v1.0h-1.0zM166 118.5h1.0v1.0h-1.0zM166 122.5h1.0v1.0h-1.0zM166 124.5h1.0v1.0h-1.0zM166 126h1.0v1.0h-1.0zM166 126.5h1.0v1.0h-1.0zM166 144h1.0v1.0h-1.0zM166.5 119h1.0v1.0h-1.0zM166.5 120.5h1.0v1.0h-1.0zM166.5 122h1.0v1.0h-1.0zM166.5 122.5h1.0v1.0h-1.0zM166.5 124.5h1.0v1.0h-1.0zM166.5 130h1.0v1.0h-1.0zM166.5 135.5h1.0v1.0h-1.0zM166.5 136h1.0v1.0h-1.0zM166.5 142h1.0v1.0h-1.0zM167 118h1.0v1.0h-1.0zM167 120h1.0v1.0h-1.0zM167 120.5h1.0v1.0h-1.0zM167 121.5h1.0v1.0h-1.0zM167 123.5h1.0v1.0h-1.0zM167 124.5h1.0v1.0h-1.0zM167 126h1.0v1.0h-1.0zM167 126.5h1.0v1.0h-1.0zM167 132h1.0v1.0h-1.0zM167 136h1.0v1.0h-1.0zM167.5 116.5h1.0v1.0h-1.0zM167.5 119h1.0v1.0h-1.0zM167.5 120.5h1.0v1.0h-1.0zM167.5 124h1.0v1.0h-1.0zM167.5 129.5h1.0v1.0h-1.0zM167.5 134.5h1.0v1.0h-1.0zM167.5 135.5h1.0v1.0h-1.0zM167.5 138.5h1.0v1.0h-1.0zM167.5 146.5h1.0v1.0h-1.0zM168 114h1.0v1.0h-1.0zM168 117h1.0v1.0h-1.0zM168 118.5h1.0v1.0h-1.0zM168 119h1.0v1.0h-1.0zM168 120h1.0v1.0h-1.0zM168 121h1.0v1.0h-1.0zM168 123h1.0v1.0h-1.0zM168 124.5h1.0v1.0h-1.0zM168 138h1.0v1.0h-1.0zM168.5 120.5h1.0v1.0h-1.0zM168.5 122h1.0v1.0h-1.0zM168.5 123h1.0v1.0h-1.0zM168.5 123.5h1.0v1.0h-1.0zM168.5 128.5h1.0v1.0h-1.0zM168.5 135.5h1.0v1.0h-1.0zM168.5 138h1.0v1.0h-1.0zM169 110h1.0v1.0h-1.0zM169 119.5h1.0v1.0h-1.0zM169 122h1.0v1.0h-1.0zM169 123h1.0v1.0h-1.0zM169 123.5h1.0v1.0h-1.0zM169 124h1.0v1.0h-1.0zM169 125.5h1.0v1.0h-1.0zM169 126h1.0v1.0h-1.0zM169 139.5h1.0v1.0h-1.0zM169.5 117h1.0v1.0h-1.0zM169.5 118.5h1.0v1.0h-1.0zM169.5 119h1.0v1.0h-1.0zM169.5 121.5h1.0v1.0h-1.0zM169.5 128h1.0v1.0h-1.0zM169.5 132h1.0v1.0h-1.0zM169.5 134.5h1.0v1.0h-1.0zM169.5 140h1.0v1.0h-1.0zM169.5 140.5h1.0v1.0h-1.0zM169.5 145.5h1.0v1.0h-1.0zM170 114.5h1.0v1.0h-1.0zM170 115.5h1.0v1.0h-1.0zM170 118.5h1.0v1.0h-1.0zM170 119.5h1.0v1.0h-1.0zM170 122h1.0v1.0h-1.0zM170 124h1.0v1.0h-1.0zM170 124.5h1.0v1.0h-1.0zM170 126h1.0v1.0h-1.0zM170 128h1.0v1.0h-1.0zM170 129.5h1.0v1.0h-1.0zM170 137h1.0v1.0h-1.0zM170 138h1.0v1.0h-1.0zM170 140h1.0v1.0h-1.0zM170.5 113h1.0v1.0h-1.0zM170.5 114.5h1.0v1.0h-1.0zM170.5 116h1.0v1.0h-1.0zM170.5 116.5h1.0v1.0h-1.0zM170.5 118h1.0v1.0h-1.0zM170.5 118.5h1.0v1.0h-1.0zM170.5 119.5h1.0v1.0h-1.0zM170.5 120h1.0v1.0h-1.0zM170.5 123h1.0v1.0h-1.0zM170.5 127.5h1.0v1.0h-1.0zM170.5 128h1.0v1.0h-1.0zM170.5 140.5h1.0v1.0h-1.0zM171 112.5h1.0v1.0h-1.0zM171 114.5h1.0v1.0h-1.0zM171 115h1.0v1.0h-1.0zM171 117h1.0v1.0h-1.0zM171 117.5h1.0v1.0h-1.0zM171 118.5h1.0v1.0h-1.0zM171 119.5h1.0v1.0h-1.0zM171 121h1.0v1.0h-1.0zM171 121.5h1.0v1.0h-1.0zM171 124.5h1.0v1.0h-1.0zM171 125h1.0v1.0h-1.0zM171 132.5h1.0v1.0h-1.0zM171 135h1.0v1.0h-1.0zM171.5 112.5h1.0v1.0h-1.0zM171.5 119h1.0v1.0h-1.0zM171.5 120.5h1.0v1.0h-1.0zM171.5 121h1.0v1.0h-1.0zM171.5 122.5h1.0v1.0h-1.0zM171.5 125h1.0v1.0h-1.0zM171.5 125.5h1.0v1.0h-1.0zM171.5 127h1.0v1.0h-1.0zM171.5 129.5h1.0v1.0h-1.0zM171.5 131h1.0v1.0h-1.0zM171.5 131.5h1.0v1.0h-1.0zM172 115h1.0v1.0h-1.0zM172 122.5h1.0v1.0h-1.0zM172 124h1.0v1.0h-1.0zM172 124.5h1.0v1.0h-1.0zM172 127h1.0v1.0h-1.0zM172 129.5h1.0v1.0h-1.0zM172 130h1.0v1.0h-1.0zM172 131h1.0v1.0h-1.0zM172 136.5h1.0v1.0h-1.0zM172 142.5h1.0v1.0h-1.0zM172.5 114h1.0v1.0h-1.0zM172.5 121h1.0v1.0h-1.0zM172.5 121.5h1.0v1.0h-1.0zM172.5 124h1.0v1.0h-1.0zM172.5 125h1.0v1.0h-1.0zM172.5 126.5h1.0v1.0h-1.0zM172.5 145h1.0v1.0h-1.0zM173 117h1.0v1.0h-1.0zM173 118.5h1.0v1.0h-1.0zM173 119h1.0v1.0h-1.0zM173 120.5h1.0v1.0h-1.0zM173 123h1.0v1.0h-1.0zM173 123.5h1.0v1.0h-1.0zM173 126h1.0v1.0h-1.0zM173 127.5h1.0v1.0h-1.0zM173 128h1.0v1.0h-1.0zM173 130.5h1.0v1.0h-1.0zM173 133h1.0v1.0h-1.0zM173.5 111h1.0v1.0h-1.0zM173.5 116h1.0v1.0h-1.0zM173.5 117.5h1.0v1.0h-1.0zM173.5 118h1.0v1.0h-1.0zM173.5 118.5h1.0v1.0h-1.0zM173.5 122.5h1.0v1.0h-1.0zM173.5 123.5h1.0v1.0h-1.0zM173.5 131.5h1.0v1.0h-1.0zM173.5 136h1.0v1.0h-1.0zM173.5 138h1.0v1.0h-1.0zM174 117h1.0v1.0h-1.0zM174 118h1.0v1.0h-1.0zM174 118.5h1.0v1.0h-1.0zM174 119h1.0v1.0h-1.0zM174 120h1.0v1.0h-1.0zM174 121.5h1.0v1.0h-1.0zM174 123.5h1.0v1.0h-1.0zM174 125.5h1.0v1.0h-1.0zM174 129.5h1.0v1.0h-1.0zM174.5 112h1.0v1.0h-1.0zM174.5 114.5h1.0v1.0h-1.0zM174.5 116.5h1.0v1.0h-1.0zM174.5 118h1.0v1.0h-1.0zM174.5 119h1.0v1.0h-1.0zM174.5 120.5h1.0v1.0h-1.0zM174.5 122h1.0v1.0h-1.0zM174.5 125h1.0v1.0h-1.0zM174.5 126h1.0v1.0h-1.0zM174.5 127h1.0v1.0h-1.0zM174.5 130.5h1.0v1.0h-1.0zM174.5 143h1.0v1.0h-1.0zM174.5 144h1.0v1.0h-1.0zM175 113.5h1.0v1.0h-1.0zM175 115h1.0v1.0h-1.0zM175 117h1.0v1.0h-1.0zM175 118h1.0v1.0h-1.0zM175 119.5h1.0v1.0h-1.0zM175 120h1.0v1.0h-1.0zM175 121h1.0v1.0h-1.0zM175 122h1.0v1.0h-1.0zM175 122.5h1.0v1.0h-1.0zM175 123h1.0v1.0h-1.0zM175 124.5h1.0v1.0h-1.0zM175 126h1.0v1.0h-1.0zM175 129.5h1.0v1.0h-1.0zM175 130h1.0v1.0h-1.0zM175 135.5h1.0v1.0h-1.0zM175 145h1.0v1.0h-1.0zM175 146.5h1.0v1.0h-1.0zM175.5 114.5h1.0v1.0h-1.0zM175.5 117h1.0v1.0h-1.0zM175.5 117.5h1.0v1.0h-1.0zM175.5 118.5h1.0v1.0h-1.0zM175.5 119h1.0v1.0h-1.0zM175.5 120h1.0v1.0h-1.0zM175.5 120.5h1.0v1.0h-1.0zM175.5 121h1.0v1.0h-1.0zM175.5 123h1.0v1.0h-1.0zM175.5 124.5h1.0v1.0h-1.0zM175.5 125.5h1.0v1.0h-1.0zM175.5 126.5h1.0v1.0h-1.0zM175.5 127.5h1.0v1.0h-1.0zM175.5 131h1.0v1.0h-1.0zM175.5 132.5h1.0v1.0h-1.0zM175.5 135h1.0v1.0h-1.0zM176 115h1.0v1.0h-1.0zM176 118h1.0v1.0h-1.0zM176 118.5h1.0v1.0h-1.0zM176 119h1.0v1.0h-1.0zM176 120h1.0v1.0h-1.0zM176 121.5h1.0v1.0h-1.0zM176 122h1.0v1.0h-1.0zM176 122.5h1.0v1.0h-1.0zM176 123h1.0v1.0h-1.0zM176 123.5h1.0v1.0h-1.0zM176 124.5h1.0v1.0h-1.0zM176 125h1.0v1.0h-1.0zM176 130.5h1.0v1.0h-1.0zM176.5 114h1.0v1.0h-1.0zM176.5 116.5h1.0v1.0h-1.0zM176.5 118.5h1.0v1.0h-1.0zM176.5 119.5h1.0v1.0h-1.0zM176.5 121.5h1.0v1.0h-1.0zM176.5 123.5h1.0v1.0h-1.0zM176.5 124.5h1.0v1.0h-1.0zM176.5 125.5h1.0v1.0h-1.0zM176.5 127h1.0v1.0h-1.0zM176.5 129.5h1.0v1.0h-1.0zM176.5 133h1.0v1.0h-1.0zM176.5 134h1.0v1.0h-1.0zM176.5 139.5h1.0v1.0h-1.0zM176.5 141h1.0v1.0h-1.0zM177 115h1.0v1.0h-1.0zM177 116h1.0v1.0h-1.0zM177 118h1.0v1.0h-1.0zM177 119h1.0v1.0h-1.0zM177 120h1.0v1.0h-1.0zM177 122.5h1.0v1.0h-1.0zM177 123h1.0v1.0h-1.0zM177 123.5h1.0v1.0h-1.0zM177 127h1.0v1.0h-1.0zM177 128.5h1.0v1.0h-1.0zM177 153h1.0v1.0h-1.0zM177.5 115.5h1.0v1.0h-1.0zM177.5 117.5h1.0v1.0h-1.0zM177.5 118.5h1.0v1.0h-1.0zM177.5 119h1.0v1.0h-1.0zM177.5 120h1.0v1.0h-1.0zM177.5 120.5h1.0v1.0h-1.0zM177.5 121h1.0v1.0h-1.0zM177.5 122h1.0v1.0h-1.0zM177.5 123h1.0v1.0h-1.0zM177.5 125.5h1.0v1.0h-1.0zM177.5 126.5h1.0v1.0h-1.0zM177.5 128.5h1.0v1.0h-1.0zM177.5 129h1.0v1.0h-1.0zM177.5 130h1.0v1.0h-1.0zM177.5 140h1.0v1.0h-1.0zM177.5 141h1.0v1.0h-1.0zM178 118.5h1.0v1.0h-1.0zM178 120.5h1.0v1.0h-1.0zM178 122.5h1.0v1.0h-1.0zM178 123h1.0v1.0h-1.0zM178 125.5h1.0v1.0h-1.0zM178 126.5h1.0v1.0h-1.0zM178 127.5h1.0v1.0h-1.0zM178 128.5h1.0v1.0h-1.0zM178 129h1.0v1.0h-1.0zM178 130h1.0v1.0h-1.0zM178 135h1.0v1.0h-1.0zM178 138.5h1.0v1.0h-1.0zM178 145.5h1.0v1.0h-1.0zM178.5 116.5h1.0v1.0h-1.0zM178.5 119h1.0v1.0h-1.0zM178.5 120.5h1.0v1.0h-1.0zM178.5 121h1.0v1.0h-1.0zM178.5 123h1.0v1.0h-1.0zM178.5 123.5h1.0v1.0h-1.0zM178.5 124h1.0v1.0h-1.0zM178.5 124.5h1.0v1.0h-1.0zM178.5 126h1.0v1.0h-1.0zM178.5 126.5h1.0v1.0h-1.0zM178.5 129h1.0v1.0h-1.0zM178.5 129.5h1.0v1.0h-1.0zM178.5 132.5h1.0v1.0h-1.0zM179 114.5h1.0v1.0h-1.0zM179 119.5h1.0v1.0h-1.0zM179 120h1.0v1.0h-1.0zM179 120.5h1.0v1.0h-1.0zM179 121h1.0v1.0h-1.0zM179 122h1.0v1.0h-1.0zM179 122.5h1.0v1.0h-1.0zM179 125.5h1.0v1.0h-1.0zM179 126h1.0v1.0h-1.0zM179 129h1.0v1.0h-1.0zM179 136h1.0v1.0h-1.0zM179 141h1.0v1.0h-1.0zM179.5 114h1.0v1.0h-1.0zM179.5 115h1.0v1.0h-1.0zM179.5 117.5h1.0v1.0h-1.0zM179.5 118h1.0v1.0h-1.0zM179.5 118.5h1.0v1.0h-1.0zM179.5 122h1.0v1.0h-1.0zM179.5 122.5h1.0v1.0h-1.0zM179.5 124.5h1.0v1.0h-1.0zM179.5 125h1.0v1.0h-1.0zM179.5 126h1.0v1.0h-1.0zM179.5 127.5h1.0v1.0h-1.0zM180 114.5h1.0v1.0h-1.0zM180 116h1.0v1.0h-1.0zM180 118h1.0v1.0h-1.0zM180 118.5h1.0v1.0h-1.0zM180 121.5h1.0v1.0h-1.0zM180 122h1.0v1.0h-1.0zM180 123h1.0v1.0h-1.0zM180 124.5h1.0v1.0h-1.0zM180 129.5h1.0v1.0h-1.0zM180.5 118h1.0v1.0h-1.0zM180.5 119h1.0v1.0h-1.0zM180.5 120h1.0v1.0h-1.0zM180.5 120.5h1.0v1.0h-1.0zM180.5 121.5h1.0v1.0h-1.0zM180.5 122.5h1.0v1.0h-1.0zM180.5 123.5h1.0v1.0h-1.0zM180.5 124.5h1.0v1.0h-1.0zM180.5 129h1.0v1.0h-1.0zM180.5 133.5h1.0v1.0h-1.0zM180.5 134h1.0v1.0h-1.0zM180.5 139.5h1.0v1.0h-1.0zM180.5 142.5h1.0v1.0h-1.0zM181 119h1.0v1.0h-1.0zM181 120h1.0v1.0h-1.0zM181 122.5h1.0v1.0h-1.0zM181 123h1.0v1.0h-1.0zM181 123.5h1.0v1.0h-1.0zM181 124h1.0v1.0h-1.0zM181 124.5h1.0v1.0h-1.0zM181 127h1.0v1.0h-1.0zM181 128.5h1.0v1.0h-1.0zM181 133h1.0v1.0h-1.0zM181 142.5h1.0v1.0h-1.0zM181.5 113.5h1.0v1.0h-1.0zM181.5 117.5h1.0v1.0h-1.0zM181.5 118.5h1.0v1.0h-1.0zM181.5 119h1.0v1.0h-1.0zM181.5 120h1.0v1.0h-1.0zM181.5 121h1.0v1.0h-1.0zM181.5 123h1.0v1.0h-1.0zM181.5 123.5h1.0v1.0h-1.0zM181.5 130.5h1.0v1.0h-1.0zM181.5 132.5h1.0v1.0h-1.0zM181.5 136h1.0v1.0h-1.0zM181.5 143h1.0v1.0h-1.0zM182 114.5h1.0v1.0h-1.0zM182 115h1.0v1.0h-1.0zM182 118h1.0v1.0h-1.0zM182 119h1.0v1.0h-1.0zM182 119.5h1.0v1.0h-1.0zM182 122.5h1.0v1.0h-1.0zM182.5 109.5h1.0v1.0h-1.0zM182.5 117.5h1.0v1.0h-1.0zM182.5 120h1.0v1.0h-1.0zM182.5 122.5h1.0v1.0h-1.0zM182.5 123.5h1.0v1.0h-1.0zM182.5 129h1.0v1.0h-1.0zM182.5 135.5h1.0v1.0h-1.0zM182.5 136.5h1.0v1.0h-1.0zM182.5 143.5h1.0v1.0h-1.0zM183 116.5h1.0v1.0h-1.0zM183 121h1.0v1.0h-1.0zM183 121.5h1.0v1.0h-1.0zM183 122h1.0v1.0h-1.0zM183 124h1.0v1.0h-1.0zM183 124.5h1.0v1.0h-1.0zM183 127h1.0v1.0h-1.0zM183 132.5h1.0v1.0h-1.0zM183.5 112h1.0v1.0h-1.0zM183.5 112.5h1.0v1.0h-1.0zM183.5 117h1.0v1.0h-1.0zM183.5 118.5h1.0v1.0h-1.0zM183.5 121h1.0v1.0h-1.0zM183.5 121.5h1.0v1.0h-1.0zM183.5 122h1.0v1.0h-1.0zM183.5 122.5h1.0v1.0h-1.0zM183.5 124.5h1.0v1.0h-1.0zM183.5 127.5h1.0v1.0h-1.0zM184 113h1.0v1.0h-1.0zM184 118.5h1.0v1.0h-1.0zM184 119.5h1.0v1.0h-1.0zM184 120h1.0v1.0h-1.0zM184 121h1.0v1.0h-1.0zM184 121.5h1.0v1.0h-1.0zM184 123h1.0v1.0h-1.0zM184 124h1.0v1.0h-1.0zM184 124.5h1.0v1.0h-1.0zM184 125.5h1.0v1.0h-1.0zM184 128.5h1.0v1.0h-1.0zM184 130h1.0v1.0h-1.0zM184.5 109.5h1.0v1.0h-1.0zM184.5 112.5h1.0v1.0h-1.0zM184.5 117.5h1.0v1.0h-1.0zM184.5 122h1.0v1.0h-1.0zM184.5 124h1.0v1.0h-1.0zM184.5 124.5h1.0v1.0h-1.0zM184.5 126.5h1.0v1.0h-1.0zM184.5 128h1.0v1.0h-1.0zM184.5 131.5h1.0v1.0h-1.0zM184.5 139h1.0v1.0h-1.0zM185 116.5h1.0v1.0h-1.0zM185 118.5h1.0v1.0h-1.0zM185 119.5h1.0v1.0h-1.0zM185 120h1.0v1.0h-1.0zM185 121.5h1.0v1.0h-1.0zM185 122.5h1.0v1.0h-1.0zM185 125h1.0v1.0h-1.0zM185 126.5h1.0v1.0h-1.0zM185 130h1.0v1.0h-1.0zM185 131h1.0v1.0h-1.0zM185 132h1.0v1.0h-1.0zM185 139.5h1.0v1.0h-1.0zM185.5 114.5h1.0v1.0h-1.0zM185.5 121.5h1.0v1.0h-1.0zM185.5 125h1.0v1.0h-1.0zM185.5 126.5h1.0v1.0h-1.0zM185.5 139.5h1.0v1.0h-1.0zM186 116.5h1.0v1.0h-1.0zM186 119.5h1.0v1.0h-1.0zM186 122h1.0v1.0h-1.0zM186 125.5h1.0v1.0h-1.0zM186 130.5h1.0v1.0h-1.0zM186 134h1.0v1.0h-1.0zM186 145.5h1.0v1.0h-1.0zM186.5 117h1.0v1.0h-1.0zM186.5 120h1.0v1.0h-1.0zM186.5 120.5h1.0v1.0h-1.0zM186.5 122.5h1.0v1.0h-1.0zM186.5 126.5h1.0v1.0h-1.0zM186.5 127h1.0v1.0h-1.0zM186.5 128.5h1.0v1.0h-1.0zM187 112h1.0v1.0h-1.0zM187 115h1.0v1.0h-1.0zM187 121h1.0v1.0h-1.0zM187 122.5h1.0v1.0h-1.0zM187 130h1.0v1.0h-1.0zM187.5 98.5h1.0v1.0h-1.0zM187.5 112h1.0v1.0h-1.0zM187.5 121h1.0v1.0h-1.0zM187.5 123h1.0v1.0h-1.0zM187.5 125h1.0v1.0h-1.0zM187.5 127.5h1.0v1.0h-1.0zM187.5 137h1.0v1.0h-1.0zM188 113.5h1.0v1.0h-1.0zM188 115.5h1.0v1.0h-1.0zM188 118.5h1.0v1.0h-1.0zM188 121h1.0v1.0h-1.0zM188 126h1.0v1.0h-1.0zM188 127h1.0v1.0h-1.0zM188 127.5h1.0v1.0h-1.0zM188 128h1.0v1.0h-1.0zM188 129.5h1.0v1.0h-1.0zM188.5 122h1.0v1.0h-1.0zM188.5 124h1.0v1.0h-1.0zM188.5 125h1.0v1.0h-1.0zM188.5 133h1.0v1.0h-1.0zM188.5 146.5h1.0v1.0h-1.0zM189 119.5h1.0v1.0h-1.0zM189 122.5h1.0v1.0h-1.0zM189 123h1.0v1.0h-1.0zM189 123.5h1.0v1.0h-1.0zM189 127.5h1.0v1.0h-1.0zM189 128h1.0v1.0h-1.0zM189 130h1.0v1.0h-1.0zM189.5 121.5h1.0v1.0h-1.0zM189.5 124.5h1.0v1.0h-1.0zM190 116h1.0v1.0h-1.0zM190 121h1.0v1.0h-1.0zM190 121.5h1.0v1.0h-1.0zM190 123h1.0v1.0h-1.0zM190 123.5h1.0v1.0h-1.0zM190 130h1.0v1.0h-1.0zM190 140h1.0v1.0h-1.0zM190.5 116.5h1.0v1.0h-1.0zM190.5 117h1.0v1.0h-1.0zM190.5 121h1.0v1.0h-1.0zM190.5 126h1.0v1.0h-1.0zM191 119.5h1.0v1.0h-1.0zM191 120h1.0v1.0h-1.0zM191 120.5h1.0v1.0h-1.0zM191 124h1.0v1.0h-1.0zM191 126.5h1.0v1.0h-1.0zM191.5 101.5h1.0v1.0h-1.0zM191.5 111h1.0v1.0h-1.0zM191.5 111.5h1.0v1.0h-1.0zM191.5 118.5h1.0v1.0h-1.0zM191.5 119h1.0v1.0h-1.0zM191.5 120.5h1.0v1.0h-1.0zM191.5 122h1.0v1.0h-1.0zM191.5 123.5h1.0v1.0h-1.0zM191.5 130h1.0v1.0h-1.0zM191.5 137.5h1.0v1.0h-1.0zM192 113.5h1.0v1.0h-1.0zM192 114.5h1.0v1.0h-1.0zM192 116h1.0v1.0h-1.0zM192 119.5h1.0v1.0h-1.0zM192 123h1.0v1.0h-1.0zM192 127.5h1.0v1.0h-1.0zM192.5 132h1.0v1.0h-1.0zM192.5 137h1.0v1.0h-1.0zM192.5 146.5h1.0v1.0h-1.0zM193 97.5h1.0v1.0h-1.0zM193 126h1.0v1.0h-1.0zM193 128h1.0v1.0h-1.0zM193 136h1.0v1.0h-1.0zM193.5 123h1.0v1.0h-1.0zM193.5 124.5h1.0v1.0h-1.0zM193.5 130.5h1.0v1.0h-1.0zM194 117h1.0v1.0h-1.0zM194 143h1.0v1.0h-1.0zM194.5 100h1.0v1.0h-1.0zM194.5 116.5h1.0v1.0h-1.0zM194.5 129h1.0v1.0h-1.0zM194.5 138.5h1.0v1.0h-1.0zM195 125.5h1.0v1.0h-1.0zM195 127h1.0v1.0h-1.0zM195 129.5h1.0v1.0h-1.0zM195.5 120.5h1.0v1.0h-1.0zM195.5 121h1.0v1.0h-1.0zM195.5 127.5h1.0v1.0h-1.0zM196 109.5h1.0v1.0h-1.0zM196 139h1.0v1.0h-1.0zM196.5 121.5h1.0v1.0h-1.0zM197 103h1.0v1.0h-1.0zM197 106h1.0v1.0h-1.0zM197 117.5h1.0v1.0h-1.0zM197.5 101.5h1.0v1.0h-1.0zM197.5 111h1.0v1.0h-1.0zM197.5 129h1.0v1.0h-1.0zM198 123h1.0v1.0h-1.0zM198 123.5h1.0v1.0h-1.0zM198 126.5h1.0v1.0h-1.0zM198 134h1.0v1.0h-1.0zM198.5 90h1.0v1.0h-1.0zM198.5 116h1.0v1.0h-1.0zM198.5 128h1.0v1.0h-1.0zM198.5 129h1.0v1.0h-1.0zM198.5 133.5h1.0v1.0h-1.0zM199 101h1.0v1.0h-1.0zM199 124h1.0v1.0h-1.0zM199 127h1.0v1.0h-1.0zM199 129.5h1.0v1.0h-1.0zM199 143.5h1.0v1.0h-1.0zM199 146.5h1.0v1.0h-1.0zM199.5 111h1.0v1.0h-1.0zM199.5 113.5h1.0v1.0h-1.0zM200 105.5h1.0v1.0h-1.0zM200 110h1.0v1.0h-1.0zM200 120.5h1.0v1.0h-1.0zM200.5 118h1.0v1.0h-1.0zM200.5 132h1.0v1.0h-1.0zM201 100h1.0v1.0h-1.0zM201 104h1.0v1.0h-1.0zM201 108.5h1.0v1.0h-1.0zM201 113.5h1.0v1.0h-1.0zM201 114h1.0v1.0h-1.0zM201 127h1.0v1.0h-1.0zM201 142.5h1.0v1.0h-1.0zM201.5 100h1.0v1.0h-1.0zM201.5 110.5h1.0v1.0h-1.0zM201.5 111.5h1.0v1.0h-1.0zM201.5 112.5h1.0v1.0h-1.0zM201.5 121.5h1.0v1.0h-1.0zM201.5 122.5h1.0v1.0h-1.0zM201.5 126h1.0v1.0h-1.0zM202 105h1.0v1.0h-1.0zM202 108.5h1.0v1.0h-1.0zM202 109h1.0v1.0h-1.0zM202 112h1.0v1.0h-1.0zM202 115.5h1.0v1.0h-1.0zM202 123h1.0v1.0h-1.0zM202 130h1.0v1.0h-1.0zM202 138.5h1.0v1.0h-1.0zM202.5 134h1.0v1.0h-1.0zM203 115h1.0v1.0h-1.0zM203 129.5h1.0v1.0h-1.0zM203.5 105h1.0v1.0h-1.0zM203.5 116.5h1.0v1.0h-1.0zM203.5 119.5h1.0v1.0h-1.0zM203.5 131h1.0v1.0h-1.0zM204 105h1.0v1.0h-1.0zM204 105.5h1.0v1.0h-1.0zM204 108h1.0v1.0h-1.0zM204 111.5h1.0v1.0h-1.0zM204 121h1.0v1.0h-1.0zM204 122h1.0v1.0h-1.0zM204 125.5h1.0v1.0h-1.0zM204 129h1.0v1.0h-1.0zM204.5 99h1.0v1.0h-1.0zM204.5 101.5h1.0v1.0h-1.0zM204.5 105.5h1.0v1.0h-1.0zM204.5 108.5h1.0v1.0h-1.0zM204.5 109.5h1.0v1.0h-1.0zM204.5 116.5h1.0v1.0h-1.0zM204.5 121h1.0v1.0h-1.0zM204.5 128.5h1.0v1.0h-1.0zM204.5 132h1.0v1.0h-1.0zM205 111h1.0v1.0h-1.0zM205 115.5h1.0v1.0h-1.0zM205 117h1.0v1.0h-1.0zM205 120h1.0v1.0h-1.0zM205 122.5h1.0v1.0h-1.0zM205 123h1.0v1.0h-1.0zM205 124.5h1.0v1.0h-1.0zM205 127h1.0v1.0h-1.0zM205.5 106h1.0v1.0h-1.0zM205.5 108.5h1.0v1.0h-1.0zM205.5 113h1.0v1.0h-1.0zM205.5 114h1.0v1.0h-1.0zM205.5 122h1.0v1.0h-1.0zM205.5 126h1.0v1.0h-1.0zM206 99h1.0v1.0h-1.0zM206 107.5h1.0v1.0h-1.0zM206 122h1.0v1.0h-1.0zM206 123h1.0v1.0h-1.0zM206 124.5h1.0v1.0h-1.0zM206 125h1.0v1.0h-1.0zM206 131h1.0v1.0h-1.0zM206.5 104h1.0v1.0h-1.0zM206.5 110h1.0v1.0h-1.0zM206.5 114.5h1.0v1.0h-1.0zM206.5 115.5h1.0v1.0h-1.0zM206.5 116h1.0v1.0h-1.0zM206.5 120h1.0v1.0h-1.0zM206.5 121.5h1.0v1.0h-1.0zM206.5 124h1.0v1.0h-1.0zM207 108.5h1.0v1.0h-1.0zM207 112h1.0v1.0h-1.0zM207 113h1.0v1.0h-1.0zM207 119.5h1.0v1.0h-1.0zM207 120.5h1.0v1.0h-1.0zM207 122h1.0v1.0h-1.0zM207 125h1.0v1.0h-1.0zM207 125.5h1.0v1.0h-1.0zM207.5 104h1.0v1.0h-1.0zM207.5 117h1.0v1.0h-1.0zM207.5 120h1.0v1.0h-1.0zM207.5 121.5h1.0v1.0h-1.0zM207.5 123h1.0v1.0h-1.0zM207.5 124.5h1.0v1.0h-1.0zM207.5 127.5h1.0v1.0h-1.0zM207.5 134h1.0v1.0h-1.0zM208 98.5h1.0v1.0h-1.0zM208 110h1.0v1.0h-1.0zM208 117h1.0v1.0h-1.0zM208 119h1.0v1.0h-1.0zM208 120h1.0v1.0h-1.0zM208 124h1.0v1.0h-1.0zM208 125h1.0v1.0h-1.0zM208 126h1.0v1.0h-1.0zM208 146.5h1.0v1.0h-1.0zM208.5 105h1.0v1.0h-1.0zM208.5 106h1.0v1.0h-1.0zM208.5 111h1.0v1.0h-1.0zM208.5 114.5h1.0v1.0h-1.0zM208.5 120.5h1.0v1.0h-1.0zM208.5 121h1.0v1.0h-1.0zM208.5 122h1.0v1.0h-1.0zM208.5 127h1.0v1.0h-1.0zM209 105h1.0v1.0h-1.0zM209 114.5h1.0v1.0h-1.0zM209 115h1.0v1.0h-1.0zM209 119h1.0v1.0h-1.0zM209 120.5h1.0v1.0h-1.0zM209 122.5h1.0v1.0h-1.0zM209 125.5h1.0v1.0h-1.0zM209 126.5h1.0v1.0h-1.0zM209.5 111.5h1.0v1.0h-1.0zM209.5 113h1.0v1.0h-1.0zM209.5 115.5h1.0v1.0h-1.0zM209.5 116h1.0v1.0h-1.0zM209.5 117.5h1.0v1.0h-1.0zM209.5 123.5h1.0v1.0h-1.0zM209.5 125h1.0v1.0h-1.0zM209.5 125.5h1.0v1.0h-1.0zM209.5 126h1.0v1.0h-1.0zM210 111.5h1.0v1.0h-1.0zM210 112.5h1.0v1.0h-1.0zM210 119.5h1.0v1.0h-1.0zM210 122.5h1.0v1.0h-1.0zM210 123h1.0v1.0h-1.0zM210 126.5h1.0v1.0h-1.0zM210 128h1.0v1.0h-1.0zM210 128.5h1.0v1.0h-1.0zM210 129.5h1.0v1.0h-1.0zM210 130.5h1.0v1.0h-1.0zM210.5 94h1.0v1.0h-1.0zM210.5 104.5h1.0v1.0h-1.0zM210.5 108.5h1.0v1.0h-1.0zM210.5 114.5h1.0v1.0h-1.0zM210.5 117h1.0v1.0h-1.0zM210.5 117.5h1.0v1.0h-1.0zM210.5 119h1.0v1.0h-1.0zM210.5 120.5h1.0v1.0h-1.0zM210.5 126h1.0v1.0h-1.0zM210.5 127.5h1.0v1.0h-1.0zM211 109.5h1.0v1.0h-1.0zM211 111.5h1.0v1.0h-1.0zM211 115h1.0v1.0h-1.0zM211 121h1.0v1.0h-1.0zM211 127.5h1.0v1.0h-1.0zM211 140h1.0v1.0h-1.0zM211.5 105h1.0v1.0h-1.0zM211.5 107.5h1.0v1.0h-1.0zM211.5 108.5h1.0v1.0h-1.0zM211.5 114h1.0v1.0h-1.0zM211.5 119.5h1.0v1.0h-1.0zM211.5 120h1.0v1.0h-1.0zM211.5 121h1.0v1.0h-1.0zM211.5 121.5h1.0v1.0h-1.0zM211.5 122.5h1.0v1.0h-1.0zM211.5 123.5h1.0v1.0h-1.0zM211.5 124.5h1.0v1.0h-1.0zM211.5 125h1.0v1.0h-1.0zM212 105.5h1.0v1.0h-1.0zM212 106.5h1.0v1.0h-1.0zM212 114.5h1.0v1.0h-1.0zM212 117.5h1.0v1.0h-1.0zM212 118.5h1.0v1.0h-1.0zM212 119.5h1.0v1.0h-1.0zM212 120h1.0v1.0h-1.0zM212 121h1.0v1.0h-1.0zM212 121.5h1.0v1.0h-1.0zM212 122h1.0v1.0h-1.0zM212 124.5h1.0v1.0h-1.0zM212.5 116h1.0v1.0h-1.0zM212.5 118.5h1.0v1.0h-1.0zM212.5 120.5h1.0v1.0h-1.0zM212.5 121.5h1.0v1.0h-1.0zM212.5 122h1.0v1.0h-1.0zM212.5 122.5h1.0v1.0h-1.0zM212.5 123.5h1.0v1.0h-1.0zM212.5 124h1.0v1.0h-1.0zM212.5 124.5h1.0v1.0h-1.0zM212.5 125.5h1.0v1.0h-1.0zM212.5 127h1.0v1.0h-1.0zM212.5 127.5h1.0v1.0h-1.0zM213 105.5h1.0v1.0h-1.0zM213 107.5h1.0v1.0h-1.0zM213 115h1.0v1.0h-1.0zM213 116h1.0v1.0h-1.0zM213 118.5h1.0v1.0h-1.0zM213 119h1.0v1.0h-1.0zM213 120h1.0v1.0h-1.0zM213 120.5h1.0v1.0h-1.0zM213 121.5h1.0v1.0h-1.0zM213 122h1.0v1.0h-1.0zM213 122.5h1.0v1.0h-1.0zM213 124.5h1.0v1.0h-1.0zM213 125h1.0v1.0h-1.0zM213 129.5h1.0v1.0h-1.0zM213.5 111.5h1.0v1.0h-1.0zM213.5 117.5h1.0v1.0h-1.0zM213.5 118h1.0v1.0h-1.0zM213.5 118.5h1.0v1.0h-1.0zM213.5 119h1.0v1.0h-1.0zM213.5 119.5h1.0v1.0h-1.0zM213.5 120h1.0v1.0h-1.0zM213.5 121h1.0v1.0h-1.0zM213.5 122.5h1.0v1.0h-1.0zM213.5 125h1.0v1.0h-1.0zM214 109h1.0v1.0h-1.0zM214 109.5h1.0v1.0h-1.0zM214 117h1.0v1.0h-1.0zM214 118.5h1.0v1.0h-1.0zM214 120h1.0v1.0h-1.0zM214 123h1.0v1.0h-1.0zM214 123.5h1.0v1.0h-1.0zM214 124h1.0v1.0h-1.0zM214 124.5h1.0v1.0h-1.0zM214 127.5h1.0v1.0h-1.0zM214 129.5h1.0v1.0h-1.0zM214.5 109.5h1.0v1.0h-1.0zM214.5 111.5h1.0v1.0h-1.0zM214.5 117h1.0v1.0h-1.0zM214.5 118.5h1.0v1.0h-1.0zM214.5 119h1.0v1.0h-1.0zM214.5 119.5h1.0v1.0h-1.0zM214.5 123h1.0v1.0h-1.0zM214.5 123.5h1.0v1.0h-1.0zM215 111h1.0v1.0h-1.0zM215 111.5h1.0v1.0h-1.0zM215 116h1.0v1.0h-1.0zM215 118h1.0v1.0h-1.0zM215 119h1.0v1.0h-1.0zM215 120h1.0v1.0h-1.0zM215 120.5h1.0v1.0h-1.0zM215 121.5h1.0v1.0h-1.0zM215 126h1.0v1.0h-1.0zM215 127h1.0v1.0h-1.0zM215 128.5h1.0v1.0h-1.0zM215 130h1.0v1.0h-1.0zM215 144h1.0v1.0h-1.0zM215.5 111.5h1.0v1.0h-1.0zM215.5 117h1.0v1.0h-1.0zM215.5 117.5h1.0v1.0h-1.0zM215.5 118.5h1.0v1.0h-1.0zM215.5 120h1.0v1.0h-1.0zM215.5 121h1.0v1.0h-1.0zM215.5 122h1.0v1.0h-1.0zM215.5 122.5h1.0v1.0h-1.0zM215.5 123h1.0v1.0h-1.0zM215.5 124.5h1.0v1.0h-1.0zM215.5 125h1.0v1.0h-1.0zM215.5 126.5h1.0v1.0h-1.0zM215.5 127.5h1.0v1.0h-1.0zM216 95.5h1.0v1.0h-1.0zM216 108h1.0v1.0h-1.0zM216 109h1.0v1.0h-1.0zM216 117.5h1.0v1.0h-1.0zM216 119h1.0v1.0h-1.0zM216 124.5h1.0v1.0h-1.0zM216 129.5h1.0v1.0h-1.0zM216.5 106h1.0v1.0h-1.0zM216.5 109h1.0v1.0h-1.0zM216.5 120h1.0v1.0h-1.0zM216.5 120.5h1.0v1.0h-1.0zM216.5 121.5h1.0v1.0h-1.0zM216.5 124h1.0v1.0h-1.0zM216.5 124.5h1.0v1.0h-1.0zM216.5 125h1.0v1.0h-1.0zM216.5 128h1.0v1.0h-1.0zM216.5 129h1.0v1.0h-1.0zM216.5 139.5h1.0v1.0h-1.0zM217 95.5h1.0v1.0h-1.0zM217 112h1.0v1.0h-1.0zM217 114.5h1.0v1.0h-1.0zM217 119h1.0v1.0h-1.0zM217 121h1.0v1.0h-1.0zM217 122h1.0v1.0h-1.0zM217 123.5h1.0v1.0h-1.0zM217 125h1.0v1.0h-1.0zM217 127.5h1.0v1.0h-1.0zM217 130h1.0v1.0h-1.0zM217.5 108h1.0v1.0h-1.0zM217.5 120h1.0v1.0h-1.0zM217.5 120.5h1.0v1.0h-1.0zM217.5 121.5h1.0v1.0h-1.0zM217.5 122.5h1.0v1.0h-1.0zM217.5 123.5h1.0v1.0h-1.0zM217.5 124h1.0v1.0h-1.0zM217.5 124.5h1.0v1.0h-1.0zM217.5 127h1.0v1.0h-1.0zM217.5 127.5h1.0v1.0h-1.0zM218 109h1.0v1.0h-1.0zM218 117h1.0v1.0h-1.0zM218 119h1.0v1.0h-1.0zM218 121.5h1.0v1.0h-1.0zM218 122.5h1.0v1.0h-1.0zM218 124h1.0v1.0h-1.0zM218 129.5h1.0v1.0h-1.0zM218 130.5h1.0v1.0h-1.0zM218 140h1.0v1.0h-1.0zM218.5 106h1.0v1.0h-1.0zM218.5 115.5h1.0v1.0h-1.0zM218.5 118.5h1.0v1.0h-1.0zM218.5 120h1.0v1.0h-1.0zM218.5 121.5h1.0v1.0h-1.0zM218.5 123.5h1.0v1.0h-1.0zM218.5 143h1.0v1.0h-1.0zM219 107h1.0v1.0h-1.0zM219 108.5h1.0v1.0h-1.0zM219 114h1.0v1.0h-1.0zM219 115h1.0v1.0h-1.0zM219 117.5h1.0v1.0h-1.0zM219 120h1.0v1.0h-1.0zM219 128.5h1.0v1.0h-1.0zM219.5 118h1.0v1.0h-1.0zM219.5 120h1.0v1.0h-1.0zM219.5 120.5h1.0v1.0h-1.0zM219.5 121.5h1.0v1.0h-1.0zM219.5 122.5h1.0v1.0h-1.0zM219.5 123.5h1.0v1.0h-1.0zM219.5 125.5h1.0v1.0h-1.0zM219.5 126h1.0v1.0h-1.0zM220 122.5h1.0v1.0h-1.0zM220 137.5h1.0v1.0h-1.0zM220.5 123.5h1.0v1.0h-1.0zM221 109h1.0v1.0h-1.0zM221 116h1.0v1.0h-1.0zM221 119.5h1.0v1.0h-1.0zM221 121.5h1.0v1.0h-1.0zM221.5 120.5h1.0v1.0h-1.0zM221.5 121.5h1.0v1.0h-1.0zM221.5 126.5h1.0v1.0h-1.0zM222 121.5h1.0v1.0h-1.0zM222 122h1.0v1.0h-1.0zM222 123.5h1.0v1.0h-1.0zM222.5 115.5h1.0v1.0h-1.0zM222.5 118h1.0v1.0h-1.0zM222.5 122h1.0v1.0h-1.0zM223 117h1.0v1.0h-1.0zM223 118.5h1.0v1.0h-1.0zM224.5 109.5h1.0v1.0h-1.0zM225 117.5h1.0v1.0h-1.0zM225.5 100.5h1.0v1.0h-1.0zM226.5 121.5h1.0v1.0h-1.0zM227 106h1.0v1.0h-1.0z" fill="#000" fill-opacity="0.64"/>
<path d="M141 122.5h1.0v1.0h-1.0zM151.5 126h1.0v1.0h-1.0zM152 120.5h1.0v1.0h-1.0zM154 121h1.0v1.0h-1.0zM154 132h1.0v1.0h-1.0zM157 146.5h1.0v1.0h-1.0zM157.5 121h1.0v1.0h-1.0zM157.5 138h1.0v1.0h-1.0zM158 122.5h1.0v1.0h-1.0zM158.5 113h1.0v1.0h-1.0zM158.5 127h1.0v1.0h-1.0zM159 121.5h1.0v1.0h-1.0zM159 122.5h1.0v1.0h-1.0zM159 137.5h1.0v1.0h-1.0zM159.5 124h1.0v1.0h-1.0zM159.5 127h1.0v1.0h-1.0zM160 121h1.0v1.0h-1.0zM160 124h1.0v1.0h-1.0zM160.5 109.5h1.0v1.0h-1.0zM161 120.5h1.0v1.0h-1.0zM161 122.5h1.0v1.0h-1.0zM161 131h1.0v1.0h-1.0zM161.5 119.5h1.0v1.0h-1.0zM161.5 124.5h1.0v1.0h-1.0zM161.5 128h1.0v1.0h-1.0zM162 114.5h1.0v1.0h-1.0zM162 123h1.0v1.0h-1.0zM162 125h1.0v1.0h-1.0zM162.5 120.5h1.0v1.0h-1.0zM162.5 131.5h1.0v1.0h-1.0zM163 112.5h1.0v1.0h-1.0zM163 114h1.0v1.0h-1.0zM163 117h1.0v1.0h-1.0zM163 118h1.0v1.0h-1.0zM163 121h1.0v1.0h-1.0zM163 123h1.0v1.0h-1.0zM163.5 124h1.0v1.0h-1.0zM163.5 131.5h1.0v1.0h-1.0zM163.5 138.5h1.0v1.0h-1.0zM164 110.5h1.0v1.0h-1.0zM164 115.5h1.0v1.0h-1.0zM164 118h1.0v1.0h-1.0zM164 122.5h1.0v1.0h-1.0zM164 123h1.0v1.0h-1.0zM164 125.5h1.0v1.0h-1.0zM164 126h1.0v1.0h-1.0zM164 129.5h1.0v1.0h-1.0zM164 141h1.0v1.0h-1.0zM164.5 113h1.0v1.0h-1.0zM164.5 116h1.0v1.0h-1.0zM164.5 118.5h1.0v1.0h-1.0zM164.5 119.5h1.0v1.0h-1.0zM164.5 121h1.0v1.0h-1.0zM164.5 121.5h1.0v1.0h-1.0zM164.5 124.5h1.0v1.0h-1.0zM164.5 127h1.0v1.0h-1.0zM164.5 129.5h1.0v1.0h-1.0zM164.5 133h1.0v1.0h-1.0zM164.5 138.5h1.0v1.0h-1.0zM165 114.5h1.0v1.0h-1.0zM165 115.5h1.0v1.0h-1.0zM165 120.5h1.0v1.0h-1.0zM165 121h1.0v1.0h-1.0zM165 122.5h1.0v1.0h-1.0zM165 125h1.0v1.0h-1.0zM165 125.5h1.0v1.0h-1.0zM165 127h1.0v1.0h-1.0zM165.5 112.5h1.0v1.0h-1.0zM165.5 113.5h1.0v1.0h-1.0zM165.5 120.5h1.0v1.0h-1.0zM165.5 122.5h1.0v1.0h-1.0zM165.5 126h1.0v1.0h-1.0zM165.5 129h1.0v1.0h-1.0zM166 113h1.0v1.0h-1.0zM166 114h1.0v1.0h-1.0zM166 115h1.0v1.0h-1.0zM166 119h1.0v1.0h-1.0zM166 120h1.0v1.0h-1.0zM166 122.5h1.0v1.0h-1.0zM166 125h1.0v1.0h-1.0zM166 126h1.0v1.0h-1.0zM166 126.5h1.0v1.0h-1.0zM166 130h1.0v1.0h-1.0zM166.5 113.5h1.0v1.0h-1.0zM166.5 115h1.0v1.0h-1.0zM166.5 117.5h1.0v1.0h-1.0zM166.5 121h1.0v1.0h-1.0zM166.5 123.5h1.0v1.0h-1.0zM166.5 124.5h1.0v1.0h-1.0zM166.5 125h1.0v1.0h-1.0zM167 114h1.0v1.0h-1.0zM167 114.5h1.0v1.0h-1.0zM167 116.5h1.0v1.0h-1.0zM167 117.5h1.0v1.0h-1.0zM167 120h1.0v1.0h-1.0zM167 120.5h1.0v1.0h-1.0zM167 121.5h1.0v1.0h-1.0zM167 122h1.0v1.0h-1.0zM167 124.5h1.0v1.0h-1.0zM167 138h1.0v1.0h-1.0zM167 140h1.0v1.0h-1.0zM167 146h1.0v1.0h-1.0zM167.5 116.5h1.0v1.0h-1.0zM167.5 119h1.0v1.0h-1.0zM167.5 120.5h1.0v1.0h-1.0zM167.5 121h1.0v1.0h-1.0zM167.5 121.5h1.0v1.0h-1.0zM167.5 122.5h1.0v1.0h-1.0zM167.5 125.5h1.0v1.0h-1.0zM167.5 126h1.0v1.0h-1.0zM167.5 127h1.0v1.0h-1.0zM167.5 127.5h1.0v1.0h-1.0zM167.5 131.5h1.0v1.0h-1.0zM167.5 144h1.0v1.0h-1.0zM168 117.5h1.0v1.0h-1.0zM168 119h1.0v1.0h-1.0zM168 121.5h1.0v1.0h-1.0zM168 123h1.0v1.0h-1.0zM168 123.5h1.0v1.0h-1.0zM168 124h1.0v1.0h-1.0zM168 125.5h1.0v1.0h-1.0zM168 128.5h1.0v1.0h-1.0zM168 130.5h1.0v1.0h-1.0zM168 135.5h1.0v1.0h-1.0zM168 136h1.0v1.0h-1.0zM168 140.5h1.0v1.0h-1.0zM168.5 114h1.0v1.0h-1.0zM168.5 116.5h1.0v1.0h-1.0zM168.5 118h1.0v1.0h-1.0zM168.5 119.5h1.0v1.0h-1.0zM168.5 121h1.0v1.0h-1.0zM168.5 121.5h1.0v1.0h-1.0zM168.5 123.5h1.0v1.0h-1.0zM168.5 126h1.0v1.0h-1.0zM168.5 142.5h1.0v1.0h-1.0zM168.5 147h1.0v1.0h-1.0zM169 110h1.0v1.0h-1.0zM169 113h1.0v1.0h-1.0zM169 118.5h1.0v1.0h-1.0zM169 119h1.0v1.0h-1.0zM169 120h1.0v1.0h-1.0zM169 121.5h1.0v1.0h-1.0zM169 125h1.0v1.0h-1.0zM169 126.5h1.0v1.0h-1.0zM169 129h1.0v1.0h-1.0zM169 137.5h1.0v1.0h-1.0zM169 140.5h1.0v1.0h-1.0zM169 141.5h1.0v1.0h-1.0zM169.5 120h1.0v1.0h-1.0zM169.5 121h1.0v1.0h-1.0zM169.5 121.5h1.0v1.0h-1.0zM169.5 122.5h1.0v1.0h-1.0zM169.5 123h1.0v1.0h-1.0zM169.5 123.5h1.0v1.0h-1.0zM169.5 127.5h1.0v1.0h-1.0zM169.5 128h1.0v1.0h-1.0zM169.5 129h1.0v1.0h-1.0zM169.5 130h1.0v1.0h-1.0zM169.5 139h1.0v1.0h-1.0zM169.5 145h1.0v1.0h-1.0zM170 115h1.0v1.0h-1.0zM170 115.5h1.0v1.0h-1.0zM170 117.5h1.0v1.0h-1.0zM170 118h1.0v1.0h-1.0zM170 119.5h1.0v1.0h-1.0zM170 122h1.0v1.0h-1.0zM170 122.5h1.0v1.0h-1.0zM170 123h1.0v1.0h-1.0zM170 124h1.0v1.0h-1.0zM170 125h1.0v1.0h-1.0zM170 125.5h1.0v1.0h-1.0zM170 126.5h1.0v1.0h-1.0zM170 129.5h1.0v1.0h-1.0zM170 130h1.0v1.0h-1.0zM170 130.5h1.0v1.0h-1.0zM170 131.5h1.0v1.0h-1.0zM170 136.5h1.0v1.0h-1.0zM170.5 113h1.0v1.0h-1.0zM170.5 118.5h1.0v1.0h-1.0zM170.5 119h1.0v1.0h-1.0zM170.5 121h1.0v1.0h-1.0zM170.5 121.5h1.0v1.0h-1.0zM170.5 122.5h1.0v1.0h-1.0zM170.5 123.5h1.0v1.0h-1.0zM170.5 126.5h1.0v1.0h-1.0zM170.5 127h1.0v1.0h-1.0zM170.5 129h1.0v1.0h-1.0zM170.5 132.5h1.0v1.0h-1.0zM170.5 144h1.0v1.0h-1.0zM171 119h1.0v1.0h-1.0zM171 119.5h1.0v1.0h-1.0zM171 120h1.0v1.0h-1.0zM171 120.5h1.0v1.0h-1.0zM171 122h1.0v1.0h-1.0zM171 123h1.0v1.0h-1.0zM171 124.5h1.0v1.0h-1.0zM171 125h1.0v1.0h-1.0zM171 125.5h1.0v1.0h-1.0zM171 126.5h1.0v1.0h-1.0zM171 127h1.0v1.0h-1.0zM171 128h1.0v1.0h-1.0zM171 137.5h1.0v1.0h-1.0zM171.5 112h1.0v1.0h-1.0zM171.5 116.5h1.0v1.0h-1.0zM171.5 120h1.0v1.0h-1.0zM171.5 120.5h1.0v1.0h-1.0zM171.5 121.5h1.0v1.0h-1.0zM171.5 122h1.0v1.0h-1.0zM171.5 123h1.0v1.0h-1.0zM171.5 126h1.0v1.0h-1.0zM171.5 128.5h1.0v1.0h-1.0zM171.5 129.5h1.0v1.0h-1.0zM171.5 131h1.0v1.0h-1.0zM171.5 136.5h1.0v1.0h-1.0zM172 112h1.0v1.0h-1.0zM172 117.5h1.0v1.0h-1.0zM172 119h1.0v1.0h-1.0zM172 121h1.0v1.0h-1.0zM172 122.5h1.0v1.0h-1.0zM172 126h1.0v1.0h-1.0zM172 126.5h1.0v1.0h-1.0zM172 130.5h1.0v1.0h-1.0zM172 136h1.0v1.0h-1.0zM172 138.5h1.0v1.0h-1.0zM172.5 114h1.0v1.0h-1.0zM172.5 115h1.0v1.0h-1.0zM172.5 118h1.0v1.0h-1.0zM172.5 120h1.0v1.0h-1.0zM172.5 121h1.0v1.0h-1.0zM172.5 121.5h1.0v1.0h-1.0zM172.5 124.5h1.0v1.0h-1.0zM172.5 125h1.0v1.0h-1.0zM172.5 125.5h1.0v1.0h-1.0zM172.5 127.5h1.0v1.0h-1.0zM172.5 128.5h1.0v1.0h-1.0zM172.5 133.5h1.0v1.0h-1.0zM172.5 146h1.0v1.0h-1.0zM173 111.5h1.0v1.0h-1.0zM173 112h1.0v1.0h-1.0zM173 116h1.0v1.0h-1.0zM173 119h1.0v1.0h-1.0zM173 119.5h1.0v1.0h-1.0zM173 123.5h1.0v1.0h-1.0zM173 124h1.0v1.0h-1.0zM173 124.5h1.0v1.0h-1.0zM173 125.5h1.0v1.0h-1.0zM173 126.5h1.0v1.0h-1.0zM173 129.5h1.0v1.0h-1.0zM173 130.5h1.0v1.0h-1.0zM173 132.5h1.0v1.0h-1.0zM173 139h1.0v1.0h-1.0zM173.5 115h1.0v1.0h-1.0zM173.5 115.5h1.0v1.0h-1.0zM173.5 118h1.0v1.0h-1.0zM173.5 122.5h1.0v1.0h-1.0zM173.5 123h1.0v1.0h-1.0zM173.5 123.5h1.0v1.0h-1.0zM173.5 126.5h1.0v1.0h-1.0zM173.5 128.5h1.0v1.0h-1.0zM173.5 133h1.0v1.0h-1.0zM173.5 141h1.0v1.0h-1.0zM174 115h1.0v1.0h-1.0zM174 116h1.0v1.0h-1.0zM174 116.5h1.0v1.0h-1.0zM174 117h1.0v1.0h-1.0zM174 117.5h1.0v1.0h-1.0zM174 118h1.0v1.0h-1.0zM174 118.5h1.0v1.0h-1.0zM174 119h1.0v1.0h-1.0zM174 119.5h1.0v1.0h-1.0zM174 120h1.0v1.0h-1.0zM174 120.5h1.0v1.0h-1.0zM174 123h1.0v1.0h-1.0zM174 125h1.0v1.0h-1.0zM174 125.5h1.0v1.0h-1.0zM174 126h1.0v1.0h-1.0zM174 127h1.0v1.0h-1.0zM174 127.5h1.0v1.0h-1.0zM174 129h1.0v1.0h-1.0zM174 132h1.0v1.0h-1.0zM174 138h1.0v1.0h-1.0zM174.5 112.5h1.0v1.0h-1.0zM174.5 116h1.0v1.0h-1.0zM174.5 116.5h1.0v1.0h-1.0zM174.5 117h1.0v1.0h-1.0zM174.5 118h1.0v1.0h-1.0zM174.5 118.5h1.0v1.0h-1.0zM174.5 119h1.0v1.0h-1.0zM174.5 120.5h1.0v1.0h-1.0zM174.5 121.5h1.0v1.0h-1.0zM174.5 122h1.0v1.0h-1.0zM174.5 123h1.0v1.0h-1.0zM174.5 124h1.0v1.0h-1.0zM174.5 125.5h1.0v1.0h-1.0zM174.5 126.5h1.0v1.0h-1.0zM174.5 127h1.0v1.0h-1.0zM174.5 128h1.0v1.0h-1.0zM174.5 129.5h1.0v1.0h-1.0zM174.5 130h1.0v1.0h-1.0zM174.5 143.5h1.0v1.0h-1.0zM175 111.5h1.0v1.0h-1.0zM175 114.5h1.0v1.0h-1.0zM175 118.5h1.0v1.0h-1.0zM175 119h1.0v1.0h-1.0zM175 121h1.0v1.0h-1.0zM175 121.5h1.0v1.0h-1.0zM175 123.5h1.0v1.0h-1.0zM175 125h1.0v1.0h-1.0zM175 126.5h1.0v1.0h-1.0zM175 133h1.0v1.0h-1.0zM175 133.5h1.0v1.0h-1.0zM175 138.5h1.0v1.0h-1.0zM175.5 115h1.0v1.0h-1.0zM175.5 116h1.0v1.0h-1.0zM175.5 116.5h1.0v1.0h-1.0zM175.5 117h1.0v1.0h-1.0zM175.5 118h1.0v1.0h-1.0zM175.5 119h1.0v1.0h-1.0zM175.5 119.5h1.0v1.0h-1.0zM175.5 120h1.0v1.0h-1.0zM175.5 122.5h1.0v1.0h-1.0zM175.5 123h1.0v1.0h-1.0zM175.5 123.5h1.0v1.0h-1.0zM175.5 124h1.0v1.0h-1.0zM175.5 124.5h1.0v1.0h-1.0zM175.5 125.5h1.0v1.0h-1.0zM175.5 128h1.0v1.0h-1.0zM175.5 129h1.0v1.0h-1.0zM175.5 129.5h1.0v1.0h-1.0zM175.5 130h1.0v1.0h-1.0zM175.5 145h1.0v1.0h-1.0zM176 113h1.0v1.0h-1.0zM176 116.5h1.0v1.0h-1.0zM176 118h1.0v1.0h-1.0zM176 119h1.0v1.0h-1.0zM176 120h1.0v1.0h-1.0zM176 121.5h1.0v1.0h-1.0zM176 124.5h1.0v1.0h-1.0zM176 125h1.0v1.0h-1.0zM176 126h1.0v1.0h-1.0zM176 126.5h1.0v1.0h-1.0zM176 127h1.0v1.0h-1.0zM176 129.5h1.0v1.0h-1.0zM176 132h1.0v1.0h-1.0zM176 133.5h1.0v1.0h-1.0zM176 134h1.0v1.0h-1.0zM176 134.5h1.0v1.0h-1.0zM176 139h1.0v1.0h-1.0zM176 142h1.0v1.0h-1.0zM176.5 108h1.0v1.0h-1.0zM176.5 111.5h1.0v1.0h-1.0zM176.5 114h1.0v1.0h-1.0zM176.5 115.5h1.0v1.0h-1.0zM176.5 116.5h1.0v1.0h-1.0zM176.5 117h1.0v1.0h-1.0zM176.5 118h1.0v1.0h-1.0zM176.5 119.5h1.0v1.0h-1.0zM176.5 121h1.0v1.0h-1.0zM176.5 121.5h1.0v1.0h-1.0zM176.5 122.5h1.0v1.0h-1.0zM176.5 125.5h1.0v1.0h-1.0zM176.5 126h1.0v1.0h-1.0zM176.5 129h1.0v1.0h-1.0zM176.5 132h1.0v1.0h-1.0zM176.5 133.5h1.0v1.0h-1.0zM176.5 136h1.0v1.0h-1.0zM176.5 140.5h1.0v1.0h-1.0zM177 112h1.0v1.0h-1.0zM177 114h1.0v1.0h-1.0zM177 119.5h1.0v1.0h-1.0zM177 121h1.0v1.0h-1.0zM177 122h1.0v1.0h-1.0zM177 122.5h1.0v1.0h-1.0zM177 123.5h1.0v1.0h-1.0zM177 124h1.0v1.0h-1.0zM177 125h1.0v1.0h-1.0zM177 127h1.0v1.0h-1.0zM177 127.5h1.0v1.0h-1.0zM177 129.5h1.0v1.0h-1.0zM177 132h1.0v1.0h-1.0zM177 146h1.0v1.0h-1.0zM177.5 113.5h1.0v1.0h-1.0zM177.5 115.5h1.0v1.0h-1.0zM177.5 118.5h1.0v1.0h-1.0zM177.5 119h1.0v1.0h-1.0zM177.5 121h1.0v1.0h-1.0zM177.5 121.5h1.0v1.0h-1.0zM177.5 122.5h1.0v1.0h-1.0zM177.5 123.5h1.0v1.0h-1.0zM177.5 124h1.0v1.0h-1.0zM177.5 124.5h1.0v1.0h-1.0zM177.5 126h1.0v1.0h-1.0zM177.5 127h1.0v1.0h-1.0zM177.5 130.5h1.0v1.0h-1.0zM177.5 133.5h1.0v1.0h-1.0zM177.5 137.5h1.0v1.0h-1.0zM178 111h1.0v1.0h-1.0zM178 117h1.0v1.0h-1.0zM178 118.5h1.0v1.0h-1.0zM178 120h1.0v1.0h-1.0zM178 121.5h1.0v1.0h-1.0zM178 128.5h1.0v1.0h-1.0zM178 129h1.0v1.0h-1.0zM178 130h1.0v1.0h-1.0zM178 132.5h1.0v1.0h-1.0zM178 141.5h1.0v1.0h-1.0zM178.5 112h1.0v1.0h-1.0zM178.5 117.5h1.0v1.0h-1.0zM178.5 119.5h1.0v1.0h-1.0zM178.5 120.5h1.0v1.0h-1.0zM178.5 123h1.0v1.0h-1.0zM178.5 123.5h1.0v1.0h-1.0zM178.5 124h1.0v1.0h-1.0zM178.5 125.5h1.0v1.0h-1.0zM178.5 126.5h1.0v1.0h-1.0zM179 110h1.0v1.0h-1.0zM179 112.5h1.0v1.0h-1.0zM179 117h1.0v1.0h-1.0zM179 117.5h1.0v1.0h-1.0zM179 118.5h1.0v1.0h-1.0zM179 119h1.0v1.0h-1.0zM179 121h1.0v1.0h-1.0zM179 122.5h1.0v1.0h-1.0zM179 124h1.0v1.0h-1.0zM179 126h1.0v1.0h-1.0zM179 127h1.0v1.0h-1.0zM179 130h1.0v1.0h-1.0zM179 131.5h1.0v1.0h-1.0zM179 132h1.0v1.0h-1.0zM179 139.5h1.0v1.0h-1.0zM179 142.5h1.0v1.0h-1.0zM179.5 117.5h1.0v1.0h-1.0zM179.5 119.5h1.0v1.0h-1.0zM179.5 121h1.0v1.0h-1.0zM179.5 121.5h1.0v1.0h-1.0zM179.5 122.5h1.0v1.0h-1.0zM179.5 124h1.0v1.0h-1.0zM179.5 124.5h1.0v1.0h-1.0zM179.5 125.5h1.0v1.0h-1.0zM179.5 126h1.0v1.0h-1.0zM179.5 126.5h1.0v1.0h-1.0zM179.5 130h1.0v1.0h-1.0zM179.5 131.5h1.0v1.0h-1.0zM179.5 134h1.0v1.0h-1.0zM179.5 135.5h1.0v1.0h-1.0zM179.5 137.5h1.0v1.0h-1.0zM180 114h1.0v1.0h-1.0zM180 119h1.0v1.0h-1.0zM180 122h1.0v1.0h-1.0zM180 122.5h1.0v1.0h-1.0zM180 123.5h1.0v1.0h-1.0zM180 125.5h1.0v1.0h-1.0zM180 126h1.0v1.0h-1.0zM180 141.5h1.0v1.0h-1.0zM180 144.5h1.0v1.0h-1.0zM180.5 114h1.0v1.0h-1.0zM180.5 120.5h1.0v1.0h-1.0zM180.5 123h1.0v1.0h-1.0zM180.5 123.5h1.0v1.0h-1.0zM180.5 124.5h1.0v1.0h-1.0zM180.5 129h1.0v1.0h-1.0zM180.5 132.5h1.0v1.0h-1.0zM180.5 145h1.0v1.0h-1.0zM181 117h1.0v1.0h-1.0zM181 118.5h1.0v1.0h-1.0zM181 119.5h1.0v1.0h-1.0zM181 122.5h1.0v1.0h-1.0zM181 123h1.0v1.0h-1.0zM181 128.5h1.0v1.0h-1.0zM181 129.5h1.0v1.0h-1.0zM181 133.5h1.0v1.0h-1.0zM181 140.5h1.0v1.0h-1.0zM181.5 112h1.0v1.0h-1.0zM181.5 116.5h1.0v1.0h-1.0zM181.5 117.5h1.0v1.0h-1.0zM181.5 119h1.0v1.0h-1.0zM181.5 121h1.0v1.0h-1.0zM181.5 122.5h1.0v1.0h-1.0zM181.5 127h1.0v1.0h-1.0zM181.5 130h1.0v1.0h-1.0zM181.5 131.5h1.0v1.0h-1.0zM181.5 136h1.0v1.0h-1.0zM182 115.5h1.0v1.0h-1.0zM182 117h1.0v1.0h-1.0zM182 118h1.0v1.0h-1.0zM182 119.5h1.0v1.0h-1.0zM182 120.5h1.0v1.0h-1.0zM182 123.5h1.0v1.0h-1.0zM182 126.5h1.0v1.0h-1.0zM182 136h1.0v1.0h-1.0zM182.5 116.5h1.0v1.0h-1.0zM182.5 119.5h1.0v1.0h-1.0zM182.5 121.5h1.0v1.0h-1.0zM182.5 122h1.0v1.0h-1.0zM182.5 123.5h1.0v1.0h-1.0zM182.5 124h1.0v1.0h-1.0zM182.5 125.5h1.0v1.0h-1.0zM182.5 128h1.0v1.0h-1.0zM183 113h1.0v1.0h-1.0zM183 117h1.0v1.0h-1.0zM183 117.5h1.0v1.0h-1.0zM183 118h1.0v1.0h-1.0zM183 120.5h1.0v1.0h-1.0zM183 121h1.0v1.0h-1.0zM183 123.5h1.0v1.0h-1.0zM183 125h1.0v1.0h-1.0zM183 126.5h1.0v1.0h-1.0zM183 127.5h1.0v1.0h-1.0zM183 128.5h1.0v1.0h-1.0zM183 132.5h1.0v1.0h-1.0zM183.5 112h1.0v1.0h-1.0zM183.5 113.5h1.0v1.0h-1.0zM183.5 115h1.0v1.0h-1.0zM183.5 116.5h1.0v1.0h-1.0zM183.5 118h1.0v1.0h-1.0zM183.5 119.5h1.0v1.0h-1.0zM183.5 120h1.0v1.0h-1.0zM183.5 120.5h1.0v1.0h-1.0zM183.5 122.5h1.0v1.0h-1.0zM183.5 123h1.0v1.0h-1.0zM183.5 128h1.0v1.0h-1.0zM183.5 137h1.0v1.0h-1.0zM183.5 141.5h1.0v1.0h-1.0zM184 114h1.0v1.0h-1.0zM184 115h1.0v1.0h-1.0zM184 118.5h1.0v1.0h-1.0zM184 119.5h1.0v1.0h-1.0zM184 122.5h1.0v1.0h-1.0zM184 130h1.0v1.0h-1.0zM184 131.5h1.0v1.0h-1.0zM184.5 119h1.0v1.0h-1.0zM184.5 120h1.0v1.0h-1.0zM184.5 123.5h1.0v1.0h-1.0zM184.5 124.5h1.0v1.0h-1.0zM184.5 126h1.0v1.0h-1.0zM184.5 126.5h1.0v1.0h-1.0zM184.5 133h1.0v1.0h-1.0zM185 114h1.0v1.0h-1.0zM185 116h1.0v1.0h-1.0zM185 119h1.0v1.0h-1.0zM185 120.5h1.0v1.0h-1.0zM185 122h1.0v1.0h-1.0zM185 125.5h1.0v1.0h-1.0zM185 126h1.0v1.0h-1.0zM185 126.5h1.0v1.0h-1.0zM185 128h1.0v1.0h-1.0zM185 132h1.0v1.0h-1.0zM185 137h1.0v1.0h-1.0zM185 144.5h1.0v1.0h-1.0zM185.5 119h1.0v1.0h-1.0zM185.5 126h1.0v1.0h-1.0zM185.5 127h1.0v1.0h-1.0zM185.5 129h1.0v1.0h-1.0zM185.5 129.5h1.0v1.0h-1.0zM185.5 130h1.0v1.0h-1.0zM186 118h1.0v1.0h-1.0zM186 119.5h1.0v1.0h-1.0zM186 121h1.0v1.0h-1.0zM186 123h1.0v1.0h-1.0zM186 128h1.0v1.0h-1.0zM186 129.5h1.0v1.0h-1.0zM186 132.5h1.0v1.0h-1.0zM186.5 118.5h1.0v1.0h-1.0zM186.5 119h1.0v1.0h-1.0zM186.5 120h1.0v1.0h-1.0zM186.5 123h1.0v1.0h-1.0zM186.5 137.5h1.0v1.0h-1.0zM187 124.5h1.0v1.0h-1.0zM187 137.5h1.0v1.0h-1.0zM187 138h1.0v1.0h-1.0zM187.5 116h1.0v1.0h-1.0zM187.5 119.5h1.0v1.0h-1.0zM187.5 133h1.0v1.0h-1.0zM187.5 137h1.0v1.0h-1.0zM188 110.5h1.0v1.0h-1.0zM188 116.5h1.0v1.0h-1.0zM188.5 119.5h1.0v1.0h-1.0zM188.5 121.5h1.0v1.0h-1.0zM188.5 124.5h1.0v1.0h-1.0zM188.5 127h1.0v1.0h-1.0zM189 118.5h1.0v1.0h-1.0zM189 123.5h1.0v1.0h-1.0zM189 124.5h1.0v1.0h-1.0zM189.5 126h1.0v1.0h-1.0zM189.5 129h1.0v1.0h-1.0zM189.5 130h1.0v1.0h-1.0zM189.5 138h1.0v1.0h-1.0zM190.5 118.5h1.0v1.0h-1.0zM190.5 127h1.0v1.0h-1.0zM191 103h1.0v1.0h-1.0zM191 111.5h1.0v1.0h-1.0zM191 116h1.0v1.0h-1.0zM191 116.5h1.0v1.0h-1.0zM191 121h1.0v1.0h-1.0zM191 125h1.0v1.0h-1.0zM191 128h1.0v1.0h-1.0zM191.5 102h1.0v1.0h-1.0zM191.5 114.5h1.0v1.0h-1.0zM191.5 125h1.0v1.0h-1.0zM191.5 125.5h1.0v1.0h-1.0zM191.5 141.5h1.0v1.0h-1.0zM192 101.5h1.0v1.0h-1.0zM192 112h1.0v1.0h-1.0zM192 123.5h1.0v1.0h-1.0zM192 124.5h1.0v1.0h-1.0zM192 135.5h1.0v1.0h-1.0zM192.5 121h1.0v1.0h-1.0zM193 103.5h1.0v1.0h-1.0zM193 123h1.0v1.0h-1.0zM193 124.5h1.0v1.0h-1.0zM193 127.5h1.0v1.0h-1.0zM193.5 134.5h1.0v1.0h-1.0zM194 119h1.0v1.0h-1.0zM194 120.5h1.0v1.0h-1.0zM194 126.5h1.0v1.0h-1.0zM194.5 105h1.0v1.0h-1.0zM194.5 123.5h1.0v1.0h-1.0zM194.5 134.5h1.0v1.0h-1.0zM194.5 141.5h1.0v1.0h-1.0zM195 103h1.0v1.0h-1.0zM195 113h1.0v1.0h-1.0zM195 114.5h1.0v1.0h-1.0zM195 126.5h1.0v1.0h-1.0zM195 133h1.0v1.0h-1.0zM195 134h1.0v1.0h-1.0zM195.5 96.5h1.0v1.0h-1.0zM195.5 106h1.0v1.0h-1.0zM195.5 124h1.0v1.0h-1.0zM195.5 130.5h1.0v1.0h-1.0zM195.5 145h1.0v1.0h-1.0zM196 107h1.0v1.0h-1.0zM196 114h1.0v1.0h-1.0zM196 117.5h1.0v1.0h-1.0zM196 124.5h1.0v1.0h-1.0zM196 125h1.0v1.0h-1.0zM196 125.5h1.0v1.0h-1.0zM196 128.5h1.0v1.0h-1.0zM196 132.5h1.0v1.0h-1.0zM196 143.5h1.0v1.0h-1.0zM196 146.5h1.0v1.0h-1.0zM196.5 104h1.0v1.0h-1.0zM196.5 121.5h1.0v1.0h-1.0zM196.5 126h1.0v1.0h-1.0zM197 102.5h1.0v1.0h-1.0zM197 114h1.0v1.0h-1.0zM197 125.5h1.0v1.0h-1.0zM197 127h1.0v1.0h-1.0zM197 135h1.0v1.0h-1.0zM197.5 101.5h1.0v1.0h-1.0zM197.5 103h1.0v1.0h-1.0zM197.5 128h1.0v1.0h-1.0zM198 97.5h1.0v1.0h-1.0zM198 105.5h1.0v1.0h-1.0zM198 114h1.0v1.0h-1.0zM198 123h1.0v1.0h-1.0zM198 125h1.0v1.0h-1.0zM198 129.5h1.0v1.0h-1.0zM198.5 116.5h1.0v1.0h-1.0zM198.5 118h1.0v1.0h-1.0zM198.5 119.5h1.0v1.0h-1.0zM198.5 122h1.0v1.0h-1.0zM198.5 124.5h1.0v1.0h-1.0zM198.5 127h1.0v1.0h-1.0zM198.5 128h1.0v1.0h-1.0zM198.5 134h1.0v1.0h-1.0zM199 100h1.0v1.0h-1.0zM199 108.5h1.0v1.0h-1.0zM199 113h1.0v1.0h-1.0zM199 126h1.0v1.0h-1.0zM199.5 97.5h1.0v1.0h-1.0zM199.5 117.5h1.0v1.0h-1.0zM199.5 125h1.0v1.0h-1.0zM199.5 127h1.0v1.0h-1.0zM199.5 129.5h1.0v1.0h-1.0zM199.5 130h1.0v1.0h-1.0zM199.5 139h1.0v1.0h-1.0zM199.5 143.5h1.0v1.0h-1.0zM200 109.5h1.0v1.0h-1.0zM200 116.5h1.0v1.0h-1.0zM200 122.5h1.0v1.0h-1.0zM200.5 122h1.0v1.0h-1.0zM200.5 130h1.0v1.0h-1.0zM200.5 135h1.0v1.0h-1.0zM200.5 140.5h1.0v1.0h-1.0zM201 92.5h1.0v1.0h-1.0zM201 104h1.0v1.0h-1.0zM201 107h1.0v1.0h-1.0zM201 110h1.0v1.0h-1.0zM201 110.5h1.0v1.0h-1.0zM201 116.5h1.0v1.0h-1.0zM201 123.5h1.0v1.0h-1.0zM201 126.5h1.0v1.0h-1.0zM201 131h1.0v1.0h-1.0zM201.5 111.5h1.0v1.0h-1.0zM201.5 113h1.0v1.0h-1.0zM201.5 115.5h1.0v1.0h-1.0zM201.5 123.5h1.0v1.0h-1.0zM201.5 126.5h1.0v1.0h-1.0zM201.5 139h1.0v1.0h-1.0zM202 105h1.0v1.0h-1.0zM202 106h1.0v1.0h-1.0zM202 110h1.0v1.0h-1.0zM202 112h1.0v1.0h-1.0zM202 113h1.0v1.0h-1.0zM202 113.5h1.0v1.0h-1.0zM202 115h1.0v1.0h-1.0zM202 122h1.0v1.0h-1.0zM202 131.5h1.0v1.0h-1.0zM202 133h1.0v1.0h-1.0zM202.5 109.5h1.0v1.0h-1.0zM202.5 118h1.0v1.0h-1.0zM202.5 121h1.0v1.0h-1.0zM202.5 122.5h1.0v1.0h-1.0zM202.5 140h1.0v1.0h-1.0zM203 93h1.0v1.0h-1.0zM203 99.5h1.0v1.0h-1.0zM203 104h1.0v1.0h-1.0zM203 105h1.0v1.0h-1.0zM203 113.5h1.0v1.0h-1.0zM203 130h1.0v1.0h-1.0zM203 136h1.0v1.0h-1.0zM203.5 97.5h1.0v1.0h-1.0zM203.5 98.5h1.0v1.0h-1.0zM203.5 110h1.0v1.0h-1.0zM203.5 122.5h1.0v1.0h-1.0zM203.5 124.5h1.0v1.0h-1.0zM203.5 125h1.0v1.0h-1.0zM204 87.5h1.0v1.0h-1.0zM204 96h1.0v1.0h-1.0zM204 106.5h1.0v1.0h-1.0zM204 121h1.0v1.0h-1.0zM204 123.5h1.0v1.0h-1.0zM204 125h1.0v1.0h-1.0zM204 126h1.0v1.0h-1.0zM204 138h1.0v1.0h-1.0zM204.5 102h1.0v1.0h-1.0zM204.5 110.5h1.0v1.0h-1.0zM204.5 117.5h1.0v1.0h-1.0zM204.5 119h1.0v1.0h-1.0zM204.5 121.5h1.0v1.0h-1.0zM205 107h1.0v1.0h-1.0zM205 120h1.0v1.0h-1.0zM205 121h1.0v1.0h-1.0zM205 121.5h1.0v1.0h-1.0zM205 122.5h1.0v1.0h-1.0zM205 123.5h1.0v1.0h-1.0zM205 125.5h1.0v1.0h-1.0zM205 128.5h1.0v1.0h-1.0zM205.5 98.5h1.0v1.0h-1.0zM205.5 104h1.0v1.0h-1.0zM205.5 106h1.0v1.0h-1.0zM205.5 108.5h1.0v1.0h-1.0zM205.5 114h1.0v1.0h-1.0zM205.5 116h1.0v1.0h-1.0zM205.5 118h1.0v1.0h-1.0zM205.5 122h1.0v1.0h-1.0zM205.5 123.5h1.0v1.0h-1.0zM205.5 126.5h1.0v1.0h-1.0zM206 104h1.0v1.0h-1.0zM206 105h1.0v1.0h-1.0zM206 118h1.0v1.0h-1.0zM206 120.5h1.0v1.0h-1.0zM206 123.5h1.0v1.0h-1.0zM206 128.5h1.0v1.0h-1.0zM206.5 112h1.0v1.0h-1.0zM206.5 123.5h1.0v1.0h-1.0zM206.5 128h1.0v1.0h-1.0zM206.5 144.5h1.0v1.0h-1.0zM207 108h1.0v1.0h-1.0zM207 110.5h1.0v1.0h-1.0zM207 112h1.0v1.0h-1.0zM207 113h1.0v1.0h-1.0zM207 115.5h1.0v1.0h-1.0zM207 116.5h1.0v1.0h-1.0zM207 118h1.0v1.0h-1.0zM207 121.5h1.0v1.0h-1.0zM207 124.5h1.0v1.0h-1.0zM207 126.5h1.0v1.0h-1.0zM207 127.5h1.0v1.0h-1.0zM207.5 93.5h1.0v1.0h-1.0zM207.5 97h1.0v1.0h-1.0zM207.5 107h1.0v1.0h-1.0zM207.5 109h1.0v1.0h-1.0zM207.5 110.5h1.0v1.0h-1.0zM207.5 124.5h1.0v1.0h-1.0zM208 101.5h1.0v1.0h-1.0zM208 103h1.0v1.0h-1.0zM208 108h1.0v1.0h-1.0zM208 112h1.0v1.0h-1.0zM208 118h1.0v1.0h-1.0zM208 122h1.0v1.0h-1.0zM208 124h1.0v1.0h-1.0zM208 126h1.0v1.0h-1.0zM208 127.5h1.0v1.0h-1.0zM208 141h1.0v1.0h-1.0zM208.5 108.5h1.0v1.0h-1.0zM208.5 117.5h1.0v1.0h-1.0zM208.5 118h1.0v1.0h-1.0zM208.5 118.5h1.0v1.0h-1.0zM208.5 122.5h1.0v1.0h-1.0zM208.5 123.5h1.0v1.0h-1.0zM208.5 124h1.0v1.0h-1.0zM208.5 124.5h1.0v1.0h-1.0zM208.5 125.5h1.0v1.0h-1.0zM208.5 128.5h1.0v1.0h-1.0zM208.5 146.5h1.0v1.0h-1.0zM209 95.5h1.0v1.0h-1.0zM209 112.5h1.0v1.0h-1.0zM209 117h1.0v1.0h-1.0zM209 117.5h1.0v1.0h-1.0zM209 119.5h1.0v1.0h-1.0zM209 120.5h1.0v1.0h-1.0zM209 122.5h1.0v1.0h-1.0zM209 125h1.0v1.0h-1.0zM209 126h1.0v1.0h-1.0zM209 126.5h1.0v1.0h-1.0zM209 128h1.0v1.0h-1.0zM209 140h1.0v1.0h-1.0zM209 144.5h1.0v1.0h-1.0zM209.5 116.5h1.0v1.0h-1.0zM209.5 117.5h1.0v1.0h-1.0zM209.5 118h1.0v1.0h-1.0zM209.5 120.5h1.0v1.0h-1.0zM209.5 122.5h1.0v1.0h-1.0zM209.5 123h1.0v1.0h-1.0zM209.5 125h1.0v1.0h-1.0zM210 117.5h1.0v1.0h-1.0zM210 120h1.0v1.0h-1.0zM210 121h1.0v1.0h-1.0zM210 122h1.0v1.0h-1.0zM210 123h1.0v1.0h-1.0zM210 123.5h1.0v1.0h-1.0zM210 147h1.0v1.0h-1.0zM210.5 106h1.0v1.0h-1.0zM210.5 114.5h1.0v1.0h-1.0zM210.5 119h1.0v1.0h-1.0zM210.5 119.5h1.0v1.0h-1.0zM210.5 120.5h1.0v1.0h-1.0zM210.5 121h1.0v1.0h-1.0zM210.5 122.5h1.0v1.0h-1.0zM210.5 123h1.0v1.0h-1.0zM211 112h1.0v1.0h-1.0zM211 115h1.0v1.0h-1.0zM211 117.5h1.0v1.0h-1.0zM211 118h1.0v1.0h-1.0zM211 119.5h1.0v1.0h-1.0zM211 121h1.0v1.0h-1.0zM211 122h1.0v1.0h-1.0zM211 123.5h1.0v1.0h-1.0zM211 124.5h1.0v1.0h-1.0zM211 126h1.0v1.0h-1.0zM211 127h1.0v1.0h-1.0zM211 145h1.0v1.0h-1.0zM211.5 109h1.0v1.0h-1.0zM211.5 113.5h1.0v1.0h-1.0zM211.5 114.5h1.0v1.0h-1.0zM211.5 116h1.0v1.0h-1.0zM211.5 118.5h1.0v1.0h-1.0zM211.5 119.5h1.0v1.0h-1.0zM211.5 120h1.0v1.0h-1.0zM211.5 121h1.0v1.0h-1.0zM211.5 124h1.0v1.0h-1.0zM211.5 126h1.0v1.0h-1.0zM211.5 129h1.0v1.0h-1.0zM212 105h1.0v1.0h-1.0zM212 106h1.0v1.0h-1.0zM212 113.5h1.0v1.0h-1.0zM212 114h1.0v1.0h-1.0zM212 115h1.0v1.0h-1.0zM212 115.5h1.0v1.0h-1.0zM212 116.5h1.0v1.0h-1.0zM212 117h1.0v1.0h-1.0zM212 119h1.0v1.0h-1.0zM212 121h1.0v1.0h-1.0zM212 122h1.0v1.0h-1.0zM212 122.5h1.0v1.0h-1.0zM212 127.5h1.0v1.0h-1.0zM212 130h1.0v1.0h-1.0zM212.5 109.5h1.0v1.0h-1.0zM212.5 117.5h1.0v1.0h-1.0zM212.5 120.5h1.0v1.0h-1.0zM212.5 121h1.0v1.0h-1.0zM212.5 122h1.0v1.0h-1.0zM212.5 123h1.0v1.0h-1.0zM212.5 123.5h1.0v1.0h-1.0zM212.5 124h1.0v1.0h-1.0zM212.5 124.5h1.0v1.0h-1.0zM212.5 128h1.0v1.0h-1.0zM213 106h1.0v1.0h-1.0zM213 109.5h1.0v1.0h-1.0zM213 116h1.0v1.0h-1.0zM213 117h1.0v1.0h-1.0zM213 118.5h1.0v1.0h-1.0zM213 119.5h1.0v1.0h-1.0zM213 120.5h1.0v1.0h-1.0zM213 121h1.0v1.0h-1.0zM213 121.5h1.0v1.0h-1.0zM213 122.5h1.0v1.0h-1.0zM213 124.5h1.0v1.0h-1.0zM213 127h1.0v1.0h-1.0zM213.5 109.5h1.0v1.0h-1.0zM213.5 110h1.0v1.0h-1.0zM213.5 112.5h1.0v1.0h-1.0zM213.5 122h1.0v1.0h-1.0zM213.5 122.5h1.0v1.0h-1.0zM213.5 123h1.0v1.0h-1.0zM213.5 123.5h1.0v1.0h-1.0zM213.5 124h1.0v1.0h-1.0zM213.5 125h1.0v1.0h-1.0zM213.5 126.5h1.0v1.0h-1.0zM214 108h1.0v1.0h-1.0zM214 115.5h1.0v1.0h-1.0zM214 117h1.0v1.0h-1.0zM214 118.5h1.0v1.0h-1.0zM214 120h1.0v1.0h-1.0zM214 121h1.0v1.0h-1.0zM214 122.5h1.0v1.0h-1.0zM214 125h1.0v1.0h-1.0zM214 126h1.0v1.0h-1.0zM214 127h1.0v1.0h-1.0zM214.5 111h1.0v1.0h-1.0zM214.5 119.5h1.0v1.0h-1.0zM214.5 120.5h1.0v1.0h-1.0zM214.5 121h1.0v1.0h-1.0zM214.5 123h1.0v1.0h-1.0zM214.5 123.5h1.0v1.0h-1.0zM214.5 124h1.0v1.0h-1.0zM214.5 124.5h1.0v1.0h-1.0zM214.5 127.5h1.0v1.0h-1.0zM214.5 129.5h1.0v1.0h-1.0zM215 113h1.0v1.0h-1.0zM215 118.5h1.0v1.0h-1.0zM215 120.5h1.0v1.0h-1.0zM215 121.5h1.0v1.0h-1.0zM215 123h1.0v1.0h-1.0zM215 123.5h1.0v1.0h-1.0zM215 127h1.0v1.0h-1.0zM215 129.5h1.0v1.0h-1.0zM215.5 114h1.0v1.0h-1.0zM215.5 118h1.0v1.0h-1.0zM215.5 120.5h1.0v1.0h-1.0zM215.5 121h1.0v1.0h-1.0zM215.5 122h1.0v1.0h-1.0zM215.5 122.5h1.0v1.0h-1.0zM215.5 124.5h1.0v1.0h-1.0zM215.5 126.5h1.0v1.0h-1.0zM216 95h1.0v1.0h-1.0zM216 107h1.0v1.0h-1.0zM216 108h1.0v1.0h-1.0zM216 117.5h1.0v1.0h-1.0zM216 118.5h1.0v1.0h-1.0zM216 122.5h1.0v1.0h-1.0zM216 127h1.0v1.0h-1.0zM216 129.5h1.0v1.0h-1.0zM216.5 116h1.0v1.0h-1.0zM216.5 117.5h1.0v1.0h-1.0zM216.5 119h1.0v1.0h-1.0zM216.5 119.5h1.0v1.0h-1.0zM216.5 121h1.0v1.0h-1.0zM216.5 121.5h1.0v1.0h-1.0zM216.5 122h1.0v1.0h-1.0zM216.5 123h1.0v1.0h-1.0zM216.5 128.5h1.0v1.0h-1.0zM216.5 129.5h1.0v1.0h-1.0zM217 113.5h1.0v1.0h-1.0zM217 117.5h1.0v1.0h-1.0zM217 118h1.0v1.0h-1.0zM217 119h1.0v1.0h-1.0zM217 121.5h1.0v1.0h-1.0zM217 122.5h1.0v1.0h-1.0zM217 123.5h1.0v1.0h-1.0zM217 124h1.0v1.0h-1.0zM217 127h1.0v1.0h-1.0zM217 128.5h1.0v1.0h-1.0zM217 129h1.0v1.0h-1.0zM217.5 110h1.0v1.0h-1.0zM217.5 115h1.0v1.0h-1.0zM217.5 117.5h1.0v1.0h-1.0zM217.5 118h1.0v1.0h-1.0zM217.5 121.5h1.0v1.0h-1.0zM217.5 123h1.0v1.0h-1.0zM217.5 125.5h1.0v1.0h-1.0zM217.5 126h1.0v1.0h-1.0zM218 107.5h1.0v1.0h-1.0zM218 118.5h1.0v1.0h-1.0zM218 121h1.0v1.0h-1.0zM218 122h1.0v1.0h-1.0zM218 123.5h1.0v1.0h-1.0zM218 125h1.0v1.0h-1.0zM218 127h1.0v1.0h-1.0zM218 128h1.0v1.0h-1.0zM218.5 107.5h1.0v1.0h-1.0zM218.5 108h1.0v1.0h-1.0zM218.5 117h1.0v1.0h-1.0zM218.5 121h1.0v1.0h-1.0zM218.5 121.5h1.0v1.0h-1.0zM218.5 124h1.0v1.0h-1.0zM218.5 127h1.0v1.0h-1.0zM219 104.5h1.0v1.0h-1.0zM219 124h1.0v1.0h-1.0zM219 126.5h1.0v1.0h-1.0zM219.5 109h1.0v1.0h-1.0zM219.5 114.5h1.0v1.0h-1.0zM219.5 116h1.0v1.0h-1.0zM219.5 118.5h1.0v1.0h-1.0zM219.5 119.5h1.0v1.0h-1.0zM219.5 120h1.0v1.0h-1.0zM219.5 121.5h1.0v1.0h-1.0zM219.5 122h1.0v1.0h-1.0zM219.5 125.5h1.0v1.0h-1.0zM219.5 127h1.0v1.0h-1.0zM219.5 143.5h1.0v1.0h-1.0zM220 109h1.0v1.0h-1.0zM220 112.5h1.0v1.0h-1.0zM220 118.5h1.0v1.0h-1.0zM220 123.5h1.0v1.0h-1.0zM220 125h1.0v1.0h-1.0zM220 127.5h1.0v1.0h-1.0zM220 128h1.0v1.0h-1.0zM220.5 106h1.0v1.0h-1.0zM220.5 116.5h1.0v1.0h-1.0zM220.5 121.5h1.0v1.0h-1.0zM220.5 126h1.0v1.0h-1.0zM220.5 127.5h1.0v1.0h-1.0zM220.5 128.5h1.0v1.0h-1.0zM220.5 131.5h1.0v1.0h-1.0zM221 90h1.0v1.0h-1.0zM221 109h1.0v1.0h-1.0zM221 113h1.0v1.0h-1.0zM221 113.5h1.0v1.0h-1.0zM221 115h1.0v1.0h-1.0zM221 119.5h1.0v1.0h-1.0zM221 121h1.0v1.0h-1.0zM221 123.5h1.0v1.0h-1.0zM221.5 121h1.0v1.0h-1.0zM221.5 127h1.0v1.0h-1.0zM221.5 139.5h1.0v1.0h-1.0zM222 115.5h1.0v1.0h-1.0zM222 118h1.0v1.0h-1.0zM222 121h1.0v1.0h-1.0zM222 122h1.0v1.0h-1.0zM222 125h1.0v1.0h-1.0zM222 125.5h1.0v1.0h-1.0zM222 126.5h1.0v1.0h-1.0zM222 130h1.0v1.0h-1.0zM222.5 117h1.0v1.0h-1.0zM222.5 121.5h1.0v1.0h-1.0zM223 117h1.0v1.0h-1.0zM223 120.5h1.0v1.0h-1.0zM223 131h1.0v1.0h-1.0zM223.5 120.5h1.0v1.0h-1.0zM224 122h1.0v1.0h-1.0zM225.5 119h1.0v1.0h-1.0zM226.5 97h1.0v1.0h-1.0zM226.5 107h1.0v1.0h-1.0zM226.5 122.5h1.0v1.0h-1.0zM229.5 102.5h1.0v1.0h-1.0z" fill="#000" fill-opacity="0.64"/>
<path d="M149 126.5h1.0v1.0h-1.0zM152 116.5h1.0v1.0h-1.0zM153 115.5h1.0v1.0h-1.0zM155 137.5h1.0v1.0h-1.0zM156 126.5h1.0v1.0h-1.0zM157 114.5h1.0v1.0h-1.0zM157 116.5h1.0v1.0h-1.0zM157 128h1.0v1.0h-1.0zM157.5 112h1.0v1.0h-1.0zM157.5 119h1.0v1.0h-1.0zM158 115.5h1.0v1.0h-1.0zM158 118.5h1.0v1.0h-1.0zM158 119.5h1.0v1.0h-1.0zM158 120h1.0v1.0h-1.0zM158.5 124.5h1.0v1.0h-1.0zM158.5 125h1.0v1.0h-1.0zM159 126h1.0v1.0h-1.0zM159.5 119.5h1.0v1.0h-1.0zM159.5 124h1.0v1.0h-1.0zM160 140.5h1.0v1.0h-1.0zM160.5 113.5h1.0v1.0h-1.0zM160.5 119.5h1.0v1.0h-1.0zM160.5 125h1.0v1.0h-1.0zM161 122h1.0v1.0h-1.0zM161 144.5h1.0v1.0h-1.0zM161.5 119h1.0v1.0h-1.0zM161.5 119.5h1.0v1.0h-1.0zM161.5 121h1.0v1.0h-1.0zM161.5 125.5h1.0v1.0h-1.0zM161.5 134h1.0v1.0h-1.0zM162 116.5h1.0v1.0h-1.0zM162 118h1.0v1.0h-1.0zM162 119h1.0v1.0h-1.0zM162.5 117.5h1.0v1.0h-1.0zM162.5 127h1.0v1.0h-1.0zM162.5 127.5h1.0v1.0h-1.0zM163 114h1.0v1.0h-1.0zM163 115.5h1.0v1.0h-1.0zM163 119h1.0v1.0h-1.0zM163 121.5h1.0v1.0h-1.0zM163 126h1.0v1.0h-1.0zM163 127.5h1.0v1.0h-1.0zM163 132h1.0v1.0h-1.0zM163.5 116.5h1.0v1.0h-1.0zM164 126h1.0v1.0h-1.0zM164.5 114.5h1.0v1.0h-1.0zM164.5 115.5h1.0v1.0h-1.0zM164.5 116.5h1.0v1.0h-1.0zM164.5 118h1.0v1.0h-1.0zM164.5 119.5h1.0v1.0h-1.0zM164.5 120h1.0v1.0h-1.0zM164.5 122h1.0v1.0h-1.0zM164.5 129.5h1.0v1.0h-1.0zM164.5 143.5h1.0v1.0h-1.0zM165 111.5h1.0v1.0h-1.0zM165 117.5h1.0v1.0h-1.0zM165 118.5h1.0v1.0h-1.0zM165 120.5h1.0v1.0h-1.0zM165 123h1.0v1.0h-1.0zM165 128h1.0v1.0h-1.0zM165 135h1.0v1.0h-1.0zM165 140.5h1.0v1.0h-1.0zM165.5 118h1.0v1.0h-1.0zM165.5 120.5h1.0v1.0h-1.0zM165.5 123h1.0v1.0h-1.0zM165.5 123.5h1.0v1.0h-1.0zM165.5 124.5h1.0v1.0h-1.0zM165.5 129.5h1.0v1.0h-1.0zM166 111.5h1.0v1.0h-1.0zM166 114h1.0v1.0h-1.0zM166 116h1.0v1.0h-1.0zM166 116.5h1.0v1.0h-1.0zM166 120.5h1.0v1.0h-1.0zM166 121.5h1.0v1.0h-1.0zM166 123h1.0v1.0h-1.0zM166 124h1.0v1.0h-1.0zM166 126h1.0v1.0h-1.0zM166 136.5h1.0v1.0h-1.0zM166 140h1.0v1.0h-1.0zM166 148.5h1.0v1.0h-1.0zM166.5 111.5h1.0v1.0h-1.0zM166.5 116h1.0v1.0h-1.0zM166.5 117h1.0v1.0h-1.0zM166.5 118h1.0v1.0h-1.0zM166.5 121h1.0v1.0h-1.0zM166.5 123h1.0v1.0h-1.0zM166.5 124h1.0v1.0h-1.0zM166.5 124.5h1.0v1.0h-1.0zM166.5 125h1.0v1.0h-1.0zM166.5 130h1.0v1.0h-1.0zM166.5 130.5h1.0v1.0h-1.0zM166.5 132.5h1.0v1.0h-1.0zM167 116.5h1.0v1.0h-1.0zM167 120h1.0v1.0h-1.0zM167 121h1.0v1.0h-1.0zM167 123h1.0v1.0h-1.0zM167 124.5h1.0v1.0h-1.0zM167 125.5h1.0v1.0h-1.0zM167 127h1.0v1.0h-1.0zM167 128h1.0v1.0h-1.0zM167 130h1.0v1.0h-1.0zM167 141.5h1.0v1.0h-1.0zM167 144h1.0v1.0h-1.0zM167.5 108.5h1.0v1.0h-1.0zM167.5 112.5h1.0v1.0h-1.0zM167.5 119h1.0v1.0h-1.0zM167.5 119.5h1.0v1.0h-1.0zM167.5 120h1.0v1.0h-1.0zM167.5 121.5h1.0v1.0h-1.0zM167.5 122.5h1.0v1.0h-1.0zM167.5 123.5h1.0v1.0h-1.0zM167.5 124.5h1.0v1.0h-1.0zM167.5 130.5h1.0v1.0h-1.0zM168 118.5h1.0v1.0h-1.0zM168 120.5h1.0v1.0h-1.0zM168 122h1.0v1.0h-1.0zM168 122.5h1.0v1.0h-1.0zM168 123h1.0v1.0h-1.0zM168 126h1.0v1.0h-1.0zM168 128h1.0v1.0h-1.0zM168 128.5h1.0v1.0h-1.0zM168 129.5h1.0v1.0h-1.0zM168 130.5h1.0v1.0h-1.0zM168 131h1.0v1.0h-1.0zM168 134h1.0v1.0h-1.0zM168 135h1.0v1.0h-1.0zM168 141h1.0v1.0h-1.0zM168.5 118h1.0v1.0h-1.0zM168.5 118.5h1.0v1.0h-1.0zM168.5 120.5h1.0v1.0h-1.0zM168.5 121h1.0v1.0h-1.0zM168.5 122.5h1.0v1.0h-1.0zM168.5 123h1.0v1.0h-1.0zM168.5 124h1.0v1.0h-1.0zM168.5 124.5h1.0v1.0h-1.0zM168.5 126.5h1.0v1.0h-1.0zM168.5 134h1.0v1.0h-1.0zM168.5 136.5h1.0v1.0h-1.0zM169 114h1.0v1.0h-1.0zM169 117h1.0v1.0h-1.0zM169 118.5h1.0v1.0h-1.0zM169 119h1.0v1.0h-1.0zM169 120h1.0v1.0h-1.0zM169 120.5h1.0v1.0h-1.0zM169 121h1.0v1.0h-1.0zM169 122h1.0v1.0h-1.0zM169 125h1.0v1.0h-1.0zM169 127.5h1.0v1.0h-1.0zM169 131h1.0v1.0h-1.0zM169 135.5h1.0v1.0h-1.0zM169 140.5h1.0v1.0h-1.0zM169.5 113.5h1.0v1.0h-1.0zM169.5 119h1.0v1.0h-1.0zM169.5 122.5h1.0v1.0h-1.0zM169.5 125h1.0v1.0h-1.0zM169.5 127h1.0v1.0h-1.0zM169.5 127.5h1.0v1.0h-1.0zM169.5 128.5h1.0v1.0h-1.0zM169.5 131h1.0v1.0h-1.0zM169.5 149.5h1.0v1.0h-1.0zM170 113.5h1.0v1.0h-1.0zM170 117h1.0v1.0h-1.0zM170 118h1.0v1.0h-1.0zM170 119.5h1.0v1.0h-1.0zM170 120.5h1.0v1.0h-1.0zM170 124h1.0v1.0h-1.0zM170 125h1.0v1.0h-1.0zM170 127.5h1.0v1.0h-1.0zM170 129h1.0v1.0h-1.0zM170 131.5h1.0v1.0h-1.0zM170 137.5h1.0v1.0h-1.0zM170 141h1.0v1.0h-1.0zM170.5 114.5h1.0v1.0h-1.0zM170.5 117.5h1.0v1.0h-1.0zM170.5 118h1.0v1.0h-1.0zM170.5 118.5h1.0v1.0h-1.0zM170.5 119h1.0v1.0h-1.0zM170.5 120h1.0v1.0h-1.0zM170.5 121.5h1.0v1.0h-1.0zM170.5 122h1.0v1.0h-1.0zM170.5 126h1.0v1.0h-1.0zM170.5 126.5h1.0v1.0h-1.0zM170.5 129h1.0v1.0h-1.0zM170.5 131h1.0v1.0h-1.0zM170.5 133.5h1.0v1.0h-1.0zM170.5 136h1.0v1.0h-1.0zM170.5 140h1.0v1.0h-1.0zM170.5 144h1.0v1.0h-1.0zM170.5 144.5h1.0v1.0h-1.0zM171 112h1.0v1.0h-1.0zM171 115h1.0v1.0h-1.0zM171 117.5h1.0v1.0h-1.0zM171 118h1.0v1.0h-1.0zM171 118.5h1.0v1.0h-1.0zM171 123h1.0v1.0h-1.0zM171 123.5h1.0v1.0h-1.0zM171 126h1.0v1.0h-1.0zM171 128h1.0v1.0h-1.0zM171 128.5h1.0v1.0h-1.0zM171 129h1.0v1.0h-1.0zM171 132.5h1.0v1.0h-1.0zM171 134h1.0v1.0h-1.0zM171 134.5h1.0v1.0h-1.0zM171 137.5h1.0v1.0h-1.0zM171 142.5h1.0v1.0h-1.0zM171.5 108.5h1.0v1.0h-1.0zM171.5 117h1.0v1.0h-1.0zM171.5 118.5h1.0v1.0h-1.0zM171.5 120.5h1.0v1.0h-1.0zM171.5 121h1.0v1.0h-1.0zM171.5 122h1.0v1.0h-1.0zM171.5 122.5h1.0v1.0h-1.0zM171.5 123h1.0v1.0h-1.0zM171.5 123.5h1.0v1.0h-1.0zM171.5 124.5h1.0v1.0h-1.0zM171.5 126.5h1.0v1.0h-1.0zM171.5 128h1.0v1.0h-1.0zM171.5 130.5h1.0v1.0h-1.0zM171.5 144.5h1.0v1.0h-1.0zM172 115.5h1.0v1.0h-1.0zM172 117.5h1.0v1.0h-1.0zM172 119h1.0v1.0h-1.0zM172 121h1.0v1.0h-1.0zM172 122h1.0v1.0h-1.0zM172 124h1.0v1.0h-1.0zM172 127h1.0v1.0h-1.0zM172 128h1.0v1.0h-1.0zM172 128.5h1.0v1.0h-1.0zM172 135.5h1.0v1.0h-1.0zM172.5 114h1.0v1.0h-1.0zM172.5 114.5h1.0v1.0h-1.0zM172.5 115.5h1.0v1.0h-1.0zM172.5 117.5h1.0v1.0h-1.0zM172.5 122h1.0v1.0h-1.0zM172.5 126.5h1.0v1.0h-1.0zM172.5 129h1.0v1.0h-1.0zM172.5 129.5h1.0v1.0h-1.0zM172.5 130h1.0v1.0h-1.0zM172.5 132.5h1.0v1.0h-1.0zM172.5 133h1.0v1.0h-1.0zM172.5 133.5h1.0v1.0h-1.0zM172.5 141h1.0v1.0h-1.0zM172.5 144h1.0v1.0h-1.0zM173 114h1.0v1.0h-1.0zM173 117.5h1.0v1.0h-1.0zM173 120.5h1.0v1.0h-1.0zM173 121h1.0v1.0h-1.0zM173 123.5h1.0v1.0h-1.0zM173 126h1.0v1.0h-1.0zM173 127h1.0v1.0h-1.0zM173 128h1.0v1.0h-1.0zM173 131.5h1.0v1.0h-1.0zM173 133.5h1.0v1.0h-1.0zM173 139.5h1.0v1.0h-1.0zM173 140h1.0v1.0h-1.0zM173 145.5h1.0v1.0h-1.0zM173.5 115h1.0v1.0h-1.0zM173.5 117h1.0v1.0h-1.0zM173.5 119h1.0v1.0h-1.0zM173.5 123h1.0v1.0h-1.0zM173.5 124.5h1.0v1.0h-1.0zM173.5 126h1.0v1.0h-1.0zM173.5 127.5h1.0v1.0h-1.0zM173.5 129.5h1.0v1.0h-1.0zM174 115h1.0v1.0h-1.0zM174 116h1.0v1.0h-1.0zM174 119h1.0v1.0h-1.0zM174 122.5h1.0v1.0h-1.0zM174 123.5h1.0v1.0h-1.0zM174 128h1.0v1.0h-1.0zM174.5 115.5h1.0v1.0h-1.0zM174.5 116h1.0v1.0h-1.0zM174.5 117.5h1.0v1.0h-1.0zM174.5 118h1.0v1.0h-1.0zM174.5 119h1.0v1.0h-1.0zM174.5 119.5h1.0v1.0h-1.0zM174.5 120h1.0v1.0h-1.0zM174.5 120.5h1.0v1.0h-1.0zM174.5 121h1.0v1.0h-1.0zM174.5 122.5h1.0v1.0h-1.0zM174.5 125h1.0v1.0h-1.0zM174.5 126.5h1.0v1.0h-1.0zM174.5 132h1.0v1.0h-1.0zM174.5 134.5h1.0v1.0h-1.0zM174.5 143h1.0v1.0h-1.0zM175 115.5h1.0v1.0h-1.0zM175 116.5h1.0v1.0h-1.0zM175 117.5h1.0v1.0h-1.0zM175 118h1.0v1.0h-1.0zM175 118.5h1.0v1.0h-1.0zM175 119h1.0v1.0h-1.0zM175 119.5h1.0v1.0h-1.0zM175 121h1.0v1.0h-1.0zM175 123h1.0v1.0h-1.0zM175 124.5h1.0v1.0h-1.0zM175 125h1.0v1.0h-1.0zM175 129.5h1.0v1.0h-1.0zM175 130h1.0v1.0h-1.0zM175.5 114h1.0v1.0h-1.0zM175.5 115.5h1.0v1.0h-1.0zM175.5 117h1.0v1.0h-1.0zM175.5 120.5h1.0v1.0h-1.0zM175.5 121.5h1.0v1.0h-1.0zM175.5 122h1.0v1.0h-1.0zM175.5 122.5h1.0v1.0h-1.0zM175.5 123h1.0v1.0h-1.0zM175.5 124h1.0v1.0h-1.0zM175.5 124.5h1.0v1.0h-1.0zM175.5 126.5h1.0v1.0h-1.0zM175.5 128h1.0v1.0h-1.0zM175.5 128.5h1.0v1.0h-1.0zM175.5 131h1.0v1.0h-1.0zM175.5 136.5h1.0v1.0h-1.0zM176 114h1.0v1.0h-1.0zM176 114.5h1.0v1.0h-1.0zM176 115h1.0v1.0h-1.0zM176 118.5h1.0v1.0h-1.0zM176 119.5h1.0v1.0h-1.0zM176 122h1.0v1.0h-1.0zM176 122.5h1.0v1.0h-1.0zM176 123h1.0v1.0h-1.0zM176 124.5h1.0v1.0h-1.0zM176 128.5h1.0v1.0h-1.0zM176 130h1.0v1.0h-1.0zM176 130.5h1.0v1.0h-1.0zM176 133.5h1.0v1.0h-1.0zM176 139.5h1.0v1.0h-1.0zM176.5 112.5h1.0v1.0h-1.0zM176.5 117h1.0v1.0h-1.0zM176.5 118.5h1.0v1.0h-1.0zM176.5 122h1.0v1.0h-1.0zM176.5 123.5h1.0v1.0h-1.0zM176.5 124h1.0v1.0h-1.0zM176.5 128h1.0v1.0h-1.0zM176.5 130h1.0v1.0h-1.0zM176.5 133.5h1.0v1.0h-1.0zM177 114.5h1.0v1.0h-1.0zM177 117.5h1.0v1.0h-1.0zM177 118h1.0v1.0h-1.0zM177 119h1.0v1.0h-1.0zM177 120h1.0v1.0h-1.0zM177 120.5h1.0v1.0h-1.0zM177 121h1.0v1.0h-1.0zM177 122h1.0v1.0h-1.0zM177 122.5h1.0v1.0h-1.0zM177 124h1.0v1.0h-1.0zM177 128h1.0v1.0h-1.0zM177 128.5h1.0v1.0h-1.0zM177 130h1.0v1.0h-1.0zM177 131.5h1.0v1.0h-1.0zM177 134.5h1.0v1.0h-1.0zM177 137.5h1.0v1.0h-1.0zM177 140.5h1.0v1.0h-1.0zM177.5 114h1.0v1.0h-1.0zM177.5 116.5h1.0v1.0h-1.0zM177.5 117h1.0v1.0h-1.0zM177.5 117.5h1.0v1.0h-1.0zM177.5 118h1.0v1.0h-1.0zM177.5 120.5h1.0v1.0h-1.0zM177.5 121.5h1.0v1.0h-1.0zM177.5 122h1.0v1.0h-1.0zM177.5 122.5h1.0v1.0h-1.0zM177.5 123.5h1.0v1.0h-1.0zM177.5 124.5h1.0v1.0h-1.0zM177.5 127h1.0v1.0h-1.0zM177.5 127.5h1.0v1.0h-1.0zM177.5 128h1.0v1.0h-1.0zM177.5 139.5h1.0v1.0h-1.0zM178 115h1.0v1.0h-1.0zM178 118.5h1.0v1.0h-1.0zM178 120.5h1.0v1.0h-1.0zM178 121h1.0v1.0h-1.0zM178 122h1.0v1.0h-1.0zM178 122.5h1.0v1.0h-1.0zM178 125h1.0v1.0h-1.0zM178 126h1.0v1.0h-1.0zM178 127.5h1.0v1.0h-1.0zM178.5 117h1.0v1.0h-1.0zM178.5 118h1.0v1.0h-1.0zM178.5 119.5h1.0v1.0h-1.0zM178.5 121.5h1.0v1.0h-1.0zM178.5 122h1.0v1.0h-1.0zM178.5 122.5h1.0v1.0h-1.0zM178.5 123h1.0v1.0h-1.0zM178.5 123.5h1.0v1.0h-1.0zM178.5 125h1.0v1.0h-1.0zM178.5 125.5h1.0v1.0h-1.0zM178.5 127h1.0v1.0h-1.0zM178.5 130h1.0v1.0h-1.0zM178.5 132h1.0v1.0h-1.0zM179 118.5h1.0v1.0h-1.0zM179 121.5h1.0v1.0h-1.0zM179 122.5h1.0v1.0h-1.0zM179 125.5h1.0v1.0h-1.0zM179 127h1.0v1.0h-1.0zM179 127.5h1.0v1.0h-1.0zM179 129.5h1.0v1.0h-1.0zM179 130h1.0v1.0h-1.0zM179 132h1.0v1.0h-1.0zM179 134h1.0v1.0h-1.0zM179 134.5h1.0v1.0h-1.0zM179 146.5h1.0v1.0h-1.0zM179.5 115.5h1.0v1.0h-1.0zM179.5 117h1.0v1.0h-1.0zM179.5 118h1.0v1.0h-1.0zM179.5 118.5h1.0v1.0h-1.0zM179.5 119.5h1.0v1.0h-1.0zM179.5 121.5h1.0v1.0h-1.0zM179.5 122h1.0v1.0h-1.0zM179.5 125h1.0v1.0h-1.0zM179.5 128h1.0v1.0h-1.0zM179.5 129h1.0v1.0h-1.0zM179.5 130.5h1.0v1.0h-1.0zM179.5 133.5h1.0v1.0h-1.0zM179.5 134.5h1.0v1.0h-1.0zM179.5 135h1.0v1.0h-1.0zM179.5 137.5h1.0v1.0h-1.0zM179.5 141h1.0v1.0h-1.0zM180 116.5h1.0v1.0h-1.0zM180 117h1.0v1.0h-1.0zM180 118h1.0v1.0h-1.0zM180 122h1.0v1.0h-1.0zM180 123.5h1.0v1.0h-1.0zM180 125.5h1.0v1.0h-1.0zM180 126h1.0v1.0h-1.0zM180 127.5h1.0v1.0h-1.0zM180 130h1.0v1.0h-1.0zM180 140h1.0v1.0h-1.0zM180.5 113.5h1.0v1.0h-1.0zM180.5 117h1.0v1.0h-1.0zM180.5 117.5h1.0v1.0h-1.0zM180.5 119.5h1.0v1.0h-1.0zM180.5 120.5h1.0v1.0h-1.0zM180.5 121h1.0v1.0h-1.0zM180.5 122h1.0v1.0h-1.0zM180.5 122.5h1.0v1.0h-1.0zM180.5 123h1.0v1.0h-1.0zM180.5 125h1.0v1.0h-1.0zM180.5 127.5h1.0v1.0h-1.0zM180.5 128.5h1.0v1.0h-1.0zM180.5 131h1.0v1.0h-1.0zM180.5 131.5h1.0v1.0h-1.0zM180.5 145h1.0v1.0h-1.0zM181 115h1.0v1.0h-1.0zM181 118h1.0v1.0h-1.0zM181 120h1.0v1.0h-1.0zM181 120.5h1.0v1.0h-1.0zM181 121.5h1.0v1.0h-1.0zM181 122h1.0v1.0h-1.0zM181 122.5h1.0v1.0h-1.0zM181 123h1.0v1.0h-1.0zM181 128.5h1.0v1.0h-1.0zM181 146h1.0v1.0h-1.0zM181.5 111.5h1.0v1.0h-1.0zM181.5 113.5h1.0v1.0h-1.0zM181.5 114h1.0v1.0h-1.0zM181.5 121h1.0v1.0h-1.0zM181.5 121.5h1.0v1.0h-1.0zM181.5 122.5h1.0v1.0h-1.0zM181.5 123h1.0v1.0h-1.0zM181.5 124.5h1.0v1.0h-1.0zM181.5 125h1.0v1.0h-1.0zM181.5 125.5h1.0v1.0h-1.0zM181.5 127h1.0v1.0h-1.0zM181.5 132.5h1.0v1.0h-1.0zM181.5 137h1.0v1.0h-1.0zM182 117.5h1.0v1.0h-1.0zM182 118.5h1.0v1.0h-1.0zM182 119h1.0v1.0h-1.0zM182 122.5h1.0v1.0h-1.0zM182 123h1.0v1.0h-1.0zM182 124h1.0v1.0h-1.0zM182 124.5h1.0v1.0h-1.0zM182 135h1.0v1.0h-1.0zM182.5 115h1.0v1.0h-1.0zM182.5 116h1.0v1.0h-1.0zM182.5 119h1.0v1.0h-1.0zM182.5 120h1.0v1.0h-1.0zM182.5 121h1.0v1.0h-1.0zM182.5 121.5h1.0v1.0h-1.0zM182.5 124h1.0v1.0h-1.0zM182.5 124.5h1.0v1.0h-1.0zM182.5 136h1.0v1.0h-1.0zM182.5 138.5h1.0v1.0h-1.0zM183 112h1.0v1.0h-1.0zM183 113.5h1.0v1.0h-1.0zM183 116.5h1.0v1.0h-1.0zM183 117h1.0v1.0h-1.0zM183 120h1.0v1.0h-1.0zM183 121h1.0v1.0h-1.0zM183 122.5h1.0v1.0h-1.0zM183 123h1.0v1.0h-1.0zM183 123.5h1.0v1.0h-1.0zM183 125h1.0v1.0h-1.0zM183 125.5h1.0v1.0h-1.0zM183 129h1.0v1.0h-1.0zM183.5 118.5h1.0v1.0h-1.0zM183.5 122h1.0v1.0h-1.0zM183.5 127h1.0v1.0h-1.0zM183.5 128.5h1.0v1.0h-1.0zM183.5 129.5h1.0v1.0h-1.0zM184 115h1.0v1.0h-1.0zM184 116h1.0v1.0h-1.0zM184 117.5h1.0v1.0h-1.0zM184 121.5h1.0v1.0h-1.0zM184 123h1.0v1.0h-1.0zM184 123.5h1.0v1.0h-1.0zM184 124h1.0v1.0h-1.0zM184 125.5h1.0v1.0h-1.0zM184 126h1.0v1.0h-1.0zM184 126.5h1.0v1.0h-1.0zM184 127.5h1.0v1.0h-1.0zM184 130.5h1.0v1.0h-1.0zM184 132h1.0v1.0h-1.0zM184 145.5h1.0v1.0h-1.0zM184.5 116.5h1.0v1.0h-1.0zM184.5 117.5h1.0v1.0h-1.0zM184.5 119h1.0v1.0h-1.0zM184.5 122h1.0v1.0h-1.0zM184.5 123h1.0v1.0h-1.0zM184.5 124.5h1.0v1.0h-1.0zM184.5 125h1.0v1.0h-1.0zM184.5 137.5h1.0v1.0h-1.0zM185 115.5h1.0v1.0h-1.0zM185 119.5h1.0v1.0h-1.0zM185 137h1.0v1.0h-1.0zM185 145h1.0v1.0h-1.0zM185.5 111.5h1.0v1.0h-1.0zM185.5 126h1.0v1.0h-1.0zM186 118h1.0v1.0h-1.0zM186 120.5h1.0v1.0h-1.0zM186 121h1.0v1.0h-1.0zM186 121.5h1.0v1.0h-1.0zM186 123h1.0v1.0h-1.0zM186 125h1.0v1.0h-1.0zM186 128.5h1.0v1.0h-1.0zM186.5 115.5h1.0v1.0h-1.0zM186.5 117.5h1.0v1.0h-1.0zM186.5 120h1.0v1.0h-1.0zM186.5 121.5h1.0v1.0h-1.0zM186.5 122.5h1.0v1.0h-1.0zM186.5 123h1.0v1.0h-1.0zM186.5 125h1.0v1.0h-1.0zM187 115.5h1.0v1.0h-1.0zM187 119h1.0v1.0h-1.0zM187 119.5h1.0v1.0h-1.0zM187 121.5h1.0v1.0h-1.0zM187 122.5h1.0v1.0h-1.0zM187 127h1.0v1.0h-1.0zM187 140.5h1.0v1.0h-1.0zM187.5 126h1.0v1.0h-1.0zM187.5 127.5h1.0v1.0h-1.0zM187.5 129h1.0v1.0h-1.0zM188 115h1.0v1.0h-1.0zM188 123h1.0v1.0h-1.0zM188 123.5h1.0v1.0h-1.0zM188 125.5h1.0v1.0h-1.0zM188 126.5h1.0v1.0h-1.0zM188.5 118h1.0v1.0h-1.0zM188.5 119.5h1.0v1.0h-1.0zM188.5 120h1.0v1.0h-1.0zM188.5 121h1.0v1.0h-1.0zM188.5 123.5h1.0v1.0h-1.0zM188.5 126.5h1.0v1.0h-1.0zM188.5 127.5h1.0v1.0h-1.0zM188.5 129h1.0v1.0h-1.0zM188.5 141h1.0v1.0h-1.0zM189 122h1.0v1.0h-1.0zM189 124.5h1.0v1.0h-1.0zM189 128h1.0v1.0h-1.0zM189.5 120.5h1.0v1.0h-1.0zM189.5 129.5h1.0v1.0h-1.0zM190 119.5h1.0v1.0h-1.0zM190 120.5h1.0v1.0h-1.0zM190 124h1.0v1.0h-1.0zM190 125h1.0v1.0h-1.0zM190 131h1.0v1.0h-1.0zM190 133h1.0v1.0h-1.0zM190 137h1.0v1.0h-1.0zM190.5 113.5h1.0v1.0h-1.0zM190.5 123h1.0v1.0h-1.0zM190.5 123.5h1.0v1.0h-1.0zM190.5 125h1.0v1.0h-1.0zM190.5 127.5h1.0v1.0h-1.0zM190.5 137h1.0v1.0h-1.0zM191 112.5h1.0v1.0h-1.0zM191 118h1.0v1.0h-1.0zM191 121h1.0v1.0h-1.0zM191 127h1.0v1.0h-1.0zM191 140h1.0v1.0h-1.0zM191.5 102.5h1.0v1.0h-1.0zM192 111.5h1.0v1.0h-1.0zM192 120h1.0v1.0h-1.0zM192 121h1.0v1.0h-1.0zM192 126h1.0v1.0h-1.0zM192 135.5h1.0v1.0h-1.0zM192 136.5h1.0v1.0h-1.0zM192.5 112.5h1.0v1.0h-1.0zM192.5 117h1.0v1.0h-1.0zM192.5 118.5h1.0v1.0h-1.0zM192.5 122h1.0v1.0h-1.0zM192.5 123.5h1.0v1.0h-1.0zM192.5 125h1.0v1.0h-1.0zM192.5 126h1.0v1.0h-1.0zM192.5 127h1.0v1.0h-1.0zM192.5 127.5h1.0v1.0h-1.0zM192.5 132.5h1.0v1.0h-1.0zM193 115.5h1.0v1.0h-1.0zM193 123h1.0v1.0h-1.0zM193 125h1.0v1.0h-1.0zM193 126h1.0v1.0h-1.0zM193 130h1.0v1.0h-1.0zM193.5 105.5h1.0v1.0h-1.0zM193.5 127h1.0v1.0h-1.0zM193.5 134h1.0v1.0h-1.0zM193.5 139h1.0v1.0h-1.0zM193.5 146.5h1.0v1.0h-1.0zM194 125h1.0v1.0h-1.0zM194 125.5h1.0v1.0h-1.0zM194 126.5h1.0v1.0h-1.0zM194.5 99.5h1.0v1.0h-1.0zM194.5 120h1.0v1.0h-1.0zM195 111.5h1.0v1.0h-1.0zM195.5 102h1.0v1.0h-1.0zM195.5 111h1.0v1.0h-1.0zM195.5 122h1.0v1.0h-1.0zM196 104h1.0v1.0h-1.0zM196 108.5h1.0v1.0h-1.0zM196 117.5h1.0v1.0h-1.0zM196 123h1.0v1.0h-1.0zM196.5 105h1.0v1.0h-1.0zM196.5 125.5h1.0v1.0h-1.0zM197 124h1.0v1.0h-1.0zM197.5 108h1.0v1.0h-1.0zM197.5 109.5h1.0v1.0h-1.0zM197.5 115.5h1.0v1.0h-1.0zM197.5 120h1.0v1.0h-1.0zM197.5 125.5h1.0v1.0h-1.0zM198 99.5h1.0v1.0h-1.0zM198 111h1.0v1.0h-1.0zM198 120h1.0v1.0h-1.0zM198.5 99h1.0v1.0h-1.0zM198.5 106.5h1.0v1.0h-1.0zM198.5 124h1.0v1.0h-1.0zM198.5 125.5h1.0v1.0h-1.0zM198.5 127.5h1.0v1.0h-1.0zM199 109.5h1.0v1.0h-1.0zM199.5 118.5h1.0v1.0h-1.0zM199.5 145h1.0v1.0h-1.0zM200 115h1.0v1.0h-1.0zM200 116h1.0v1.0h-1.0zM200 116.5h1.0v1.0h-1.0zM200 134h1.0v1.0h-1.0zM200.5 106.5h1.0v1.0h-1.0zM200.5 113.5h1.0v1.0h-1.0zM200.5 123.5h1.0v1.0h-1.0zM200.5 127.5h1.0v1.0h-1.0zM200.5 133h1.0v1.0h-1.0zM201 98h1.0v1.0h-1.0zM201 106.5h1.0v1.0h-1.0zM201 113.5h1.0v1.0h-1.0zM201 117.5h1.0v1.0h-1.0zM201 127.5h1.0v1.0h-1.0zM201 128h1.0v1.0h-1.0zM201.5 94.5h1.0v1.0h-1.0zM201.5 96.5h1.0v1.0h-1.0zM201.5 108h1.0v1.0h-1.0zM201.5 120.5h1.0v1.0h-1.0zM201.5 123.5h1.0v1.0h-1.0zM201.5 126h1.0v1.0h-1.0zM201.5 128.5h1.0v1.0h-1.0zM202 110.5h1.0v1.0h-1.0zM202 113h1.0v1.0h-1.0zM202 126h1.0v1.0h-1.0zM202.5 105h1.0v1.0h-1.0zM203 98h1.0v1.0h-1.0zM203 105h1.0v1.0h-1.0zM203 111.5h1.0v1.0h-1.0zM203 116h1.0v1.0h-1.0zM203 116.5h1.0v1.0h-1.0zM203 122.5h1.0v1.0h-1.0zM203 126h1.0v1.0h-1.0zM203 126.5h1.0v1.0h-1.0zM203 129h1.0v1.0h-1.0zM203.5 109.5h1.0v1.0h-1.0zM203.5 110h1.0v1.0h-1.0zM203.5 120.5h1.0v1.0h-1.0zM203.5 141h1.0v1.0h-1.0zM204 108h1.0v1.0h-1.0zM204 120h1.0v1.0h-1.0zM204 121.5h1.0v1.0h-1.0zM204 123h1.0v1.0h-1.0zM204 123.5h1.0v1.0h-1.0zM204 125.5h1.0v1.0h-1.0zM204.5 95h1.0v1.0h-1.0zM204.5 111.5h1.0v1.0h-1.0zM204.5 122.5h1.0v1.0h-1.0zM204.5 132h1.0v1.0h-1.0zM205 101h1.0v1.0h-1.0zM205 108h1.0v1.0h-1.0zM205 109h1.0v1.0h-1.0zM205 118.5h1.0v1.0h-1.0zM205 120.5h1.0v1.0h-1.0zM205 124h1.0v1.0h-1.0zM205.5 104h1.0v1.0h-1.0zM205.5 118.5h1.0v1.0h-1.0zM205.5 119.5h1.0v1.0h-1.0zM206 109h1.0v1.0h-1.0zM206 110.5h1.0v1.0h-1.0zM206 116.5h1.0v1.0h-1.0zM206 118h1.0v1.0h-1.0zM206 119h1.0v1.0h-1.0zM206 120h1.0v1.0h-1.0zM206 120.5h1.0v1.0h-1.0zM206 121h1.0v1.0h-1.0zM206 122.5h1.0v1.0h-1.0zM206 123h1.0v1.0h-1.0zM206 123.5h1.0v1.0h-1.0zM206 125h1.0v1.0h-1.0zM206 127h1.0v1.0h-1.0zM206 130.5h1.0v1.0h-1.0zM206.5 104h1.0v1.0h-1.0zM206.5 108.5h1.0v1.0h-1.0zM206.5 114.5h1.0v1.0h-1.0zM206.5 122h1.0v1.0h-1.0zM206.5 133h1.0v1.0h-1.0zM206.5 142h1.0v1.0h-1.0zM207 104.5h1.0v1.0h-1.0zM207 111.5h1.0v1.0h-1.0zM207 116.5h1.0v1.0h-1.0zM207 117h1.0v1.0h-1.0zM207 117.5h1.0v1.0h-1.0zM207 118.5h1.0v1.0h-1.0zM207 120h1.0v1.0h-1.0zM207 120.5h1.0v1.0h-1.0zM207 121.5h1.0v1.0h-1.0zM207 122.5h1.0v1.0h-1.0zM207 123.5h1.0v1.0h-1.0zM207 124h1.0v1.0h-1.0zM207 126h1.0v1.0h-1.0zM207 126.5h1.0v1.0h-1.0zM207 127h1.0v1.0h-1.0zM207 128h1.0v1.0h-1.0zM207.5 111.5h1.0v1.0h-1.0zM207.5 115.5h1.0v1.0h-1.0zM207.5 117.5h1.0v1.0h-1.0zM207.5 120h1.0v1.0h-1.0zM207.5 121h1.0v1.0h-1.0zM207.5 121.5h1.0v1.0h-1.0zM207.5 122.5h1.0v1.0h-1.0zM207.5 127.5h1.0v1.0h-1.0zM208 107.5h1.0v1.0h-1.0zM208 112h1.0v1.0h-1.0zM208 113h1.0v1.0h-1.0zM208 113.5h1.0v1.0h-1.0zM208 115.5h1.0v1.0h-1.0zM208 116.5h1.0v1.0h-1.0zM208 117.5h1.0v1.0h-1.0zM208 118h1.0v1.0h-1.0zM208 119h1.0v1.0h-1.0zM208 120h1.0v1.0h-1.0zM208 121.5h1.0v1.0h-1.0zM208 122.5h1.0v1.0h-1.0zM208.5 95.5h1.0v1.0h-1.0zM208.5 106.5h1.0v1.0h-1.0zM208.5 111.5h1.0v1.0h-1.0zM208.5 118.5h1.0v1.0h-1.0zM208.5 120h1.0v1.0h-1.0zM208.5 120.5h1.0v1.0h-1.0zM208.5 121.5h1.0v1.0h-1.0zM208.5 122h1.0v1.0h-1.0zM208.5 123.5h1.0v1.0h-1.0zM208.5 125.5h1.0v1.0h-1.0zM209 114.5h1.0v1.0h-1.0zM209 115.5h1.0v1.0h-1.0zM209 117h1.0v1.0h-1.0zM209 117.5h1.0v1.0h-1.0zM209 118.5h1.0v1.0h-1.0zM209 119.5h1.0v1.0h-1.0zM209 120h1.0v1.0h-1.0zM209 121.5h1.0v1.0h-1.0zM209 123.5h1.0v1.0h-1.0zM209 124h1.0v1.0h-1.0zM209 125h1.0v1.0h-1.0zM209 127h1.0v1.0h-1.0zM209 128h1.0v1.0h-1.0zM209.5 115h1.0v1.0h-1.0zM209.5 116h1.0v1.0h-1.0zM209.5 116.5h1.0v1.0h-1.0zM209.5 118h1.0v1.0h-1.0zM209.5 119h1.0v1.0h-1.0zM209.5 120.5h1.0v1.0h-1.0zM209.5 123h1.0v1.0h-1.0zM209.5 124h1.0v1.0h-1.0zM209.5 125h1.0v1.0h-1.0zM209.5 130h1.0v1.0h-1.0zM210 116.5h1.0v1.0h-1.0zM210 117h1.0v1.0h-1.0zM210 118.5h1.0v1.0h-1.0zM210 120.5h1.0v1.0h-1.0zM210 121.5h1.0v1.0h-1.0zM210 122h1.0v1.0h-1.0zM210 124.5h1.0v1.0h-1.0zM210 125h1.0v1.0h-1.0zM210 126h1.0v1.0h-1.0zM210 126.5h1.0v1.0h-1.0zM210 127.5h1.0v1.0h-1.0zM210.5 108h1.0v1.0h-1.0zM210.5 111h1.0v1.0h-1.0zM210.5 115h1.0v1.0h-1.0zM210.5 118h1.0v1.0h-1.0zM210.5 118.5h1.0v1.0h-1.0zM210.5 119h1.0v1.0h-1.0zM210.5 121.5h1.0v1.0h-1.0zM210.5 122h1.0v1.0h-1.0zM210.5 122.5h1.0v1.0h-1.0zM210.5 123h1.0v1.0h-1.0zM210.5 123.5h1.0v1.0h-1.0zM210.5 124.5h1.0v1.0h-1.0zM210.5 127h1.0v1.0h-1.0zM210.5 128.5h1.0v1.0h-1.0zM210.5 130h1.0v1.0h-1.0zM211 107h1.0v1.0h-1.0zM211 108.5h1.0v1.0h-1.0zM211 117h1.0v1.0h-1.0zM211 118.5h1.0v1.0h-1.0zM211 120h1.0v1.0h-1.0zM211 121h1.0v1.0h-1.0zM211 121.5h1.0v1.0h-1.0zM211 122.5h1.0v1.0h-1.0zM211 123h1.0v1.0h-1.0zM211 125h1.0v1.0h-1.0zM211 126.5h1.0v1.0h-1.0zM211 127h1.0v1.0h-1.0zM211 128.5h1.0v1.0h-1.0zM211 130h1.0v1.0h-1.0zM211 139h1.0v1.0h-1.0zM211 143.5h1.0v1.0h-1.0zM211.5 105.5h1.0v1.0h-1.0zM211.5 106.5h1.0v1.0h-1.0zM211.5 112h1.0v1.0h-1.0zM211.5 112.5h1.0v1.0h-1.0zM211.5 119h1.0v1.0h-1.0zM211.5 120h1.0v1.0h-1.0zM211.5 121.5h1.0v1.0h-1.0zM211.5 122h1.0v1.0h-1.0zM211.5 125h1.0v1.0h-1.0zM211.5 126h1.0v1.0h-1.0zM211.5 127h1.0v1.0h-1.0zM211.5 130h1.0v1.0h-1.0zM212 112.5h1.0v1.0h-1.0zM212 113.5h1.0v1.0h-1.0zM212 116h1.0v1.0h-1.0zM212 116.5h1.0v1.0h-1.0zM212 117h1.0v1.0h-1.0zM212 118.5h1.0v1.0h-1.0zM212 119.5h1.0v1.0h-1.0zM212 120h1.0v1.0h-1.0zM212 120.5h1.0v1.0h-1.0zM212 121h1.0v1.0h-1.0zM212 122h1.0v1.0h-1.0zM212 123h1.0v1.0h-1.0zM212 124h1.0v1.0h-1.0zM212 125h1.0v1.0h-1.0zM212 126.5h1.0v1.0h-1.0zM212.5 112h1.0v1.0h-1.0zM212.5 116h1.0v1.0h-1.0zM212.5 117.5h1.0v1.0h-1.0zM212.5 118.5h1.0v1.0h-1.0zM212.5 120.5h1.0v1.0h-1.0zM212.5 121h1.0v1.0h-1.0zM212.5 123h1.0v1.0h-1.0zM212.5 124h1.0v1.0h-1.0zM212.5 126h1.0v1.0h-1.0zM213 105h1.0v1.0h-1.0zM213 105.5h1.0v1.0h-1.0zM213 111.5h1.0v1.0h-1.0zM213 115.5h1.0v1.0h-1.0zM213 117h1.0v1.0h-1.0zM213 117.5h1.0v1.0h-1.0zM213 118.5h1.0v1.0h-1.0zM213 119.5h1.0v1.0h-1.0zM213 123h1.0v1.0h-1.0zM213 123.5h1.0v1.0h-1.0zM213 124.5h1.0v1.0h-1.0zM213 125.5h1.0v1.0h-1.0zM213 126.5h1.0v1.0h-1.0zM213 128h1.0v1.0h-1.0zM213.5 109h1.0v1.0h-1.0zM213.5 110h1.0v1.0h-1.0zM213.5 118h1.0v1.0h-1.0zM213.5 118.5h1.0v1.0h-1.0zM213.5 119.5h1.0v1.0h-1.0zM213.5 120.5h1.0v1.0h-1.0zM213.5 121.5h1.0v1.0h-1.0zM213.5 122.5h1.0v1.0h-1.0zM213.5 125h1.0v1.0h-1.0zM214 111h1.0v1.0h-1.0zM214 115.5h1.0v1.0h-1.0zM214 118.5h1.0v1.0h-1.0zM214 119.5h1.0v1.0h-1.0zM214 120.5h1.0v1.0h-1.0zM214 122.5h1.0v1.0h-1.0zM214 126.5h1.0v1.0h-1.0zM214.5 105.5h1.0v1.0h-1.0zM214.5 113.5h1.0v1.0h-1.0zM214.5 115h1.0v1.0h-1.0zM214.5 116h1.0v1.0h-1.0zM214.5 120.5h1.0v1.0h-1.0zM214.5 121h1.0v1.0h-1.0zM214.5 126.5h1.0v1.0h-1.0zM214.5 127.5h1.0v1.0h-1.0zM214.5 128h1.0v1.0h-1.0zM215 105h1.0v1.0h-1.0zM215 107h1.0v1.0h-1.0zM215 108.5h1.0v1.0h-1.0zM215 109h1.0v1.0h-1.0zM215 120h1.0v1.0h-1.0zM215 120.5h1.0v1.0h-1.0zM215 121.5h1.0v1.0h-1.0zM215 122h1.0v1.0h-1.0zM215 122.5h1.0v1.0h-1.0zM215 123h1.0v1.0h-1.0zM215 123.5h1.0v1.0h-1.0zM215 124h1.0v1.0h-1.0zM215 125h1.0v1.0h-1.0zM215 128h1.0v1.0h-1.0zM215.5 115h1.0v1.0h-1.0zM215.5 118h1.0v1.0h-1.0zM215.5 119h1.0v1.0h-1.0zM215.5 120h1.0v1.0h-1.0zM215.5 120.5h1.0v1.0h-1.0zM215.5 121h1.0v1.0h-1.0zM215.5 121.5h1.0v1.0h-1.0zM215.5 123.5h1.0v1.0h-1.0zM215.5 124.5h1.0v1.0h-1.0zM215.5 125.5h1.0v1.0h-1.0zM215.5 128.5h1.0v1.0h-1.0zM216 108h1.0v1.0h-1.0zM216 116.5h1.0v1.0h-1.0zM216 119h1.0v1.0h-1.0zM216 121h1.0v1.0h-1.0zM216 122.5h1.0v1.0h-1.0zM216 123h1.0v1.0h-1.0zM216 123.5h1.0v1.0h-1.0zM216 124.5h1.0v1.0h-1.0zM216 125.5h1.0v1.0h-1.0zM216 127.5h1.0v1.0h-1.0zM216 129h1.0v1.0h-1.0zM216.5 110h1.0v1.0h-1.0zM216.5 113.5h1.0v1.0h-1.0zM216.5 114.5h1.0v1.0h-1.0zM216.5 118h1.0v1.0h-1.0zM216.5 119.5h1.0v1.0h-1.0zM216.5 120h1.0v1.0h-1.0zM216.5 122.5h1.0v1.0h-1.0zM216.5 124.5h1.0v1.0h-1.0zM216.5 126h1.0v1.0h-1.0zM217 109h1.0v1.0h-1.0zM217 112.5h1.0v1.0h-1.0zM217 113.5h1.0v1.0h-1.0zM217 118h1.0v1.0h-1.0zM217 123.5h1.0v1.0h-1.0zM217 124.5h1.0v1.0h-1.0zM217 126h1.0v1.0h-1.0zM217.5 115h1.0v1.0h-1.0zM217.5 121.5h1.0v1.0h-1.0zM217.5 122h1.0v1.0h-1.0zM217.5 122.5h1.0v1.0h-1.0zM217.5 123h1.0v1.0h-1.0zM217.5 123.5h1.0v1.0h-1.0zM217.5 139.5h1.0v1.0h-1.0zM218 117.5h1.0v1.0h-1.0zM218 118h1.0v1.0h-1.0zM218 119h1.0v1.0h-1.0zM218 119.5h1.0v1.0h-1.0zM218 120h1.0v1.0h-1.0zM218 124h1.0v1.0h-1.0zM218 125.5h1.0v1.0h-1.0zM218 126.5h1.0v1.0h-1.0zM218 127h1.0v1.0h-1.0zM218 130h1.0v1.0h-1.0zM218.5 90.5h1.0v1.0h-1.0zM218.5 113h1.0v1.0h-1.0zM218.5 116h1.0v1.0h-1.0zM218.5 117.5h1.0v1.0h-1.0zM218.5 119h1.0v1.0h-1.0zM218.5 121h1.0v1.0h-1.0zM218.5 122h1.0v1.0h-1.0zM218.5 122.5h1.0v1.0h-1.0zM218.5 125.5h1.0v1.0h-1.0zM218.5 126.5h1.0v1.0h-1.0zM218.5 130h1.0v1.0h-1.0zM219 114.5h1.0v1.0h-1.0zM219 120h1.0v1.0h-1.0zM219 122.5h1.0v1.0h-1.0zM219 124h1.0v1.0h-1.0zM219 124.5h1.0v1.0h-1.0zM219 125.5h1.0v1.0h-1.0zM219.5 113h1.0v1.0h-1.0zM219.5 113.5h1.0v1.0h-1.0zM219.5 117h1.0v1.0h-1.0zM219.5 119h1.0v1.0h-1.0zM219.5 121.5h1.0v1.0h-1.0zM219.5 141h1.0v1.0h-1.0zM219.5 143.5h1.0v1.0h-1.0zM220 106h1.0v1.0h-1.0zM220 113.5h1.0v1.0h-1.0zM220 117h1.0v1.0h-1.0zM220 121.5h1.0v1.0h-1.0zM220 124h1.0v1.0h-1.0zM220 125h1.0v1.0h-1.0zM220 127h1.0v1.0h-1.0zM220.5 106.5h1.0v1.0h-1.0zM220.5 122h1.0v1.0h-1.0zM220.5 125.5h1.0v1.0h-1.0zM221 112h1.0v1.0h-1.0zM221 118h1.0v1.0h-1.0zM221 119h1.0v1.0h-1.0zM221 123h1.0v1.0h-1.0zM221 129h1.0v1.0h-1.0zM221 135.5h1.0v1.0h-1.0zM221 137.5h1.0v1.0h-1.0zM221 144h1.0v1.0h-1.0zM221.5 115h1.0v1.0h-1.0zM221.5 117.5h1.0v1.0h-1.0zM221.5 125.5h1.0v1.0h-1.0zM222 91.5h1.0v1.0h-1.0zM222 97.5h1.0v1.0h-1.0zM222 107h1.0v1.0h-1.0zM222 121h1.0v1.0h-1.0zM222.5 119h1.0v1.0h-1.0zM223 120.5h1.0v1.0h-1.0zM225 118.5h1.0v1.0h-1.0zM226 105.5h1.0v1.0h-1.0zM226.5 112.5h1.0v1.0h-1.0z" fill="#000" fill-opacity="0.64"/>
</g></g>
<rect x="163.4" y="89.2" width="58.900000000000006" height="58.499999999999986" fill="none" stroke="#333" stroke-width="1"/>
<line x1="185.7" y1="89.2" x2="185.7" y2="147.7" stroke="#333" stroke-width="0.95" />
<line x1="163.4" y1="120.8" x2="222.3" y2="120.8" stroke="#333" stroke-width="0.95" />
<g transform="translate(167.4,103.0) scale(0.85,1)"><text x="0" y="0" font-size="8.2" text-anchor="start" fill="#1a1a1a" stroke="#1a1a1a" stroke-width="0.3">Q1</text></g>
<g transform="translate(219.4,103.6) scale(0.85,1)"><text x="0" y="0" font-size="8.2" text-anchor="end" fill="#1a1a1a" stroke="#1a1a1a" stroke-width="0.3">Q2</text></g>
<g transform="translate(219.1,138.0) scale(0.85,1)"><text x="0" y="0" font-size="8.2" text-anchor="end" fill="#1a1a1a" stroke="#1a1a1a" stroke-width="0.3">Q4</text></g>
<path d="M172.4 147.7 v7M186.8 147.7 v7M201.3 147.7 v7M215.7 147.7 v7" stroke="#111" stroke-width="1" fill="none"/>
<path d="M164.9 147.7 v4.5M166.7 147.7 v4.5M168.1 147.7 v4.5M169.2 147.7 v4.5M170.2 147.7 v4.5M171.0 147.7 v4.5M171.7 147.7 v4.5M176.7 147.7 v4.5M179.3 147.7 v4.5M181.1 147.7 v4.5M182.5 147.7 v4.5M183.6 147.7 v4.5M184.6 147.7 v4.5M185.4 147.7 v4.5M186.2 147.7 v4.5M191.2 147.7 v4.5M193.7 147.7 v4.5M195.5 147.7 v4.5M196.9 147.7 v4.5M198.1 147.7 v4.5M199.0 147.7 v4.5M199.9 147.7 v4.5M200.6 147.7 v4.5M205.6 147.7 v4.5M208.1 147.7 v4.5M209.9 147.7 v4.5M211.3 147.7 v4.5M212.5 147.7 v4.5M213.5 147.7 v4.5M214.3 147.7 v4.5M215.0 147.7 v4.5M220.0 147.7 v4.5" stroke="#333" stroke-width="0.8" fill="none"/>
<g transform="translate(170.1,163.8) scale(0.68,1)"><text x="0" y="0" font-size="7.6" font-weight="bold" text-anchor="middle" fill="#1a1a1a">10</text></g>
<text x="172.9" y="159.2" font-size="5.3" font-weight="bold" fill="#1a1a1a">2</text>
<g transform="translate(184.5,163.8) scale(0.68,1)"><text x="0" y="0" font-size="7.6" font-weight="bold" text-anchor="middle" fill="#1a1a1a">10</text></g>
<text x="187.3" y="159.2" font-size="5.3" font-weight="bold" fill="#1a1a1a">3</text>
<g transform="translate(199.0,163.8) scale(0.68,1)"><text x="0" y="0" font-size="7.6" font-weight="bold" text-anchor="middle" fill="#1a1a1a">10</text></g>
<text x="201.8" y="159.2" font-size="5.3" font-weight="bold" fill="#1a1a1a">4</text>
<g transform="translate(213.4,163.8) scale(0.68,1)"><text x="0" y="0" font-size="7.6" font-weight="bold" text-anchor="middle" fill="#1a1a1a">10</text></g>
<text x="216.2" y="159.2" font-size="5.3" font-weight="bold" fill="#1a1a1a">5</text>
<path d="M163.4 139.7 h-5M163.4 125.4 h-5M163.4 111.0 h-5M163.4 96.7 h-5" stroke="#000" stroke-width="1.6" fill="none"/>
<path d="M163.4 145.4 h-3.3M163.4 144.0 h-3.3M163.4 142.9 h-3.3M163.4 141.9 h-3.3M163.4 141.1 h-3.3M163.4 140.4 h-3.3M163.4 135.4 h-3.3M163.4 132.9 h-3.3M163.4 131.1 h-3.3M163.4 129.7 h-3.3M163.4 128.5 h-3.3M163.4 127.6 h-3.3M163.4 126.8 h-3.3M163.4 126.0 h-3.3M163.4 121.1 h-3.3M163.4 118.5 h-3.3M163.4 116.7 h-3.3M163.4 115.3 h-3.3M163.4 114.2 h-3.3M163.4 113.3 h-3.3M163.4 112.4 h-3.3M163.4 111.7 h-3.3M163.4 106.7 h-3.3M163.4 104.2 h-3.3M163.4 102.4 h-3.3M163.4 101.0 h-3.3M163.4 99.9 h-3.3M163.4 98.9 h-3.3M163.4 98.1 h-3.3M163.4 97.4 h-3.3M163.4 92.4 h-3.3" stroke="#111" stroke-width="0.9" fill="none"/>
<g transform="translate(158.0,139.5) rotate(-90) scale(0.78,1)"><text x="0" y="0" font-size="7.4" font-weight="bold" text-anchor="middle" fill="#1a1a1a">10</text></g>
<text transform="translate(153.4,136.1) rotate(-90)" font-size="5.3" font-weight="bold" fill="#1a1a1a">2</text>
<g transform="translate(158.0,125.2) rotate(-90) scale(0.78,1)"><text x="0" y="0" font-size="7.4" font-weight="bold" text-anchor="middle" fill="#1a1a1a">10</text></g>
<text transform="translate(153.4,121.8) rotate(-90)" font-size="5.3" font-weight="bold" fill="#1a1a1a">3</text>
<g transform="translate(158.0,110.8) rotate(-90) scale(0.78,1)"><text x="0" y="0" font-size="7.4" font-weight="bold" text-anchor="middle" fill="#1a1a1a">10</text></g>
<text transform="translate(153.4,107.4) rotate(-90)" font-size="5.3" font-weight="bold" fill="#1a1a1a">4</text>
<g transform="translate(158.0,96.5) rotate(-90) scale(0.78,1)"><text x="0" y="0" font-size="7.4" font-weight="bold" text-anchor="middle" fill="#1a1a1a">10</text></g>
<text transform="translate(153.4,93.1) rotate(-90)" font-size="5.3" font-weight="bold" fill="#1a1a1a">5</text>
<rect x="358.30" y="20.80" width="8.60" height="8.00" fill="#b9b9b9" stroke="#555" stroke-width="1"/>
<text x="372.2" y="27.700000000000003" font-size="8.7" font-weight="bold" text-anchor="start" fill="#000" stroke="#000" stroke-width="0.28" >Vector</text>
<rect x="426.50" y="20.30" width="9.30" height="8.80" fill="#000"/>
<text x="441.3" y="27.700000000000003" font-size="8.7" font-weight="bold" text-anchor="start" fill="#000" stroke="#000" stroke-width="0.28" >RUNX1a</text>
<text x="262.6" y="13.3" font-size="1" font-weight="bold" text-anchor="start" fill="#000" stroke="#000" stroke-width="0.28" ></text>
<text transform="translate(272.3,88.1) rotate(-90)" font-size="11.2" font-weight="bold" text-anchor="middle" fill="#000" stroke="#000" stroke-width="0.28">EB Day 9</text>
<text transform="translate(288.6,87.4) rotate(-90)" font-size="8.8" font-weight="bold" text-anchor="middle" fill="#000" stroke="#000" stroke-width="0.28">% of Cells</text>
<line x1="277.2" y1="50.2" x2="277.2" y2="125" stroke="#000" stroke-width="1.6" />
<line x1="308.6" y1="37.800000000000026" x2="308.6" y2="138.3" stroke="#9a9a9a" stroke-width="1" />
<line x1="308.6" y1="138.3" x2="407" y2="138.3" stroke="#9a9a9a" stroke-width="1" />
<line x1="306.3" y1="138.3" x2="308.6" y2="138.3" stroke="#9a9a9a" stroke-width="1" />
<text x="301.70000000000005" y="140.82000000000002" font-size="7" font-weight="bold" text-anchor="end" fill="#000" stroke="#000" stroke-width="0.28" >0</text>
<line x1="306.3" y1="118.20000000000002" x2="308.6" y2="118.20000000000002" stroke="#9a9a9a" stroke-width="1" />
<text x="301.70000000000005" y="120.72000000000001" font-size="7" font-weight="bold" text-anchor="end" fill="#000" stroke="#000" stroke-width="0.28" >5</text>
<line x1="306.3" y1="98.10000000000002" x2="308.6" y2="98.10000000000002" stroke="#9a9a9a" stroke-width="1" />
<text x="301.70000000000005" y="100.62000000000002" font-size="7" font-weight="bold" text-anchor="end" fill="#000" stroke="#000" stroke-width="0.28" >10</text>
<line x1="306.3" y1="78.00000000000001" x2="308.6" y2="78.00000000000001" stroke="#9a9a9a" stroke-width="1" />
<text x="301.70000000000005" y="80.52000000000001" font-size="7" font-weight="bold" text-anchor="end" fill="#000" stroke="#000" stroke-width="0.28" >15</text>
<line x1="306.3" y1="57.90000000000002" x2="308.6" y2="57.90000000000002" stroke="#9a9a9a" stroke-width="1" />
<text x="301.70000000000005" y="60.42000000000002" font-size="7" font-weight="bold" text-anchor="end" fill="#000" stroke="#000" stroke-width="0.28" >20</text>
<line x1="306.3" y1="37.800000000000026" x2="308.6" y2="37.800000000000026" stroke="#9a9a9a" stroke-width="1" />
<text x="301.70000000000005" y="40.32000000000003" font-size="7" font-weight="bold" text-anchor="end" fill="#000" stroke="#000" stroke-width="0.28" >25</text>
<line x1="341.5" y1="138.3" x2="341.5" y2="140.8" stroke="#9a9a9a" stroke-width="1" />
<line x1="374.3" y1="138.3" x2="374.3" y2="140.8" stroke="#9a9a9a" stroke-width="1" />
<line x1="407" y1="138.3" x2="407" y2="140.8" stroke="#9a9a9a" stroke-width="1" />
<line x1="320.0" y1="114.98400000000001" x2="320.0" y2="115.78800000000001" stroke="#333" stroke-width="1" />
<line x1="318.4" y1="114.98400000000001" x2="321.6" y2="114.98400000000001" stroke="#333" stroke-width="1" />
<rect x="315.50" y="116.29" width="9.00" height="22.01" fill="#b9b9b9" stroke="#6e6e6e" stroke-width="1"/>
<line x1="330.0" y1="90.46200000000002" x2="330.0" y2="94.88400000000001" stroke="#333" stroke-width="1" />
<line x1="328.4" y1="90.46200000000002" x2="331.6" y2="90.46200000000002" stroke="#333" stroke-width="1" />
<rect x="325.00" y="94.88" width="10.00" height="43.42" fill="#000"/>
<text x="324.5" y="148.6" font-size="7.3" font-weight="bold" text-anchor="middle" stroke="#000" stroke-width="0.3">CD45<tspan font-size="5.84" dy="-0.6">+</tspan></text>
<text x="324.5" y="156.9" font-size="7.3" font-weight="bold" text-anchor="middle" stroke="#000" stroke-width="0.3">CD34<tspan font-size="5.84" dy="-0.6">-</tspan></text>
<line x1="353.2" y1="95.28600000000002" x2="353.2" y2="102.12000000000002" stroke="#333" stroke-width="1" />
<line x1="351.59999999999997" y1="95.28600000000002" x2="354.8" y2="95.28600000000002" stroke="#333" stroke-width="1" />
<rect x="348.70" y="102.62" width="9.00" height="35.68" fill="#b9b9b9" stroke="#6e6e6e" stroke-width="1"/>
<line x1="363.2" y1="55.08600000000003" x2="363.2" y2="57.09600000000002" stroke="#333" stroke-width="1" />
<line x1="361.59999999999997" y1="55.08600000000003" x2="364.8" y2="55.08600000000003" stroke="#333" stroke-width="1" />
<rect x="358.20" y="57.10" width="10.00" height="81.20" fill="#000"/>
<text x="357.7" y="148.6" font-size="7.3" font-weight="bold" text-anchor="middle" stroke="#000" stroke-width="0.3">CD45<tspan font-size="5.84" dy="-0.6">+</tspan></text>
<text x="357.7" y="156.9" font-size="7.3" font-weight="bold" text-anchor="middle" stroke="#000" stroke-width="0.3">CD34<tspan font-size="5.84" dy="-0.6">+</tspan></text>
<line x1="386.2" y1="116.99400000000001" x2="386.2" y2="117.79800000000002" stroke="#333" stroke-width="1" />
<line x1="384.59999999999997" y1="116.99400000000001" x2="387.8" y2="116.99400000000001" stroke="#333" stroke-width="1" />
<rect x="381.70" y="118.30" width="9.00" height="20.00" fill="#b9b9b9" stroke="#6e6e6e" stroke-width="1"/>
<line x1="396.2" y1="82.82400000000001" x2="396.2" y2="83.62800000000001" stroke="#333" stroke-width="1" />
<line x1="394.59999999999997" y1="82.82400000000001" x2="397.8" y2="82.82400000000001" stroke="#333" stroke-width="1" />
<rect x="391.20" y="83.63" width="10.00" height="54.67" fill="#000"/>
<text x="390.7" y="148.6" font-size="7.3" font-weight="bold" text-anchor="middle" stroke="#000" stroke-width="0.3">CD45<tspan font-size="5.84" dy="-0.6">-</tspan></text>
<text x="390.7" y="156.9" font-size="7.3" font-weight="bold" text-anchor="middle" stroke="#000" stroke-width="0.3">CD34<tspan font-size="5.84" dy="-0.6">+</tspan></text>
<path d="M347.60 59.05L347.60 63.55M345.65 60.17L349.55 62.42M349.55 60.17L345.65 62.42" stroke="#000" stroke-width="1.2" stroke-linecap="round" fill="none"/>
<circle cx="347.6" cy="61.3" r="0.95" fill="#000"/>
<line x1="417.3" y1="35.45" x2="417.3" y2="137.3" stroke="#9a9a9a" stroke-width="1" />
<line x1="417.3" y1="137.3" x2="520" y2="137.3" stroke="#9a9a9a" stroke-width="1" />
<line x1="415.0" y1="137.3" x2="417.3" y2="137.3" stroke="#9a9a9a" stroke-width="1" />
<text x="410.40000000000003" y="139.82000000000002" font-size="7" font-weight="bold" text-anchor="end" fill="#000" stroke="#000" stroke-width="0.28" >0</text>
<line x1="415.0" y1="122.75000000000001" x2="417.3" y2="122.75000000000001" stroke="#9a9a9a" stroke-width="1" />
<text x="410.40000000000003" y="125.27000000000001" font-size="7" font-weight="bold" text-anchor="end" fill="#000" stroke="#000" stroke-width="0.28" >5</text>
<line x1="415.0" y1="108.20000000000002" x2="417.3" y2="108.20000000000002" stroke="#9a9a9a" stroke-width="1" />
<text x="410.40000000000003" y="110.72000000000001" font-size="7" font-weight="bold" text-anchor="end" fill="#000" stroke="#000" stroke-width="0.28" >10</text>
<line x1="415.0" y1="93.65" x2="417.3" y2="93.65" stroke="#9a9a9a" stroke-width="1" />
<text x="410.40000000000003" y="96.17" font-size="7" font-weight="bold" text-anchor="end" fill="#000" stroke="#000" stroke-width="0.28" >15</text>
<line x1="415.0" y1="79.10000000000001" x2="417.3" y2="79.10000000000001" stroke="#9a9a9a" stroke-width="1" />
<text x="410.40000000000003" y="81.62" font-size="7" font-weight="bold" text-anchor="end" fill="#000" stroke="#000" stroke-width="0.28" >20</text>
<line x1="415.0" y1="64.55000000000001" x2="417.3" y2="64.55000000000001" stroke="#9a9a9a" stroke-width="1" />
<text x="410.40000000000003" y="67.07000000000001" font-size="7" font-weight="bold" text-anchor="end" fill="#000" stroke="#000" stroke-width="0.28" >25</text>
<line x1="415.0" y1="50.0" x2="417.3" y2="50.0" stroke="#9a9a9a" stroke-width="1" />
<text x="410.40000000000003" y="52.52" font-size="7" font-weight="bold" text-anchor="end" fill="#000" stroke="#000" stroke-width="0.28" >30</text>
<line x1="415.0" y1="35.45" x2="417.3" y2="35.45" stroke="#9a9a9a" stroke-width="1" />
<text x="410.40000000000003" y="37.970000000000006" font-size="7" font-weight="bold" text-anchor="end" fill="#000" stroke="#000" stroke-width="0.28" >35</text>
<line x1="453" y1="137.3" x2="453" y2="139.8" stroke="#9a9a9a" stroke-width="1" />
<line x1="487.7" y1="137.3" x2="487.7" y2="139.8" stroke="#9a9a9a" stroke-width="1" />
<line x1="429.40000000000003" y1="109.364" x2="429.40000000000003" y2="114.311" stroke="#333" stroke-width="1" />
<line x1="427.8" y1="109.364" x2="431.00000000000006" y2="109.364" stroke="#333" stroke-width="1" />
<rect x="424.80" y="114.81" width="9.20" height="22.49" fill="#b9b9b9" stroke="#6e6e6e" stroke-width="1"/>
<line x1="439.6" y1="101.507" x2="439.6" y2="106.16300000000001" stroke="#333" stroke-width="1" />
<line x1="438.0" y1="101.507" x2="441.20000000000005" y2="101.507" stroke="#333" stroke-width="1" />
<rect x="434.50" y="106.16" width="10.20" height="31.14" fill="#000"/>
<text x="434.0" y="148.3" font-size="7.3" font-weight="bold" text-anchor="middle" stroke="#000" stroke-width="0.3">CD45<tspan font-size="5.84" dy="-0.6">+</tspan></text>
<text x="434.0" y="156.60000000000002" font-size="7.3" font-weight="bold" text-anchor="middle" stroke="#000" stroke-width="0.3">CD43<tspan font-size="5.84" dy="-0.6">-</tspan></text>
<line x1="462.90000000000003" y1="119.84" x2="462.90000000000003" y2="124.20500000000001" stroke="#333" stroke-width="1" />
<line x1="461.3" y1="119.84" x2="464.50000000000006" y2="119.84" stroke="#333" stroke-width="1" />
<rect x="458.30" y="124.71" width="9.20" height="12.60" fill="#b9b9b9" stroke="#6e6e6e" stroke-width="1"/>
<line x1="473.1" y1="45.05300000000001" x2="473.1" y2="61.05800000000001" stroke="#333" stroke-width="1" />
<line x1="471.5" y1="45.05300000000001" x2="474.70000000000005" y2="45.05300000000001" stroke="#333" stroke-width="1" />
<rect x="468.00" y="61.06" width="10.20" height="76.24" fill="#000"/>
<text x="467.5" y="148.3" font-size="7.3" font-weight="bold" text-anchor="middle" stroke="#000" stroke-width="0.3">CD45<tspan font-size="5.84" dy="-0.6">+</tspan></text>
<text x="467.5" y="156.60000000000002" font-size="7.3" font-weight="bold" text-anchor="middle" stroke="#000" stroke-width="0.3">CD43<tspan font-size="5.84" dy="-0.6">+</tspan></text>
<line x1="496.90000000000003" y1="123.623" x2="496.90000000000003" y2="129.443" stroke="#333" stroke-width="1" />
<line x1="495.3" y1="123.623" x2="498.50000000000006" y2="123.623" stroke="#333" stroke-width="1" />
<rect x="492.30" y="129.94" width="9.20" height="7.36" fill="#b9b9b9" stroke="#6e6e6e" stroke-width="1"/>
<line x1="507.1" y1="77.06300000000002" x2="507.1" y2="79.39100000000002" stroke="#333" stroke-width="1" />
<line x1="505.5" y1="77.06300000000002" x2="508.70000000000005" y2="77.06300000000002" stroke="#333" stroke-width="1" />
<rect x="502.00" y="79.39" width="10.20" height="57.91" fill="#000"/>
<text x="501.5" y="148.3" font-size="7.3" font-weight="bold" text-anchor="middle" stroke="#000" stroke-width="0.3">CD45<tspan font-size="5.84" dy="-0.6">-</tspan></text>
<text x="501.5" y="156.60000000000002" font-size="7.3" font-weight="bold" text-anchor="middle" stroke="#000" stroke-width="0.3">CD43<tspan font-size="5.84" dy="-0.6">+</tspan></text>
<path d="M458.50 44.45L458.50 48.95M456.55 45.58L460.45 47.83M460.45 45.58L456.55 47.83" stroke="#000" stroke-width="1.2" stroke-linecap="round" fill="none"/>
<circle cx="458.5" cy="46.7" r="0.95" fill="#000"/>
<path d="M465.00 44.45L465.00 48.95M463.05 45.58L466.95 47.83M466.95 45.58L463.05 47.83" stroke="#000" stroke-width="1.2" stroke-linecap="round" fill="none"/>
<circle cx="465.0" cy="46.7" r="0.95" fill="#000"/>
<rect x="55.80" y="199.10" width="8.60" height="8.00" fill="#b9b9b9" stroke="#555" stroke-width="1"/>
<text x="70" y="206.0" font-size="8.7" font-weight="bold" text-anchor="start" fill="#000" stroke="#000" stroke-width="0.28" >Vector</text>
<rect x="117.30" y="198.60" width="9.30" height="8.80" fill="#000"/>
<text x="131.6" y="206.0" font-size="8.7" font-weight="bold" text-anchor="start" fill="#000" stroke="#000" stroke-width="0.28" >RUNX1a</text>
<text transform="translate(9.8,262.6) rotate(-90)" font-size="11" font-weight="bold" text-anchor="middle" fill="#000" stroke="#000" stroke-width="0.28">EB Day 11</text>
<text transform="translate(25.8,262.6) rotate(-90)" font-size="8.8" font-weight="bold" text-anchor="middle" fill="#000" stroke="#000" stroke-width="0.28">% of Cells</text>
<line x1="14.0" y1="225.2" x2="14.0" y2="299.7" stroke="#000" stroke-width="1.6" />
<line x1="49.5" y1="216.18" x2="49.5" y2="305.3" stroke="#9a9a9a" stroke-width="1" />
<line x1="49.5" y1="305.3" x2="137.5" y2="305.3" stroke="#9a9a9a" stroke-width="1" />
<line x1="47.2" y1="305.3" x2="49.5" y2="305.3" stroke="#9a9a9a" stroke-width="1" />
<text x="42.6" y="308.54" font-size="9" font-weight="bold" text-anchor="end" fill="#000" stroke="#000" stroke-width="0.28" >0</text>
<line x1="47.2" y1="283.02" x2="49.5" y2="283.02" stroke="#9a9a9a" stroke-width="1" />
<text x="42.6" y="286.26" font-size="9" font-weight="bold" text-anchor="end" fill="#000" stroke="#000" stroke-width="0.28" >20</text>
<line x1="47.2" y1="260.74" x2="49.5" y2="260.74" stroke="#9a9a9a" stroke-width="1" />
<text x="42.6" y="263.98" font-size="9" font-weight="bold" text-anchor="end" fill="#000" stroke="#000" stroke-width="0.28" >40</text>
<line x1="47.2" y1="238.46" x2="49.5" y2="238.46" stroke="#9a9a9a" stroke-width="1" />
<text x="42.6" y="241.70000000000002" font-size="9" font-weight="bold" text-anchor="end" fill="#000" stroke="#000" stroke-width="0.28" >60</text>
<line x1="47.2" y1="216.18" x2="49.5" y2="216.18" stroke="#9a9a9a" stroke-width="1" />
<text x="42.6" y="219.42000000000002" font-size="9" font-weight="bold" text-anchor="end" fill="#000" stroke="#000" stroke-width="0.28" >80</text>
<line x1="78.6" y1="305.3" x2="78.6" y2="307.8" stroke="#9a9a9a" stroke-width="1" />
<line x1="108" y1="305.3" x2="108" y2="307.8" stroke="#9a9a9a" stroke-width="1" />
<line x1="137.5" y1="305.3" x2="137.5" y2="307.8" stroke="#9a9a9a" stroke-width="1" />
<line x1="58.7" y1="275.222" x2="58.7" y2="286.362" stroke="#333" stroke-width="1" />
<line x1="57.1" y1="275.222" x2="60.300000000000004" y2="275.222" stroke="#333" stroke-width="1" />
<rect x="53.70" y="286.86" width="10.00" height="18.44" fill="#b9b9b9" stroke="#6e6e6e" stroke-width="1"/>
<line x1="69.7" y1="292.1548" x2="69.7" y2="292.48900000000003" stroke="#333" stroke-width="1" />
<line x1="68.10000000000001" y1="292.1548" x2="71.3" y2="292.1548" stroke="#333" stroke-width="1" />
<rect x="64.20" y="292.49" width="11.00" height="12.81" fill="#000"/>
<text x="63.7" y="316.0" font-size="7.3" font-weight="bold" text-anchor="middle" stroke="#000" stroke-width="0.3">CD45<tspan font-size="5.84" dy="-0.6">+</tspan></text>
<text x="63.7" y="324.3" font-size="7.3" font-weight="bold" text-anchor="middle" stroke="#000" stroke-width="0.3">CD34<tspan font-size="5.84" dy="-0.6">-</tspan></text>
<line x1="87.5" y1="281.906" x2="87.5" y2="288.59000000000003" stroke="#333" stroke-width="1" />
<line x1="85.9" y1="281.906" x2="89.1" y2="281.906" stroke="#333" stroke-width="1" />
<rect x="82.50" y="289.09" width="10.00" height="16.21" fill="#b9b9b9" stroke="#6e6e6e" stroke-width="1"/>
<line x1="98.5" y1="229.3252" x2="98.5" y2="230.77339999999998" stroke="#333" stroke-width="1" />
<line x1="96.9" y1="229.3252" x2="100.1" y2="229.3252" stroke="#333" stroke-width="1" />
<rect x="93.00" y="230.77" width="11.00" height="74.53" fill="#000"/>
<text x="92.5" y="316.0" font-size="7.3" font-weight="bold" text-anchor="middle" stroke="#000" stroke-width="0.3">CD45<tspan font-size="5.84" dy="-0.6">+</tspan></text>
<text x="92.5" y="324.3" font-size="7.3" font-weight="bold" text-anchor="middle" stroke="#000" stroke-width="0.3">CD34<tspan font-size="5.84" dy="-0.6">+</tspan></text>
<line x1="116.5" y1="297.8362" x2="116.5" y2="298.059" stroke="#333" stroke-width="1" />
<line x1="114.9" y1="297.8362" x2="118.1" y2="297.8362" stroke="#333" stroke-width="1" />
<rect x="111.50" y="298.56" width="10.00" height="6.74" fill="#b9b9b9" stroke="#6e6e6e" stroke-width="1"/>
<line x1="127.5" y1="300.0642" x2="127.5" y2="300.28700000000003" stroke="#333" stroke-width="1" />
<line x1="125.9" y1="300.0642" x2="129.1" y2="300.0642" stroke="#333" stroke-width="1" />
<rect x="122.00" y="300.29" width="11.00" height="5.01" fill="#000"/>
<text x="121.5" y="316.0" font-size="7.3" font-weight="bold" text-anchor="middle" stroke="#000" stroke-width="0.3">CD45<tspan font-size="5.84" dy="-0.6">-</tspan></text>
<text x="121.5" y="324.3" font-size="7.3" font-weight="bold" text-anchor="middle" stroke="#000" stroke-width="0.3">CD34<tspan font-size="5.84" dy="-0.6">+</tspan></text>
<path d="M85.60 220.65L85.60 225.15M83.65 221.78L87.55 224.03M87.55 221.78L83.65 224.03" stroke="#000" stroke-width="1.2" stroke-linecap="round" fill="none"/>
<circle cx="85.6" cy="222.9" r="0.95" fill="#000"/>
<line x1="157.3" y1="215.26000000000002" x2="157.3" y2="305.1" stroke="#9a9a9a" stroke-width="1" />
<line x1="157.3" y1="305.1" x2="245" y2="305.1" stroke="#9a9a9a" stroke-width="1" />
<line x1="155.0" y1="305.1" x2="157.3" y2="305.1" stroke="#9a9a9a" stroke-width="1" />
<text x="150.4" y="308.34000000000003" font-size="9" font-weight="bold" text-anchor="end" fill="#000" stroke="#000" stroke-width="0.28" >0</text>
<line x1="155.0" y1="282.64000000000004" x2="157.3" y2="282.64000000000004" stroke="#9a9a9a" stroke-width="1" />
<text x="150.4" y="285.88000000000005" font-size="9" font-weight="bold" text-anchor="end" fill="#000" stroke="#000" stroke-width="0.28" >20</text>
<line x1="155.0" y1="260.18" x2="157.3" y2="260.18" stroke="#9a9a9a" stroke-width="1" />
<text x="150.4" y="263.42" font-size="9" font-weight="bold" text-anchor="end" fill="#000" stroke="#000" stroke-width="0.28" >40</text>
<line x1="155.0" y1="237.72000000000003" x2="157.3" y2="237.72000000000003" stroke="#9a9a9a" stroke-width="1" />
<text x="150.4" y="240.96000000000004" font-size="9" font-weight="bold" text-anchor="end" fill="#000" stroke="#000" stroke-width="0.28" >60</text>
<line x1="155.0" y1="215.26000000000002" x2="157.3" y2="215.26000000000002" stroke="#9a9a9a" stroke-width="1" />
<text x="150.4" y="218.50000000000003" font-size="9" font-weight="bold" text-anchor="end" fill="#000" stroke="#000" stroke-width="0.28" >80</text>
<line x1="187" y1="305.1" x2="187" y2="307.6" stroke="#9a9a9a" stroke-width="1" />
<line x1="216" y1="305.1" x2="216" y2="307.6" stroke="#9a9a9a" stroke-width="1" />
<line x1="245" y1="305.1" x2="245" y2="307.6" stroke="#9a9a9a" stroke-width="1" />
<line x1="166.8" y1="288.255" x2="166.8" y2="288.7042" stroke="#333" stroke-width="1" />
<line x1="165.20000000000002" y1="288.255" x2="168.4" y2="288.255" stroke="#333" stroke-width="1" />
<rect x="161.80" y="289.20" width="10.00" height="15.90" fill="#b9b9b9" stroke="#6e6e6e" stroke-width="1"/>
<line x1="177.8" y1="294.76840000000004" x2="177.8" y2="297.35130000000004" stroke="#333" stroke-width="1" />
<line x1="176.20000000000002" y1="294.76840000000004" x2="179.4" y2="294.76840000000004" stroke="#333" stroke-width="1" />
<rect x="172.30" y="297.35" width="11.00" height="7.75" fill="#000"/>
<text x="171.8" y="316.0" font-size="7.3" font-weight="bold" text-anchor="middle" stroke="#000" stroke-width="0.3">CD45<tspan font-size="5.84" dy="-0.6">+</tspan></text>
<text x="171.8" y="324.3" font-size="7.3" font-weight="bold" text-anchor="middle" stroke="#000" stroke-width="0.3">CD43<tspan font-size="5.84" dy="-0.6">-</tspan></text>
<line x1="195.8" y1="295.89140000000003" x2="195.8" y2="296.11600000000004" stroke="#333" stroke-width="1" />
<line x1="194.20000000000002" y1="295.89140000000003" x2="197.4" y2="295.89140000000003" stroke="#333" stroke-width="1" />
<rect x="190.80" y="296.62" width="10.00" height="8.48" fill="#b9b9b9" stroke="#6e6e6e" stroke-width="1"/>
<line x1="206.8" y1="217.0568" x2="206.8" y2="220.53810000000004" stroke="#333" stroke-width="1" />
<line x1="205.20000000000002" y1="217.0568" x2="208.4" y2="217.0568" stroke="#333" stroke-width="1" />
<rect x="201.30" y="220.54" width="11.00" height="84.56" fill="#000"/>
<text x="200.8" y="316.0" font-size="7.3" font-weight="bold" text-anchor="middle" stroke="#000" stroke-width="0.3">CD45<tspan font-size="5.84" dy="-0.6">+</tspan></text>
<text x="200.8" y="324.3" font-size="7.3" font-weight="bold" text-anchor="middle" stroke="#000" stroke-width="0.3">CD43<tspan font-size="5.84" dy="-0.6">+</tspan></text>
<line x1="224.8" y1="296.6775" x2="224.8" y2="297.0144" stroke="#333" stroke-width="1" />
<line x1="223.20000000000002" y1="296.6775" x2="226.4" y2="296.6775" stroke="#333" stroke-width="1" />
<rect x="219.80" y="297.51" width="10.00" height="7.59" fill="#b9b9b9" stroke="#6e6e6e" stroke-width="1"/>
<line x1="235.8" y1="291.84860000000003" x2="235.8" y2="292.5224" stroke="#333" stroke-width="1" />
<line x1="234.20000000000002" y1="291.84860000000003" x2="237.4" y2="291.84860000000003" stroke="#333" stroke-width="1" />
<rect x="230.30" y="292.52" width="11.00" height="12.58" fill="#000"/>
<text x="229.8" y="316.0" font-size="7.3" font-weight="bold" text-anchor="middle" stroke="#000" stroke-width="0.3">CD45<tspan font-size="5.84" dy="-0.6">-</tspan></text>
<text x="229.8" y="324.3" font-size="7.3" font-weight="bold" text-anchor="middle" stroke="#000" stroke-width="0.3">CD43<tspan font-size="5.84" dy="-0.6">+</tspan></text>
<path d="M179.70 216.75L179.70 221.25M177.75 217.88L181.65 220.12M181.65 217.88L177.75 220.12" stroke="#000" stroke-width="1.2" stroke-linecap="round" fill="none"/>
<circle cx="179.7" cy="219.0" r="0.95" fill="#000"/>
<path d="M186.50 216.75L186.50 221.25M184.55 217.88L188.45 220.12M188.45 217.88L184.55 220.12" stroke="#000" stroke-width="1.2" stroke-linecap="round" fill="none"/>
<circle cx="186.5" cy="219.0" r="0.95" fill="#000"/>
<rect x="367.70" y="200.70" width="8.60" height="8.00" fill="#b9b9b9" stroke="#555" stroke-width="1"/>
<text x="382.2" y="207.6" font-size="8.7" font-weight="bold" text-anchor="start" fill="#000" stroke="#000" stroke-width="0.28" >Vector</text>
<rect x="429.30" y="200.20" width="9.30" height="8.80" fill="#000"/>
<text x="443.5" y="207.6" font-size="8.7" font-weight="bold" text-anchor="start" fill="#000" stroke="#000" stroke-width="0.28" >RUNX1a</text>
<text transform="translate(273.0,261.8) rotate(-90)" font-size="11.3" font-weight="bold" text-anchor="middle" fill="#000" stroke="#000" stroke-width="0.28">EB Day 13</text>
<text transform="translate(288.6,262.4) rotate(-90)" font-size="8.8" font-weight="bold" text-anchor="middle" fill="#000" stroke="#000" stroke-width="0.28">% of Cells</text>
<line x1="277.5" y1="225.2" x2="277.5" y2="300" stroke="#000" stroke-width="1.6" />
<line x1="312.5" y1="216.02" x2="312.5" y2="305.3" stroke="#9a9a9a" stroke-width="1" />
<line x1="312.5" y1="305.3" x2="404" y2="305.3" stroke="#9a9a9a" stroke-width="1" />
<line x1="310.2" y1="305.3" x2="312.5" y2="305.3" stroke="#9a9a9a" stroke-width="1" />
<text x="305.6" y="308.54" font-size="9" font-weight="bold" text-anchor="end" fill="#000" stroke="#000" stroke-width="0.28" >0</text>
<line x1="310.2" y1="282.98" x2="312.5" y2="282.98" stroke="#9a9a9a" stroke-width="1" />
<text x="305.6" y="286.22" font-size="9" font-weight="bold" text-anchor="end" fill="#000" stroke="#000" stroke-width="0.28" >20</text>
<line x1="310.2" y1="260.66" x2="312.5" y2="260.66" stroke="#9a9a9a" stroke-width="1" />
<text x="305.6" y="263.90000000000003" font-size="9" font-weight="bold" text-anchor="end" fill="#000" stroke="#000" stroke-width="0.28" >40</text>
<line x1="310.2" y1="238.34" x2="312.5" y2="238.34" stroke="#9a9a9a" stroke-width="1" />
<text x="305.6" y="241.58" font-size="9" font-weight="bold" text-anchor="end" fill="#000" stroke="#000" stroke-width="0.28" >60</text>
<line x1="310.2" y1="216.02" x2="312.5" y2="216.02" stroke="#9a9a9a" stroke-width="1" />
<text x="305.6" y="219.26000000000002" font-size="9" font-weight="bold" text-anchor="end" fill="#000" stroke="#000" stroke-width="0.28" >80</text>
<line x1="343.5" y1="305.3" x2="343.5" y2="307.8" stroke="#9a9a9a" stroke-width="1" />
<line x1="373.5" y1="305.3" x2="373.5" y2="307.8" stroke="#9a9a9a" stroke-width="1" />
<line x1="404" y1="305.3" x2="404" y2="307.8" stroke="#9a9a9a" stroke-width="1" />
<line x1="322.79999999999995" y1="284.5424" x2="322.79999999999995" y2="292.3544" stroke="#333" stroke-width="1" />
<line x1="321.19999999999993" y1="284.5424" x2="324.4" y2="284.5424" stroke="#333" stroke-width="1" />
<rect x="317.40" y="292.85" width="10.80" height="12.45" fill="#b9b9b9" stroke="#6e6e6e" stroke-width="1"/>
<line x1="334.59999999999997" y1="297.488" x2="334.59999999999997" y2="297.7112" stroke="#333" stroke-width="1" />
<line x1="332.99999999999994" y1="297.488" x2="336.2" y2="297.488" stroke="#333" stroke-width="1" />
<rect x="328.70" y="297.71" width="11.80" height="7.59" fill="#000"/>
<text x="328.2" y="316.0" font-size="7.3" font-weight="bold" text-anchor="middle" stroke="#000" stroke-width="0.3">CD45<tspan font-size="5.84" dy="-0.6">+</tspan></text>
<text x="328.2" y="324.3" font-size="7.3" font-weight="bold" text-anchor="middle" stroke="#000" stroke-width="0.3">CD34<tspan font-size="5.84" dy="-0.6">-</tspan></text>
<line x1="352.9" y1="262.5572" x2="352.9" y2="271.1504" stroke="#333" stroke-width="1" />
<line x1="351.29999999999995" y1="262.5572" x2="354.5" y2="262.5572" stroke="#333" stroke-width="1" />
<rect x="347.50" y="271.65" width="10.80" height="33.65" fill="#b9b9b9" stroke="#6e6e6e" stroke-width="1"/>
<line x1="364.7" y1="225.39440000000002" x2="364.7" y2="225.8408" stroke="#333" stroke-width="1" />
<line x1="363.09999999999997" y1="225.39440000000002" x2="366.3" y2="225.39440000000002" stroke="#333" stroke-width="1" />
<rect x="358.80" y="225.84" width="11.80" height="79.46" fill="#000"/>
<text x="358.3" y="316.0" font-size="7.3" font-weight="bold" text-anchor="middle" stroke="#000" stroke-width="0.3">CD45<tspan font-size="5.84" dy="-0.6">+</tspan></text>
<text x="358.3" y="324.3" font-size="7.3" font-weight="bold" text-anchor="middle" stroke="#000" stroke-width="0.3">CD34<tspan font-size="5.84" dy="-0.6">+</tspan></text>
<line x1="383.4" y1="285.3236" x2="383.4" y2="289.4528" stroke="#333" stroke-width="1" />
<line x1="381.79999999999995" y1="285.3236" x2="385.0" y2="285.3236" stroke="#333" stroke-width="1" />
<rect x="378.00" y="289.95" width="10.80" height="15.35" fill="#b9b9b9" stroke="#6e6e6e" stroke-width="1"/>
<line x1="395.2" y1="289.4528" x2="395.2" y2="290.0108" stroke="#333" stroke-width="1" />
<line x1="393.59999999999997" y1="289.4528" x2="396.8" y2="289.4528" stroke="#333" stroke-width="1" />
<rect x="389.30" y="290.01" width="11.80" height="15.29" fill="#000"/>
<text x="388.8" y="316.0" font-size="7.3" font-weight="bold" text-anchor="middle" stroke="#000" stroke-width="0.3">CD45<tspan font-size="5.84" dy="-0.6">-</tspan></text>
<text x="388.8" y="324.3" font-size="7.3" font-weight="bold" text-anchor="middle" stroke="#000" stroke-width="0.3">CD34<tspan font-size="5.84" dy="-0.6">+</tspan></text>
<path d="M355.50 221.95L355.50 226.45M353.55 223.07L357.45 225.32M357.45 223.07L353.55 225.32" stroke="#000" stroke-width="1.2" stroke-linecap="round" fill="none"/>
<circle cx="355.5" cy="224.2" r="0.95" fill="#000"/>
<line x1="427.7" y1="216.08000000000004" x2="427.7" y2="305.6" stroke="#9a9a9a" stroke-width="1" />
<line x1="427.7" y1="305.6" x2="518" y2="305.6" stroke="#9a9a9a" stroke-width="1" />
<line x1="425.4" y1="305.6" x2="427.7" y2="305.6" stroke="#9a9a9a" stroke-width="1" />
<text x="420.8" y="308.84000000000003" font-size="9" font-weight="bold" text-anchor="end" fill="#000" stroke="#000" stroke-width="0.28" >0</text>
<line x1="425.4" y1="283.22" x2="427.7" y2="283.22" stroke="#9a9a9a" stroke-width="1" />
<text x="420.8" y="286.46000000000004" font-size="9" font-weight="bold" text-anchor="end" fill="#000" stroke="#000" stroke-width="0.28" >20</text>
<line x1="425.4" y1="260.84000000000003" x2="427.7" y2="260.84000000000003" stroke="#9a9a9a" stroke-width="1" />
<text x="420.8" y="264.08000000000004" font-size="9" font-weight="bold" text-anchor="end" fill="#000" stroke="#000" stroke-width="0.28" >40</text>
<line x1="425.4" y1="238.46000000000004" x2="427.7" y2="238.46000000000004" stroke="#9a9a9a" stroke-width="1" />
<text x="420.8" y="241.70000000000005" font-size="9" font-weight="bold" text-anchor="end" fill="#000" stroke="#000" stroke-width="0.28" >60</text>
<line x1="425.4" y1="216.08000000000004" x2="427.7" y2="216.08000000000004" stroke="#9a9a9a" stroke-width="1" />
<text x="420.8" y="219.32000000000005" font-size="9" font-weight="bold" text-anchor="end" fill="#000" stroke="#000" stroke-width="0.28" >80</text>
<line x1="456.5" y1="305.6" x2="456.5" y2="308.1" stroke="#9a9a9a" stroke-width="1" />
<line x1="486" y1="305.6" x2="486" y2="308.1" stroke="#9a9a9a" stroke-width="1" />
<line x1="518" y1="305.6" x2="518" y2="308.1" stroke="#9a9a9a" stroke-width="1" />
<line x1="436.4" y1="293.0672" x2="436.4" y2="293.51480000000004" stroke="#333" stroke-width="1" />
<line x1="434.79999999999995" y1="293.0672" x2="438.0" y2="293.0672" stroke="#333" stroke-width="1" />
<rect x="431.20" y="294.01" width="10.40" height="11.59" fill="#b9b9b9" stroke="#6e6e6e" stroke-width="1"/>
<line x1="447.8" y1="296.31230000000005" x2="447.8" y2="297.99080000000004" stroke="#333" stroke-width="1" />
<line x1="446.2" y1="296.31230000000005" x2="449.40000000000003" y2="296.31230000000005" stroke="#333" stroke-width="1" />
<rect x="442.10" y="297.99" width="11.40" height="7.61" fill="#000"/>
<text x="441.59999999999997" y="316.0" font-size="7.3" font-weight="bold" text-anchor="middle" stroke="#000" stroke-width="0.3">CD45<tspan font-size="5.84" dy="-0.6">+</tspan></text>
<text x="441.59999999999997" y="324.3" font-size="7.3" font-weight="bold" text-anchor="middle" stroke="#000" stroke-width="0.3">CD43<tspan font-size="5.84" dy="-0.6">-</tspan></text>
<line x1="465.2" y1="280.08680000000004" x2="465.2" y2="280.87010000000004" stroke="#333" stroke-width="1" />
<line x1="463.59999999999997" y1="280.08680000000004" x2="466.8" y2="280.08680000000004" stroke="#333" stroke-width="1" />
<rect x="460.00" y="281.37" width="10.40" height="24.23" fill="#b9b9b9" stroke="#6e6e6e" stroke-width="1"/>
<line x1="476.6" y1="217.42280000000002" x2="476.6" y2="222.4583" stroke="#333" stroke-width="1" />
<line x1="475.0" y1="217.42280000000002" x2="478.20000000000005" y2="217.42280000000002" stroke="#333" stroke-width="1" />
<rect x="470.90" y="222.46" width="11.40" height="83.14" fill="#000"/>
<text x="470.4" y="316.0" font-size="7.3" font-weight="bold" text-anchor="middle" stroke="#000" stroke-width="0.3">CD45<tspan font-size="5.84" dy="-0.6">+</tspan></text>
<text x="470.4" y="324.3" font-size="7.3" font-weight="bold" text-anchor="middle" stroke="#000" stroke-width="0.3">CD43<tspan font-size="5.84" dy="-0.6">+</tspan></text>
<line x1="494.09999999999997" y1="281.65340000000003" x2="494.09999999999997" y2="282.32480000000004" stroke="#333" stroke-width="1" />
<line x1="492.49999999999994" y1="281.65340000000003" x2="495.7" y2="281.65340000000003" stroke="#333" stroke-width="1" />
<rect x="488.90" y="282.82" width="10.40" height="22.78" fill="#b9b9b9" stroke="#6e6e6e" stroke-width="1"/>
<line x1="505.5" y1="287.36030000000005" x2="505.5" y2="290.8292" stroke="#333" stroke-width="1" />
<line x1="503.9" y1="287.36030000000005" x2="507.1" y2="287.36030000000005" stroke="#333" stroke-width="1" />
<rect x="499.80" y="290.83" width="11.40" height="14.77" fill="#000"/>
<text x="499.29999999999995" y="316.0" font-size="7.3" font-weight="bold" text-anchor="middle" stroke="#000" stroke-width="0.3">CD45<tspan font-size="5.84" dy="-0.6">-</tspan></text>
<text x="499.29999999999995" y="324.3" font-size="7.3" font-weight="bold" text-anchor="middle" stroke="#000" stroke-width="0.3">CD43<tspan font-size="5.84" dy="-0.6">+</tspan></text>
<path d="M463.80 216.65L463.80 221.15M461.85 217.78L465.75 220.03M465.75 217.78L461.85 220.03" stroke="#000" stroke-width="1.2" stroke-linecap="round" fill="none"/>
<circle cx="463.8" cy="218.9" r="0.95" fill="#000"/>
<path d="M470.40 216.65L470.40 221.15M468.45 217.78L472.35 220.03M472.35 217.78L468.45 220.03" stroke="#000" stroke-width="1.2" stroke-linecap="round" fill="none"/>
<circle cx="470.4" cy="218.9" r="0.95" fill="#000"/>
</svg>
</body></html>
